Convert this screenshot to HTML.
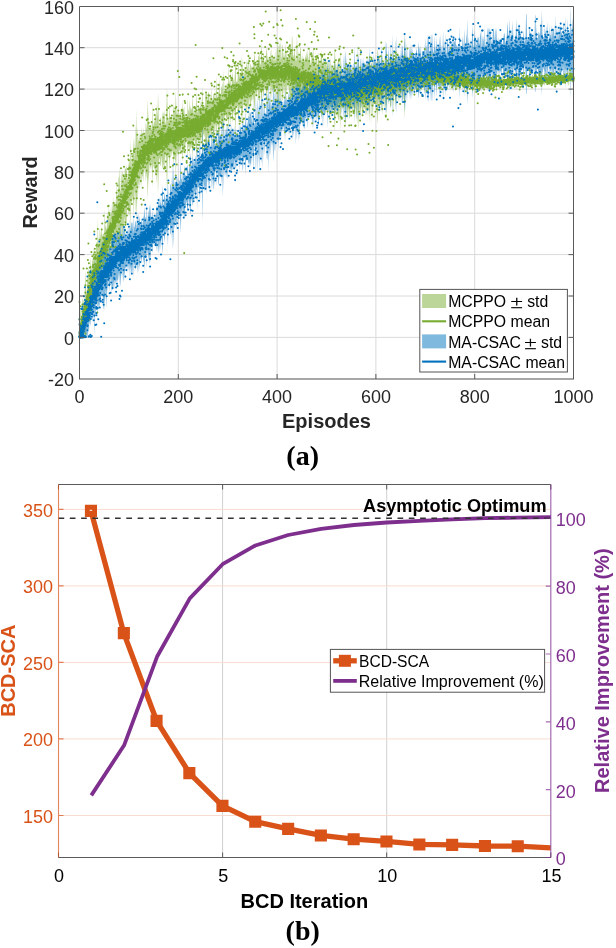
<!DOCTYPE html>
<html lang="en"><head><meta charset="utf-8"><title>Figure</title>
<style>html,body{margin:0;padding:0;background:#fff}body{width:616px;height:948px;overflow:hidden}svg{display:block}</style></head>
<body>
<svg width="616" height="948" viewBox="0 0 616 948" font-family="'Liberation Sans', Arial, Helvetica, sans-serif">
<rect width="616" height="948" fill="#fff"/>
<g id="chart-a">
<path d="M79.5,337.4H573.5M79.5,296H573.5M79.5,254.6H573.5M79.5,213.2H573.5M79.5,171.9H573.5M79.5,130.5H573.5M79.5,89.1H573.5M79.5,47.7H573.5M178.3,6.3V378.8M277.1,6.3V378.8M375.9,6.3V378.8M474.7,6.3V378.8" stroke="#dadada" stroke-width="1" fill="none"/>
<clipPath id="ca"><rect x="79.5" y="6.3" width="494.0" height="372.5"/></clipPath>
<g clip-path="url(#ca)">
<path d="M79.5,329.1 80,320.1 80.5,307.9 81,301 81.5,317.9 82,315.3 82.5,297.9 83,299.1 83.5,303.5 83.9,298.9 84.4,303.4 84.9,284.1 85.4,270.6 85.9,287.5 86.4,293.6 86.9,290.9 87.4,272.9 87.9,277.2 88.4,272 88.9,266.3 89.4,278.1 89.9,270.1 90.4,256.7 90.9,271 91.4,268.5 91.8,267.4 92.3,257.9 92.8,261.3 93.3,261.3 93.8,248.3 94.3,250.7 94.8,256.4 95.3,254.6 95.8,251.1 96.3,243.3 96.8,242 97.3,243.7 97.8,218.4 98.3,247.3 98.8,236.8 99.3,242.1 99.8,227.8 100.2,232 100.7,239.5 101.2,226.3 101.7,232 102.2,237.4 102.7,234.4 103.2,233.5 103.7,233.9 104.2,233.6 104.7,208.9 105.2,228.5 105.7,224 106.2,229.7 106.7,228 107.2,223.1 107.7,211.7 108.2,215.7 108.6,205.2 109.1,220.4 109.6,214.2 110.1,206.4 110.6,219.2 111.1,213.7 111.6,211 112.1,201 112.6,211.6 113.1,196.2 113.6,205.8 114.1,202.6 114.6,204.4 115.1,198.5 115.6,206.5 116.1,201 116.5,180.3 117,203 117.5,188.5 118,201.2 118.5,176.6 119,178.2 119.5,166.9 120,189.2 120.5,192.4 121,168.9 121.5,177.1 122,188.4 122.5,169.2 123,175.3 123.5,178.5 124,179.6 124.5,182.6 124.9,165.4 125.4,168.7 125.9,169.1 126.4,164.2 126.9,174.7 127.4,179.2 127.9,177.4 128.4,167.8 128.9,161.2 129.4,159.5 129.9,165 130.4,137.5 130.9,169.3 131.4,160.1 131.9,155.8 132.4,158.3 132.9,158.9 133.3,136.7 133.8,146.9 134.3,159.5 134.8,137.9 135.3,152.1 135.8,123.9 136.3,137.2 136.8,108 137.3,147.3 137.8,126.7 138.3,139 138.8,142.5 139.3,131.6 139.8,143.3 140.3,130.8 140.8,143.8 141.2,139.9 141.7,126.1 142.2,136.5 142.7,134.6 143.2,127.3 143.7,138.3 144.2,138.6 144.7,134.9 145.2,137.9 145.7,121.6 146.2,130.7 146.7,124.6 147.2,121.2 147.7,99 148.2,114.8 148.7,121 149.2,124.6 149.6,133.5 150.1,126.3 150.6,128.5 151.1,121.8 151.6,130.4 152.1,127.3 152.6,103.2 153.1,129.4 153.6,124.1 154.1,120.7 154.6,123.3 155.1,115.1 155.6,113.2 156.1,124.5 156.6,103.8 157.1,111.4 157.6,117.8 158,91.8 158.5,106.8 159,126.9 159.5,126.1 160,122.1 160.5,117.9 161,117.1 161.5,127 162,120.7 162.5,114.1 163,111.9 163.5,117.6 164,109.4 164.5,113.6 165,122.5 165.5,124.5 165.9,118.9 166.4,86.6 166.9,124.6 167.4,87.4 167.9,122.6 168.4,120.4 168.9,117.6 169.4,103.2 169.9,118 170.4,115.8 170.9,123.4 171.4,118.7 171.9,116 172.4,121.6 172.9,118.5 173.4,101.4 173.9,115.9 174.3,112.1 174.8,108.9 175.3,109.6 175.8,90.6 176.3,106.9 176.8,115.1 177.3,111.2 177.8,114.7 178.3,109.9 178.8,118.1 179.3,115.1 179.8,112.5 180.3,116.4 180.8,108.4 181.3,117.8 181.8,119.5 182.3,99.7 182.7,109.2 183.2,108.3 183.7,110.3 184.2,105.6 184.7,114.7 185.2,114.4 185.7,117.1 186.2,117.2 186.7,117.3 187.2,117.5 187.7,96.6 188.2,112.2 188.7,108.7 189.2,112 189.7,99.6 190.2,111.3 190.7,105.4 191.1,108.3 191.6,109.7 192.1,108 192.6,94.8 193.1,105.9 193.6,111.7 194.1,114.6 194.6,112.5 195.1,106 195.6,108.6 196.1,102.4 196.6,90.7 197.1,113.1 197.6,111.3 198.1,103.7 198.6,110 199,107 199.5,107.7 200,107.5 200.5,105.9 201,98.5 201.5,107 202,109.2 202.5,85 203,108 203.5,109 204,105 204.5,105.3 205,108.5 205.5,91.8 206,95 206.5,91.9 207,93.3 207.4,103.3 207.9,98 208.4,92.1 208.9,92.2 209.4,104.7 209.9,94.4 210.4,95.5 210.9,105 211.4,86.6 211.9,102.3 212.4,101.1 212.9,99.1 213.4,94.7 213.9,93.5 214.4,93.4 214.9,101.9 215.4,100 215.8,93.2 216.3,75 216.8,96.3 217.3,97.7 217.8,93.9 218.3,90.8 218.8,94.7 219.3,76.7 219.8,92.5 220.3,94.2 220.8,97 221.3,86.7 221.8,86.9 222.3,81.7 222.8,89.1 223.3,93.3 223.7,69.1 224.2,84.2 224.7,92.2 225.2,90.2 225.7,91.7 226.2,88.2 226.7,84.5 227.2,82.1 227.7,86.4 228.2,82.1 228.7,63.9 229.2,80.7 229.7,82.5 230.2,86.8 230.7,66.3 231.2,87 231.7,86.9 232.1,77.6 232.6,71.2 233.1,79 233.6,82.3 234.1,75.9 234.6,85 235.1,63 235.6,60.5 236.1,82.5 236.6,81.3 237.1,82.2 237.6,79.2 238.1,66.2 238.6,62.2 239.1,78.1 239.6,74.5 240.1,75.6 240.5,73 241,76.1 241.5,54.3 242,76.3 242.5,57.4 243,71.3 243.5,78 244,70.5 244.5,75.5 245,66.9 245.5,70.5 246,75 246.5,59.4 247,66.3 247.5,69.6 248,58.2 248.4,73.1 248.9,48.6 249.4,73.2 249.9,69.8 250.4,64 250.9,64.2 251.4,68.2 251.9,66.3 252.4,72 252.9,62.9 253.4,68.1 253.9,59.8 254.4,52.7 254.9,57.5 255.4,65.4 255.9,68.8 256.4,65.3 256.8,61 257.3,66.7 257.8,67.5 258.3,56.3 258.8,55.9 259.3,52.2 259.8,59.3 260.3,65.3 260.8,64.2 261.3,41 261.8,54.5 262.3,61.6 262.8,63.6 263.3,54.5 263.8,55.7 264.3,64.6 264.8,60.8 265.2,59.9 265.7,62.9 266.2,51.6 266.7,47.7 267.2,54.4 267.7,60 268.2,58 268.7,60.2 269.2,62.8 269.7,59 270.2,62.2 270.7,51.6 271.2,48.6 271.7,61.6 272.2,54 272.7,56 273.1,61.3 273.6,57.2 274.1,56.3 274.6,62.5 275.1,48.3 275.6,61.6 276.1,59.3 276.6,58 277.1,43.3 277.6,50.6 278.1,41.1 278.6,56.4 279.1,42.8 279.6,45.7 280.1,62 280.6,40.8 281.1,45.4 281.5,59 282,56.4 282.5,43.8 283,46.7 283.5,61.6 284,50.7 284.5,56 285,60.2 285.5,43.6 286,50.1 286.5,54.1 287,60.7 287.5,60.3 288,56.5 288.5,61.5 289,53.2 289.4,55.5 289.9,48.4 290.4,44.3 290.9,47.3 291.4,53.5 291.9,35.9 292.4,37.4 292.9,51.5 293.4,57.5 293.9,55.2 294.4,46 294.9,54.2 295.4,56.2 295.9,61.2 296.4,59.7 296.9,35 297.4,48 297.8,58.8 298.3,49.9 298.8,60.2 299.3,56.2 299.8,57.2 300.3,46.7 300.8,48.2 301.3,59 301.8,61.3 302.3,54.1 302.8,64 303.3,56.4 303.8,59.3 304.3,61.4 304.8,59.6 305.3,54.8 305.8,57.6 306.2,58 306.7,50.8 307.2,58.1 307.7,48.7 308.2,59.2 308.7,60.3 309.2,45.4 309.7,53.4 310.2,66.4 310.7,61.2 311.2,63.7 311.7,53.1 312.2,55.1 312.7,53.3 313.2,46.3 313.7,58.6 314.1,63.2 314.6,57.2 315.1,68.9 315.6,56.9 316.1,60.9 316.6,54.6 317.1,63.9 317.6,65.6 318.1,51.8 318.6,56.6 319.1,61.7 319.6,63.5 320.1,65.4 320.6,61.2 321.1,50.3 321.6,57.2 322.1,59.1 322.5,71.6 323,57.6 323.5,62.8 324,68.4 324.5,59.7 325,63.2 325.5,57.8 326,58.3 326.5,64.2 327,68.2 327.5,66.9 328,61.5 328.5,60.8 329,70.6 329.5,71.1 330,56.6 330.5,62.1 330.9,75.4 331.4,63.3 331.9,73.8 332.4,66.2 332.9,70.8 333.4,64.2 333.9,69.2 334.4,56.3 334.9,46.4 335.4,63.6 335.9,65.3 336.4,71.8 336.9,72.2 337.4,61 337.9,66.2 338.4,58.9 338.9,61.9 339.3,59.2 339.8,76.3 340.3,50.3 340.8,66.7 341.3,73.4 341.8,76.8 342.3,74.3 342.8,72.8 343.3,77.8 343.8,75.6 344.3,77 344.8,77.5 345.3,73.5 345.8,55.7 346.3,78.3 346.8,75.1 347.2,64 347.7,66 348.2,67.1 348.7,77.8 349.2,64.9 349.7,65.8 350.2,66.1 350.7,78.4 351.2,72.6 351.7,76.7 352.2,75.2 352.7,70 353.2,69.3 353.7,78 354.2,73.7 354.7,68.4 355.2,76.3 355.6,74.7 356.1,64.7 356.6,71.3 357.1,60.3 357.6,77.4 358.1,79.1 358.6,53.3 359.1,63.8 359.6,78.6 360.1,63.5 360.6,69.9 361.1,75.1 361.6,79.2 362.1,65.5 362.6,66.4 363.1,69.3 363.5,73.5 364,73.9 364.5,71.4 365,73.4 365.5,66.9 366,64 366.5,66.4 367,70.9 367.5,74 368,59.8 368.5,71.4 369,69.4 369.5,53.8 370,72 370.5,75.9 371,52.9 371.5,66.7 371.9,76.7 372.4,64.4 372.9,56.2 373.4,71.2 373.9,75.9 374.4,74.1 374.9,72.2 375.4,75.1 375.9,61.7 376.4,61.4 376.9,71 377.4,48.5 377.9,52.3 378.4,69.1 378.9,73.8 379.4,55.3 379.9,68.7 380.3,64.7 380.8,70 381.3,73.8 381.8,59 382.3,54.3 382.8,71.3 383.3,66.1 383.8,61.7 384.3,58 384.8,71.5 385.3,64.2 385.8,57.1 386.3,68 386.8,49.4 387.3,66.1 387.8,72 388.2,65.3 388.7,62.1 389.2,63.1 389.7,63 390.2,56.5 390.7,56.2 391.2,55.9 391.7,66.3 392.2,61.2 392.7,61.1 393.2,66.8 393.7,47.1 394.2,68.6 394.7,65.1 395.2,59.1 395.7,53.4 396.2,67 396.6,53.5 397.1,58.7 397.6,62.1 398.1,66.5 398.6,52.7 399.1,68.4 399.6,54.8 400.1,62 400.6,60.8 401.1,66.5 401.6,65.4 402.1,69 402.6,65.7 403.1,53.3 403.6,61 404.1,50.8 404.6,34.9 405,56.9 405.5,69.4 406,55.3 406.5,68.4 407,61 407.5,67.6 408,67.5 408.5,67.1 409,59.3 409.5,63.4 410,64.6 410.5,67.7 411,68.8 411.5,65.6 412,62.7 412.5,60.9 413,64.5 413.4,62.5 413.9,68.2 414.4,58.4 414.9,59.1 415.4,65.8 415.9,62.2 416.4,63.6 416.9,59.7 417.4,64 417.9,59.6 418.4,61 418.9,57.9 419.4,61.7 419.9,68 420.4,65.2 420.9,66.3 421.3,64.1 421.8,58.7 422.3,66 422.8,62.3 423.3,62.4 423.8,62.6 424.3,55.4 424.8,67.6 425.3,63.9 425.8,64.9 426.3,65.4 426.8,64.4 427.3,67.5 427.8,63.3 428.3,61.9 428.8,64.1 429.3,63.6 429.7,67.3 430.2,57 430.7,64.7 431.2,68.2 431.7,68.7 432.2,66 432.7,62.4 433.2,69.8 433.7,66.4 434.2,67.5 434.7,68.2 435.2,68.1 435.7,68.2 436.2,68.4 436.7,66.1 437.2,69.3 437.6,68.4 438.1,69.5 438.6,66.6 439.1,69.2 439.6,70 440.1,70.3 440.6,68 441.1,68.5 441.6,64.8 442.1,70 442.6,71.4 443.1,66.6 443.6,70.5 444.1,71.6 444.6,66.3 445.1,70.5 445.6,72.3 446,73.3 446.5,70.6 447,72 447.5,71.1 448,73.7 448.5,69.9 449,72.5 449.5,73 450,65 450.5,73.2 451,69.6 451.5,72.6 452,72.9 452.5,71.1 453,70.5 453.5,74.3 454,73 454.4,72.4 454.9,72.5 455.4,71.2 455.9,69.9 456.4,70.9 456.9,71.6 457.4,70.1 457.9,74.3 458.4,69.7 458.9,74.6 459.4,73.7 459.9,74.9 460.4,73.9 460.9,74.2 461.4,74.3 461.9,76.2 462.4,76.4 462.8,74.3 463.3,76.6 463.8,75.2 464.3,74.4 464.8,73.5 465.3,76.4 465.8,75 466.3,77 466.8,75 467.3,64.6 467.8,74.3 468.3,76 468.8,77.2 469.3,77.9 469.8,78.5 470.3,76.9 470.7,76.6 471.2,78.7 471.7,73.5 472.2,79.1 472.7,72.5 473.2,76.8 473.7,75.4 474.2,76.7 474.7,77.9 475.2,79.7 475.7,77.6 476.2,77.8 476.7,78.7 477.2,80.1 477.7,74.9 478.2,78.6 478.7,79.1 479.1,78 479.6,79 480.1,75.7 480.6,75.8 481.1,79.6 481.6,77.6 482.1,80.1 482.6,76.2 483.1,79.8 483.6,75.8 484.1,78.5 484.6,77.7 485.1,77.2 485.6,79.1 486.1,78 486.6,79.3 487,76.1 487.5,78.4 488,79.7 488.5,78.1 489,76.3 489.5,75.6 490,77 490.5,75.2 491,76 491.5,75.8 492,79.9 492.5,75.7 493,76.2 493.5,78.5 494,77.7 494.5,76.1 495,78.6 495.4,79.6 495.9,76.4 496.4,75.2 496.9,76.2 497.4,79.2 497.9,79.5 498.4,79.7 498.9,78.9 499.4,74.6 499.9,77.4 500.4,75.6 500.9,75.8 501.4,78.3 501.9,76.7 502.4,75.7 502.9,79.5 503.4,79.5 503.8,75.9 504.3,77.2 504.8,79.1 505.3,79.1 505.8,79.1 506.3,79.1 506.8,79.1 507.3,77.3 507.8,75.6 508.3,76 508.8,76.5 509.3,76.3 509.8,73.8 510.3,78.8 510.8,79.2 511.3,74.8 511.8,75.2 512.2,78.5 512.7,76.6 513.2,77.6 513.7,77.2 514.2,77.2 514.7,74 515.2,78.4 515.7,77.8 516.2,77.2 516.7,76.1 517.2,77.6 517.7,77.7 518.2,77.6 518.7,76.7 519.2,78.6 519.7,76 520.1,78.7 520.6,77.7 521.1,74.8 521.6,75.3 522.1,77.2 522.6,76.3 523.1,74.7 523.6,76.8 524.1,78 524.6,77.3 525.1,78.4 525.6,76.7 526.1,76 526.6,76.7 527.1,76.7 527.6,74.7 528.1,78 528.5,77 529,74.1 529.5,75.4 530,77.3 530.5,76.1 531,76.8 531.5,76.2 532,75.3 532.5,74.4 533,75.3 533.5,77.6 534,75.8 534.5,77.7 535,73.4 535.5,77 536,74.1 536.5,77.8 536.9,76.1 537.4,77.9 537.9,74.8 538.4,77.8 538.9,76.7 539.4,77.4 539.9,76.4 540.4,74.8 540.9,75.6 541.4,77.2 541.9,76.6 542.4,74.4 542.9,76.5 543.4,74.4 543.9,76.8 544.4,75.1 544.8,73.1 545.3,77.2 545.8,75.6 546.3,75.3 546.8,74.7 547.3,76.7 547.8,76.7 548.3,75.5 548.8,74.7 549.3,73.8 549.8,75.4 550.3,76.4 550.8,76.4 551.3,77.3 551.8,77 552.3,74 552.8,74.7 553.2,75.6 553.7,76.7 554.2,77 554.7,75.9 555.2,75.6 555.7,76.9 556.2,76.1 556.7,76.5 557.2,75.4 557.7,76.6 558.2,74.9 558.7,75.7 559.2,72.1 559.7,73.7 560.2,71.1 560.7,75.4 561.1,76.6 561.6,76.4 562.1,74.5 562.6,76.2 563.1,76.4 563.6,75 564.1,75 564.6,74.2 565.1,74.7 565.6,75.1 566.1,75.3 566.6,76.5 567.1,74.7 567.6,76.3 568.1,74.9 568.6,70.6 569.1,71.9 569.5,76.2 570,76 570.5,75.6 571,74.7 571.5,75.1 572,74.5 572.5,74.6 573,74.9 573.5,75.7 573.5,80.6 573,81.4 572.5,81.8 572,81.9 571.5,81.4 571,81.8 570.5,80.9 570,80.7 569.5,80.5 569.1,84.8 568.6,86.2 568.1,81.9 567.6,80.6 567.1,82.3 566.6,80.6 566.1,81.8 565.6,82 565.1,82.5 564.6,83.1 564.1,82.3 563.6,82.3 563.1,81 562.6,81.3 562.1,83 561.6,81.2 561.1,81.1 560.7,82.3 560.2,86.7 559.7,84.2 559.2,85.8 558.7,82.2 558.2,83.1 557.7,81.5 557.2,82.7 556.7,81.6 556.2,82.1 555.7,81.4 555.2,82.8 554.7,82.5 554.2,81.5 553.7,81.9 553.2,82.9 552.8,83.9 552.3,84.7 551.8,81.7 551.3,81.5 550.8,82.5 550.3,82.5 549.8,83.6 549.3,85.3 548.8,84.4 548.3,83.6 547.8,82.5 547.3,82.5 546.8,84.6 546.3,84.1 545.8,83.8 545.3,82.3 544.8,86.4 544.4,84.5 543.9,82.8 543.4,85.3 542.9,83.3 542.4,85.5 541.9,83.3 541.4,82.8 540.9,84.4 540.4,85.3 539.9,83.7 539.4,82.8 538.9,83.6 538.4,82.5 537.9,85.5 537.4,82.5 536.9,84.3 536.5,82.7 536,86.5 535.5,83.7 535,87.3 534.5,83.1 534,85 533.5,83.3 533,85.6 532.5,86.6 532,85.7 531.5,84.9 531,84.4 530.5,85.1 530,84 529.5,85.9 529,87.3 528.5,84.5 528.1,83.5 527.6,86.9 527.1,85 526.6,85 526.1,85.8 525.6,85.1 525.1,83.4 524.6,84.6 524.1,83.9 523.6,85.1 523.1,87.3 522.6,85.8 522.1,84.9 521.6,86.9 521.1,87.5 520.6,84.6 520.1,83.6 519.7,86.4 519.2,83.9 518.7,85.8 518.2,85 517.7,84.9 517.2,85.1 516.7,86.6 516.2,85.5 515.7,85.1 515.2,84.5 514.7,88.9 514.2,85.8 513.7,85.8 513.2,85.5 512.7,86.5 512.2,84.6 511.8,88 511.3,88.5 510.8,84.2 510.3,84.6 509.8,89.7 509.3,87.3 508.8,87 508.3,87.6 507.8,88.1 507.3,86.4 506.8,84.7 506.3,84.7 505.8,84.7 505.3,84.8 504.8,84.8 504.3,86.8 503.8,88.2 503.4,84.6 502.9,84.7 502.4,88.5 501.9,87.5 501.4,86 500.9,88.6 500.4,88.8 499.9,87.1 499.4,89.9 498.9,85.6 498.4,84.9 497.9,85.2 497.4,85.5 496.9,88.6 496.4,89.6 495.9,88.4 495.4,85.3 495,86.4 494.5,88.9 494,87.4 493.5,86.6 493,89 492.5,89.5 492,85.3 491.5,89.5 491,89.3 490.5,90.2 490,88.4 489.5,89.9 489,89.3 488.5,87.5 488,85.9 487.5,87.3 487,89.6 486.6,86.5 486.1,87.9 485.6,86.8 485.1,88.7 484.6,88.2 484.1,87.6 483.6,90.2 483.1,86.4 482.6,90 482.1,86.2 481.6,88.7 481.1,86.7 480.6,90.5 480.1,90.6 479.6,87.4 479.1,88.4 478.7,87.2 478.2,87.6 477.7,91.2 477.2,85.9 476.7,87.2 476.2,88 475.7,88 475.2,85.7 474.7,87.3 474.2,88.4 473.7,89.5 473.2,87.9 472.7,92.1 472.2,85.3 471.7,90.7 471.2,85.3 470.7,87.3 470.3,86.9 469.8,85.1 469.3,85.5 468.8,86.1 468.3,87.1 467.8,88.6 467.3,98.1 466.8,87.6 466.3,85.4 465.8,87.2 465.3,85.7 464.8,88.4 464.3,87.4 463.8,86.4 463.3,84.8 462.8,87 462.4,84.7 461.9,84.7 461.4,86.5 460.9,86.4 460.4,86.6 459.9,85.4 459.4,86.4 458.9,85.3 458.4,90.1 457.9,85.3 457.4,89.4 456.9,87.7 456.4,88.2 455.9,89 455.4,87.6 454.9,86.1 454.4,86 454,85.3 453.5,83.9 453,87.5 452.5,86.7 452,84.7 451.5,84.8 451,87.6 450.5,83.9 450,91.9 449.5,83.7 449,84 448.5,86.4 448,82.4 447.5,84.8 447,83.7 446.5,84.9 446,82.1 445.6,82.9 445.1,84.4 444.6,88.5 444.1,83 443.6,83.9 443.1,87.6 442.6,82.6 442.1,83.8 441.6,88.8 441.1,84.9 440.6,85.2 440.1,82.7 439.6,82.8 439.1,83.4 438.6,85.9 438.1,82.7 437.6,83.7 437.2,82.5 436.7,85.6 436.2,83.1 435.7,83.1 435.2,83 434.7,82.8 434.2,83.2 433.7,84.1 433.2,80.6 432.7,87.8 432.2,84 431.7,81.1 431.2,81.4 430.7,84.8 430.2,92.4 429.7,82.1 429.3,85.8 428.8,85.4 428.3,87.6 427.8,86.3 427.3,82.2 426.8,85.4 426.3,84.5 425.8,85 425.3,86.1 424.8,82.5 424.3,94.8 423.8,87.6 423.3,87.9 422.8,88.1 422.3,84.4 421.8,91.8 421.3,86.5 420.9,84.4 420.4,85.6 419.9,82.9 419.4,89.3 418.9,93.1 418.4,90.2 417.9,91.6 417.4,87.3 416.9,91.8 416.4,88 415.9,89.5 415.4,86.1 414.9,93 414.4,93.8 413.9,84.1 413.4,90.1 413,88.2 412.5,91.9 412,90.3 411.5,87.5 411,84.6 410.5,85.8 410,89 409.5,90.4 409,94.7 408.5,87 408,86.8 407.5,86.9 407,93.6 406.5,86.3 406,99.6 405.5,85.7 405,98.4 404.6,120.5 404.1,104.7 403.6,94.7 403.1,102.6 402.6,90.3 402.1,87.2 401.6,91 401.1,90 400.6,95.8 400.1,94.8 399.6,102.2 399.1,88.8 398.6,104.8 398.1,91.2 397.6,95.8 397.1,99.6 396.6,105.1 396.2,91.9 395.7,105.9 395.2,100.5 394.7,94.9 394.2,91.8 393.7,113.6 393.2,94.3 392.7,100.3 392.2,100.6 391.7,95.9 391.2,106.6 390.7,106.7 390.2,106.8 389.7,100.6 389.2,100.9 388.7,102.2 388.2,99.4 387.8,93.1 387.3,99.3 386.8,116.3 386.3,98.2 385.8,109.4 385.3,102.6 384.8,95.7 384.3,109.6 383.8,106.3 383.3,102.2 382.8,97.4 382.3,114.7 381.8,110.4 381.3,95.9 380.8,100.1 380.3,105.8 379.9,102.1 379.4,115.9 378.9,97.8 378.4,102.8 377.9,119.9 377.4,124.1 376.9,101.9 376.4,111.8 375.9,111.8 375.4,98.7 374.9,101.9 374.4,100.3 373.9,98.8 373.4,103.8 372.9,119.2 372.4,111.2 371.9,99.3 371.5,109.6 371,123.7 370.5,101 370,105.3 369.5,123.7 369,108.5 368.5,106.7 368,118.7 367.5,104.8 367,108.2 366.5,113 366,115.7 365.5,113.1 365,106.9 364.5,109.3 364,107 363.5,107.8 363.1,112.3 362.6,115.5 362.1,116.7 361.6,103.3 361.1,107.7 360.6,113.2 360.1,119.9 359.6,105 359.1,120 358.6,130.6 358.1,105 357.6,106.7 357.1,123.9 356.6,112.8 356.1,119.4 355.6,109.3 355.2,107.6 354.7,115.5 354.2,110.2 353.7,105.8 353.2,114.4 352.7,113.7 352.2,108.4 351.7,106.8 351.2,110.8 350.7,105 350.2,117.3 349.7,117.5 349.2,118.4 348.7,105.4 348.2,116.1 347.7,117.1 347.2,119 346.8,107.8 346.3,104.6 345.8,127.2 345.3,109.2 344.8,105.2 344.3,105.7 343.8,106.9 343.3,104.7 342.8,109.6 342.3,108 341.8,105.4 341.3,108.6 340.8,115.1 340.3,131.3 339.8,105 339.3,121.8 338.9,118.8 338.4,121.5 337.9,113.8 337.4,118.7 336.9,107.1 336.4,107.2 335.9,113.4 335.4,114.7 334.9,131.7 334.4,121.4 333.9,108.2 333.4,112.9 332.9,105.9 332.4,110.2 331.9,102.3 331.4,112.5 330.9,100 330.5,113 330,118.2 329.5,103.4 329,103.6 328.5,113 328,112 327.5,106.3 327,104.5 326.5,108.2 326,113.8 325.5,113.8 325,108.1 324.5,111.1 324,102.1 323.5,107.3 323,112.1 322.5,97.7 322.1,109.8 321.6,111.3 321.1,117.8 320.6,106.5 320.1,101.9 319.6,103.4 319.1,104.8 318.6,109.5 318.1,113.9 317.6,99.8 317.1,101 316.6,109.9 316.1,103.3 315.6,106.8 315.1,94.5 314.6,105.8 314.1,99.4 313.7,103.7 313.2,115.6 312.7,108.2 312.2,106.1 311.7,107.7 311.2,96.7 310.7,98.8 310.2,93.2 309.7,105.8 309.2,113.5 308.7,98.1 308.2,98.9 307.7,109 307.2,99.3 306.7,106.3 306.2,98.7 305.8,98.8 305.3,101.2 304.8,96.2 304.3,94.1 303.8,95.8 303.3,98.5 302.8,90.5 302.3,100.1 301.8,92.6 301.3,94.6 300.8,105.1 300.3,106.3 299.8,95.5 299.3,96.1 298.8,91.8 298.3,101.8 297.8,92.6 297.4,103.1 296.9,115.7 296.4,90.8 295.9,89 295.4,93.7 294.9,95.4 294.4,103.3 293.9,93.8 293.4,91.2 292.9,96.9 292.4,110.7 291.9,111.9 291.4,94.1 290.9,99.9 290.4,102.6 289.9,98.2 289.4,90.8 289,93 288.5,84.5 288,89.3 287.5,85.4 287,84.9 286.5,91.5 286,95.4 285.5,101.9 285,85.4 284.5,89.6 284,95 283.5,84.1 283,98.9 282.5,101.9 282,89.3 281.5,86.7 281.1,100.4 280.6,105 280.1,83.8 279.6,100.1 279.1,103.1 278.6,89.5 278.1,104.8 277.6,95.4 277.1,102.8 276.6,88.1 276.1,87 275.6,84.7 275.1,98.1 274.6,83.9 274.1,90.3 273.6,89.5 273.1,85.4 272.7,90.9 272.2,92.9 271.7,85.4 271.2,98.5 270.7,95.6 270.2,85 269.7,88.4 269.2,84.7 268.7,87.6 268.2,90 267.7,88.3 267.2,94.2 266.7,101.2 266.2,97.8 265.7,86.8 265.2,90.2 264.8,89.7 264.3,86.3 263.8,95.6 263.3,97.3 262.8,88.5 262.3,90.9 261.8,98.5 261.3,112.3 260.8,89.5 260.3,88.9 259.8,95.3 259.3,103 258.8,99.9 258.3,100.1 257.8,89.6 257.3,91.1 256.8,97.6 256.4,94.1 255.9,91.5 255.4,95.7 254.9,104.4 254.4,110.1 253.9,103.8 253.4,96.4 252.9,102.3 252.4,94.1 251.9,100.6 251.4,99.6 250.9,104.5 250.4,105.4 249.9,100.4 249.4,97.8 248.9,123.1 248.4,99.3 248,114.9 247.5,104.2 247,108.2 246.5,115.7 246,100.7 245.5,105.8 245,110.1 244.5,102.1 244,107.7 243.5,100.8 243,108.2 242.5,122.7 242,104.5 241.5,127.1 241,106 240.5,109.6 240.1,107.8 239.6,109.5 239.1,106.5 238.6,123.2 238.1,119.9 237.6,107.6 237.1,105.4 236.6,107 236.1,106.5 235.6,129.2 235.1,127.4 234.6,106.2 234.1,116.1 233.6,110.4 233.1,114.4 232.6,122.9 232.1,117.3 231.7,108.7 231.2,109.4 230.7,130.8 230.2,111.1 229.7,116.2 229.2,118.9 228.7,136.5 228.2,119.3 227.7,115.9 227.2,121.1 226.7,119.7 226.2,116.9 225.7,114.3 225.2,116.8 224.7,115.7 224.2,124.6 223.7,140.7 223.3,117.4 222.8,122.6 222.3,130.9 221.8,126.7 221.3,127.8 220.8,118.4 220.3,122.2 219.8,124.7 219.3,141.4 218.8,124.3 218.3,129.1 217.8,126.8 217.3,123.8 216.8,126.1 216.3,148.2 215.8,130.8 215.4,124.9 214.9,123.8 214.4,133.2 213.9,133.9 213.4,133.5 212.9,129.9 212.4,128.8 211.9,128.4 211.4,144.9 210.9,127.3 210.4,137.6 209.9,139.4 209.4,129.8 208.9,143.1 208.4,143.9 207.9,138.7 207.4,134 207,144.7 206.5,146.7 206,144.3 205.5,148.1 205,132.1 204.5,136 204,136.9 203.5,133.6 203,135.3 202.5,158.9 202,135.4 201.5,138.2 201,147.4 200.5,140.6 200,139.7 199.5,140.1 199,141.3 198.6,138.9 198.1,145.7 197.6,138.7 197.1,137.3 196.6,160.1 196.1,148.9 195.6,143.1 195.1,146.1 194.6,139.9 194.1,138.3 193.6,141.6 193.1,147.7 192.6,159.3 192.1,146.5 191.6,145.3 191.1,147 190.7,150.4 190.2,144.8 189.7,156.9 189.2,144.9 188.7,148.6 188.2,145.6 187.7,161.6 187.2,141 186.7,141.7 186.2,142.2 185.7,142.7 185.2,145.8 184.7,145.9 184.2,155.4 183.7,151.1 183.2,153.5 182.7,153 182.3,162.9 181.8,143.6 181.3,145.6 180.8,155.4 180.3,147.9 179.8,152.2 179.3,150 178.8,147.4 178.3,156.1 177.8,151.7 177.3,155.7 176.8,152.3 176.3,161 175.8,177.7 175.3,159.2 174.8,160.5 174.3,157.8 173.9,154.4 173.4,169.4 172.9,152.8 172.4,150.2 171.9,156.3 171.4,154 170.9,149.8 170.4,158 169.9,156.2 169.4,171.5 168.9,157.6 168.4,155.3 167.9,153.6 167.4,189.2 166.9,152.6 166.4,191.1 165.9,159.3 165.5,154.1 165,156.6 164.5,166 164,170.7 163.5,163 163,169.2 162.5,167.5 162,161.4 161.5,155.6 161,165.9 160.5,165.7 160,161.9 159.5,158.4 159,158.1 158.5,178.7 158,194.3 157.6,168.7 157.1,175.6 156.6,183.7 156.1,163.5 155.6,175.4 155.1,173.9 154.6,166.3 154.1,169.3 153.6,166.5 153.1,161.6 152.6,188.3 152.1,164.7 151.6,162.2 151.1,171.5 150.6,165.5 150.1,168.5 149.6,162.1 149.2,172 148.7,176.5 148.2,183.8 147.7,200.7 147.2,179.6 146.7,177.3 146.2,172.4 145.7,182.6 145.2,167.5 144.7,171.6 144.2,169 143.7,170.5 143.2,182.6 142.7,176.4 142.2,175.6 141.7,187.2 141.2,174.8 140.8,172.5 140.3,187.1 139.8,176.4 139.3,190.1 138.8,181.3 138.3,187.1 137.8,201.9 137.3,183.8 136.8,225.7 136.3,199 135.8,214.9 135.3,189.3 134.8,206.1 134.3,187.2 133.8,202.4 133.3,215.4 132.9,196 132.4,199.3 131.9,204.5 131.4,203.1 130.9,196.6 130.4,231.2 129.9,206.5 129.4,214.7 128.9,215.9 128.4,212 127.9,205.1 127.4,205.8 126.9,212.9 126.4,225.8 125.9,223.3 125.4,226.1 124.9,231.6 124.5,216.6 124,221.7 123.5,225 123,230.4 122.5,238.7 122,221.6 121.5,235.1 121,245.5 120.5,224.1 120,229.5 119.5,254 119,245 118.5,248.8 118,226.4 117.5,241.5 117,229.2 116.5,254.3 116.1,236 115.6,232.8 115.1,243.1 114.6,239.7 114.1,243.8 113.6,242.9 113.1,255 112.6,241.9 112.1,254.9 111.6,247.3 111.1,247 110.6,243.8 110.1,259.1 109.6,253.6 109.1,249.9 108.6,267.5 108.2,259.4 107.7,265.8 107.2,256.9 106.7,254.4 106.2,255.1 105.7,263.2 105.2,261.2 104.7,283.1 104.2,260.9 103.7,263 103.2,265.9 102.7,267.3 102.2,266.8 101.7,274.7 101.2,282.9 100.7,272.3 100.2,282.3 99.8,289.1 99.3,277.3 98.8,285.2 98.3,277.3 97.8,308.9 97.3,286.2 96.8,290.4 96.3,291.7 95.8,286.5 95.3,285.6 94.8,286.6 94.3,295.2 93.8,300.6 93.3,290.7 92.8,294.1 92.3,301.1 91.8,295.3 91.4,298 90.9,299.5 90.4,317.8 89.9,308.5 89.4,304.5 88.9,320.5 88.4,318.9 87.9,318.2 87.4,327.2 86.9,314 86.4,316.1 85.9,327.1 85.4,338.7 84.9,338.7 84.4,325.8 83.9,334.8 83.5,334.9 83,338.7 82.5,338.7 82,336.8 81.5,338.7 81,338.7 80.5,338.7 80,338.7 79.5,338.7Z" fill="#77ac30" fill-opacity="0.5"/>
<path d="M79.5,329.4 80,323.9 80.5,322.5 81,323.2 81.5,318.6 82,313.6 82.5,315.7 83,316.1 83.5,310.5 83.9,310.4 84.4,311.3 84.9,310.2 85.4,304.5 85.9,297.8 86.4,297.7 86.9,295.5 87.4,289.1 87.9,294 88.4,295.6 88.9,286.6 89.4,297.3 89.9,291.4 90.4,287.4 90.9,292.7 91.4,291.6 91.8,291 92.3,287.7 92.8,276.7 93.3,284.7 93.8,276.2 94.3,256.8 94.8,281.8 95.3,275.9 95.8,266.3 96.3,278.8 96.8,275.6 97.3,277.1 97.8,256.3 98.3,269.5 98.8,263.7 99.3,259.8 99.8,264 100.2,266.4 100.7,259.6 101.2,265.5 101.7,265 102.2,258.5 102.7,263.7 103.2,243.3 103.7,243.3 104.2,251.3 104.7,235.8 105.2,256.3 105.7,250 106.2,233.9 106.7,245.3 107.2,254.9 107.7,245.1 108.2,256.1 108.6,252.9 109.1,241.8 109.6,248.1 110.1,248.1 110.6,250.4 111.1,252.3 111.6,235.5 112.1,237.7 112.6,235.8 113.1,236.4 113.6,241.3 114.1,231.6 114.6,239.7 115.1,239.1 115.6,233.2 116.1,238.8 116.5,234.4 117,231.7 117.5,235 118,232.6 118.5,236.2 119,239.6 119.5,234.6 120,223 120.5,226.4 121,233.7 121.5,238 122,229.4 122.5,240.3 123,223.7 123.5,225.9 124,236.6 124.5,223.7 124.9,230.4 125.4,235.5 125.9,234 126.4,238.9 126.9,231.1 127.4,236.8 127.9,226.9 128.4,236.5 128.9,226.5 129.4,234.5 129.9,219 130.4,227.7 130.9,230.6 131.4,222.4 131.9,222.8 132.4,222.2 132.9,228.5 133.3,233.4 133.8,214.9 134.3,227.1 134.8,227.6 135.3,221.9 135.8,220.2 136.3,229.7 136.8,220.3 137.3,225.2 137.8,212.4 138.3,228.3 138.8,213.3 139.3,218 139.8,219.9 140.3,225.2 140.8,224.3 141.2,217.7 141.7,221.8 142.2,222.1 142.7,226.3 143.2,215.2 143.7,219.5 144.2,206.5 144.7,213.3 145.2,218.5 145.7,216.4 146.2,224.9 146.7,204.8 147.2,218 147.7,222.5 148.2,209.1 148.7,217.5 149.2,204.6 149.6,208 150.1,218.7 150.6,203.7 151.1,214.9 151.6,217.5 152.1,218.8 152.6,209.9 153.1,218.7 153.6,217.5 154.1,218.9 154.6,217.3 155.1,218.2 155.6,214.3 156.1,214.2 156.6,208.9 157.1,202.9 157.6,214.7 158,209 158.5,202.5 159,196.3 159.5,209.3 160,196.9 160.5,202.4 161,203.9 161.5,207.6 162,194.1 162.5,184.9 163,202.9 163.5,206.8 164,199.9 164.5,191.7 165,196.7 165.5,199 165.9,200.7 166.4,194.2 166.9,197.2 167.4,194.3 167.9,178.5 168.4,195.6 168.9,200.2 169.4,196.1 169.9,195.9 170.4,185 170.9,183.5 171.4,193.7 171.9,176.9 172.4,187.3 172.9,163.7 173.4,172.6 173.9,186.6 174.3,180.3 174.8,188.9 175.3,185 175.8,183.4 176.3,173.9 176.8,184.5 177.3,189.7 177.8,176.4 178.3,179.8 178.8,187.6 179.3,179.8 179.8,181.5 180.3,172.2 180.8,159.7 181.3,178.5 181.8,179.2 182.3,182.7 182.7,172.9 183.2,171.6 183.7,177.1 184.2,165.4 184.7,169.2 185.2,175.7 185.7,174.3 186.2,178.3 186.7,176.3 187.2,166.4 187.7,164.4 188.2,172.8 188.7,175 189.2,161 189.7,169.4 190.2,152.8 190.7,156.8 191.1,163.7 191.6,167.7 192.1,159.1 192.6,155.5 193.1,165.4 193.6,159.6 194.1,157.9 194.6,164.8 195.1,159.7 195.6,154.9 196.1,162 196.6,159.3 197.1,137.7 197.6,160.1 198.1,158.5 198.6,158.3 199,156 199.5,148.1 200,139.8 200.5,159.4 201,156.8 201.5,158.3 202,151.8 202.5,115.8 203,157.8 203.5,151.4 204,143.8 204.5,145.6 205,148.2 205.5,140.5 206,146 206.5,136 207,149.3 207.4,145.8 207.9,152.5 208.4,136.2 208.9,147.5 209.4,132 209.9,147.8 210.4,144.6 210.9,149.4 211.4,131 211.9,149.5 212.4,142.7 212.9,132.5 213.4,129 213.9,141 214.4,131.6 214.9,145.3 215.4,146.7 215.8,147.1 216.3,146.9 216.8,128.7 217.3,143.6 217.8,140.4 218.3,129.1 218.8,129.6 219.3,136.1 219.8,136.7 220.3,134.6 220.8,135 221.3,126.7 221.8,139.3 222.3,142.6 222.8,112.2 223.3,124.2 223.7,141.6 224.2,129.1 224.7,140.9 225.2,139 225.7,128.5 226.2,132.7 226.7,127.1 227.2,123.8 227.7,132 228.2,140 228.7,133.7 229.2,127.5 229.7,137.5 230.2,128.2 230.7,131.8 231.2,130.4 231.7,125 232.1,137.1 232.6,128.3 233.1,128.8 233.6,133.9 234.1,125.4 234.6,137 235.1,136.6 235.6,128.6 236.1,128.8 236.6,135.4 237.1,136.3 237.6,131.7 238.1,134.2 238.6,135.9 239.1,122.3 239.6,134.5 240.1,127.7 240.5,127.3 241,125.1 241.5,134.5 242,132.4 242.5,119.4 243,117 243.5,130.7 244,128.1 244.5,129.6 245,123.4 245.5,109.1 246,128.3 246.5,126.2 247,120.3 247.5,126.2 248,120.5 248.4,116.6 248.9,116.2 249.4,117.7 249.9,110.9 250.4,112.9 250.9,114 251.4,122.3 251.9,110.6 252.4,120.6 252.9,125.1 253.4,100 253.9,121.6 254.4,125.4 254.9,124.8 255.4,118.7 255.9,97.3 256.4,112.4 256.8,123.7 257.3,120.4 257.8,94.2 258.3,113.8 258.8,110 259.3,95.4 259.8,120.8 260.3,120 260.8,103.9 261.3,99.8 261.8,120.4 262.3,118.5 262.8,91.9 263.3,108.1 263.8,119.2 264.3,113.1 264.8,102.2 265.2,116.5 265.7,113.4 266.2,114.1 266.7,97.3 267.2,94.1 267.7,100.5 268.2,114.5 268.7,78.9 269.2,106.3 269.7,93.4 270.2,112.6 270.7,94.1 271.2,103.7 271.7,107.9 272.2,101.5 272.7,107.9 273.1,84.2 273.6,90.8 274.1,109.7 274.6,94.2 275.1,92 275.6,101.6 276.1,110 276.6,93.1 277.1,107.5 277.6,96 278.1,105 278.6,87 279.1,101.7 279.6,100.5 280.1,97.4 280.6,107.3 281.1,95.5 281.5,106.7 282,102.2 282.5,106.4 283,106.4 283.5,105.8 284,98.4 284.5,102.5 285,89.3 285.5,99.4 286,101.9 286.5,95.2 287,101.9 287.5,100.5 288,103.3 288.5,91.8 289,96.8 289.4,99 289.9,89.3 290.4,100.5 290.9,99.9 291.4,99.7 291.9,94.3 292.4,81.4 292.9,93.3 293.4,90.6 293.9,83 294.4,93.2 294.9,91.7 295.4,90.6 295.9,71.9 296.4,94.8 296.9,76.2 297.4,89.2 297.8,83.6 298.3,93 298.8,73.7 299.3,77.3 299.8,87.3 300.3,91.9 300.8,85.8 301.3,90.3 301.8,90.2 302.3,87.6 302.8,85.3 303.3,80.6 303.8,87.2 304.3,78.6 304.8,79.6 305.3,88.2 305.8,88.7 306.2,86.2 306.7,91.7 307.2,75.8 307.7,85.4 308.2,90.3 308.7,90.2 309.2,85.6 309.7,85.5 310.2,81.8 310.7,88.4 311.2,78.7 311.7,87.2 312.2,79.5 312.7,69.7 313.2,87.3 313.7,69.6 314.1,76.8 314.6,82.7 315.1,84.5 315.6,80.3 316.1,70.4 316.6,83.2 317.1,73.8 317.6,81.8 318.1,68.6 318.6,65.1 319.1,81.1 319.6,81.6 320.1,77.1 320.6,84.4 321.1,80.3 321.6,69.9 322.1,75.5 322.5,73.6 323,59.3 323.5,77.3 324,73.8 324.5,73 325,71.6 325.5,77.7 326,82.3 326.5,82.1 327,74.9 327.5,55.4 328,76.5 328.5,72.1 329,79.7 329.5,58.2 330,75.7 330.5,76.5 330.9,71.2 331.4,74.1 331.9,63.1 332.4,75.2 332.9,68.2 333.4,78.7 333.9,78.9 334.4,57.5 334.9,75.1 335.4,71.1 335.9,70.8 336.4,72.5 336.9,63.1 337.4,72.7 337.9,71.6 338.4,74.3 338.9,76.3 339.3,70.8 339.8,78.1 340.3,74.4 340.8,72.5 341.3,77.5 341.8,60.4 342.3,74.6 342.8,77.2 343.3,73.4 343.8,54.6 344.3,72.5 344.8,56.6 345.3,49.9 345.8,68.3 346.3,71.2 346.8,56 347.2,69.6 347.7,64.7 348.2,67.5 348.7,68.6 349.2,60.4 349.7,74.7 350.2,63.9 350.7,63.9 351.2,72.8 351.7,67.2 352.2,64.9 352.7,74.5 353.2,72.7 353.7,62.6 354.2,64.9 354.7,46.8 355.2,68.1 355.6,68.3 356.1,64.3 356.6,71.7 357.1,45.1 357.6,67.5 358.1,67.1 358.6,51.1 359.1,71.4 359.6,72.4 360.1,70.3 360.6,59.2 361.1,58.6 361.6,70 362.1,62.5 362.6,64.6 363.1,56.9 363.5,65 364,66.2 364.5,61.5 365,71.7 365.5,67.2 366,59.5 366.5,68.5 367,57.7 367.5,61.6 368,70.5 368.5,56.7 369,65.7 369.5,47.9 370,63 370.5,67.4 371,66.7 371.5,62.7 371.9,64.5 372.4,70.1 372.9,67.1 373.4,62.8 373.9,53.7 374.4,60.7 374.9,62.3 375.4,61.8 375.9,63.2 376.4,64.4 376.9,64.7 377.4,63.7 377.9,58.6 378.4,63.1 378.9,51.8 379.4,63.2 379.9,58.1 380.3,67.9 380.8,59 381.3,56.2 381.8,45.8 382.3,62 382.8,63.5 383.3,66.9 383.8,60.4 384.3,64.5 384.8,66.8 385.3,58.1 385.8,41.8 386.3,43.7 386.8,51.9 387.3,60.6 387.8,64.3 388.2,55 388.7,47.8 389.2,62.4 389.7,64.9 390.2,42.5 390.7,60.9 391.2,60.9 391.7,60 392.2,33.9 392.7,62.7 393.2,58.8 393.7,50.6 394.2,60.9 394.7,60.3 395.2,59.1 395.7,43.4 396.2,36.3 396.6,64 397.1,54.2 397.6,61.3 398.1,52.9 398.6,58 399.1,63 399.6,56.2 400.1,54.3 400.6,58.5 401.1,43.4 401.6,58.8 402.1,46.6 402.6,45.2 403.1,55.5 403.6,57.6 404.1,54.4 404.6,41.2 405,34.1 405.5,48.4 406,61.8 406.5,54.3 407,42.1 407.5,59.7 408,58.5 408.5,56.4 409,59.9 409.5,46.2 410,53.8 410.5,50.3 411,43.6 411.5,54.5 412,47.1 412.5,52.5 413,52.1 413.4,60.4 413.9,52.3 414.4,57.6 414.9,56.7 415.4,54 415.9,52.5 416.4,48.3 416.9,51.1 417.4,58.8 417.9,53.3 418.4,41.5 418.9,48.9 419.4,47.1 419.9,53.6 420.4,52.5 420.9,44.7 421.3,59 421.8,56.6 422.3,53.1 422.8,55.6 423.3,52 423.8,56.2 424.3,49.7 424.8,47 425.3,37.7 425.8,56.2 426.3,47.7 426.8,46 427.3,34.4 427.8,52 428.3,34.5 428.8,39.8 429.3,52.7 429.7,55.7 430.2,53.6 430.7,33.9 431.2,51.5 431.7,34.8 432.2,34.6 432.7,49.3 433.2,51.3 433.7,54.3 434.2,35.2 434.7,47 435.2,48.8 435.7,51.4 436.2,36.8 436.7,46.7 437.2,45.6 437.6,54.4 438.1,47.5 438.6,46.1 439.1,46.7 439.6,41 440.1,34.4 440.6,44.3 441.1,52.9 441.6,44.5 442.1,54.7 442.6,47.7 443.1,30.1 443.6,48.2 444.1,40 444.6,48.4 445.1,50 445.6,32.8 446,52.4 446.5,54.2 447,42.1 447.5,39.8 448,47.3 448.5,52.9 449,41.3 449.5,46.5 450,50.1 450.5,48.5 451,43.1 451.5,42.8 452,48.9 452.5,36.8 453,52.7 453.5,35.6 454,43.5 454.4,40.3 454.9,42.1 455.4,36.6 455.9,44.3 456.4,46.8 456.9,44.5 457.4,46.7 457.9,47.4 458.4,46.7 458.9,44.9 459.4,26.8 459.9,49.6 460.4,49.3 460.9,43.1 461.4,50.6 461.9,48.8 462.4,41.4 462.8,35.7 463.3,51.1 463.8,39.4 464.3,28.9 464.8,46 465.3,43.1 465.8,44.5 466.3,37.3 466.8,33.9 467.3,19.3 467.8,47.4 468.3,50.4 468.8,36.9 469.3,43.2 469.8,47.9 470.3,38.5 470.7,49.8 471.2,48.8 471.7,42.3 472.2,33.1 472.7,25.4 473.2,47.5 473.7,45.9 474.2,40.9 474.7,29.7 475.2,50.2 475.7,34.8 476.2,44.5 476.7,45.1 477.2,36.1 477.7,40.6 478.2,36.8 478.7,38.2 479.1,44.8 479.6,42.7 480.1,32.1 480.6,36.8 481.1,28.5 481.6,46.5 482.1,46.8 482.6,35.2 483.1,41.1 483.6,36.1 484.1,46.9 484.6,26.3 485.1,46.4 485.6,44.7 486.1,35.1 486.6,45.5 487,45.7 487.5,27.1 488,31.5 488.5,26.9 489,44.4 489.5,28.1 490,29.3 490.5,33.2 491,46.6 491.5,38.1 492,45.6 492.5,40.1 493,27.7 493.5,30 494,31.2 494.5,38.3 495,44 495.4,32.4 495.9,28.2 496.4,30.6 496.9,40.4 497.4,45.4 497.9,37.7 498.4,45.2 498.9,36.4 499.4,43.3 499.9,38.8 500.4,40.7 500.9,42.4 501.4,37.6 501.9,43 502.4,43.7 502.9,44.6 503.4,33.3 503.8,39.3 504.3,33.3 504.8,33.3 505.3,43.8 505.8,42.4 506.3,39.2 506.8,35 507.3,27.4 507.8,20.9 508.3,40.1 508.8,36.3 509.3,18.6 509.8,32.6 510.3,33.2 510.8,41.3 511.3,41.7 511.8,27.1 512.2,38.8 512.7,20.2 513.2,33.4 513.7,43 514.2,38.6 514.7,40.3 515.2,38.9 515.7,34.7 516.2,18.5 516.7,30.4 517.2,40.3 517.7,38.7 518.2,22.5 518.7,29.8 519.2,29.5 519.7,23.4 520.1,35.3 520.6,33.5 521.1,37.4 521.6,38.3 522.1,41.1 522.6,38.3 523.1,40.8 523.6,30.5 524.1,36.7 524.6,42.5 525.1,41.6 525.6,35 526.1,13.7 526.6,14.5 527.1,37.5 527.6,40.5 528.1,38.6 528.5,36.8 529,38.7 529.5,27 530,31.4 530.5,34.4 531,38.4 531.5,31.9 532,37.2 532.5,41.3 533,31.5 533.5,37.8 534,41.2 534.5,37.5 535,15.2 535.5,15.4 536,40.4 536.5,24.7 536.9,36.6 537.4,40.3 537.9,36.9 538.4,32.7 538.9,31.8 539.4,34.6 539.9,35 540.4,26.9 540.9,23.3 541.4,25.6 541.9,9.9 542.4,34 542.9,35.5 543.4,39.5 543.9,36.5 544.4,35.3 544.8,25.8 545.3,34.9 545.8,30.3 546.3,26.1 546.8,40.2 547.3,34.7 547.8,21 548.3,40.7 548.8,39.4 549.3,39.2 549.8,25.4 550.3,35.3 550.8,34.4 551.3,38.4 551.8,24.1 552.3,37.1 552.8,27.8 553.2,29.8 553.7,28.5 554.2,38.2 554.7,35.2 555.2,15.3 555.7,40.7 556.2,24.5 556.7,38.6 557.2,40.7 557.7,27.1 558.2,39.3 558.7,30.8 559.2,24.1 559.7,36.1 560.2,25.6 560.7,27.5 561.1,33.5 561.6,30.7 562.1,34.4 562.6,34.5 563.1,40.2 563.6,21.8 564.1,27.9 564.6,38.3 565.1,15.5 565.6,34.3 566.1,36.1 566.6,31.3 567.1,33.1 567.6,18.2 568.1,35.1 568.6,37.1 569.1,28.8 569.5,32.6 570,34.8 570.5,4.2 571,39 571.5,25.8 572,30.9 572.5,22.6 573,17.3 573.5,16.9 573.5,86.8 573,86.4 572.5,81.1 572,72.9 571.5,78 571,64.9 570.5,99.7 570,69.1 569.5,71.4 569.1,75.3 568.6,67 568.1,69 567.6,86 567.1,71.1 566.6,73 566.1,68.2 565.6,70 565.1,88.9 564.6,66.1 564.1,76.6 563.6,82.8 563.1,64.4 562.6,70.1 562.1,70.2 561.6,74 561.1,71.2 560.7,77.3 560.2,79.2 559.7,68.8 559.2,80.8 558.7,74.2 558.2,65.7 557.7,78 557.2,64.4 556.7,66.5 556.2,80.7 555.7,64.6 555.2,90 554.7,70.2 554.2,67.1 553.7,76.9 553.2,75.7 552.8,77.7 552.3,68.5 551.8,81.5 551.3,67.2 550.8,71.3 550.3,70.4 549.8,80.3 549.3,66.6 548.8,66.5 548.3,65.2 547.8,84.9 547.3,71.3 546.8,65.9 546.3,80 545.8,75.8 545.3,71.3 544.8,80.4 544.4,71 543.9,69.8 543.4,66.9 542.9,70.9 542.4,72.5 541.9,96.6 541.4,80.9 540.9,83.2 540.4,79.7 539.9,71.7 539.4,72.1 538.9,75 538.4,74.1 537.9,69.9 537.4,66.6 536.9,70.3 536.5,82.2 536,66.6 535.5,91.6 535,91.9 534.5,69.6 534,66 533.5,69.4 533,75.8 532.5,66.1 532,70.2 531.5,75.5 531,69 530.5,73.1 530,76.2 529.5,80.6 529,68.9 528.5,70.9 528.1,69.2 527.6,67.3 527.1,70.4 526.6,93.4 526.1,94.3 525.6,73 525.1,66.6 524.6,65.7 524.1,71.5 523.6,77.9 523.1,67.6 522.6,70.2 522.1,67.4 521.6,70.3 521.1,71.3 520.6,75.3 520.1,73.6 519.7,85.5 519.2,79.5 518.7,79.3 518.2,86.7 517.7,70.5 517.2,69 516.7,79 516.2,90.9 515.7,74.8 515.2,70.7 514.7,69.3 514.2,71.1 513.7,66.8 513.2,76.5 512.7,89.8 512.2,71.3 511.8,83 511.3,68.5 510.8,68.9 510.3,77.1 509.8,77.8 509.3,91.9 508.8,74.3 508.3,70.6 507.8,89.8 507.3,83.5 506.8,76 506.3,72 505.8,68.8 505.3,67.6 504.8,78.2 504.3,78.4 503.8,72.5 503.4,78.7 502.9,67.5 502.4,68.5 501.9,69.4 501.4,74.9 500.9,70.2 500.4,72.1 499.9,74.1 499.4,69.8 498.9,76.8 498.4,68.1 497.9,75.8 497.4,68.2 496.9,73.4 496.4,83.3 495.9,85.9 495.4,81.9 495,70.5 494.5,76.4 494,83.7 493.5,85.2 493,87.7 492.5,75.6 492,70.3 491.5,78 491,69.7 490.5,83.4 490,87.6 489.5,89 489,72.9 488.5,90.7 488,86.3 487.5,91 487,72.5 486.6,73 486.1,83.6 485.6,74.3 485.1,72.8 484.6,93.1 484.1,72.8 483.6,83.8 483.1,79 482.6,85.2 482.1,73.8 481.6,74.4 481.1,92.6 480.6,84.5 480.1,89.4 479.6,79.1 479.1,77.1 478.7,83.9 478.2,85.5 477.7,81.9 477.2,86.5 476.7,77.7 476.2,78.4 475.7,88.2 475.2,72.9 474.7,93.5 474.2,82.4 473.7,77.6 473.2,76.1 472.7,98.3 472.2,90.7 471.7,81.6 471.2,75.2 470.7,74.4 470.3,85.8 469.8,76.5 469.3,81.3 468.8,87.7 468.3,74.4 467.8,77.5 467.3,105.7 466.8,91.2 466.3,87.9 465.8,80.9 465.3,82.4 464.8,79.6 464.3,96.8 463.8,86.4 463.3,74.9 462.8,90.4 462.4,84.7 461.9,77.5 461.4,75.8 460.9,83.5 460.4,77.4 459.9,77.1 459.4,100.1 458.9,82.1 458.4,80.5 457.9,79.9 457.4,80.7 456.9,83 456.4,80.9 455.9,83.5 455.4,91.4 454.9,86 454.4,88 454,85 453.5,93 453,76 452.5,92.1 452,80.1 451.5,86.3 451,86.2 450.5,80.9 450,79.4 449.5,83.2 449,88.6 448.5,77.2 448,82.9 447.5,90.5 447,88.3 446.5,76.4 446,78.4 445.6,98.1 445.1,81 444.6,82.8 444.1,91.3 443.6,83.3 443.1,101.5 442.6,84.1 442.1,77.2 441.6,87.5 441.1,79.4 440.6,88 440.1,98.1 439.6,91.7 439.1,86.1 438.6,86.8 438.1,85.6 437.6,78.9 437.2,87.8 436.7,86.9 436.2,97 435.7,82.5 435.2,85.3 434.7,87.3 434.2,99.3 433.7,80.4 433.2,83.5 432.7,85.7 432.2,100.6 431.7,100.6 431.2,84 430.7,101.8 430.2,82.3 429.7,80.4 429.3,83.6 428.8,96.7 428.3,102.2 427.8,85 427.3,102.7 426.8,91.4 426.3,90 425.8,81.6 425.3,100.4 424.8,91.4 424.3,88.9 423.8,82.6 423.3,87 422.8,83.7 422.3,86.4 421.8,83.1 421.3,80.9 420.9,95.5 420.4,87.9 419.9,87 419.4,93.7 418.9,92.1 418.4,99.8 417.9,88.2 417.4,82.9 416.9,90.8 416.4,93.8 415.9,89.7 415.4,88.5 414.9,86 414.4,85.2 413.9,90.7 413.4,82.9 413,91.4 412.5,91.1 412,96.7 411.5,89.5 411,100.5 410.5,94.1 410,90.8 409.5,98.5 409,85.1 408.5,88.7 408,86.8 407.5,85.8 407,103.6 406.5,91.5 406,84.3 405.5,97.9 405,112.3 404.6,105.5 404.1,92.4 403.6,89.4 403.1,91.7 402.6,102.2 402.1,101 401.6,89 401.1,104.6 400.6,89.7 400.1,94.1 399.6,92.4 399.1,85.8 398.6,90.9 398.1,96.3 397.6,88 397.1,95.4 396.6,85.7 396.2,113.7 395.7,106.8 395.2,91.4 394.7,90.4 394.2,90.1 393.7,100.6 393.2,92.6 392.7,88.9 392.2,118 391.7,92.1 391.2,91.5 390.7,91.6 390.2,110.3 389.7,88.2 389.2,90.9 388.7,105.6 388.2,98.7 387.8,89.7 387.3,93.5 386.8,102.5 386.3,110.9 385.8,113 385.3,97 384.8,88.5 384.3,91.1 383.8,95.4 383.3,89.1 382.8,92.7 382.3,94.5 381.8,110.9 381.3,100.7 380.8,98.2 380.3,89.5 379.9,99.5 379.4,94.7 378.9,106.3 378.4,95.2 377.9,100 377.4,95.1 376.9,94.3 376.4,94.9 375.9,96.3 375.4,98 374.9,97.7 374.4,99.5 373.9,106.9 373.4,98 372.9,93.9 372.4,91.1 371.9,97 371.5,99 371,95.3 370.5,94.8 370,99.4 369.5,114.8 369,97.2 368.5,106.5 368,92.9 367.5,102 367,106.2 366.5,95.6 366,104.8 365.5,97.4 365,93.1 364.5,103.6 364,99.2 363.5,100.6 363.1,108.9 362.6,101.5 362.1,103.8 361.6,96.6 361.1,108.2 360.6,107.8 360.1,97 359.6,95.1 359.1,96.4 358.6,116.9 358.1,101.2 357.6,101 357.1,123.7 356.6,97.4 356.1,105 355.6,101.3 355.2,101.7 354.7,123.4 354.2,105.4 353.7,108 353.2,98.2 352.7,96.6 352.2,106.5 351.7,104.4 351.2,99.2 350.7,108.3 350.2,108.6 349.7,98 349.2,112.6 348.7,104.7 348.2,106.1 347.7,109.1 347.2,104.5 346.8,118.3 346.3,103.3 345.8,106.5 345.3,125.2 344.8,118.7 344.3,103.1 343.8,121.3 343.3,102.8 342.8,99.2 342.3,102 341.8,116.5 341.3,99.7 340.8,104.9 340.3,103.3 339.8,99.8 339.3,107.4 338.9,102.1 338.4,104.4 337.9,107.3 337.4,106.5 336.9,116.3 336.4,107.1 335.9,109.2 335.4,109 334.9,105.3 334.4,123.1 333.9,102 333.4,102.4 332.9,113.2 332.4,106.5 331.9,118.8 331.4,108 330.9,111.2 330.5,106.1 330,107.2 329.5,124.9 329,103.7 328.5,111.5 328,107.3 327.5,128.8 327,109.6 326.5,102.8 326,103 325.5,108 325,114.5 324.5,113.6 324,113.3 323.5,110.2 323,128.7 322.5,114.8 322.1,113.4 321.6,119.4 321.1,109.5 320.6,105.8 320.1,113.6 319.6,109.5 319.1,110.5 318.6,127 318.1,123.9 317.6,111.2 317.1,119.8 316.6,110.9 316.1,124.2 315.6,114.9 315.1,111.1 314.6,113.5 314.1,119.9 313.7,127.7 313.2,110.6 312.7,128.7 312.2,119.5 311.7,112.3 311.2,121.3 310.7,112.3 310.2,119.4 309.7,116.2 309.2,116.6 308.7,112.6 308.2,113 307.7,118.6 307.2,128.7 306.7,113.4 306.2,119.5 305.8,117.6 305.3,118.6 304.8,127.8 304.3,129.3 303.8,121.4 303.3,128.5 302.8,124.4 302.3,122.7 301.8,120.7 301.3,121.2 300.8,126.3 300.3,120.8 299.8,125.9 299.3,136.5 298.8,140.8 298.3,122 297.8,132 297.4,127 296.9,140.6 296.4,122.6 295.9,146 295.4,128 294.9,127.4 294.4,126.6 293.9,137.3 293.4,130.3 292.9,128.2 292.4,140.7 291.9,128.4 291.4,123.6 290.9,123.9 290.4,124 289.9,135.8 289.4,126.6 289,129.4 288.5,135 288,124.1 287.5,127.4 287,126.7 286.5,133.9 286,127.9 285.5,130.9 285,141.6 284.5,129 284,133.7 283.5,126.8 283,126.9 282.5,127.5 282,132.2 281.5,128.3 281.1,140.1 280.6,128.9 280.1,139.4 279.6,136.9 279.1,136.3 278.6,151.6 278.1,134.3 277.6,143.8 277.1,133 276.6,148.1 276.1,131.9 275.6,141 275.1,151.3 274.6,149.8 274.1,135 273.6,154.6 273.1,161.8 272.7,138.8 272.2,146 271.7,140.3 271.2,145.1 270.7,155.4 270.2,137.6 269.7,157.5 269.2,145.3 268.7,173.4 268.2,138.5 267.7,153.2 267.2,160.3 266.7,157.8 266.2,141.6 265.7,143.1 265.2,140.6 264.8,155.6 264.3,145.4 263.8,140 263.3,151.8 262.8,168.7 262.3,142.8 261.8,141.6 261.3,162.9 260.8,159.5 260.3,144.1 259.8,143.9 259.3,170.1 258.8,156.1 258.3,153 257.8,173.3 257.3,147.8 256.8,145.1 256.4,157.1 255.9,172.9 255.4,152.2 254.9,146.8 254.4,146.8 253.9,151.3 253.4,173.6 252.9,149.1 252.4,154.3 251.9,164.9 251.4,153.9 250.9,162.9 250.4,164.7 249.9,167.3 249.4,161.2 248.9,163.4 248.4,163.7 248,160.5 247.5,155.5 247,162.1 246.5,156.8 246,155.5 245.5,175.4 245,161.8 244.5,156.4 244,158.5 243.5,156.6 243,171 242.5,169.3 242,157 241.5,155.7 241,165.7 240.5,164.3 240.1,164.6 239.6,158.5 239.1,171.3 238.6,158.4 238.1,160.7 237.6,163.7 237.1,159.6 236.6,160.9 236.1,167.9 235.6,168.5 235.1,160.7 234.6,160.6 234.1,172.5 233.6,164.2 233.1,169.5 232.6,170.3 232.1,161.7 231.7,174.1 231.2,169 230.7,167.9 230.2,171.9 229.7,163 229.2,173.4 228.7,167.7 228.2,162 227.7,170.5 227.2,179.3 226.7,176.6 226.2,171.6 225.7,176.4 225.2,166.6 224.7,165.2 224.2,177.7 223.7,165.8 223.3,183.8 222.8,196.4 222.3,166.6 221.8,170.6 221.3,183.8 220.8,176 220.3,177 219.8,175.6 219.3,176.8 218.8,183.9 218.3,184.9 217.8,174.2 217.3,171.6 216.8,187 216.3,169.3 215.8,169.7 215.4,170.6 214.9,172.5 214.4,186.8 213.9,177.8 213.4,190.4 212.9,187.4 212.4,177.8 211.9,171.4 211.4,190.5 210.9,172.7 210.4,178.2 209.9,175.8 209.4,192.4 208.9,177.8 208.4,190 207.9,174.6 207.4,182.3 207,179.8 206.5,194.2 206,185.3 205.5,191.8 205,185.1 204.5,188.7 204,191.5 203.5,184.9 203,179.5 202.5,222.3 202,187.3 201.5,181.6 201,183.9 200.5,182.1 200,202.4 199.5,195 199,188 198.6,186.7 198.1,187.6 197.6,187.2 197.1,210.8 196.6,190.5 196.1,189.2 195.6,197.8 195.1,194.4 194.6,190.7 194.1,199.1 193.6,198.8 193.1,194.5 192.6,205.8 192.1,203.6 191.6,196.4 191.1,201.9 190.7,210.2 190.2,215.6 189.7,200.4 189.2,210.3 188.7,197.7 188.2,201.4 187.7,211.2 187.2,210.7 186.7,202.1 186.2,201.5 185.7,206.9 185.2,206.8 184.7,214.6 184.2,219.7 183.7,209.2 183.2,215.9 182.7,215.7 182.3,207.1 181.8,211.8 181.3,213.7 180.8,233.7 180.3,222.3 179.8,214.2 179.3,217.1 178.8,210.5 178.3,219.6 177.8,224.3 177.3,212.3 176.8,218.8 176.3,230.7 175.8,222.5 175.3,222.2 174.8,219.6 174.3,229.4 173.9,224.3 173.4,239.6 172.9,249.6 172.4,227.2 171.9,238.9 171.4,223.2 170.9,234.6 170.4,234.3 169.9,224.6 169.4,225.5 168.9,222.7 168.4,228.4 167.9,246.7 167.4,232.1 166.9,230.4 166.4,234.7 165.9,229.5 165.5,232.5 165,236.2 164.5,242.7 164,236 163.5,230.6 163,236 162.5,255.5 162,247.9 161.5,235.9 161,241.1 160.5,244.1 160,251.1 159.5,240 159,254.4 158.5,249.4 158,244.2 157.6,239.7 157.1,252.6 156.6,247.7 156.1,243.4 155.6,244.3 155.1,241.3 154.6,243 154.1,242.3 153.6,244.6 153.1,244.1 152.6,253.7 152.1,245.6 151.6,247.6 151.1,251 150.6,263 150.1,248.8 149.6,260.3 149.2,264.5 148.7,252.3 148.2,261.4 147.7,248.9 147.2,254.1 146.7,268.1 146.2,248.8 145.7,258.1 145.2,256.8 144.7,262.7 144.2,270.3 143.7,258.2 143.2,263.3 142.7,252.9 142.2,258 141.7,259.1 141.2,264 140.8,258.2 140.3,258.1 139.8,264.1 139.3,266.9 138.8,272.4 138.3,258.1 137.8,274.8 137.3,262.7 136.8,268.4 136.3,259.6 135.8,269.8 135.3,268.8 134.8,263.7 134.3,264.9 133.8,277.7 133.3,259.7 132.9,265.1 132.4,272.1 131.9,272 131.4,273 130.9,265.4 130.4,268.9 129.9,278.2 129.4,263.3 128.9,271.9 128.4,262.5 127.9,272.7 127.4,263.4 126.9,269.7 126.4,262.6 125.9,268.2 125.4,267.3 124.9,273.1 124.5,280.5 124,268.3 123.5,279.6 123,282.6 122.5,266.7 122,278.2 121.5,270.3 121,275.4 120.5,283.3 120,287.5 119.5,276.5 119,272.2 118.5,276.3 118,280.8 117.5,279.3 117,283.4 116.5,281.7 116.1,278.4 115.6,285.1 115.1,280.4 114.6,281 114.1,290.3 113.6,281.8 113.1,288 112.6,289.8 112.1,289.1 111.6,292.5 111.1,276.9 110.6,280.1 110.1,283.6 109.6,284.8 109.1,292.3 108.6,282.5 108.2,280.6 107.7,292.9 107.2,284.5 106.7,295.6 106.2,308.5 105.7,294 105.2,289.3 104.7,311.5 104.2,297.8 103.7,307.5 103.2,309.3 102.7,290.6 102.2,297.5 101.7,292.9 101.2,294.3 100.7,302.1 100.2,297.4 99.8,301.9 99.3,308.3 98.8,306.7 98.3,303.2 97.8,318.9 97.3,300.5 96.8,304.4 96.3,303.6 95.8,318.5 95.3,311.3 94.8,308 94.3,335.4 93.8,318.5 93.3,312.6 92.8,323.1 92.3,314.7 91.8,314 91.4,316 90.9,317.5 90.4,325.4 89.9,324 89.4,320.6 88.9,333.9 88.4,327.5 87.9,331.7 87.4,338.7 86.9,335.5 86.4,335.9 85.9,338.7 85.4,334.9 84.9,332.1 84.4,333.9 83.9,337.8 83.5,338.7 83,338.1 82.5,338.7 82,338.7 81.5,338.7 81,338.7 80.5,338.7 80,338.7 79.5,338.7Z" fill="#0072bd" fill-opacity="0.5"/>
<path d="M79.5,337.4 80,331.3 80.5,329.3 81,329.4 81.5,323.4 82,320.4 82.5,317.9 83,316.2 83.5,325.5 83.9,312.2 84.4,309 84.9,306.5 85.4,311.8 85.9,314.2 86.4,304.6 86.9,299 87.4,303.1 87.9,298.5 88.4,296 88.9,300.7 89.4,297.4 89.9,286 90.4,293.9 90.9,289.1 91.4,280.3 91.8,277.4 92.3,285.2 92.8,272.5 93.3,270.7 93.8,280.2 94.3,269.8 94.8,274.8 95.3,268.6 95.8,268.2 96.3,270 96.8,269.5 97.3,272.2 97.8,256.4 98.3,265.5 98.8,258.9 99.3,260.2 99.8,252.1 100.2,254 100.7,263 101.2,250 101.7,258.8 102.2,253.4 102.7,244.1 103.2,246.9 103.7,242.7 104.2,254.2 104.7,241.5 105.2,249.3 105.7,239.7 106.2,239.1 106.7,235.7 107.2,241.1 107.7,232.2 108.2,233.9 108.6,229.7 109.1,241.4 109.6,226.7 110.1,238.4 110.6,236.5 111.1,230.8 111.6,224.7 112.1,225.9 112.6,231.1 113.1,220.2 113.6,221.7 114.1,227.6 114.6,228.6 115.1,221.7 115.6,223.5 116.1,214.8 116.5,213 117,219 117.5,221.3 118,219.4 118.5,215.7 119,204.5 119.5,216.2 120,210.1 120.5,214.9 121,206.2 121.5,206.5 122,203.2 122.5,206.1 123,201.7 123.5,197.6 124,194.4 124.5,201.8 124.9,202.4 125.4,195.9 125.9,189.7 126.4,199 126.9,193.4 127.4,188.9 127.9,186.4 128.4,188.8 128.9,189.6 129.4,188.6 129.9,186.7 130.4,180.9 130.9,189.2 131.4,183.5 131.9,173.2 132.4,181.2 132.9,183.9 133.3,169.3 133.8,168.7 134.3,180.9 134.8,166.3 135.3,164.1 135.8,172.6 136.3,165.6 136.8,173.3 137.3,167.5 137.8,171.4 138.3,163.6 138.8,160.2 139.3,165.4 139.8,160.5 140.3,151.6 140.8,160.2 141.2,162.9 141.7,163.8 142.2,162.5 142.7,162 143.2,147.3 143.7,161.7 144.2,149.8 144.7,158.2 145.2,146.1 145.7,145.7 146.2,146.9 146.7,154.8 147.2,152 147.7,156 148.2,142 148.7,143.2 149.2,153.5 149.6,140.1 150.1,153 150.6,149.6 151.1,148.7 151.6,138.6 152.1,140.8 152.6,142.5 153.1,149.8 153.6,149.9 154.1,148 154.6,151.2 155.1,145.5 155.6,140 156.1,150.9 156.6,144.5 157.1,144.9 157.6,138 158,146.6 158.5,138 159,143.8 159.5,149.1 160,140.1 160.5,137 161,143.8 161.5,139.6 162,133.4 162.5,144.6 163,138.2 163.5,143.2 164,141.3 164.5,139.9 165,144.4 165.5,137.9 165.9,141.3 166.4,145.2 166.9,135.5 167.4,138.1 167.9,133.3 168.4,134 168.9,130.2 169.4,140.2 169.9,138.7 170.4,129.4 170.9,135.2 171.4,132.6 171.9,133.4 172.4,133.1 172.9,139.7 173.4,143 173.9,137.5 174.3,141.4 174.8,140.4 175.3,130.2 175.8,136.5 176.3,131.9 176.8,128.9 177.3,136.4 177.8,133.9 178.3,140.2 178.8,128 179.3,132.3 179.8,137.1 180.3,135 180.8,127.5 181.3,136.3 181.8,133.3 182.3,131.2 182.7,135.9 183.2,131 183.7,131.7 184.2,135.1 184.7,136.1 185.2,126.1 185.7,123.5 186.2,133.9 186.7,136.5 187.2,129.3 187.7,122.8 188.2,131.3 188.7,135.2 189.2,133.4 189.7,125.3 190.2,134.5 190.7,131.2 191.1,134.3 191.6,119.9 192.1,132.9 192.6,128.8 193.1,130.8 193.6,119.8 194.1,127.4 194.6,131.4 195.1,122.3 195.6,129.7 196.1,119.6 196.6,131.8 197.1,123.3 197.6,118 198.1,122.4 198.6,130.8 199,125.5 199.5,120.9 200,129.8 200.5,117.5 201,121.5 201.5,129.3 202,127.7 202.5,115.2 203,124 203.5,124.7 204,125.2 204.5,122.2 205,124.3 205.5,118.8 206,121.9 206.5,120.4 207,120 207.4,120.7 207.9,125 208.4,111.5 208.9,111.6 209.4,124.5 209.9,113 210.4,121.8 210.9,111.6 211.4,115 211.9,113.9 212.4,112 212.9,108.3 213.4,120.1 213.9,116.7 214.4,120 214.9,119.6 215.4,114.5 215.8,107.4 216.3,106.9 216.8,111.2 217.3,107.6 217.8,116.4 218.3,103.1 218.8,111.6 219.3,107.2 219.8,105.8 220.3,101 220.8,106.4 221.3,111.5 221.8,100.8 222.3,103.8 222.8,104.6 223.3,107.1 223.7,105.2 224.2,109.1 224.7,105.1 225.2,107.5 225.7,107.5 226.2,104.6 226.7,97.4 227.2,105.4 227.7,101.3 228.2,105.5 228.7,98.6 229.2,96.8 229.7,101.7 230.2,103.8 230.7,96.4 231.2,99 231.7,93 232.1,93.3 232.6,104.4 233.1,92.5 233.6,93.5 234.1,101.2 234.6,92.3 235.1,100.2 235.6,91 236.1,100.8 236.6,90.3 237.1,95.3 237.6,95.4 238.1,99.2 238.6,98.4 239.1,89.8 239.6,96.6 240.1,93.7 240.5,86.1 241,97.6 241.5,97.4 242,90.5 242.5,89.2 243,94.7 243.5,85.7 244,82.1 244.5,95.2 245,84.5 245.5,83.1 246,88 246.5,92.2 247,87.3 247.5,82.2 248,82.2 248.4,83.4 248.9,87.7 249.4,89.7 249.9,90.5 250.4,83.1 250.9,81.2 251.4,86 251.9,78.3 252.4,75.8 252.9,82.4 253.4,82.2 253.9,76.6 254.4,79.3 254.9,84.7 255.4,79.3 255.9,74.7 256.4,81.5 256.8,78 257.3,77.5 257.8,77.7 258.3,79 258.8,79.7 259.3,74.7 259.8,72 260.3,69.9 260.8,76.5 261.3,76 261.8,70.2 262.3,79.1 262.8,75.7 263.3,70.5 263.8,71.3 264.3,70.8 264.8,76.3 265.2,74.3 265.7,71.2 266.2,80.1 266.7,77.3 267.2,71.3 267.7,69.9 268.2,75.9 268.7,72.1 269.2,70.8 269.7,68.3 270.2,79.6 270.7,78.5 271.2,67.4 271.7,74.7 272.2,76 272.7,66.8 273.1,75.6 273.6,69.2 274.1,69.5 274.6,67.2 275.1,76.6 275.6,67.6 276.1,77.6 276.6,68.5 277.1,69 277.6,68.1 278.1,66.4 278.6,76.7 279.1,76.6 279.6,75.8 280.1,75.3 280.6,76.9 281.1,66.6 281.5,67.8 282,72.1 282.5,77.9 283,77 283.5,72.4 284,73.3 284.5,79.8 285,75 285.5,78.6 286,75 286.5,77.6 287,67.1 287.5,69.6 288,68.2 288.5,65.8 289,78.9 289.4,66.8 289.9,69.6 290.4,67.9 290.9,72.4 291.4,68 291.9,80.4 292.4,69.1 292.9,80.4 293.4,79.1 293.9,79.4 294.4,71.1 294.9,81 295.4,68.7 295.9,78.1 296.4,73.4 296.9,76.8 297.4,74.6 297.8,69.5 298.3,70.8 298.8,77.5 299.3,79.2 299.8,82.1 300.3,77.4 300.8,81.7 301.3,74.3 301.8,74.4 302.3,80.7 302.8,79 303.3,72.5 303.8,73.6 304.3,80.7 304.8,72 305.3,81.4 305.8,80.6 306.2,83.8 306.7,83 307.2,85.6 307.7,84.6 308.2,80.7 308.7,74.4 309.2,76.9 309.7,73.2 310.2,85.6 310.7,83.1 311.2,74.1 311.7,82.3 312.2,75 312.7,81.7 313.2,81.1 313.7,77.7 314.1,82.7 314.6,78.8 315.1,78.1 315.6,84.9 316.1,77.2 316.6,78.1 317.1,87.6 317.6,75.9 318.1,77.3 318.6,80.3 319.1,79.8 319.6,82.4 320.1,84.7 320.6,88.6 321.1,82.3 321.6,86.8 322.1,82.3 322.5,90 323,83.1 323.5,85.3 324,83.5 324.5,81.5 325,78.8 325.5,91.8 326,85.6 326.5,85.5 327,84.6 327.5,92.1 328,81.3 328.5,88.4 329,93.6 329.5,92.6 330,92.3 330.5,94.3 330.9,90.9 331.4,81.2 331.9,90.9 332.4,94.6 332.9,90.1 333.4,87 333.9,87.4 334.4,84.1 334.9,83.9 335.4,85.3 335.9,87.8 336.4,90.9 336.9,94.2 337.4,93.3 337.9,90 338.4,86.7 338.9,95.7 339.3,96.7 339.8,93.7 340.3,97.4 340.8,96.8 341.3,90.3 341.8,95.9 342.3,96.7 342.8,89.7 343.3,96.1 343.8,85.9 344.3,89.1 344.8,92.4 345.3,86 345.8,88.3 346.3,84.9 346.8,87.3 347.2,85.5 347.7,97.6 348.2,90 348.7,91.9 349.2,96.4 349.7,94.1 350.2,96 350.7,92.7 351.2,87.4 351.7,84.8 352.2,89.9 352.7,94.8 353.2,96.5 353.7,94.6 354.2,87.6 354.7,94.5 355.2,91.9 355.6,92.9 356.1,86.9 356.6,95.3 357.1,86.7 357.6,92.3 358.1,99 358.6,96.6 359.1,89.1 359.6,85.3 360.1,95.2 360.6,86.8 361.1,90.3 361.6,84.7 362.1,96.7 362.6,84.6 363.1,87.3 363.5,88.1 364,86.5 364.5,91.6 365,89.4 365.5,89.7 366,94.2 366.5,85.8 367,93.3 367.5,85.3 368,86.7 368.5,93.3 369,85.1 369.5,82.3 370,87.7 370.5,83.2 371,85 371.5,91 371.9,92.5 372.4,84.1 372.9,84.2 373.4,93.1 373.9,87.8 374.4,82.2 374.9,88.4 375.4,80.6 375.9,82.4 376.4,86.5 376.9,85.3 377.4,86.5 377.9,91.4 378.4,80.3 378.9,86.1 379.4,86.6 379.9,84.8 380.3,79.8 380.8,90.9 381.3,80.1 381.8,85.5 382.3,90.4 382.8,89.5 383.3,81.1 383.8,86.5 384.3,82.6 384.8,79.6 385.3,86.9 385.8,83.3 386.3,80.3 386.8,83.6 387.3,80.4 387.8,81.6 388.2,78.2 388.7,83.1 389.2,84.9 389.7,85.6 390.2,85.5 390.7,84.1 391.2,82.3 391.7,85.1 392.2,85.4 392.7,76.3 393.2,76.7 393.7,79.3 394.2,76.2 394.7,77.6 395.2,84.3 395.7,75.9 396.2,74 396.6,74.9 397.1,83.1 397.6,80.7 398.1,83.2 398.6,79.5 399.1,82.3 399.6,79.3 400.1,80.5 400.6,81.2 401.1,76.2 401.6,76 402.1,75.3 402.6,82.1 403.1,81.2 403.6,75.6 404.1,77.3 404.6,82.6 405,79.3 405.5,79.1 406,72.7 406.5,75.2 407,79 407.5,74.2 408,81.1 408.5,72.3 409,79.4 409.5,78.8 410,79.4 410.5,74 411,79.7 411.5,77.4 412,74.5 412.5,80 413,72.6 413.4,80 413.9,76.8 414.4,77.4 414.9,72.5 415.4,74.5 415.9,74.7 416.4,71.6 416.9,78.9 417.4,78.3 417.9,73.7 418.4,74.9 418.9,75.3 419.4,73.4 419.9,79.5 420.4,75.3 420.9,78.8 421.3,76.8 421.8,77.1 422.3,78.5 422.8,76 423.3,75.8 423.8,75 424.3,75.3 424.8,76.4 425.3,74.8 425.8,78.3 426.3,72.9 426.8,78.2 427.3,72.3 427.8,77 428.3,71.2 428.8,71.5 429.3,74.1 429.7,73.3 430.2,73.5 430.7,74.3 431.2,73.6 431.7,75.3 432.2,77.1 432.7,73.6 433.2,73.3 433.7,75.2 434.2,75 434.7,75.1 435.2,72.5 435.7,74.4 436.2,75.3 436.7,77.6 437.2,79 437.6,75.9 438.1,77.5 438.6,78.6 439.1,75.3 439.6,76.5 440.1,76.7 440.6,74.7 441.1,74.9 441.6,75 442.1,77.6 442.6,75.6 443.1,77.9 443.6,75.1 444.1,77.1 444.6,78.2 445.1,79.9 445.6,77.8 446,76.2 446.5,75.1 447,79.6 447.5,79.5 448,75.5 448.5,79.7 449,80.5 449.5,77.5 450,80 450.5,78.5 451,80.7 451.5,79.6 452,78.8 452.5,78.9 453,77.4 453.5,77.2 454,78.5 454.4,80.5 454.9,79.2 455.4,77.9 455.9,78.4 456.4,80.3 456.9,79.1 457.4,81.1 457.9,78.1 458.4,79.5 458.9,79.1 459.4,79 459.9,78.8 460.4,81.6 460.9,80.3 461.4,80.2 461.9,81.3 462.4,82.6 462.8,82.8 463.3,78.8 463.8,79.9 464.3,81.8 464.8,79.5 465.3,82.6 465.8,81.9 466.3,79.7 466.8,79.4 467.3,83 467.8,79.8 468.3,80.5 468.8,80.4 469.3,83.3 469.8,83.6 470.3,81.3 470.7,81.3 471.2,80.6 471.7,80.4 472.2,82.9 472.7,81.8 473.2,83.3 473.7,82.5 474.2,83.5 474.7,83.8 475.2,81.2 475.7,83.4 476.2,82.5 476.7,82.7 477.2,83.4 477.7,81.8 478.2,83.5 478.7,81.6 479.1,82.8 479.6,83.2 480.1,82.7 480.6,84 481.1,83.5 481.6,83.9 482.1,82.9 482.6,84.5 483.1,81.9 483.6,81.4 484.1,83 484.6,81.5 485.1,84.3 485.6,82.9 486.1,84.2 486.6,81.6 487,83.3 487.5,83 488,84.3 488.5,83.2 489,81.1 489.5,83.8 490,83.5 490.5,83.1 491,81.5 491.5,84 492,82.6 492.5,83.3 493,84.2 493.5,84 494,82.3 494.5,81.8 495,84 495.4,81.5 495.9,82.7 496.4,82.2 496.9,81.2 497.4,83.9 497.9,83.3 498.4,81.6 498.9,83.5 499.4,80.6 499.9,83.4 500.4,80.9 500.9,82.5 501.4,83 501.9,81.9 502.4,82.2 502.9,81.5 503.4,81.2 503.8,83.5 504.3,81.7 504.8,81.3 505.3,80.5 505.8,81.5 506.3,82.6 506.8,80.4 507.3,83.3 507.8,82.1 508.3,80.7 508.8,82.6 509.3,81.2 509.8,82.8 510.3,82.2 510.8,82.3 511.3,81.1 511.8,82.7 512.2,80 512.7,80.3 513.2,80.2 513.7,83.1 514.2,82.3 514.7,81.4 515.2,82.3 515.7,80.4 516.2,81.5 516.7,82.5 517.2,82.9 517.7,81.6 518.2,82.6 518.7,79.8 519.2,81.3 519.7,80 520.1,81.2 520.6,80.3 521.1,82.5 521.6,81.9 522.1,81.5 522.6,80.2 523.1,79.6 523.6,82 524.1,80.4 524.6,81.8 525.1,82.5 525.6,80.9 526.1,81.9 526.6,80.3 527.1,81.7 527.6,80.9 528.1,81.1 528.5,80.4 529,81.3 529.5,79.8 530,80.5 530.5,80 531,79.5 531.5,79.2 532,79.4 532.5,79.6 533,80.8 533.5,80.4 534,80 534.5,81.6 535,80.3 535.5,81.3 536,79.4 536.5,79.1 536.9,80.7 537.4,81.5 537.9,81.3 538.4,80.2 538.9,80 539.4,78.8 539.9,81.4 540.4,80.6 540.9,80.1 541.4,80.7 541.9,79.1 542.4,79.6 542.9,80.3 543.4,78.6 543.9,79.7 544.4,78.6 544.8,79.9 545.3,81.2 545.8,80.1 546.3,78.7 546.8,78.4 547.3,80.5 547.8,80.7 548.3,81 548.8,79.6 549.3,80.2 549.8,78.4 550.3,80.7 550.8,79.8 551.3,80.3 551.8,79.9 552.3,79.7 552.8,78.6 553.2,80.1 553.7,78.6 554.2,78.1 554.7,80.6 555.2,78.1 555.7,80.2 556.2,79.1 556.7,80.3 557.2,77.7 557.7,79.4 558.2,80.4 558.7,79.8 559.2,77.6 559.7,77.7 560.2,80.3 560.7,78.9 561.1,79.7 561.6,79.9 562.1,78.6 562.6,78 563.1,78.6 563.6,79.5 564.1,78.7 564.6,79.7 565.1,78.5 565.6,77.6 566.1,78.6 566.6,79.5 567.1,78.9 567.6,78.1 568.1,78.8 568.6,79.2 569.1,77 569.5,78.8 570,79.5 570.5,79.3 571,78.3 571.5,77.4 572,77.5 572.5,78.8 573,77.3 573.5,78.9" fill="none" stroke="#77ac30" stroke-width="1.9" stroke-linejoin="round"/>
<path d="M79.5,337.4 80,337.4 80.5,331 81,330.6 81.5,336.1 82,324.2 82.5,322.8 83,326.8 83.5,330.3 83.9,327 84.4,327.5 84.9,325.3 85.4,321.6 85.9,322.7 86.4,313.5 86.9,317.1 87.4,308.6 87.9,310.1 88.4,308.3 88.9,304.6 89.4,302.8 89.9,310.1 90.4,304.4 90.9,298.8 91.4,300.7 91.8,297.8 92.3,305.6 92.8,294.3 93.3,292.9 93.8,297.1 94.3,292.8 94.8,299.9 95.3,299.8 95.8,299.6 96.3,294.4 96.8,282.5 97.3,289.4 97.8,293 98.3,279.7 98.8,279.3 99.3,289.2 99.8,281.4 100.2,282.9 100.7,273.9 101.2,278.9 101.7,281.3 102.2,280.9 102.7,271 103.2,283 103.7,271.9 104.2,271.9 104.7,265.9 105.2,276.9 105.7,275.1 106.2,264.9 106.7,263.8 107.2,268.8 107.7,265.6 108.2,276.2 108.6,272 109.1,267.9 109.6,263 110.1,258 110.6,270.4 111.1,260.6 111.6,256.4 112.1,265.5 112.6,258.8 113.1,262.7 113.6,258.5 114.1,258.7 114.6,266.3 115.1,256.2 115.6,261.7 116.1,261.2 116.5,251 117,261.4 117.5,251.1 118,254.7 118.5,257.6 119,254.7 119.5,252.2 120,253.9 120.5,256.5 121,248 121.5,247.9 122,249.9 122.5,254.1 123,246.4 123.5,252.3 124,257.7 124.5,246.6 124.9,249.9 125.4,249.3 125.9,252.3 126.4,255.9 126.9,256.7 127.4,249.7 127.9,247.9 128.4,253.4 128.9,255.2 129.4,242.1 129.9,245.6 130.4,254.3 130.9,243.6 131.4,242.2 131.9,247.4 132.4,252.5 132.9,250.6 133.3,247 133.8,250.4 134.3,241.6 134.8,250.4 135.3,250.5 135.8,241 136.3,246.6 136.8,247 137.3,249.7 137.8,243.2 138.3,247 138.8,246.6 139.3,237.6 139.8,239.2 140.3,243.1 140.8,243.9 141.2,235.1 141.7,240.7 142.2,240.9 142.7,233.5 143.2,237.2 143.7,239.3 144.2,238.3 144.7,232.8 145.2,242.7 145.7,241.1 146.2,238.5 146.7,238.1 147.2,237.9 147.7,230.3 148.2,234.1 148.7,239.3 149.2,233.7 149.6,239.6 150.1,228.9 150.6,229.3 151.1,232.8 151.6,233.1 152.1,235 152.6,233.5 153.1,227 153.6,231.6 154.1,232.7 154.6,229.5 155.1,226.2 155.6,232.6 156.1,223.5 156.6,222.9 157.1,227.9 157.6,231.8 158,229.3 158.5,225.3 159,222.8 159.5,227.9 160,228.6 160.5,219.4 161,222.6 161.5,220.4 162,224.4 162.5,222.6 163,218 163.5,219.4 164,222.5 164.5,221.9 165,216 165.5,219.7 165.9,219.4 166.4,217.3 166.9,208.4 167.4,214.2 167.9,208.5 168.4,206.5 168.9,211.8 169.4,213.4 169.9,210.7 170.4,204.7 170.9,208.1 171.4,208.2 171.9,213 172.4,201.4 172.9,203.1 173.4,209.6 173.9,206.6 174.3,210.2 174.8,200 175.3,207.8 175.8,200 176.3,204 176.8,203.8 177.3,199.1 177.8,200.7 178.3,203.9 178.8,193.2 179.3,200.2 179.8,196 180.3,193.4 180.8,195.7 181.3,200.2 181.8,196 182.3,198.4 182.7,200.2 183.2,194.9 183.7,193.5 184.2,188.3 184.7,195.3 185.2,192.9 185.7,188.9 186.2,191 186.7,194.4 187.2,184.2 187.7,187 188.2,187.4 188.7,185.6 189.2,191.2 189.7,189.3 190.2,189.9 190.7,182 191.1,186.4 191.6,182.9 192.1,184.3 192.6,180.5 193.1,175 193.6,179.1 194.1,176.3 194.6,172.8 195.1,175.7 195.6,178.1 196.1,179.2 196.6,180.3 197.1,174.4 197.6,172.3 198.1,176.8 198.6,176.2 199,170.7 199.5,169.7 200,173.4 200.5,175.3 201,166.2 201.5,168.1 202,167.5 202.5,169.1 203,166.7 203.5,162.6 204,169.4 204.5,162.6 205,165.1 205.5,164.5 206,160 206.5,162.8 207,167.2 207.4,166.6 207.9,163.6 208.4,157.9 208.9,162.8 209.4,166.2 209.9,157.4 210.4,159 210.9,163.1 211.4,157.6 211.9,158.5 212.4,160.2 212.9,160.1 213.4,158.4 213.9,158.7 214.4,161.2 214.9,155.2 215.4,159.5 215.8,160.4 216.3,153.2 216.8,161.2 217.3,162.5 217.8,159.4 218.3,152.8 218.8,161.9 219.3,151.6 219.8,160.1 220.3,158.6 220.8,151.4 221.3,157.4 221.8,151.5 222.3,156.6 222.8,153 223.3,153 223.7,150.5 224.2,152.7 224.7,149.1 225.2,158.2 225.7,156.3 226.2,148.4 226.7,150.6 227.2,147.7 227.7,155.9 228.2,147.6 228.7,155.7 229.2,146.4 229.7,151.7 230.2,154.7 230.7,147.8 231.2,148.6 231.7,149.7 232.1,153.8 232.6,153.2 233.1,146.9 233.6,147.5 234.1,152.8 234.6,152 235.1,150.9 235.6,146.6 236.1,153.6 236.6,145.7 237.1,152 237.6,145.6 238.1,143.3 238.6,144.9 239.1,151.9 239.6,147 240.1,143 240.5,142.8 241,143.5 241.5,146.1 242,146 242.5,146.3 243,145.9 243.5,143.5 244,142 244.5,144.4 245,139.9 245.5,147.5 246,144.9 246.5,141.6 247,141 247.5,143.3 248,138.7 248.4,138.1 248.9,136.4 249.4,139.8 249.9,136.3 250.4,141.7 250.9,137.7 251.4,139.2 251.9,133.9 252.4,137.8 252.9,134.5 253.4,139.3 253.9,137.3 254.4,137.8 254.9,138.9 255.4,138.4 255.9,130.9 256.4,129.7 256.8,131.2 257.3,137.2 257.8,131.5 258.3,132 258.8,138.7 259.3,131.8 259.8,132.8 260.3,130 260.8,130.9 261.3,125.6 261.8,130.6 262.3,127.3 262.8,126.4 263.3,129.5 263.8,133.9 264.3,129.6 264.8,127.8 265.2,128.1 265.7,123.7 266.2,132.1 266.7,124.5 267.2,123.8 267.7,130.2 268.2,132.2 268.7,127.9 269.2,121 269.7,128.2 270.2,120.9 270.7,124.2 271.2,124.7 271.7,125 272.2,118.7 272.7,119.4 273.1,119.6 273.6,125.1 274.1,120.6 274.6,123.8 275.1,123.8 275.6,123.8 276.1,126.2 276.6,121.4 277.1,124.1 277.6,118 278.1,123.5 278.6,120.6 279.1,117.9 279.6,114 280.1,123.4 280.6,122 281.1,112.9 281.5,118.2 282,113.8 282.5,112.6 283,115.7 283.5,121.3 284,113 284.5,110.4 285,110.2 285.5,111.1 286,109.8 286.5,113.5 287,112.7 287.5,117.9 288,108.1 288.5,116.9 289,112.4 289.4,112.8 289.9,112.1 290.4,114.2 290.9,113.6 291.4,116.5 291.9,109.9 292.4,109.5 292.9,108.9 293.4,106.2 293.9,108.1 294.4,107.7 294.9,107.8 295.4,106.6 295.9,114.4 296.4,107.2 296.9,109.3 297.4,113.1 297.8,112.3 298.3,103.7 298.8,102.9 299.3,108.3 299.8,107.6 300.3,104.3 300.8,100.5 301.3,106.9 301.8,110 302.3,110.1 302.8,108.7 303.3,109.3 303.8,109.6 304.3,103.7 304.8,100.5 305.3,108.3 305.8,107.4 306.2,103.2 306.7,102.8 307.2,104.6 307.7,99.6 308.2,106.3 308.7,98.8 309.2,105.3 309.7,101.8 310.2,103.7 310.7,104.6 311.2,104.3 311.7,102.8 312.2,103.6 312.7,99.4 313.2,93.6 313.7,103.4 314.1,93.2 314.6,92.4 315.1,102.5 315.6,98.5 316.1,93.9 316.6,93 317.1,101.7 317.6,91.9 318.1,94.7 318.6,94.6 319.1,94 319.6,90.6 320.1,91.3 320.6,94.7 321.1,94.6 321.6,89.2 322.1,98.1 322.5,89.6 323,97.1 323.5,96.3 324,98.1 324.5,90.4 325,98.8 325.5,92.2 326,94.2 326.5,92.1 327,89.8 327.5,90.6 328,87 328.5,96.7 329,86.2 329.5,89.2 330,96.5 330.5,90.5 330.9,96 331.4,93.9 331.9,89.5 332.4,93.5 332.9,93.1 333.4,93.2 333.9,90.2 334.4,85.9 334.9,90.4 335.4,91.1 335.9,90.5 336.4,88.3 336.9,88.5 337.4,90.5 337.9,89.6 338.4,87.5 338.9,94.3 339.3,86.9 339.8,94.8 340.3,87.3 340.8,89.2 341.3,89.7 341.8,91.6 342.3,90.3 342.8,93.8 343.3,90.7 343.8,84.8 344.3,87 344.8,87.9 345.3,92.2 345.8,88.3 346.3,90.1 346.8,92.9 347.2,83.4 347.7,87.4 348.2,92.7 348.7,85.9 349.2,88.3 349.7,86 350.2,88.8 350.7,90.2 351.2,89.8 351.7,85.2 352.2,82.9 352.7,79.6 353.2,90.6 353.7,85.7 354.2,86.7 354.7,82.7 355.2,87.3 355.6,82.2 356.1,86.5 356.6,84 357.1,81.9 357.6,83.8 358.1,82.5 358.6,85.2 359.1,79.2 359.6,81.3 360.1,79.4 360.6,86.2 361.1,79.5 361.6,80.8 362.1,84 362.6,81.4 363.1,83.2 363.5,77.5 364,82.6 364.5,81.8 365,83.6 365.5,86.1 366,85.7 366.5,83 367,87.4 367.5,85.6 368,76.6 368.5,87.1 369,74.8 369.5,74.8 370,80.7 370.5,77.2 371,86.1 371.5,80.4 371.9,85.1 372.4,85.8 372.9,86.1 373.4,82 373.9,73.9 374.4,74.7 374.9,85.8 375.4,83.9 375.9,73 376.4,77.3 376.9,76.7 377.4,75.7 377.9,76.6 378.4,83.9 378.9,85.1 379.4,85.5 379.9,72.2 380.3,73.8 380.8,79.8 381.3,76 381.8,75.5 382.3,78.7 382.8,71.8 383.3,76.2 383.8,72.5 384.3,80.6 384.8,74.7 385.3,79.4 385.8,80.5 386.3,70.8 386.8,83 387.3,76.7 387.8,73.9 388.2,71.5 388.7,79.6 389.2,71.3 389.7,81.3 390.2,75.5 390.7,73.6 391.2,78.1 391.7,82.6 392.2,75.1 392.7,69.4 393.2,71 393.7,74.6 394.2,76.5 394.7,70 395.2,72.9 395.7,78.2 396.2,74 396.6,71.8 397.1,74.4 397.6,80.5 398.1,70.1 398.6,79.2 399.1,78.4 399.6,73.1 400.1,71.4 400.6,75.3 401.1,72.9 401.6,75.4 402.1,68.2 402.6,74.6 403.1,78.8 403.6,67.6 404.1,80 404.6,69.2 405,68.8 405.5,66.8 406,67.2 406.5,73.7 407,67 407.5,71.9 408,69.9 408.5,68.4 409,70.8 409.5,75 410,73.3 410.5,74.9 411,69.2 411.5,76.5 412,65.5 412.5,65 413,69.8 413.4,71.6 413.9,71.1 414.4,69.1 414.9,73.7 415.4,74.6 415.9,78.1 416.4,76.8 416.9,67.5 417.4,66.5 417.9,69 418.4,69 418.9,67.3 419.4,63.7 419.9,75.1 420.4,67.8 420.9,71.7 421.3,66.5 421.8,64.2 422.3,63.1 422.8,73.7 423.3,68.4 423.8,67.7 424.3,65.7 424.8,67.7 425.3,69.3 425.8,71.2 426.3,70 426.8,70.2 427.3,66.5 427.8,75.2 428.3,65 428.8,70.3 429.3,63.5 429.7,61.7 430.2,63 430.7,64.6 431.2,67.8 431.7,73.3 432.2,69.7 432.7,67.1 433.2,67.7 433.7,67.6 434.2,71.5 434.7,70.9 435.2,60.6 435.7,70.2 436.2,69 436.7,61.4 437.2,61.9 437.6,68.8 438.1,66.1 438.6,67.6 439.1,72.2 439.6,71.3 440.1,65.5 440.6,70.1 441.1,62.4 441.6,68.8 442.1,71.9 442.6,63.5 443.1,71.3 443.6,61.3 444.1,70.9 444.6,63.1 445.1,66.4 445.6,60.9 446,58.5 446.5,58.4 447,58.8 447.5,60.3 448,63.8 448.5,65.8 449,71.9 449.5,71.3 450,66.6 450.5,61.5 451,63.5 451.5,64.9 452,68.2 452.5,59.2 453,68.3 453.5,60.6 454,65 454.4,62.9 454.9,60 455.4,70.3 455.9,57.3 456.4,70.3 456.9,60.5 457.4,65 457.9,56.7 458.4,60.9 458.9,70 459.4,60.6 459.9,65.1 460.4,63.5 460.9,60 461.4,58.2 461.9,59.3 462.4,60.9 462.8,59.6 463.3,58.7 463.8,68.4 464.3,59.9 464.8,56 465.3,56.5 465.8,63 466.3,58.2 466.8,62 467.3,57.4 467.8,69.1 468.3,58.6 468.8,60.1 469.3,63.4 469.8,55.8 470.3,67.4 470.7,62.7 471.2,68.7 471.7,60.5 472.2,64.7 472.7,66.1 473.2,61.6 473.7,66.5 474.2,65.9 474.7,57.9 475.2,57.7 475.7,64.4 476.2,58.9 476.7,65.9 477.2,66.4 477.7,55.6 478.2,66.5 478.7,62.7 479.1,67.1 479.6,59.3 480.1,56.1 480.6,54.1 481.1,65.1 481.6,61.4 482.1,61.3 482.6,62.5 483.1,55.7 483.6,60.4 484.1,60.8 484.6,54.1 485.1,59.2 485.6,59.2 486.1,54.5 486.6,52.9 487,58 487.5,65.8 488,61.1 488.5,57.4 489,60 489.5,63.4 490,54.8 490.5,54.1 491,65.2 491.5,60.1 492,57.8 492.5,55.8 493,53.5 493.5,54.9 494,52.5 494.5,61.8 495,59.6 495.4,63.2 495.9,54 496.4,62.5 496.9,56 497.4,62.7 497.9,55.1 498.4,62.3 498.9,56.6 499.4,53 499.9,61.3 500.4,63.6 500.9,63.1 501.4,62 501.9,59.3 502.4,61.7 502.9,58.4 503.4,60.2 503.8,51.9 504.3,59.5 504.8,61.8 505.3,54.1 505.8,54.6 506.3,55 506.8,48.5 507.3,49.1 507.8,51.6 508.3,60.2 508.8,50 509.3,55 509.8,54.4 510.3,50.4 510.8,62 511.3,61.6 511.8,54.9 512.2,58.8 512.7,58.7 513.2,49.8 513.7,54.3 514.2,58.3 514.7,60.1 515.2,51.8 515.7,57 516.2,55.3 516.7,62 517.2,50.1 517.7,48.7 518.2,57.7 518.7,52.2 519.2,48.2 519.7,51.2 520.1,59.4 520.6,49.7 521.1,57 521.6,60.7 522.1,55.6 522.6,57.8 523.1,56 523.6,60.2 524.1,49.2 524.6,58.9 525.1,50.1 525.6,53.8 526.1,47.1 526.6,54.5 527.1,54.9 527.6,51.8 528.1,59.4 528.5,50.5 529,57.8 529.5,52.5 530,50.9 530.5,59 531,51.5 531.5,54.9 532,54.5 532.5,59.2 533,47.1 533.5,54.4 534,53.9 534.5,47.4 535,48.7 535.5,55.4 536,53.4 536.5,60.2 536.9,59.1 537.4,50 537.9,50.4 538.4,59.9 538.9,56.4 539.4,55.5 539.9,57.6 540.4,52.8 540.9,56.7 541.4,47 541.9,46.3 542.4,58.7 542.9,55.4 543.4,53 543.9,56.9 544.4,55.6 544.8,58.9 545.3,54.8 545.8,51.2 546.3,52 546.8,60.2 547.3,55.7 547.8,45.9 548.3,57.7 548.8,57.8 549.3,55.5 549.8,52.3 550.3,46.1 550.8,48 551.3,60 551.8,46.7 552.3,60.2 552.8,54.6 553.2,46.1 553.7,59 554.2,50.7 554.7,58.3 555.2,50.5 555.7,55.7 556.2,54.8 556.7,58 557.2,50.4 557.7,54.9 558.2,50.3 558.7,47 559.2,54 559.7,45.7 560.2,56.5 560.7,49.2 561.1,53.4 561.6,53.8 562.1,53.7 562.6,46.1 563.1,46.7 563.6,46.5 564.1,53.3 564.6,53.9 565.1,47.4 565.6,57.7 566.1,55 566.6,49.5 567.1,45.2 567.6,55 568.1,49.1 568.6,59.4 569.1,47.9 569.5,58.3 570,45.9 570.5,53.5 571,51.8 571.5,48.5 572,54.3 572.5,51.9 573,45.3 573.5,48.4" fill="none" stroke="#0072bd" stroke-width="1.9" stroke-linejoin="round"/>
</g>
<path d="M79.5,336.1h0M80,337.2h0M80.5,335.8h0M81,324.4h0M81.5,335.4h0M82,316.8h0M82.5,326h0M83,314h0M83.5,316.4h0M83.9,312.7h0M84.4,314.3h0M84.9,311h0M85.4,337h0M85.9,307.9h0M86.4,300.2h0M86.9,297.7h0M87.4,300.8h0M87.9,272.6h0M88.4,286h0M88.9,263.2h0M89.4,283.1h0M89.9,278.6h0M90.4,266.9h0M90.9,279.6h0M91.4,252.1h0M91.8,276.9h0M92.3,256.3h0M92.8,302.1h0M93.3,286.4h0M93.8,283.5h0M94.3,270.3h0M94.8,275.7h0M95.3,257.1h0M95.8,265.9h0M96.3,245.6h0M96.8,244.8h0M97.3,312.5h0M97.8,273.4h0M98.3,268.5h0M98.8,258.7h0M99.3,259.2h0M99.8,287.4h0M100.2,255.8h0M100.7,253.5h0M101.2,254.4h0M101.7,256.7h0M102.2,223.5h0M102.7,252.4h0M103.2,257.2h0M103.7,247.7h0M104.2,250.4h0M104.7,238.3h0M105.2,248.2h0M105.7,252.6h0M106.2,243.6h0M106.7,232.8h0M107.2,259.7h0M107.7,247.6h0M108.2,206.2h0M108.6,231.6h0M109.1,231.5h0M109.6,231.6h0M110.1,230.1h0M110.6,247.1h0M111.1,235.2h0M111.6,225.5h0M112.1,226.9h0M112.6,228.8h0M113.1,219.2h0M113.6,236h0M114.1,224h0M114.6,205.2h0M115.1,211.4h0M115.6,212.8h0M116.1,213.7h0M116.5,192.7h0M117,215.1h0M117.5,207.8h0M118,218.9h0M118.5,205.2h0M119,229.1h0M119.5,205h0M120,203.3h0M120.5,207h0M121,218.1h0M121.5,237.6h0M122,200.6h0M122.5,212.6h0M123,210.9h0M123.5,200.3h0M124,166.7h0M124.5,192h0M124.9,202.7h0M125.4,197.7h0M125.9,193.9h0M126.4,245h0M126.9,203.7h0M127.4,187.3h0M127.9,197h0M128.4,204.4h0M128.9,169.1h0M129.4,187.2h0M129.9,185.7h0M130.4,180.4h0M130.9,187.6h0M131.4,179.2h0M131.9,203.9h0M132.4,187.6h0M132.9,180.4h0M133.3,125.6h0M133.8,179.1h0M134.3,149.3h0M134.8,174.3h0M135.3,175.5h0M135.8,183.1h0M136.3,174h0M136.8,170.9h0M137.3,175.4h0M137.8,177.1h0M138.3,162.2h0M138.8,156.6h0M139.3,177.4h0M139.8,158.3h0M140.3,155.7h0M140.8,152.8h0M141.2,135.5h0M141.7,147h0M142.2,147.3h0M142.7,187.7h0M143.2,155.3h0M143.7,148.6h0M144.2,162.4h0M144.7,153h0M145.2,154.7h0M145.7,147.2h0M146.2,151h0M146.7,163.7h0M147.2,154h0M147.7,148.6h0M148.2,146.3h0M148.7,155.7h0M149.2,141.8h0M149.6,142.9h0M150.1,138.6h0M150.6,142.9h0M151.1,138.9h0M151.6,122.1h0M152.1,144.7h0M152.6,150.2h0M153.1,131.8h0M153.6,109.7h0M154.1,145.9h0M154.6,146.6h0M155.1,163.1h0M155.6,167.3h0M156.1,145.5h0M156.6,143.3h0M157.1,148.3h0M157.6,139h0M158,139.3h0M158.5,145.5h0M159,163h0M159.5,149.4h0M160,134.3h0M160.5,135.6h0M161,132.3h0M161.5,154.9h0M162,141.2h0M162.5,142.4h0M163,148.1h0M163.5,126.1h0M164,139.7h0M164.5,128.6h0M165,142.3h0M165.5,137.7h0M165.9,161.6h0M166.4,115.1h0M166.9,109.9h0M167.4,118.7h0M167.9,149.1h0M168.4,183h0M168.9,127.5h0M169.4,124.3h0M169.9,106.4h0M170.4,128.4h0M170.9,121.4h0M171.4,133.9h0M171.9,105.6h0M172.4,137.9h0M172.9,130.8h0M173.4,143.3h0M173.9,134.1h0M174.3,146.4h0M174.8,124.6h0M175.3,132.7h0M175.8,147.9h0M176.3,107.1h0M176.8,115.7h0M177.3,137.6h0M177.8,124.6h0M178.3,134.9h0M178.8,153h0M179.3,76.9h0M179.8,144.2h0M180.3,129.2h0M180.8,122.6h0M181.3,128.6h0M181.8,130.3h0M182.3,141.9h0M182.7,148.3h0M183.2,126.7h0M183.7,131.7h0M184.2,130.5h0M184.7,101.1h0M185.2,150h0M185.7,128.9h0M186.2,129.4h0M186.7,121.9h0M187.2,129.4h0M187.7,136.9h0M188.2,126.5h0M188.7,150h0M189.2,136.4h0M189.7,121.4h0M190.2,128.8h0M190.7,136.4h0M191.1,125h0M191.6,123.2h0M192.1,131h0M192.6,147.1h0M193.1,120h0M193.6,119.3h0M194.1,133.3h0M194.6,134.5h0M195.1,119.9h0M195.6,136.3h0M196.1,126.6h0M196.6,131.3h0M197.1,124h0M197.6,138.6h0M198.1,126.2h0M198.6,127.7h0M199,132.2h0M199.5,120.8h0M200,127.4h0M200.5,122.3h0M201,113.2h0M201.5,123h0M202,148.1h0M202.5,94.2h0M203,116.7h0M203.5,123.5h0M204,117.7h0M204.5,115h0M205,119.4h0M205.5,118.2h0M206,116.3h0M206.5,97.7h0M207,118.1h0M207.4,106.4h0M207.9,117.1h0M208.4,124.7h0M208.9,115.7h0M209.4,124.2h0M209.9,164.9h0M210.4,117.9h0M210.9,110.9h0M211.4,99.1h0M211.9,113.9h0M212.4,127.1h0M212.9,127.3h0M213.4,108.7h0M213.9,115.3h0M214.4,122.4h0M214.9,81.8h0M215.4,110.8h0M215.8,117.3h0M216.3,115.6h0M216.8,121.8h0M217.3,102.7h0M217.8,146.2h0M218.3,109.6h0M218.8,128.4h0M219.3,118.2h0M219.8,99.4h0M220.3,108.8h0M220.8,76.7h0M221.3,111h0M221.8,106.1h0M222.3,48.1h0M222.8,126.8h0M223.3,108.6h0M223.7,107.2h0M224.2,105.1h0M224.7,100.4h0M225.2,105.1h0M225.7,100.9h0M226.2,119.9h0M226.7,98.9h0M227.2,104h0M227.7,100.5h0M228.2,118.3h0M228.7,142.3h0M229.2,108.3h0M229.7,91.8h0M230.2,94.8h0M230.7,102h0M231.2,52h0M231.7,92.4h0M232.1,94.4h0M232.6,93.9h0M233.1,61.5h0M233.6,100.5h0M234.1,88.2h0M234.6,65.5h0M235.1,62.7h0M235.6,62h0M236.1,86.4h0M236.6,84.6h0M237.1,65.5h0M237.6,99.7h0M238.1,94.4h0M238.6,85.9h0M239.1,97.5h0M239.6,88.9h0M240.1,121.1h0M240.5,80h0M241,92.6h0M241.5,79.7h0M242,89.2h0M242.5,122h0M243,91.6h0M243.5,69.9h0M244,118.4h0M244.5,84.2h0M245,96.8h0M245.5,84h0M246,105h0M246.5,72.7h0M247,88.9h0M247.5,88.5h0M248,86.3h0M248.4,83.6h0M248.9,90.5h0M249.4,87.4h0M249.9,74.6h0M250.4,104.7h0M250.9,84.4h0M251.4,87h0M251.9,75.9h0M252.4,76.7h0M252.9,109.3h0M253.4,86.5h0M253.9,63.6h0M254.4,85.1h0M254.9,88.4h0M255.4,87.8h0M255.9,84.9h0M256.4,76h0M256.8,85h0M257.3,81.7h0M257.8,76.9h0M258.3,66.6h0M258.8,72.1h0M259.3,76.7h0M259.8,85.6h0M260.3,68.8h0M260.8,70.2h0M261.3,58.2h0M261.8,71.3h0M262.3,73.1h0M262.8,61.4h0M263.3,86h0M263.8,67.4h0M264.3,104h0M264.8,75.7h0M265.2,63.5h0M265.7,74.5h0M266.2,66.2h0M266.7,89.4h0M267.2,102.7h0M267.7,67.8h0M268.2,78.1h0M268.7,49h0M269.2,83h0M269.7,77h0M270.2,59.9h0M270.7,62.8h0M271.2,72.1h0M271.7,81.6h0M272.2,74.2h0M272.7,73.6h0M273.1,72.3h0M273.6,82.5h0M274.1,68h0M274.6,91h0M275.1,73.5h0M275.6,108.1h0M276.1,42.8h0M276.6,77.5h0M277.1,73.9h0M277.6,100.4h0M278.1,71.2h0M278.6,71.3h0M279.1,76.5h0M279.6,67.2h0M280.1,63.1h0M280.6,67.1h0M281.1,39.5h0M281.5,76.7h0M282,78.1h0M282.5,71.5h0M283,76.2h0M283.5,65.4h0M284,74.7h0M284.5,66.1h0M285,70.9h0M285.5,73.1h0M286,71.6h0M286.5,72.3h0M287,74h0M287.5,51.5h0M288,83.9h0M288.5,54.9h0M289,81.4h0M289.4,66.1h0M289.9,77.6h0M290.4,71.2h0M290.9,83.5h0M291.4,79.4h0M291.9,73.8h0M292.4,79.8h0M292.9,71.6h0M293.4,74.2h0M293.9,72.7h0M294.4,71.1h0M294.9,74.4h0M295.4,67h0M295.9,72.6h0M296.4,109.6h0M296.9,74.1h0M297.4,77.1h0M297.8,82.9h0M298.3,71h0M298.8,73.7h0M299.3,130.5h0M299.8,61.6h0M300.3,85.4h0M300.8,118.3h0M301.3,113.1h0M301.8,75.1h0M302.3,93.8h0M302.8,68.4h0M303.3,60.1h0M303.8,71.4h0M304.3,74.4h0M304.8,80.7h0M305.3,79.1h0M305.8,82.2h0M306.2,60.4h0M306.7,87.9h0M307.2,77.6h0M307.7,81.4h0M308.2,74.1h0M308.7,48.7h0M309.2,61.1h0M309.7,85h0M310.2,29h0M310.7,72.6h0M311.2,87.2h0M311.7,85.2h0M312.2,111.6h0M312.7,76.5h0M313.2,71.2h0M313.7,115.7h0M314.1,65.1h0M314.6,80.1h0M315.1,63.5h0M315.6,86.2h0M316.1,76.3h0M316.6,81.6h0M317.1,56h0M317.6,79.7h0M318.1,40.3h0M318.6,88.7h0M319.1,85.7h0M319.6,71.6h0M320.1,96.8h0M320.6,94.9h0M321.1,72.4h0M321.6,84h0M322.1,73.2h0M322.5,66.9h0M323,64.2h0M323.5,89.7h0M324,80.8h0M324.5,77.4h0M325,86.6h0M325.5,108.6h0M326,96.6h0M326.5,83.5h0M327,92.4h0M327.5,83.4h0M328,57.9h0M328.5,94.6h0M329,92.7h0M329.5,84.6h0M330,52.5h0M330.5,84.6h0M330.9,91.2h0M331.4,54.8h0M331.9,73.4h0M332.4,66.6h0M332.9,86.9h0M333.4,89.9h0M333.9,85.9h0M334.4,83.8h0M334.9,89.1h0M335.4,93.5h0M335.9,84.7h0M336.4,94.3h0M336.9,86h0M337.4,82.6h0M337.9,79.6h0M338.4,138.6h0M338.9,86.7h0M339.3,86.6h0M339.8,90.3h0M340.3,83.4h0M340.8,98.1h0M341.3,72.2h0M341.8,105h0M342.3,71.2h0M342.8,84.2h0M343.3,88h0M343.8,47.7h0M344.3,83.1h0M344.8,68.3h0M345.3,76.4h0M345.8,93h0M346.3,64.1h0M346.8,85.5h0M347.2,93.2h0M347.7,65.7h0M348.2,103h0M348.7,102.2h0M349.2,103.3h0M349.7,107.8h0M350.2,59.5h0M350.7,92.5h0M351.2,111.7h0M351.7,86h0M352.2,52.2h0M352.7,93.9h0M353.2,68.4h0M353.7,93.6h0M354.2,74.8h0M354.7,86h0M355.2,88.8h0M355.6,84.3h0M356.1,81.2h0M356.6,76.2h0M357.1,102.2h0M357.6,95.6h0M358.1,94.8h0M358.6,48.3h0M359.1,96.1h0M359.6,89.6h0M360.1,97.8h0M360.6,97.3h0M361.1,86.9h0M361.6,89.4h0M362.1,89.1h0M362.6,115.3h0M363.1,92.8h0M363.5,93.7h0M364,87.9h0M364.5,95.3h0M365,89.4h0M365.5,97.6h0M366,82.3h0M366.5,85.3h0M367,90.6h0M367.5,108.4h0M368,104.1h0M368.5,80.8h0M369,89.2h0M369.5,89.5h0M370,85.3h0M370.5,83.5h0M371,77h0M371.5,88.8h0M371.9,114.7h0M372.4,79.4h0M372.9,89.3h0M373.4,89.2h0M373.9,101.8h0M374.4,66.3h0M374.9,83.9h0M375.4,90.2h0M375.9,84.6h0M376.4,76.2h0M376.9,94.3h0M377.4,92.7h0M377.9,80h0M378.4,109.8h0M378.9,85h0M379.4,98.3h0M379.9,80.3h0M380.3,87.7h0M380.8,80.7h0M381.3,94.1h0M381.8,68.8h0M382.3,88.7h0M382.8,87.4h0M383.3,90.6h0M383.8,82.8h0M384.3,85.8h0M384.8,86.4h0M385.3,87.2h0M385.8,83.9h0M386.3,78.6h0M386.8,55.3h0M387.3,83.6h0M387.8,83.4h0M388.2,82.5h0M388.7,82.6h0M389.2,86.1h0M389.7,73.1h0M390.2,59.4h0M390.7,82.9h0M391.2,55h0M391.7,76.7h0M392.2,83.7h0M392.7,82h0M393.2,99.6h0M393.7,69.1h0M394.2,56h0M394.7,77.5h0M395.2,52.6h0M395.7,82.6h0M396.2,82.3h0M396.6,78.6h0M397.1,54.4h0M397.6,82.5h0M398.1,71.6h0M398.6,73.1h0M399.1,94.7h0M399.6,82h0M400.1,103.9h0M400.6,77.6h0M401.1,74h0M401.6,41.6h0M402.1,83.3h0M402.6,61.3h0M403.1,79.3h0M403.6,89.4h0M404.1,81h0M404.6,57.1h0M405,101.3h0M405.5,68.9h0M406,73.8h0M406.5,86.3h0M407,62.8h0M407.5,90.4h0M408,71h0M408.5,69.9h0M409,68.4h0M409.5,88.2h0M410,76.1h0M410.5,67h0M411,75.9h0M411.5,78.8h0M412,80.9h0M412.5,81.7h0M413,53.9h0M413.4,68.9h0M413.9,73.9h0M414.4,77h0M414.9,75.6h0M415.4,72.6h0M415.9,75.6h0M416.4,78.4h0M416.9,77.4h0M417.4,76.3h0M417.9,75.5h0M418.4,76.6h0M418.9,66.3h0M419.4,67.3h0M419.9,79.8h0M420.4,75.2h0M420.9,88h0M421.3,63.2h0M421.8,77h0M422.3,74.5h0M422.8,82.3h0M423.3,70.4h0M423.8,73.7h0M424.3,76.5h0M424.8,73.9h0M425.3,78.8h0M425.8,79.1h0M426.3,74.2h0M426.8,73.2h0M427.3,77.4h0M427.8,84.3h0M428.3,76.9h0M428.8,73h0M429.3,66.3h0M429.7,67.7h0M430.2,79.6h0M430.7,64.8h0M431.2,75h0M431.7,75h0M432.2,79.2h0M432.7,74.5h0M433.2,82.3h0M433.7,75.1h0M434.2,73.2h0M434.7,70h0M435.2,76.3h0M435.7,77.3h0M436.2,74h0M436.7,73.6h0M437.2,75.7h0M437.6,58.2h0M438.1,66.2h0M438.6,75.6h0M439.1,77h0M439.6,77h0M440.1,73.6h0M440.6,77.5h0M441.1,76.2h0M441.6,78.3h0M442.1,75.3h0M442.6,79.7h0M443.1,80.1h0M443.6,80.9h0M444.1,73.9h0M444.6,77.2h0M445.1,84.6h0M445.6,77h0M446,79.3h0M446.5,76.5h0M447,68.6h0M447.5,76h0M448,75.8h0M448.5,79.9h0M449,78h0M449.5,78.1h0M450,80.1h0M450.5,74.9h0M451,81.3h0M451.5,72.8h0M452,53.5h0M452.5,72.3h0M453,80h0M453.5,79.4h0M454,77.5h0M454.4,77.7h0M454.9,81.6h0M455.4,76.9h0M455.9,89.1h0M456.4,80.3h0M456.9,81.1h0M457.4,72.6h0M457.9,82h0M458.4,86h0M458.9,67.9h0M459.4,81.1h0M459.9,81.2h0M460.4,80.1h0M460.9,78.7h0M461.4,78.5h0M461.9,81.9h0M462.4,80.6h0M462.8,76.1h0M463.3,86.1h0M463.8,72.4h0M464.3,87.3h0M464.8,84h0M465.3,81.5h0M465.8,81.8h0M466.3,74.2h0M466.8,80.4h0M467.3,79.1h0M467.8,86.7h0M468.3,80.6h0M468.8,76.2h0M469.3,81h0M469.8,82.1h0M470.3,81.8h0M470.7,79.4h0M471.2,82.1h0M471.7,79.8h0M472.2,83.3h0M472.7,81.6h0M473.2,80.5h0M473.7,84.2h0M474.2,82.7h0M474.7,85.8h0M475.2,81.6h0M475.7,89.4h0M476.2,83h0M476.7,86.7h0M477.2,82.1h0M477.7,84.8h0M478.2,94h0M478.7,84.2h0M479.1,82h0M479.6,84h0M480.1,84.2h0M480.6,82.3h0M481.1,83.2h0M481.6,83.6h0M482.1,80.6h0M482.6,85.2h0M483.1,87.2h0M483.6,84h0M484.1,83.2h0M484.6,81.4h0M485.1,85.6h0M485.6,80.7h0M486.1,83.8h0M486.6,81.9h0M487,87.2h0M487.5,83.3h0M488,83.6h0M488.5,83.6h0M489,77.3h0M489.5,87.4h0M490,89.1h0M490.5,84.4h0M491,82.5h0M491.5,83.2h0M492,83.4h0M492.5,83.9h0M493,76.6h0M493.5,80.7h0M494,83h0M494.5,85.3h0M495,77.9h0M495.4,82.1h0M495.9,84.4h0M496.4,82.7h0M496.9,83.6h0M497.4,85.1h0M497.9,82h0M498.4,85.7h0M498.9,80.1h0M499.4,82h0M499.9,80.8h0M500.4,80.8h0M500.9,84.3h0M501.4,83.4h0M501.9,82.9h0M502.4,84h0M502.9,81.6h0M503.4,81.2h0M503.8,83.2h0M504.3,83.6h0M504.8,81.2h0M505.3,80.1h0M505.8,81.7h0M506.3,82.5h0M506.8,82.1h0M507.3,83.7h0M507.8,80.5h0M508.3,82.3h0M508.8,71.3h0M509.3,82.9h0M509.8,82.1h0M510.3,83.3h0M510.8,82.8h0M511.3,79.8h0M511.8,78.8h0M512.2,79.9h0M512.7,80.7h0M513.2,80.4h0M513.7,83.1h0M514.2,80.7h0M514.7,81.4h0M515.2,79.5h0M515.7,80.2h0M516.2,83.1h0M516.7,80h0M517.2,80.9h0M517.7,82.4h0M518.2,82.3h0M518.7,80.1h0M519.2,80.2h0M519.7,84h0M520.1,80.3h0M520.6,81.5h0M521.1,84h0M521.6,80h0M522.1,80.9h0M522.6,79.2h0M523.1,81.1h0M523.6,78.2h0M524.1,73.1h0M524.6,79.6h0M525.1,79.9h0M525.6,81.6h0M526.1,80.9h0M526.6,83.3h0M527.1,80.7h0M527.6,81.3h0M528.1,80.7h0M528.5,80.9h0M529,86.3h0M529.5,79.9h0M530,82.1h0M530.5,81.5h0M531,79.8h0M531.5,80.4h0M532,79.2h0M532.5,78.2h0M533,80.9h0M533.5,80.7h0M534,78.5h0M534.5,76.7h0M535,79.4h0M535.5,75.4h0M536,79h0M536.5,78h0M536.9,79.8h0M537.4,81.1h0M537.9,80h0M538.4,78.3h0M538.9,78.5h0M539.4,74.9h0M539.9,80h0M540.4,83.8h0M540.9,79.8h0M541.4,77.5h0M541.9,79.6h0M542.4,81.1h0M542.9,81.1h0M543.4,80.9h0M543.9,79.1h0M544.4,78.8h0M544.8,78.6h0M545.3,78.5h0M545.8,79h0M546.3,78.8h0M546.8,78.5h0M547.3,80.3h0M547.8,75.3h0M548.3,79.5h0M548.8,83.4h0M549.3,81.1h0M549.8,80.7h0M550.3,78.3h0M550.8,73h0M551.3,79h0M551.8,79.4h0M552.3,79.1h0M552.8,74.1h0M553.2,82.1h0M553.7,78.1h0M554.2,81.9h0M554.7,81.2h0M555.2,78.6h0M555.7,77.7h0M556.2,80.7h0M556.7,77.2h0M557.2,78.3h0M557.7,78.4h0M558.2,76.8h0M558.7,78h0M559.2,79h0M559.7,77.8h0M560.2,79.5h0M560.7,77.6h0M561.1,78.8h0M561.6,80.4h0M562.1,78.7h0M562.6,78.3h0M563.1,78.6h0M563.6,78.4h0M564.1,78.2h0M564.6,78.5h0M565.1,79.8h0M565.6,79.6h0M566.1,78.1h0M566.6,77.6h0M567.1,79.6h0M567.6,81.2h0M568.1,78.5h0M568.6,77.2h0M569.1,77.4h0M569.5,75.6h0M570,78.3h0M570.5,78.9h0M571,78.4h0M571.5,77.8h0M572,77.8h0M572.5,78.5h0M573,77.2h0M573.5,79h0" fill="none" stroke="#77ac30" stroke-width="2.05" stroke-linecap="round"/>
<path d="M79.5,302.1h0M80,336.5h0M80.5,333.5h0M81,331.6h0M81.5,330.3h0M82,319.6h0M82.5,331.1h0M83,304.6h0M83.5,315h0M83.9,311.3h0M84.4,313.3h0M84.9,336.3h0M85.4,333.4h0M85.9,309.6h0M86.4,301.3h0M86.9,301.1h0M87.4,299.9h0M87.9,294.1h0M88.4,286.3h0M88.9,293.3h0M89.4,275.4h0M89.9,267.7h0M90.4,285.8h0M90.9,308.7h0M91.4,285.6h0M91.8,284.5h0M92.3,278.6h0M92.8,276.5h0M93.3,276.7h0M93.8,254.6h0M94.3,274.5h0M94.8,277.5h0M95.3,263.9h0M95.8,274.6h0M96.3,267.6h0M96.8,269.7h0M97.3,266h0M97.8,264.4h0M98.3,281.4h0M98.8,259.6h0M99.3,283.6h0M99.8,239.7h0M100.2,261.2h0M100.7,257.1h0M101.2,261.9h0M101.7,251.6h0M102.2,252.3h0M102.7,248.3h0M103.2,237.5h0M103.7,249h0M104.2,248.1h0M104.7,246h0M105.2,233.5h0M105.7,250.5h0M106.2,265.1h0M106.7,249.5h0M107.2,231.3h0M107.7,241.4h0M108.2,232.8h0M108.6,239.4h0M109.1,229.7h0M109.6,240.5h0M110.1,225.5h0M110.6,228.6h0M111.1,231.3h0M111.6,225h0M112.1,226.7h0M112.6,236h0M113.1,231h0M113.6,218.7h0M114.1,222.9h0M114.6,225.3h0M115.1,219.9h0M115.6,225.8h0M116.1,216.5h0M116.5,218.8h0M117,231.4h0M117.5,211.1h0M118,232.7h0M118.5,209.3h0M119,208.8h0M119.5,203.5h0M120,209.5h0M120.5,208.1h0M121,201.1h0M121.5,235.2h0M122,203.6h0M122.5,196.5h0M123,198.3h0M123.5,208.6h0M124,156.3h0M124.5,197.9h0M124.9,206.7h0M125.4,222.3h0M125.9,195.8h0M126.4,184.7h0M126.9,187.1h0M127.4,202.8h0M127.9,204.3h0M128.4,155.5h0M128.9,208.7h0M129.4,188.8h0M129.9,193.5h0M130.4,181.9h0M130.9,180.3h0M131.4,172.2h0M131.9,153.8h0M132.4,170.2h0M132.9,171.7h0M133.3,179.2h0M133.8,150.7h0M134.3,163.9h0M134.8,180.1h0M135.3,167.1h0M135.8,161.4h0M136.3,162.4h0M136.8,161.8h0M137.3,176.6h0M137.8,153.1h0M138.3,162.3h0M138.8,157.7h0M139.3,166.3h0M139.8,163.1h0M140.3,168.6h0M140.8,181h0M141.2,154.9h0M141.7,172.9h0M142.2,117.4h0M142.7,165.6h0M143.2,164.9h0M143.7,146.1h0M144.2,148.2h0M144.7,145.6h0M145.2,153.4h0M145.7,150.2h0M146.2,151.8h0M146.7,151.4h0M147.2,152.5h0M147.7,162.5h0M148.2,158.3h0M148.7,141.5h0M149.2,156.8h0M149.6,136.5h0M150.1,149.6h0M150.6,146.5h0M151.1,153.9h0M151.6,151h0M152.1,146.8h0M152.6,133.2h0M153.1,144.4h0M153.6,127.3h0M154.1,157.4h0M154.6,151.5h0M155.1,119.3h0M155.6,151.1h0M156.1,143.7h0M156.6,171.1h0M157.1,143.1h0M157.6,143.6h0M158,138.6h0M158.5,147.3h0M159,147.4h0M159.5,147.9h0M160,124.3h0M160.5,133.8h0M161,138.3h0M161.5,135.7h0M162,129.1h0M162.5,136.9h0M163,149.9h0M163.5,140.9h0M164,145h0M164.5,141.2h0M165,168.2h0M165.5,136.4h0M165.9,144.6h0M166.4,133.8h0M166.9,154.5h0M167.4,95.6h0M167.9,141h0M168.4,144.2h0M168.9,142.8h0M169.4,156.4h0M169.9,140.3h0M170.4,142h0M170.9,150.3h0M171.4,135.9h0M171.9,136.3h0M172.4,135.8h0M172.9,133.9h0M173.4,140.9h0M173.9,133.7h0M174.3,143.9h0M174.8,179.1h0M175.3,123.1h0M175.8,125.7h0M176.3,122.2h0M176.8,125.3h0M177.3,136.2h0M177.8,129.3h0M178.3,145.2h0M178.8,135.3h0M179.3,132.2h0M179.8,94.9h0M180.3,135.2h0M180.8,138.5h0M181.3,137.5h0M181.8,110.8h0M182.3,119.5h0M182.7,129.5h0M183.2,140.8h0M183.7,126h0M184.2,131.1h0M184.7,132h0M185.2,102.9h0M185.7,135.3h0M186.2,121.4h0M186.7,161.1h0M187.2,133.8h0M187.7,117.5h0M188.2,94.3h0M188.7,135.1h0M189.2,135.5h0M189.7,165.3h0M190.2,158.7h0M190.7,130.2h0M191.1,130.6h0M191.6,83h0M192.1,123.5h0M192.6,122.2h0M193.1,128h0M193.6,133.9h0M194.1,107.5h0M194.6,145.1h0M195.1,133.2h0M195.6,118.6h0M196.1,89.2h0M196.6,110.3h0M197.1,150.8h0M197.6,132.4h0M198.1,148.4h0M198.6,131h0M199,145h0M199.5,121.7h0M200,122.1h0M200.5,111.9h0M201,93.2h0M201.5,173.3h0M202,126.8h0M202.5,126.6h0M203,114.6h0M203.5,119.9h0M204,148.8h0M204.5,140.6h0M205,80h0M205.5,126.5h0M206,123.2h0M206.5,117.1h0M207,119.4h0M207.4,126.1h0M207.9,121.3h0M208.4,119.4h0M208.9,152.4h0M209.4,102.6h0M209.9,114.2h0M210.4,118.8h0M210.9,120.1h0M211.4,109.5h0M211.9,129.6h0M212.4,108.1h0M212.9,114.6h0M213.4,140h0M213.9,111.6h0M214.4,133.9h0M214.9,106h0M215.4,155.9h0M215.8,99.8h0M216.3,111.4h0M216.8,117.3h0M217.3,108.9h0M217.8,133.5h0M218.3,84.7h0M218.8,104.8h0M219.3,106.6h0M219.8,94.8h0M220.3,159.5h0M220.8,108h0M221.3,109.3h0M221.8,114.4h0M222.3,120h0M222.8,101.5h0M223.3,77.8h0M223.7,102.9h0M224.2,79.4h0M224.7,109.6h0M225.2,91.9h0M225.7,76.8h0M226.2,94.8h0M226.7,102.9h0M227.2,107.1h0M227.7,100.9h0M228.2,104.4h0M228.7,92.8h0M229.2,95.2h0M229.7,66.4h0M230.2,98.6h0M230.7,70.5h0M231.2,108.3h0M231.7,80.2h0M232.1,78.6h0M232.6,110.2h0M233.1,100.2h0M233.6,55.4h0M234.1,91h0M234.6,108.7h0M235.1,96.1h0M235.6,100.6h0M236.1,106.9h0M236.6,93.7h0M237.1,113.1h0M237.6,94.4h0M238.1,63.4h0M238.6,85h0M239.1,103.6h0M239.6,94.9h0M240.1,64.3h0M240.5,70h0M241,94.4h0M241.5,75.1h0M242,89.4h0M242.5,90.6h0M243,93.1h0M243.5,79.7h0M244,95h0M244.5,87.1h0M245,89.1h0M245.5,71.4h0M246,81.9h0M246.5,129h0M247,83.3h0M247.5,88.4h0M248,94.8h0M248.4,94.4h0M248.9,81.4h0M249.4,81.6h0M249.9,81.5h0M250.4,80.9h0M250.9,88.4h0M251.4,81.8h0M251.9,83.9h0M252.4,78.6h0M252.9,89.6h0M253.4,91.5h0M253.9,71.4h0M254.4,34.3h0M254.9,70h0M255.4,62.7h0M255.9,89.4h0M256.4,85.9h0M256.8,85.1h0M257.3,61.2h0M257.8,83.5h0M258.3,71.9h0M258.8,79.4h0M259.3,75.4h0M259.8,76.3h0M260.3,24.1h0M260.8,89.7h0M261.3,74.2h0M261.8,84.7h0M262.3,74.8h0M262.8,54.3h0M263.3,58.9h0M263.8,72h0M264.3,77.4h0M264.8,72.8h0M265.2,81.3h0M265.7,74.1h0M266.2,71.3h0M266.7,73.1h0M267.2,84.2h0M267.7,64.9h0M268.2,66.6h0M268.7,99.5h0M269.2,21.7h0M269.7,73.3h0M270.2,75.4h0M270.7,45.3h0M271.2,46.4h0M271.7,100.8h0M272.2,64.4h0M272.7,71.7h0M273.1,71.3h0M273.6,71.7h0M274.1,57.8h0M274.6,35.4h0M275.1,78.7h0M275.6,82h0M276.1,67.9h0M276.6,70.1h0M277.1,66.5h0M277.6,78.9h0M278.1,68h0M278.6,77.3h0M279.1,77.3h0M279.6,51h0M280.1,38.5h0M280.6,73.7h0M281.1,74.3h0M281.5,76.4h0M282,74.8h0M282.5,95.8h0M283,50h0M283.5,71.6h0M284,58.6h0M284.5,97.6h0M285,68.6h0M285.5,66.8h0M286,65.6h0M286.5,67.2h0M287,68.8h0M287.5,79.5h0M288,75.3h0M288.5,63.4h0M289,65.9h0M289.4,98.2h0M289.9,76.1h0M290.4,68h0M290.9,67.1h0M291.4,74.1h0M291.9,58.3h0M292.4,71.6h0M292.9,77.1h0M293.4,76.4h0M293.9,80.3h0M294.4,69.6h0M294.9,70.5h0M295.4,76.6h0M295.9,67.9h0M296.4,80.9h0M296.9,74.7h0M297.4,76.2h0M297.8,75.7h0M298.3,74.3h0M298.8,77.8h0M299.3,45.4h0M299.8,43.9h0M300.3,96h0M300.8,76.1h0M301.3,95.5h0M301.8,75.1h0M302.3,76.4h0M302.8,77.2h0M303.3,102.6h0M303.8,84h0M304.3,76.1h0M304.8,44.4h0M305.3,85.7h0M305.8,73.6h0M306.2,89.2h0M306.7,22.1h0M307.2,76.3h0M307.7,72.4h0M308.2,72.4h0M308.7,81h0M309.2,110.8h0M309.7,79.6h0M310.2,83.8h0M310.7,78.8h0M311.2,53.3h0M311.7,42.1h0M312.2,78.4h0M312.7,79.4h0M313.2,88.1h0M313.7,85.3h0M314.1,48.9h0M314.6,79h0M315.1,82.4h0M315.6,76.8h0M316.1,59.2h0M316.6,49h0M317.1,97h0M317.6,109.1h0M318.1,57.9h0M318.6,79.2h0M319.1,94.9h0M319.6,76.1h0M320.1,101.8h0M320.6,98.3h0M321.1,83.3h0M321.6,54.9h0M322.1,84.7h0M322.5,137.3h0M323,88.7h0M323.5,105.8h0M324.5,62.9h0M325,91.1h0M325.5,86h0M326,85.2h0M326.5,84.1h0M327,74.4h0M327.5,94.1h0M328,94.4h0M328.5,94h0M329,94.4h0M329.5,86.4h0M330,72.5h0M330.5,84.3h0M330.9,91.5h0M331.4,77.9h0M331.9,89.6h0M332.4,88.6h0M332.9,90.3h0M333.4,112.3h0M333.9,93h0M334.4,62.3h0M334.9,94.6h0M335.4,89.4h0M335.9,92.9h0M336.4,87.4h0M336.9,121.9h0M337.4,92.4h0M337.9,88.7h0M338.4,82.6h0M338.9,80.2h0M339.3,49h0M339.8,86h0M340.3,67.1h0M340.8,98.4h0M341.3,91h0M341.8,97h0M342.3,92.6h0M342.8,95h0M343.3,90.9h0M343.8,93.6h0M344.3,131.5h0M344.8,83.9h0M345.3,103h0M345.8,91.5h0M346.3,97.4h0M346.8,69.1h0M347.2,95.1h0M347.7,101.2h0M348.2,96.4h0M348.7,96.1h0M349.2,97.9h0M349.7,91.6h0M350.2,88h0M350.7,86.1h0M351.2,115.5h0M351.7,92.2h0M352.2,50.2h0M352.7,85.3h0M353.2,99.8h0M353.7,111.2h0M354.2,87.4h0M354.7,88.6h0M355.2,125.9h0M355.6,96h0M356.1,86.1h0M356.6,77.4h0M357.1,154.4h0M357.6,95.3h0M358.1,93.4h0M358.6,96.9h0M359.1,91.8h0M359.6,94.8h0M360.1,120.6h0M360.6,50.5h0M361.1,93.6h0M361.6,82h0M362.1,92.9h0M362.6,86.8h0M363.1,103.3h0M363.5,78.6h0M364,91.2h0M364.5,79.6h0M365,99.8h0M365.5,93.7h0M366,75.5h0M366.5,87.6h0M367,57.6h0M367.5,83.3h0M368,80.8h0M368.5,74.3h0M369,71.5h0M369.5,86.9h0M370,81.4h0M370.5,81.7h0M371,92.8h0M371.5,87.6h0M371.9,90h0M372.4,130.7h0M372.9,93.8h0M373.4,86.9h0M373.9,116.5h0M374.4,66.6h0M374.9,103h0M375.4,83.2h0M375.9,86.4h0M376.4,131h0M376.9,77.3h0M377.4,89.8h0M377.9,88h0M378.4,57.8h0M378.9,105.1h0M379.4,56.8h0M379.9,71.1h0M380.3,93.6h0M380.8,91.3h0M381.3,86.8h0M381.8,85.9h0M382.3,108.9h0M382.8,61.2h0M383.3,79.8h0M383.8,83.3h0M384.3,87.3h0M384.8,83.2h0M385.3,63.9h0M385.8,86.7h0M386.3,89.3h0M386.8,83.7h0M387.3,98.3h0M387.8,87.2h0M388.2,84.5h0M388.7,83.7h0M389.2,87.8h0M389.7,79.9h0M390.2,72.5h0M390.7,75.4h0M391.2,89.1h0M391.7,86h0M392.2,81.2h0M392.7,72.6h0M393.2,87.8h0M393.7,71.2h0M394.2,93.2h0M394.7,73.1h0M395.2,79.7h0M395.7,73.7h0M396.2,76.1h0M396.6,76.9h0M397.1,80.2h0M397.6,76.4h0M398.1,84.3h0M398.6,83.1h0M399.1,81.1h0M399.6,88.9h0M400.1,80.4h0M400.6,91.5h0M401.1,79.7h0M401.6,82.8h0M402.1,78.9h0M402.6,84.8h0M403.1,82.5h0M403.6,76.2h0M404.1,70.2h0M404.6,80.1h0M405,58.9h0M405.5,76h0M406,75.6h0M406.5,59.7h0M407,73.4h0M407.5,48.6h0M408,75.1h0M408.5,67.6h0M409,72.5h0M409.5,80h0M410,67.4h0M410.5,82.2h0M411,78.2h0M411.5,80.6h0M412,79.7h0M412.5,77.1h0M413,75.9h0M413.4,76.4h0M413.9,76.9h0M414.4,75.4h0M414.9,79.3h0M415.4,76.9h0M415.9,76.1h0M416.4,72.7h0M416.9,78.7h0M417.4,73.9h0M417.9,75.5h0M418.4,77.2h0M418.9,80.5h0M419.4,81.1h0M419.9,72.4h0M420.4,70.1h0M420.9,77.4h0M421.3,74.1h0M421.8,68.8h0M422.3,70h0M422.8,82.3h0M423.3,58h0M423.8,86h0M424.3,71h0M424.8,70.1h0M425.3,73.5h0M425.8,63.8h0M426.3,81.2h0M426.8,75.4h0M427.3,78.3h0M427.8,71.2h0M428.3,76.4h0M428.8,74.9h0M429.3,72.4h0M429.7,72.1h0M430.2,66.6h0M430.7,77.3h0M431.2,74.5h0M431.7,75.1h0M432.2,73.1h0M432.7,79.8h0M433.2,76.4h0M433.7,54.5h0M434.2,73.7h0M434.7,78.9h0M435.2,71.2h0M435.7,74.9h0M436.2,76.2h0M436.7,72.3h0M437.2,73.1h0M437.6,81.8h0M438.1,77.2h0M438.6,77.9h0M439.1,77.5h0M439.6,80.7h0M440.1,77.9h0M440.6,71.5h0M441.1,78.6h0M441.6,81.7h0M442.1,77.9h0M442.6,77.8h0M443.1,83.3h0M443.6,77.7h0M444.1,79.9h0M444.6,73.3h0M445.1,78.8h0M445.6,77.7h0M446,80.2h0M446.5,80.1h0M447,71.2h0M447.5,77.2h0M448,84.1h0M448.5,77.4h0M449,79.3h0M449.5,78.8h0M450,79.1h0M450.5,79.1h0M451,48.1h0M451.5,78.5h0M452,76.5h0M452.5,80.7h0M453,77.5h0M453.5,77.9h0M454,83.9h0M454.4,81.3h0M454.9,80.6h0M455.4,76.9h0M455.9,79h0M456.4,77.4h0M456.9,78.7h0M457.4,80.8h0M457.9,78.9h0M458.4,85.9h0M458.9,85.5h0M459.4,85.4h0M459.9,87.4h0M460.4,78.9h0M460.9,80.3h0M461.4,76h0M461.9,79.1h0M462.4,81.8h0M462.8,80.8h0M463.3,85h0M463.8,80.8h0M464.3,76.8h0M464.8,76.5h0M465.3,81.4h0M465.8,79.4h0M466.3,78.9h0M466.8,81.5h0M467.3,77.3h0M467.8,82.8h0M468.3,78h0M468.8,82h0M469.3,83.3h0M469.8,82.4h0M470.3,83.5h0M470.7,82.8h0M471.2,80.4h0M471.7,83.2h0M472.2,79.3h0M472.7,83.9h0M473.2,83.5h0M473.7,82.7h0M474.2,81.2h0M474.7,82.8h0M475.2,81.8h0M475.7,85.2h0M476.2,92h0M476.7,85.9h0M477.2,79.3h0M477.7,83h0M478.2,78.8h0M478.7,84.2h0M479.1,85.4h0M479.6,88.4h0M480.1,81.5h0M480.6,86.8h0M481.1,83.1h0M481.6,82.5h0M482.1,79.4h0M482.6,87.7h0M483.1,83h0M483.6,76.7h0M484.1,81.1h0M484.6,85.1h0M485.1,78.8h0M485.6,80.1h0M486.1,82h0M486.6,83h0M487,84.3h0M487.5,82.8h0M488,83.7h0M488.5,78.7h0M489,82.5h0M489.5,84.3h0M490,82.4h0M490.5,84.7h0M491,81.9h0M491.5,88.2h0M492,81h0M492.5,84.1h0M493,83h0M493.5,83.4h0M494,87.2h0M494.5,84.4h0M495,77.5h0M495.4,83.5h0M495.9,82.6h0M496.4,75.7h0M496.9,81.2h0M497.4,81.2h0M497.9,83.2h0M498.4,83.1h0M498.9,79.2h0M499.4,81.5h0M499.9,81.8h0M500.4,80.4h0M500.9,81.4h0M501.4,82.3h0M501.9,80.9h0M502.4,85.2h0M502.9,87.6h0M503.4,87.7h0M503.8,83.2h0M504.3,80.8h0M504.8,82.6h0M505.3,82.6h0M505.8,81.3h0M506.3,80.2h0M506.8,84.8h0M507.3,81.7h0M507.8,84.3h0M508.3,80.6h0M508.8,80.3h0M509.3,82.2h0M509.8,84.4h0M510.3,85.5h0M510.8,83.2h0M511.3,81.4h0M511.8,79.4h0M512.2,76.8h0M512.7,75.9h0M513.2,84.3h0M513.7,82.2h0M514.2,81.6h0M514.7,79.9h0M515.2,82.9h0M515.7,85.5h0M516.2,81.7h0M516.7,79.3h0M517.2,81.7h0M517.7,78.1h0M518.2,81h0M518.7,82.4h0M519.2,81.9h0M519.7,81.3h0M520.1,87h0M520.6,81.2h0M521.1,79.4h0M521.6,80h0M522.1,80.5h0M522.6,79h0M523.1,81.6h0M523.6,79.4h0M524.1,81.8h0M524.6,80.6h0M525.1,81.8h0M525.6,81.4h0M526.1,78.7h0M526.6,84.3h0M527.1,75.9h0M527.6,82.1h0M528.1,80.9h0M528.5,80.6h0M529,82.4h0M529.5,70.3h0M530,79.1h0M530.5,85h0M531,86.3h0M531.5,79h0M532,78.1h0M532.5,79.1h0M533,77.9h0M533.5,78.4h0M534,78.7h0M534.5,83.6h0M535,78.8h0M535.5,81.5h0M536,79.4h0M536.5,80.3h0M536.9,81.9h0M537.4,83.2h0M537.9,82.9h0M538.4,80.1h0M538.9,78.7h0M539.4,73.8h0M539.9,80.3h0M540.4,77.6h0M540.9,80.8h0M541.4,79.2h0M541.9,79.6h0M542.4,81h0M542.9,81.2h0M543.4,80h0M543.9,79.4h0M544.4,81.4h0M544.8,80.6h0M545.3,78.1h0M545.8,79.7h0M546.3,81.1h0M546.8,81.6h0M547.3,79.6h0M547.8,79.6h0M548.3,81.3h0M548.8,76.3h0M549.3,78.1h0M549.8,80.2h0M550.3,80.2h0M550.8,80.9h0M551.3,78.9h0M551.8,78.6h0M552.3,81.7h0M552.8,78h0M553.2,76.5h0M553.7,78.7h0M554.2,79.6h0M554.7,77.5h0M555.2,86.5h0M555.7,79.4h0M556.2,77.7h0M556.7,78.7h0M557.2,77.4h0M557.7,79.1h0M558.2,72.9h0M558.7,78.8h0M559.2,79.2h0M559.7,78.7h0M560.2,76.7h0M560.7,80h0M561.1,79.1h0M561.6,80.4h0M562.1,76.9h0M562.6,78.2h0M563.1,81.7h0M563.6,78.8h0M564.1,79.3h0M564.6,78.3h0M565.1,80.3h0M565.6,78.5h0M566.1,79.5h0M566.6,76.2h0M567.1,80.7h0M567.6,79.7h0M568.1,79.1h0M568.6,78.1h0M569.1,76.4h0M569.5,78h0M570,78h0M570.5,79.3h0M571,79.5h0M571.5,79.1h0M572,77h0M572.5,77.8h0M573,77.5h0M573.5,77h0" fill="none" stroke="#77ac30" stroke-width="2.05" stroke-linecap="round"/>
<path d="M79.5,319h0M80,333.6h0M80.5,334.8h0M81,326.7h0M81.5,329.1h0M82,323.5h0M82.5,311.4h0M83,331.5h0M83.5,320.4h0M83.9,315h0M84.4,319.4h0M84.9,320.4h0M85.4,292.6h0M85.9,316.8h0M86.4,308.2h0M86.9,280.8h0M87.4,307.7h0M87.9,291.1h0M88.4,299.2h0M88.9,297.2h0M89.4,319.7h0M89.9,293.8h0M90.4,288.2h0M90.9,281.7h0M91.4,284.5h0M91.8,304.1h0M92.3,291h0M92.8,274h0M93.3,276.4h0M93.8,258.7h0M94.3,278h0M94.8,248.7h0M95.3,269.9h0M95.8,259h0M96.3,274.3h0M96.8,267.5h0M97.3,266.7h0M97.8,267.2h0M98.3,260.4h0M98.8,269.5h0M99.3,257.2h0M99.8,260.3h0M100.2,277.7h0M100.7,260.5h0M101.2,265.1h0M101.7,266.6h0M102.2,256.5h0M102.7,255.8h0M103.2,281.4h0M103.7,252.7h0M104.2,184.3h0M104.7,244.3h0M105.2,242.2h0M105.7,254.6h0M106.2,247.3h0M106.7,238.6h0M107.2,255.9h0M107.7,217.1h0M108.2,229.2h0M108.6,231.9h0M109.1,239.1h0M109.6,231.5h0M110.1,240h0M110.6,230.9h0M111.1,230.9h0M111.6,229.7h0M112.1,246.5h0M112.6,235.4h0M113.1,211.8h0M113.6,219.7h0M114.1,247.2h0M114.6,220.5h0M115.1,221.9h0M115.6,222.7h0M116.1,220.8h0M116.5,217.1h0M117,215.8h0M117.5,185.5h0M118,211.5h0M118.5,199.7h0M119,232.6h0M119.5,211.2h0M120,199.7h0M120.5,215.7h0M121,224.5h0M121.5,197h0M122,201h0M122.5,189.3h0M123,131.8h0M123.5,189.5h0M124,176.4h0M124.5,198.9h0M124.9,206.5h0M125.4,201.4h0M125.9,201.9h0M126.4,176.3h0M126.9,203.2h0M127.4,196.4h0M127.9,208.6h0M128.4,192.9h0M128.9,178.1h0M129.4,167.6h0M129.9,185h0M130.4,174.9h0M130.9,184.7h0M131.4,183.7h0M131.9,176.5h0M132.4,160.1h0M132.9,160h0M133.3,169.1h0M133.8,173.7h0M134.3,151.9h0M134.8,167.7h0M135.3,148.7h0M135.8,173.9h0M136.3,165.5h0M136.8,176.2h0M137.3,134.8h0M137.8,170.4h0M138.3,169.5h0M138.8,164.1h0M139.3,155.4h0M139.8,166.3h0M140.3,159.9h0M140.8,138.7h0M141.2,150.7h0M141.7,155.9h0M142.2,141.1h0M142.7,150.4h0M143.2,157h0M143.7,199.9h0M144.2,154.3h0M144.7,160.8h0M145.2,138.1h0M145.7,151.6h0M146.2,154.3h0M146.7,154.7h0M147.2,144.7h0M147.7,119.1h0M148.2,143.2h0M148.7,149.4h0M149.2,148.2h0M149.6,150.5h0M150.1,126.3h0M150.6,150.8h0M151.1,103.5h0M151.6,144h0M152.1,147.2h0M152.6,143.8h0M153.1,171.2h0M153.6,150.2h0M154.1,145.4h0M154.6,152.2h0M155.1,143.7h0M155.6,145.1h0M156.1,109.1h0M156.6,139.7h0M157.1,139h0M157.6,155.1h0M158,142.9h0M158.5,131.7h0M159,144h0M159.5,153.6h0M160,130.5h0M160.5,145.3h0M161,152.1h0M161.5,143.5h0M162,145.3h0M162.5,145.8h0M163,140.7h0M163.5,140.6h0M164,136.4h0M164.5,137.2h0M165,167.1h0M165.5,136h0M165.9,143.9h0M166.4,137.7h0M166.9,143.3h0M167.4,131.8h0M167.9,142.6h0M168.4,140.4h0M168.9,139.6h0M169.4,149.5h0M169.9,150.4h0M170.4,118.2h0M170.9,136.3h0M171.4,131h0M171.9,140h0M172.4,141.7h0M172.9,128h0M173.4,131.8h0M173.9,125.2h0M174.3,122.8h0M174.8,139.7h0M175.3,137.1h0M175.8,141.8h0M176.3,139h0M176.8,133.6h0M177.3,136.7h0M177.8,140.1h0M178.3,123h0M178.8,131h0M179.3,139.2h0M179.8,133.8h0M180.3,145.6h0M180.8,130h0M181.3,142.8h0M181.8,109.7h0M182.3,113.6h0M182.7,117.2h0M183.2,129h0M183.7,134.1h0M184.2,120.9h0M184.7,146.4h0M185.2,136.4h0M185.7,120.2h0M186.2,122.9h0M186.7,117.7h0M187.2,118.7h0M187.7,126.2h0M188.2,130.9h0M188.7,158.1h0M189.2,133.5h0M189.7,118.7h0M190.2,143.1h0M190.7,127.4h0M191.1,120.9h0M191.6,128.1h0M192.1,114.2h0M192.6,126.8h0M193.1,135.5h0M193.6,135.4h0M194.1,148.3h0M194.6,107h0M195.1,129.3h0M195.6,130.5h0M196.1,127.6h0M196.6,76.8h0M197.1,131.9h0M197.6,125.2h0M198.1,124.1h0M198.6,95.1h0M199,139.3h0M199.5,130.7h0M200,134.2h0M200.5,129.3h0M201,126.5h0M201.5,122.5h0M202,128.3h0M202.5,126.3h0M203,109.6h0M203.5,109.8h0M204,123.5h0M204.5,120.3h0M205,140.5h0M205.5,123.6h0M206,110.6h0M206.5,123.8h0M207,147.3h0M207.4,111.5h0M207.9,126h0M208.4,141.1h0M208.9,111.3h0M209.4,110.3h0M209.9,121.4h0M210.4,117.5h0M210.9,115.8h0M211.4,83.5h0M211.9,112.7h0M212.4,102.7h0M212.9,110.8h0M213.4,109h0M213.9,116.6h0M214.4,86.5h0M214.9,110.9h0M215.4,137h0M215.8,105.7h0M216.3,110.8h0M216.8,115.7h0M217.3,112.9h0M217.8,131.2h0M218.3,108.9h0M218.8,85.1h0M219.3,103.4h0M219.8,111.3h0M220.3,110.9h0M220.8,106.1h0M221.3,100.6h0M221.8,108.4h0M222.3,109.1h0M222.8,109.2h0M223.3,124.5h0M223.7,152.2h0M224.2,113.9h0M224.7,111.5h0M225.2,95.5h0M225.7,89.8h0M226.2,103.3h0M226.7,100.6h0M227.2,124.9h0M227.7,107.9h0M228.2,103.8h0M228.7,84.7h0M229.2,113h0M229.7,135.6h0M230.2,100.6h0M230.7,71.2h0M231.2,97h0M231.7,90.3h0M232.1,95.9h0M232.6,117.6h0M233.1,95.3h0M233.6,104.1h0M234.1,85.2h0M234.6,98.2h0M235.1,99.1h0M235.6,91h0M236.1,85.3h0M236.6,68.7h0M237.1,96.4h0M237.6,73.2h0M238.1,90.2h0M238.6,86.8h0M239.1,92.8h0M239.6,43.4h0M240.1,118.6h0M240.5,87h0M241,89.8h0M241.5,107.2h0M242,91.9h0M242.5,91.9h0M243,91.9h0M243.5,90.6h0M244,90h0M244.5,104h0M245,78.3h0M245.5,135.7h0M246,92.6h0M246.5,90.8h0M247,89h0M247.5,86.1h0M248,73h0M248.4,85.7h0M248.9,74.1h0M249.4,61.1h0M249.9,92.6h0M250.4,78.8h0M250.9,88.4h0M251.4,88.3h0M251.9,82.8h0M252.4,82.2h0M252.9,68.5h0M253.4,68.4h0M253.9,76.4h0M254.4,110.1h0M254.9,52.8h0M255.4,64.7h0M255.9,81h0M256.4,83.9h0M256.8,76.9h0M257.3,83.9h0M257.8,88.8h0M258.3,61.4h0M258.8,77.1h0M259.3,72.4h0M259.8,76.3h0M260.3,67.9h0M260.8,53.1h0M261.3,91.6h0M261.8,25.6h0M262.3,86.7h0M262.8,89.4h0M263.3,77.8h0M263.8,76.7h0M264.3,80.5h0M264.8,80.5h0M265.2,46.9h0M265.7,74.4h0M266.2,76.8h0M266.7,88.5h0M267.2,66.2h0M267.7,70.7h0M268.2,70h0M268.7,69.4h0M269.2,84.8h0M269.7,74.1h0M270.2,92.8h0M270.7,75.4h0M271.2,68.9h0M271.7,67.1h0M272.2,74.2h0M272.7,76.6h0M273.1,78h0M273.6,27.2h0M274.1,130h0M274.6,69.6h0M275.1,111.3h0M275.6,70.7h0M276.1,72.3h0M276.6,70.9h0M277.1,72.7h0M277.6,43.3h0M278.1,81.5h0M278.6,56.3h0M279.1,90.2h0M279.6,68h0M280.1,71.3h0M280.6,76.5h0M281.1,80.9h0M281.5,74.4h0M282,71.8h0M282.5,25.6h0M283,66.1h0M283.5,68.9h0M284,81.5h0M284.5,68.9h0M285,63.8h0M285.5,71.1h0M286,72.7h0M286.5,73.6h0M287,92.9h0M287.5,58.2h0M288,71.5h0M288.5,75h0M289,48.9h0M289.4,56.4h0M289.9,72.9h0M290.4,53.5h0M290.9,70.8h0M291.4,64.3h0M291.9,94.5h0M292.4,73.5h0M292.9,74.9h0M293.4,87.1h0M293.9,59.9h0M294.4,78h0M294.9,72.5h0M295.4,70.6h0M295.9,69.3h0M296.4,47.3h0M296.9,56.9h0M297.4,73.6h0M297.8,99.2h0M298.3,79.6h0M298.8,35.5h0M299.3,89.4h0M299.8,76.6h0M300.3,84.2h0M300.8,118.9h0M301.3,121.2h0M301.8,77.5h0M302.3,82.7h0M302.8,72.4h0M303.3,74.1h0M303.8,74.4h0M304.3,78.2h0M304.8,74.8h0M305.3,75.3h0M305.8,85.6h0M306.2,82.2h0M306.7,75.8h0M307.2,75.8h0M307.7,89.1h0M308.2,82.1h0M308.7,76h0M309.2,91.6h0M309.7,79.9h0M310.2,76.1h0M310.7,82.6h0M311.2,81h0M311.7,56.2h0M312.2,77.1h0M312.7,87.5h0M313.2,71.5h0M313.7,74.9h0M314.1,34.7h0M314.6,82.9h0M315.1,81.8h0M315.6,111.3h0M316.1,79h0M316.6,86.6h0M317.1,89.3h0M317.6,95.5h0M318.1,83.6h0M318.6,111.3h0M319.1,80.1h0M319.6,81.6h0M320.1,83.2h0M320.6,54.2h0M321.1,111.2h0M321.6,81.6h0M322.1,86.1h0M322.5,80.9h0M323,113.8h0M323.5,83.4h0M324,59.4h0M324.5,84.2h0M325,95h0M325.5,86.6h0M326,80.2h0M326.5,80.5h0M327,84.6h0M327.5,101.7h0M328,72.2h0M328.5,88.9h0M329,37.4h0M329.5,103.2h0M330,90.8h0M330.5,121.8h0M330.9,72h0M331.4,97.1h0M331.9,81.9h0M332.4,85.2h0M332.9,84.4h0M333.4,125.9h0M333.9,91.9h0M334.4,90.9h0M334.9,117.5h0M335.4,93.5h0M335.9,84.1h0M336.4,83.6h0M336.9,76.4h0M337.4,83.3h0M337.9,86.5h0M338.4,93.6h0M338.9,94.4h0M339.3,59.2h0M339.8,46.6h0M340.3,94.9h0M340.8,54.2h0M341.3,97.3h0M341.8,118.8h0M342.3,85.1h0M342.8,94.3h0M343.3,88.2h0M343.8,92h0M344.3,92.3h0M344.8,121.1h0M345.3,98.7h0M345.8,93.3h0M346.3,90.3h0M346.8,99.4h0M347.2,86.8h0M347.7,91.8h0M348.2,95.7h0M348.7,93.6h0M349.2,93.2h0M349.7,53.9h0M350.2,104.5h0M350.7,106.9h0M351.2,97.2h0M351.7,91.6h0M352.2,87.1h0M352.7,93h0M353.2,99.8h0M353.7,111.1h0M354.2,96.3h0M354.7,96.8h0M355.2,95.9h0M355.6,125.4h0M356.1,76.7h0M356.6,90.5h0M357.1,86.3h0M357.6,100.3h0M358.1,94.6h0M358.6,90.1h0M359.1,90.9h0M359.6,91.4h0M360.1,67.4h0M360.6,98.2h0M361.1,95.1h0M361.6,80.4h0M362.1,99.7h0M362.6,89.3h0M363.1,77.5h0M363.5,88.7h0M364,94h0M364.5,106.3h0M365,65.5h0M365.5,101.5h0M366,89.1h0M366.5,99.7h0M367,88.9h0M367.5,93.7h0M368,96h0M368.5,143.9h0M369,63.7h0M369.5,85.6h0M370,93.4h0M370.5,85.8h0M371,89.3h0M371.5,58h0M371.9,89.8h0M372.4,84.2h0M372.9,96.7h0M373.4,88.9h0M373.9,88.7h0M374.4,79.5h0M374.9,84.7h0M375.4,86.7h0M375.9,81.8h0M376.4,93.8h0M376.9,83.6h0M377.4,80.9h0M377.9,78.6h0M378.4,89.3h0M378.9,86.2h0M379.4,87.2h0M379.9,86.4h0M380.3,81.3h0M380.8,103.7h0M381.3,83.4h0M381.8,87.3h0M382.3,74.2h0M382.8,76.7h0M383.3,83.7h0M383.8,66.7h0M384.3,83.1h0M384.8,85.6h0M385.3,83.6h0M385.8,87.1h0M386.3,86.2h0M386.8,66h0M387.3,87.7h0M387.8,80.8h0M388.2,82.2h0M388.7,74.5h0M389.2,65.2h0M389.7,65.1h0M390.2,79.3h0M390.7,88.1h0M391.2,90h0M391.7,74.7h0M392.2,61.7h0M392.7,76.6h0M393.2,77.9h0M393.7,77.3h0M394.2,82.7h0M394.7,81h0M395.2,65.9h0M395.7,80.3h0M396.2,75h0M396.6,85.4h0M397.1,86.6h0M397.6,81.5h0M398.1,79.5h0M398.6,81.7h0M399.1,88.5h0M399.6,44.6h0M400.1,77.8h0M400.6,79.3h0M401.1,71.4h0M401.6,89h0M402.1,73.9h0M402.6,78.1h0M403.1,69.7h0M403.6,83.9h0M404.1,79.8h0M404.6,79.6h0M405,88.6h0M405.5,77.9h0M406,79.7h0M406.5,76.2h0M407,83.2h0M407.5,79.8h0M408,70.8h0M408.5,80h0M409,73.5h0M409.5,74.1h0M410,74h0M410.5,81.1h0M411,71.5h0M411.5,86.1h0M412,83.3h0M412.5,79.9h0M413,78.2h0M413.4,72.2h0M413.9,77.8h0M414.4,94.6h0M414.9,71.7h0M415.4,82h0M415.9,77.7h0M416.4,75.4h0M416.9,72.4h0M417.4,89.3h0M417.9,76.5h0M418.4,76.5h0M418.9,79.7h0M419.4,75.9h0M419.9,78h0M420.4,80h0M420.9,70.5h0M421.3,80.5h0M421.8,75.8h0M422.3,77.8h0M422.8,75.5h0M423.3,74.5h0M423.8,77.1h0M424.3,74.7h0M424.8,83.4h0M425.3,77.1h0M425.8,84.7h0M426.3,66.7h0M426.8,69.2h0M427.3,83.1h0M427.8,79.7h0M428.3,55.1h0M428.8,88.6h0M429.3,75h0M429.7,77.1h0M430.2,76.6h0M430.7,75.8h0M431.2,81.3h0M431.7,77.5h0M432.2,84.2h0M432.7,76.7h0M433.2,82.5h0M433.7,71.5h0M434.2,74.8h0M434.7,81.9h0M435.2,71.1h0M435.7,69h0M436.2,58.3h0M436.7,73.7h0M437.2,65.8h0M437.6,79.5h0M438.1,80.1h0M438.6,75h0M439.1,76.8h0M439.6,87.8h0M440.1,75h0M440.6,64.2h0M441.1,71.9h0M441.6,73.8h0M442.1,89.3h0M442.6,73.8h0M443.1,78.1h0M443.6,76.5h0M444.1,79.6h0M444.6,73.9h0M445.1,71.9h0M445.6,82.3h0M446,62.7h0M446.5,79.6h0M447,76.6h0M447.5,78.9h0M448,77.1h0M448.5,81.7h0M449,69.8h0M449.5,73.9h0M450,80.2h0M450.5,78.4h0M451,82.4h0M451.5,77.8h0M452,79.9h0M452.5,71.3h0M453,80.5h0M453.5,72.4h0M454,71.4h0M454.4,84h0M454.9,76.5h0M455.4,65.6h0M455.9,76.9h0M456.4,79.5h0M456.9,78.5h0M457.4,77.4h0M457.9,81.1h0M458.4,78.7h0M458.9,77h0M459.4,70.7h0M459.9,77.6h0M460.4,79.1h0M460.9,80.2h0M461.4,82h0M461.9,83.9h0M462.4,79.1h0M462.8,78.1h0M463.3,79.8h0M463.8,79.3h0M464.3,85.4h0M464.8,85.4h0M465.3,81.3h0M465.8,79.7h0M466.3,77h0M466.8,73.1h0M467.3,82h0M467.8,81.4h0M468.3,79.5h0M468.8,81.5h0M469.3,80.5h0M469.8,88.9h0M470.3,85.9h0M470.7,80.7h0M471.2,80.3h0M471.7,81.8h0M472.2,72.5h0M472.7,89.4h0M473.2,88.2h0M473.7,82.8h0M474.2,83.9h0M474.7,83.6h0M475.2,81.4h0M475.7,85.9h0M476.2,83.7h0M476.7,83.5h0M477.2,80.7h0M477.7,78.9h0M478.2,81.9h0M478.7,89.2h0M479.1,79.6h0M479.6,83.1h0M480.1,83.9h0M480.6,80.8h0M481.1,78.3h0M481.6,81.3h0M482.1,83.5h0M482.6,81.1h0M483.1,84.8h0M483.6,84.8h0M484.1,84.7h0M484.6,82.7h0M485.1,83.5h0M485.6,75h0M486.1,83.3h0M486.6,83.7h0M487,82.9h0M487.5,81.6h0M488,78.8h0M488.5,83.9h0M489,82.7h0M489.5,87h0M490,83.9h0M490.5,82.7h0M491,81.9h0M491.5,84.4h0M492,84.8h0M492.5,80h0M493,80.8h0M493.5,83.1h0M494,83h0M494.5,82.7h0M495,84.6h0M495.4,78.6h0M495.9,83.8h0M496.4,89.5h0M496.9,82.3h0M497.4,82h0M497.9,83.8h0M498.4,81h0M498.9,75.4h0M499.4,82.8h0M499.9,78.1h0M500.4,82.7h0M500.9,80.4h0M501.4,82.4h0M501.9,91.9h0M502.4,84.9h0M502.9,82.3h0M503.4,82.9h0M503.8,82.5h0M504.3,80.6h0M504.8,83.8h0M505.3,81h0M505.8,75.5h0M506.3,82.2h0M506.8,80.6h0M507.3,79.3h0M507.8,81.6h0M508.3,81.8h0M508.8,80.8h0M509.3,82.7h0M509.8,84.9h0M510.3,82.4h0M510.8,81.9h0M511.3,80.4h0M511.8,82h0M512.2,82.3h0M512.7,81.5h0M513.2,81.9h0M513.7,80.4h0M514.2,74.3h0M514.7,78.1h0M515.2,82h0M515.7,80.5h0M516.2,82.2h0M516.7,78.1h0M517.2,81.1h0M517.7,81.6h0M518.2,85.9h0M518.7,81.5h0M519.2,81.3h0M519.7,82.4h0M520.1,83h0M520.6,81.6h0M521.1,73.8h0M521.6,83.7h0M522.1,80.8h0M522.6,81.7h0M523.1,79.8h0M523.6,75.5h0M524.1,81h0M524.6,80.7h0M525.1,79.4h0M525.6,84.4h0M526.1,79.3h0M526.6,81.4h0M527.1,77.9h0M527.6,80.2h0M528.1,81.7h0M528.5,80.3h0M529,80.6h0M529.5,81.8h0M530,77.3h0M530.5,80.7h0M531,81.5h0M531.5,83h0M532,87.4h0M532.5,82.2h0M533,81.2h0M533.5,81.2h0M534,80.7h0M534.5,81.3h0M535,79.6h0M535.5,80.1h0M536,80.8h0M536.5,79.6h0M536.9,78.7h0M537.4,81h0M537.9,79.4h0M538.4,79.2h0M538.9,80.8h0M539.4,80.5h0M539.9,79.7h0M540.4,80.7h0M540.9,79.5h0M541.4,85.8h0M541.9,76h0M542.4,79.1h0M542.9,78.3h0M543.4,78.3h0M543.9,80h0M544.4,79.3h0M544.8,79.4h0M545.3,80.9h0M545.8,79.5h0M546.3,78h0M546.8,79.6h0M547.3,78.9h0M547.8,82.5h0M548.3,78.7h0M548.8,82.7h0M549.3,81.8h0M549.8,79.4h0M550.3,80h0M550.8,78.9h0M551.3,78.4h0M551.8,82.6h0M552.3,79.8h0M552.8,80h0M553.2,77.4h0M553.7,79.8h0M554.2,78.2h0M554.7,86.2h0M555.2,79.8h0M555.7,81.5h0M556.2,78.4h0M556.7,80h0M557.2,77.5h0M557.7,81.6h0M558.2,79.4h0M558.7,78.3h0M559.2,78.6h0M559.7,77.4h0M560.2,77.3h0M560.7,75.1h0M561.1,80.1h0M561.6,78.8h0M562.1,78.2h0M562.6,78.6h0M563.1,79.7h0M563.6,81.2h0M564.1,78.5h0M564.6,79.7h0M565.1,82.7h0M565.6,78.8h0M566.1,78.3h0M566.6,78h0M567.1,79.2h0M567.6,80h0M568.1,78.5h0M568.6,76.9h0M569.1,79.5h0M569.5,78h0M570,73.6h0M570.5,76.1h0M571,79.3h0M571.5,79.3h0M572,76.8h0M572.5,80.5h0M573,77h0M573.5,78.4h0" fill="none" stroke="#77ac30" stroke-width="2.05" stroke-linecap="round"/>
<path d="M79.5,336.6h0M80,336.9h0M80.5,306.2h0M81,331.7h0M81.5,330.1h0M82,317.1h0M82.5,323.3h0M83,316.2h0M83.5,323h0M83.9,317h0M84.4,320h0M84.9,310.9h0M85.4,305.2h0M85.9,315.4h0M86.4,304.9h0M86.9,268.4h0M87.4,298.3h0M87.9,295.6h0M88.4,294.7h0M88.9,290.9h0M89.4,288h0M89.9,275.8h0M90.4,309.7h0M90.9,277.4h0M91.4,294.8h0M91.8,286.2h0M92.3,288.5h0M92.8,270.9h0M93.3,275.5h0M93.8,280.8h0M94.3,257.5h0M94.8,252.3h0M95.3,278.8h0M95.8,257.9h0M96.3,278h0M96.8,269.3h0M97.3,264.6h0M97.8,266.5h0M98.3,260.1h0M98.8,256.9h0M99.3,268.4h0M99.8,256.7h0M100.2,259.7h0M100.7,252.5h0M101.2,254.9h0M101.7,267h0M102.2,248.7h0M102.7,248.5h0M103.2,244.3h0M103.7,215.7h0M104.2,251h0M104.7,240.9h0M105.2,250.5h0M105.7,222.5h0M106.2,243.4h0M106.7,191h0M107.2,256h0M107.7,235.5h0M108.2,246.6h0M108.6,237.4h0M109.1,213.1h0M109.6,229.9h0M110.1,239.2h0M110.6,223.3h0M111.1,224.2h0M111.6,254.3h0M112.1,238.9h0M112.6,218.6h0M113.1,221.4h0M113.6,202.9h0M114.1,219.9h0M114.6,219.7h0M115.1,214.7h0M115.6,241h0M116.1,221.5h0M116.5,219.9h0M117,210.6h0M117.5,213.5h0M118,218.6h0M118.5,196.2h0M119,190.2h0M119.5,210.3h0M120,211.4h0M120.5,196.4h0M121,203.5h0M121.5,213.1h0M122,210.8h0M122.5,208.1h0M123,206h0M123.5,210h0M124,196.6h0M124.5,185.6h0M124.9,178.7h0M125.4,192.5h0M125.9,186.4h0M126.4,190.2h0M126.9,215.5h0M127.4,187.8h0M127.9,193.2h0M128.4,183h0M128.9,186.4h0M129.4,210h0M129.9,180.8h0M130.4,188.8h0M130.9,151.1h0M131.4,184.1h0M131.9,179.4h0M132.4,156.3h0M132.9,180.7h0M133.3,178.7h0M133.8,167.8h0M134.3,173.7h0M134.8,167.6h0M135.3,161h0M135.8,172h0M136.3,162.7h0M136.8,169.9h0M137.3,164h0M137.8,151.5h0M138.3,161.6h0M138.8,167.7h0M139.3,155.7h0M139.8,155.2h0M140.3,162.5h0M140.8,159.8h0M141.2,150.7h0M141.7,204.6h0M142.2,151.8h0M142.7,148.1h0M143.2,153.6h0M143.7,150.3h0M144.2,144.8h0M144.7,157.1h0M145.2,153.2h0M145.7,158h0M146.2,149.8h0M146.7,170.4h0M147.2,151.9h0M147.7,153.1h0M148.2,158.1h0M148.7,144.5h0M149.2,160.5h0M149.6,146.2h0M150.1,147.6h0M150.6,138.9h0M151.1,152.4h0M151.6,138.5h0M152.1,136.1h0M152.6,149.1h0M153.1,150.4h0M153.6,140.6h0M154.1,139.9h0M154.6,115.1h0M155.1,147h0M155.6,136.7h0M156.1,148.8h0M156.6,154.1h0M157.1,140.4h0M157.6,147.7h0M158,132.5h0M158.5,146.3h0M159,144.7h0M159.5,148.3h0M160,147.7h0M160.5,146.5h0M161,142.7h0M161.5,139.7h0M162,147.3h0M162.5,136.8h0M163,140.6h0M163.5,132.7h0M164,134.8h0M164.5,135.7h0M165,153.2h0M165.5,146.2h0M165.9,138.2h0M166.4,136h0M166.9,136.8h0M167.4,135.7h0M167.9,153.7h0M168.4,135h0M168.9,132.9h0M169.4,138.8h0M169.9,136.9h0M170.4,141.7h0M170.9,129.3h0M171.4,118.1h0M171.9,115.4h0M172.4,143.1h0M172.9,165.6h0M173.4,157.9h0M173.9,111.6h0M174.3,144.8h0M174.8,153.7h0M175.3,146.4h0M175.8,136.8h0M176.3,127.3h0M176.8,139.9h0M177.3,143.6h0M177.8,129.6h0M178.3,140.9h0M178.8,136h0M179.3,134.3h0M179.8,127.7h0M180.3,129.9h0M180.8,139.4h0M181.3,137.2h0M181.8,130.3h0M182.3,135.3h0M182.7,157.5h0M183.2,137.1h0M183.7,148.3h0M184.2,126.1h0M184.7,136.3h0M185.2,169.5h0M185.7,125.5h0M186.2,125.3h0M186.7,131.2h0M187.2,121.3h0M187.7,129.7h0M188.2,143.2h0M188.7,122.9h0M189.2,142.1h0M189.7,126.9h0M190.2,123.7h0M190.7,122.8h0M191.1,127.1h0M191.6,124.2h0M192.1,142h0M192.6,132.7h0M193.1,96.6h0M193.6,119.1h0M194.1,132.2h0M194.6,88.5h0M195.1,95h0M195.6,127.2h0M196.1,129.2h0M196.6,122.3h0M197.1,121.8h0M197.6,144.8h0M198.1,119.3h0M198.6,116.4h0M199,123.4h0M199.5,129.1h0M200,98.2h0M200.5,128.3h0M201,109.1h0M201.5,142.3h0M202,129.2h0M202.5,127.8h0M203,105.8h0M203.5,117.5h0M204,116.7h0M204.5,120.6h0M205,124.6h0M205.5,110.1h0M206,112.5h0M206.5,108.8h0M207,114.2h0M207.4,111.5h0M207.9,120.3h0M208.4,120.2h0M208.9,119.8h0M209.4,95.4h0M209.9,118.4h0M210.4,120.3h0M210.9,112.4h0M211.4,118.3h0M211.9,85.6h0M212.4,109.4h0M212.9,120.8h0M213.4,101h0M213.9,136.7h0M214.4,117.5h0M214.9,115.7h0M215.4,121.3h0M215.8,140.3h0M216.3,110.2h0M216.8,151.9h0M217.3,112.4h0M217.8,122.7h0M218.3,123.3h0M218.8,111.7h0M219.3,97.7h0M219.8,121.8h0M220.3,110.3h0M220.8,100.8h0M221.3,145.6h0M221.8,102.4h0M222.3,79.6h0M222.8,110.7h0M223.3,110.4h0M223.7,102.3h0M224.2,100.7h0M224.7,57.3h0M225.2,95.2h0M225.7,107.7h0M226.2,113.4h0M226.7,106.4h0M227.2,98.4h0M227.7,105.2h0M228.2,65.3h0M228.7,95.6h0M229.2,86.8h0M229.7,94.2h0M230.2,114.2h0M230.7,113.7h0M231.2,77.8h0M231.7,70.2h0M232.1,110.6h0M232.6,85.2h0M233.1,59.9h0M233.6,95.9h0M234.1,119.2h0M234.6,97.6h0M235.1,96.5h0M235.6,91.2h0M236.1,101.7h0M236.6,96.1h0M237.1,134.5h0M237.6,88.8h0M238.1,89.6h0M238.6,110.5h0M239.1,94.9h0M239.6,123.7h0M240.1,88.6h0M240.5,96.8h0M241,102.7h0M241.5,93.7h0M242,98.2h0M242.5,96.9h0M243,93.4h0M243.5,119.3h0M244,85.7h0M244.5,62.7h0M245,82.4h0M245.5,68.1h0M246,111.3h0M246.5,84.3h0M247,97.2h0M247.5,88.3h0M248,92.8h0M248.4,63.2h0M248.9,91.8h0M249.4,88.4h0M249.9,105.5h0M250.4,88.8h0M250.9,86h0M251.4,80.4h0M251.9,82.4h0M252.4,81.7h0M252.9,61.1h0M253.4,86.4h0M253.9,27.1h0M254.4,86.7h0M254.9,71.4h0M255.4,83.9h0M255.9,88.5h0M256.4,74.7h0M256.8,79.9h0M257.3,79.7h0M257.8,80.5h0M258.3,64.3h0M258.8,69.8h0M259.3,75.4h0M259.8,74.5h0M260.3,74.7h0M260.8,73.3h0M261.3,51.7h0M261.8,40.9h0M262.3,89.5h0M262.8,82.6h0M263.3,76.2h0M263.8,80.4h0M264.3,70.3h0M264.8,80.8h0M265.2,72.8h0M265.7,63.2h0M266.2,98.6h0M266.7,74.5h0M267.2,87.1h0M267.7,61h0M268.2,34.7h0M268.7,74.1h0M269.2,73.3h0M269.7,44.6h0M270.2,62.5h0M270.7,72.8h0M271.2,70.2h0M271.7,81.8h0M272.2,76.1h0M272.7,108.9h0M273.1,76.1h0M273.6,74.7h0M274.1,87.7h0M274.6,86.2h0M275.1,77.2h0M275.6,63.9h0M276.1,101.1h0M276.6,80.7h0M277.1,23.9h0M277.6,63.5h0M278.1,70.3h0M278.6,66h0M279.1,79.9h0M279.6,63.9h0M280.1,72.7h0M280.6,76.9h0M281.1,20.1h0M281.5,77.1h0M282,65.9h0M282.5,106.5h0M283,66h0M283.5,69.7h0M284,64.1h0M284.5,73.8h0M285,69.3h0M285.5,73h0M286,75.5h0M286.5,70.6h0M287,73.1h0M287.5,60.3h0M288,64.7h0M288.5,105.4h0M289,73.2h0M289.4,77.2h0M289.9,66.7h0M290.4,71.9h0M290.9,51.2h0M291.4,80.3h0M291.9,82h0M292.4,78.7h0M292.9,68.6h0M293.4,67.3h0M293.9,82.5h0M294.4,49.9h0M294.9,73.5h0M295.4,74.8h0M295.9,19h0M296.4,77.9h0M296.9,46.4h0M297.4,77.4h0M297.8,84.4h0M298.3,85.4h0M298.8,73.3h0M299.3,36.7h0M299.8,69.6h0M300.3,74.2h0M300.8,106.7h0M301.3,94.4h0M301.8,74.7h0M302.3,78.7h0M302.8,62.9h0M303.3,65.1h0M303.8,50.3h0M304.3,96.7h0M304.8,82h0M305.3,83.3h0M305.8,70.5h0M306.2,73.5h0M306.7,110h0M307.2,81h0M307.7,77h0M308.2,81.2h0M308.7,101.7h0M309.2,79.7h0M309.7,79.5h0M310.2,66.1h0M310.7,54.4h0M311.2,81.6h0M311.7,74.1h0M312.2,84h0M312.7,82.5h0M313.2,59.4h0M313.7,79.9h0M314.1,80h0M314.6,86.5h0M315.1,84.9h0M315.6,74.4h0M316.1,84.4h0M316.6,78.8h0M317.1,57.1h0M317.6,87.9h0M318.1,65.6h0M318.6,90.9h0M319.1,71.2h0M319.6,87.8h0M320.1,77.6h0M320.6,61.7h0M321.1,84.3h0M321.6,91.6h0M322.1,87.1h0M322.5,55h0M323,94.5h0M323.5,82.2h0M324,88.2h0M324.5,88.2h0M325,70.4h0M325.5,72.4h0M326,94.2h0M326.5,87h0M327,90.6h0M327.5,77.7h0M328,84.8h0M328.5,146.1h0M329,83.8h0M329.5,99.1h0M330,118.6h0M330.5,90h0M330.9,132.7h0M331.4,85h0M331.9,90.4h0M332.4,84.5h0M332.9,96h0M333.4,90.3h0M333.9,81.8h0M334.4,99.4h0M334.9,76.8h0M335.4,87.2h0M335.9,84.8h0M336.4,88.5h0M336.9,113.6h0M337.4,92.4h0M337.9,90.3h0M338.4,106.1h0M338.9,86.3h0M339.3,88.7h0M339.8,92.7h0M340.3,103.8h0M340.8,116.8h0M341.3,87.7h0M341.8,117.8h0M342.3,98h0M342.8,82.7h0M343.3,86.3h0M343.8,86.8h0M344.3,78h0M344.8,125.7h0M345.3,95.1h0M345.8,93.6h0M346.3,82.9h0M346.8,89.2h0M347.2,90.3h0M347.7,80.2h0M348.2,81.9h0M348.7,92.2h0M349.2,125.5h0M349.7,88.1h0M350.2,89.9h0M350.7,70.8h0M351.2,79.2h0M351.7,90.5h0M352.2,95.1h0M352.7,76.6h0M353.2,89.4h0M353.7,87.9h0M354.2,94.7h0M354.7,88.8h0M355.2,63.3h0M355.6,80.8h0M356.1,77.2h0M356.6,89.8h0M357.1,55.6h0M357.6,95.5h0M358.1,88.6h0M358.6,75.2h0M359.1,72.9h0M359.6,88.4h0M360.1,90.7h0M360.6,69.6h0M361.1,91.7h0M361.6,95.6h0M362.1,87.6h0M362.6,90.9h0M363.1,88.6h0M363.5,97.3h0M364,89.5h0M364.5,87.4h0M365,88.1h0M365.5,103.7h0M366,86.3h0M366.5,77.2h0M367,93.2h0M367.5,86.8h0M368,86.8h0M368.5,88.1h0M369,82.9h0M369.5,152.7h0M370,79.3h0M370.5,86h0M371,92.5h0M371.5,81h0M371.9,77.1h0M372.4,105.4h0M372.9,87.9h0M373.4,90.2h0M373.9,91.4h0M374.4,96.5h0M374.9,90.1h0M375.4,111.8h0M375.9,74.8h0M376.4,83.3h0M376.9,109.3h0M377.4,75.5h0M377.9,90.5h0M378.4,86.2h0M378.9,84.1h0M379.4,91.6h0M379.9,75h0M380.3,83.5h0M380.8,56.3h0M381.3,82.1h0M381.8,77.7h0M382.3,93.5h0M382.8,89.4h0M383.3,49.1h0M383.8,84.3h0M384.3,47.7h0M384.8,87.4h0M385.3,68.2h0M385.8,115.5h0M386.3,94h0M386.8,85.3h0M387.3,60.8h0M387.8,119.5h0M388.2,81.5h0M388.7,74.8h0M389.2,84.9h0M389.7,80.9h0M390.2,82.2h0M390.7,84.9h0M391.2,85.2h0M391.7,81.1h0M392.2,89h0M392.7,74.4h0M393.2,110.6h0M393.7,88.6h0M394.2,73.8h0M394.7,81.1h0M395.2,68.4h0M395.7,52.5h0M396.2,76.3h0M396.6,81.4h0M397.1,72h0M397.6,78.9h0M398.1,73.9h0M398.6,68.5h0M399.1,79.8h0M399.6,81.6h0M400.1,89.6h0M400.6,86.3h0M401.1,78.9h0M401.6,74.4h0M402.1,64.1h0M402.6,76.5h0M403.1,87.1h0M403.6,74.7h0M404.1,78.7h0M404.6,73.4h0M405,65.8h0M405.5,76.4h0M406,76.9h0M406.5,83h0M407,76.1h0M407.5,84.6h0M408,75.5h0M408.5,63.7h0M409,83.1h0M409.5,72.5h0M410,79.7h0M410.5,73.7h0M411,57h0M411.5,78.8h0M412,74.5h0M412.5,69.2h0M413,80.4h0M413.4,77.2h0M413.9,70.1h0M414.4,73.6h0M414.9,76.3h0M415.4,73.3h0M415.9,75h0M416.4,67.8h0M416.9,73.9h0M417.4,71.6h0M417.9,75.7h0M418.4,77.4h0M418.9,75.7h0M419.4,79.3h0M419.9,78.6h0M420.4,74.8h0M420.9,76.3h0M421.3,74.6h0M421.8,85.5h0M422.3,70.5h0M422.8,81h0M423.3,71.2h0M423.8,72.9h0M424.3,75.2h0M424.8,72.4h0M425.3,66.3h0M425.8,77.2h0M426.3,72.8h0M426.8,90.9h0M427.3,74.5h0M427.8,72.4h0M428.3,73.4h0M428.8,77.1h0M429.3,72.8h0M429.7,73.6h0M430.2,74.7h0M430.7,74.3h0M431.2,74.9h0M431.7,68.3h0M432.2,78.4h0M432.7,77.2h0M433.2,72.1h0M433.7,75.3h0M434.2,84.7h0M434.7,78.1h0M435.2,75.7h0M435.7,73.4h0M436.2,63.7h0M436.7,76.5h0M437.2,75.5h0M437.6,76h0M438.1,77.8h0M438.6,79.5h0M439.1,75.1h0M439.6,73.6h0M440.1,71.5h0M440.6,87.5h0M441.1,76.7h0M441.6,79.2h0M442.1,74.5h0M442.6,76h0M443.1,80.6h0M443.6,71.2h0M444.1,77.7h0M444.6,78.1h0M445.1,74.4h0M445.6,76.1h0M446,76.6h0M446.5,79.5h0M447,79.7h0M447.5,79.2h0M448,77.6h0M448.5,76.6h0M449,73.7h0M449.5,78.2h0M450,72.5h0M450.5,79.4h0M451,70.7h0M451.5,82.1h0M452,87.5h0M452.5,77.5h0M453,83.5h0M453.5,75.6h0M454,72.6h0M454.4,82.8h0M454.9,79.1h0M455.4,78.7h0M455.9,80.6h0M456.4,83.5h0M456.9,77.6h0M457.4,81.4h0M457.9,78.9h0M458.4,79.3h0M458.9,84.5h0M459.4,83.1h0M459.9,81.7h0M460.4,80h0M460.9,81.5h0M461.4,81.6h0M461.9,81.9h0M462.4,71.7h0M462.8,82.1h0M463.3,79.1h0M463.8,74.3h0M464.3,82.9h0M464.8,78.7h0M465.3,84.9h0M465.8,85.8h0M466.3,80.7h0M466.8,87.5h0M467.3,80.7h0M467.8,81.5h0M468.3,79.3h0M468.8,76.3h0M469.3,75.4h0M469.8,81.9h0M470.3,82.9h0M470.7,83h0M471.2,78.5h0M471.7,84.3h0M472.2,81.3h0M472.7,83h0M473.2,84.2h0M473.7,81.4h0M474.2,82.4h0M474.7,74.6h0M475.2,81.3h0M475.7,82.4h0M476.2,81.9h0M476.7,80.9h0M477.2,85.6h0M477.7,103.3h0M478.2,75.9h0M478.7,85.1h0M479.1,81.7h0M479.6,82.9h0M480.1,84.2h0M480.6,81.2h0M481.1,85.1h0M481.6,82.4h0M482.1,85h0M482.6,83.5h0M483.1,93.1h0M483.6,78.6h0M484.1,81.4h0M484.6,84.3h0M485.1,80.7h0M485.6,86.7h0M486.1,84.1h0M486.6,77.4h0M487,84.1h0M487.5,84.1h0M488,84.8h0M488.5,79.8h0M489,83.4h0M489.5,88.4h0M490,84.1h0M490.5,84.1h0M491,86.5h0M491.5,82.9h0M492,82.9h0M492.5,88.6h0M493,88.4h0M493.5,81h0M494,89.6h0M494.5,86.3h0M495,82.2h0M495.4,77.6h0M495.9,81.9h0M496.4,86.1h0M496.9,82.3h0M497.4,82.7h0M497.9,81.7h0M498.4,80.6h0M498.9,85.1h0M499.4,80.6h0M499.9,82.3h0M500.4,83.4h0M500.9,84.1h0M501.4,82.9h0M501.9,83h0M502.4,82.1h0M502.9,83.1h0M503.4,89.1h0M503.8,77.1h0M504.3,82.4h0M504.8,83.4h0M505.3,83.5h0M505.8,80.7h0M506.3,83.5h0M506.8,88.5h0M507.3,81.5h0M507.8,87.3h0M508.3,80.7h0M508.8,83.6h0M509.3,78.6h0M509.8,81.4h0M510.3,80.3h0M510.8,83.7h0M511.3,82.9h0M511.8,79.1h0M512.2,80.8h0M512.7,80.2h0M513.2,81.5h0M513.7,83.5h0M514.2,82.9h0M514.7,86.7h0M515.2,81.4h0M515.7,81h0M516.2,80.2h0M516.7,78.8h0M517.2,81.1h0M517.7,83.2h0M518.2,80.1h0M518.7,80.6h0M519.2,82.3h0M519.7,89.4h0M520.1,82.5h0M520.6,83h0M521.1,79.7h0M521.6,78.3h0M522.1,78.8h0M522.6,80.6h0M523.1,86.7h0M523.6,80.6h0M524.1,82h0M524.6,80.1h0M525.1,78.5h0M525.6,79.1h0M526.1,81.7h0M526.6,78.9h0M527.1,81.8h0M527.6,80.5h0M528.1,80.5h0M528.5,78.9h0M529,79.8h0M529.5,81.2h0M530,78.1h0M530.5,81.1h0M531,72.5h0M531.5,79.4h0M532,82.7h0M532.5,82.2h0M533,79.1h0M533.5,81.5h0M534,79.9h0M534.5,83.5h0M535,74.9h0M535.5,83h0M536,83.3h0M536.5,82.4h0M536.9,80.3h0M537.4,79.5h0M537.9,79.2h0M538.4,80.7h0M538.9,83.4h0M539.4,81.1h0M539.9,79h0M540.4,72.3h0M540.9,79.6h0M541.4,78.3h0M541.9,81.9h0M542.4,80.5h0M542.9,78.7h0M543.4,80.6h0M543.9,79.2h0M544.4,75.8h0M544.8,79.1h0M545.3,79.3h0M545.8,81.9h0M546.3,74.6h0M546.8,78.6h0M547.3,83.9h0M547.8,78.9h0M548.3,80.2h0M548.8,81.3h0M549.3,77.6h0M549.8,83.3h0M550.3,78.2h0M550.8,75.8h0M551.3,78.9h0M551.8,84.9h0M552.3,79.9h0M552.8,78.7h0M553.2,80.5h0M553.7,81h0M554.2,79h0M554.7,81h0M555.2,84.1h0M555.7,80.4h0M556.2,78.5h0M556.7,83.8h0M557.2,78.6h0M557.7,79.9h0M558.2,75.5h0M558.7,77.9h0M559.2,74.4h0M559.7,78.4h0M560.2,79.4h0M560.7,78.1h0M561.1,80.3h0M561.6,78.6h0M562.1,82.3h0M562.6,79.2h0M563.1,82.4h0M563.6,79.6h0M564.1,81.1h0M564.6,74.6h0M565.1,79.2h0M565.6,78.2h0M566.1,77.8h0M566.6,81.3h0M567.1,78.7h0M567.6,79.7h0M568.1,79.3h0M568.6,79.8h0M569.1,78h0M569.5,78.5h0M570,70.3h0M570.5,75.2h0M571,74.4h0M571.5,77.2h0M572,78.9h0M572.5,79h0M573,77.3h0M573.5,79h0" fill="none" stroke="#77ac30" stroke-width="2.05" stroke-linecap="round"/>
<path d="M79.5,333.9h0M80,333.6h0M80.5,328.3h0M81,325.2h0M81.5,327.4h0M82,323.2h0M82.5,304.4h0M83,312.9h0M83.5,310h0M83.9,337.2h0M84.4,313.2h0M84.9,306.1h0M85.4,311.6h0M85.9,315.7h0M86.4,310.2h0M86.9,296.8h0M87.4,303.6h0M87.9,286.9h0M88.4,296.5h0M88.9,300.8h0M89.4,307.8h0M89.9,272.4h0M90.4,289h0M90.9,287.2h0M91.4,297.5h0M91.8,283.5h0M92.3,274.7h0M92.8,267.1h0M93.3,264.9h0M93.8,271h0M94.3,276.6h0M94.8,274h0M95.3,264.1h0M95.8,287.6h0M96.3,272.7h0M96.8,266.9h0M97.3,266.5h0M97.8,253.1h0M98.3,264.5h0M98.8,264.8h0M99.3,245h0M99.8,260.2h0M100.2,261.8h0M100.7,265.4h0M101.2,249.8h0M101.7,257.1h0M102.2,247.5h0M102.7,249.8h0M103.2,248.9h0M103.7,238.8h0M104.2,246.5h0M104.7,247.6h0M105.2,252.4h0M105.7,261.2h0M106.2,245.2h0M106.7,237.7h0M107.2,245.9h0M107.7,250.2h0M108.2,245.2h0M108.6,205.7h0M109.1,234.9h0M109.6,214.9h0M110.1,229.9h0M110.6,239.3h0M111.1,227.2h0M111.6,230.2h0M112.1,235.4h0M112.6,217.2h0M113.1,232.1h0M113.6,216.7h0M114.1,221.5h0M114.6,214h0M115.1,217.7h0M115.6,246.8h0M116.1,213.7h0M116.5,183.4h0M117,206.5h0M117.5,214.8h0M118,215.6h0M118.5,190.6h0M119,221.8h0M119.5,216.9h0M120,206.3h0M120.5,204.8h0M121,194.4h0M121.5,251.4h0M122,207.9h0M122.5,203.6h0M123,206h0M123.5,195.2h0M124,201.2h0M124.5,213.5h0M124.9,230.6h0M125.4,224.6h0M125.9,195.2h0M126.4,194.8h0M126.9,202.3h0M127.4,197.5h0M127.9,169h0M128.4,159.5h0M128.9,160.2h0M129.4,175.1h0M129.9,171.8h0M130.4,186.7h0M130.9,193.3h0M131.4,176.3h0M131.9,178h0M132.4,188.6h0M132.9,165h0M133.3,171h0M133.8,198.5h0M134.3,185.3h0M134.8,168.2h0M135.3,176.8h0M135.8,164.7h0M136.3,169.8h0M136.8,169.9h0M137.3,163h0M137.8,155.6h0M138.3,163h0M138.8,166.3h0M139.3,159.2h0M139.8,158.4h0M140.3,161.9h0M140.8,198.7h0M141.2,167.9h0M141.7,159.8h0M142.2,154.9h0M142.7,170.8h0M143.2,156.4h0M143.7,158.2h0M144.2,133.8h0M144.7,159.8h0M145.2,167.3h0M145.7,149.1h0M146.2,151.8h0M146.7,120.1h0M147.2,159.4h0M147.7,147.6h0M148.2,150.8h0M148.7,145.4h0M149.2,145.2h0M149.6,128.8h0M150.1,159h0M150.6,164.3h0M151.1,153.7h0M151.6,153.9h0M152.1,138.9h0M152.6,147.8h0M153.1,141.4h0M153.6,139h0M154.1,152.8h0M154.6,152.6h0M155.1,138.8h0M155.6,127.6h0M156.1,174.2h0M156.6,139.3h0M157.1,149.6h0M157.6,127h0M158,148.4h0M158.5,138h0M159,149h0M159.5,131.1h0M160,137.1h0M160.5,147.5h0M161,143.5h0M161.5,140.2h0M162,131.4h0M162.5,148.9h0M163,122.8h0M163.5,141.8h0M164,143.3h0M164.5,149.2h0M165,126.1h0M165.5,134h0M165.9,134.5h0M166.4,147.3h0M166.9,135.7h0M167.4,139.1h0M167.9,129.2h0M168.4,130.2h0M168.9,139h0M169.4,138h0M169.9,133h0M170.4,167h0M170.9,137.8h0M171.4,134.2h0M171.9,135.4h0M172.4,132.5h0M172.9,185.3h0M173.4,93.8h0M173.9,118.8h0M174.3,131.7h0M174.8,142.4h0M175.3,108.2h0M175.8,131.7h0M176.3,119.9h0M176.8,122.8h0M177.3,134.3h0M177.8,71.1h0M178.3,116h0M178.8,136.6h0M179.3,128.9h0M179.8,129.8h0M180.3,116h0M180.8,141.2h0M181.3,173h0M181.8,151.3h0M182.3,144.6h0M182.7,94.6h0M183.2,115.2h0M183.7,130.5h0M184.2,253.1h0M184.7,151.9h0M185.2,123.9h0M185.7,125.8h0M186.2,129.7h0M186.7,120.1h0M187.2,135.8h0M187.7,129h0M188.2,129.1h0M188.7,131.3h0M189.2,120.7h0M189.7,131h0M190.2,130.6h0M190.7,134.6h0M191.1,129.6h0M191.6,125.9h0M192.1,123.2h0M192.6,134.8h0M193.1,142.9h0M193.6,144.4h0M194.1,148.4h0M194.6,148.1h0M195.1,108.3h0M195.6,44.9h0M196.1,128h0M196.6,122.4h0M197.1,116.8h0M197.6,131.1h0M198.1,106.5h0M198.6,127.4h0M199,142.3h0M199.5,128.6h0M200,118.9h0M200.5,136.3h0M201,131.5h0M201.5,118.4h0M202,105.5h0M202.5,126.9h0M203,126.1h0M203.5,144.2h0M204,115h0M204.5,122.3h0M205,128.8h0M205.5,113.7h0M206,92.5h0M206.5,121h0M207,115h0M207.4,129.4h0M207.9,102.9h0M208.4,95.2h0M208.9,111.6h0M209.4,117.8h0M209.9,110h0M210.4,124h0M210.9,118.1h0M211.4,129.3h0M211.9,114.2h0M212.4,103.1h0M212.9,135.5h0M213.4,58.2h0M213.9,107.3h0M214.4,104.9h0M214.9,94.2h0M215.4,119.4h0M215.8,109.5h0M216.3,109.6h0M216.8,113.5h0M217.3,93h0M217.8,99.3h0M218.3,112.8h0M218.8,118.5h0M219.3,117.1h0M219.8,100.9h0M220.3,143.2h0M220.8,151.6h0M221.3,107.5h0M221.8,107.8h0M222.3,141.6h0M222.8,95.7h0M223.3,105.6h0M223.7,109h0M224.2,105.2h0M224.7,165.5h0M225.2,96.2h0M225.7,96.3h0M226.2,92h0M226.7,101.2h0M227.2,78h0M227.7,88h0M228.2,104.2h0M228.7,97.2h0M229.2,65.7h0M229.7,96.7h0M230.2,99.2h0M230.7,99.7h0M231.2,117.6h0M231.7,101.6h0M232.1,94.6h0M232.6,93.2h0M233.1,105.2h0M233.6,103.2h0M234.1,92.6h0M234.6,91.2h0M235.1,133h0M235.6,113.9h0M236.1,98.2h0M236.6,97.1h0M237.1,90.5h0M237.6,85.2h0M238.1,88.9h0M238.6,85.6h0M239.1,92.2h0M239.6,92.5h0M240.1,61.6h0M240.5,73.8h0M241,92.2h0M241.5,65.7h0M242,83.7h0M242.5,111.7h0M243,80.7h0M243.5,88.9h0M244,93.8h0M244.5,91.7h0M245,100.7h0M245.5,89.7h0M246,87.5h0M246.5,81.3h0M247,51h0M247.5,94.6h0M248,89.6h0M248.4,85.7h0M248.9,82.8h0M249.4,71.8h0M249.9,58.3h0M250.4,88.2h0M250.9,75.2h0M251.4,86h0M251.9,76.6h0M252.4,87.1h0M252.9,74.9h0M253.4,87.4h0M253.9,92.2h0M254.4,77.2h0M254.9,83.2h0M255.4,84h0M255.9,74.5h0M256.4,95.2h0M256.8,68.3h0M257.3,77.8h0M257.8,83.4h0M258.3,85.2h0M258.8,113h0M259.3,96.9h0M259.8,82.6h0M260.3,85h0M260.8,77.6h0M261.3,71.9h0M261.8,57.7h0M262.3,71.9h0M262.8,74.3h0M263.3,23.4h0M263.8,79.3h0M264.3,70.9h0M264.8,78.2h0M265.2,71.2h0M265.7,87.2h0M266.2,76.1h0M266.7,67.3h0M267.2,67.5h0M267.7,67.2h0M268.2,74.3h0M268.7,74.6h0M269.2,70.6h0M269.7,74.4h0M270.2,78h0M270.7,66.7h0M271.2,72.7h0M271.7,71.8h0M272.2,76h0M272.7,76.9h0M273.1,78.1h0M273.6,81.8h0M274.1,70.2h0M274.6,64.3h0M275.1,74.5h0M275.6,70.8h0M276.1,74h0M276.6,87.2h0M277.1,92.9h0M277.6,25h0M278.1,75.9h0M278.6,74h0M279.1,103.5h0M279.6,73.9h0M280.1,75.2h0M280.6,10.2h0M281.1,84.8h0M281.5,78.5h0M282,66.5h0M282.5,77.4h0M283,77h0M283.5,74.8h0M284,72h0M284.5,76.9h0M285,132.2h0M285.5,74.9h0M286,64.2h0M286.5,66.3h0M287,42.6h0M287.5,69.1h0M288,69.4h0M288.5,71.7h0M289,60.8h0M289.4,46.5h0M289.9,45.3h0M290.4,70.5h0M290.9,49.9h0M291.4,73.6h0M291.9,80.3h0M292.4,59.4h0M292.9,71.9h0M293.4,74.8h0M293.9,83.6h0M294.4,83.5h0M294.9,80.6h0M295.4,76.1h0M295.9,72.3h0M296.4,82.4h0M296.9,68.1h0M297.4,85.6h0M297.8,109h0M298.3,77.7h0M298.8,70.8h0M299.3,75.2h0M299.8,91.5h0M300.3,115.4h0M300.8,76.8h0M301.3,72.2h0M301.8,74.1h0M302.3,81.1h0M302.8,78h0M303.3,76.6h0M303.8,87.4h0M304.3,75.6h0M304.8,76.3h0M305.3,78.6h0M305.8,81.2h0M306.2,77.4h0M306.7,76.5h0M307.2,88.7h0M307.7,74.1h0M308.2,84.6h0M308.7,69.2h0M309.2,83.1h0M309.7,78.1h0M310.2,85.2h0M310.7,80h0M311.2,75.2h0M311.7,76.7h0M312.2,89.2h0M312.7,77.4h0M313.2,82h0M313.7,82.8h0M314.1,91.7h0M314.6,31.7h0M315.1,22h0M315.6,69.3h0M316.1,85h0M316.6,77.7h0M317.1,36.4h0M317.6,79.2h0M318.1,83.9h0M318.6,76.3h0M319.1,83.9h0M319.6,80.7h0M320.1,86.4h0M320.6,82.4h0M321.1,72.2h0M321.6,83.1h0M322.1,112.5h0M322.5,82.5h0M323,84.7h0M323.5,98.4h0M324,83.2h0M324.5,82.4h0M325,74.2h0M325.5,89.1h0M326,63.3h0M326.5,90.9h0M327.5,88.6h0M328,90.2h0M328.5,54.3h0M329,80.7h0M329.5,84.5h0M330,79.9h0M330.5,112.9h0M330.9,89.5h0M331.4,83h0M331.9,72.8h0M332.4,112.3h0M332.9,92.3h0M333.4,77.6h0M333.9,86.3h0M334.4,85.1h0M334.9,80.9h0M335.4,84h0M335.9,75.7h0M336.4,83.1h0M336.9,145.3h0M337.4,112.9h0M337.9,91.5h0M338.4,96.1h0M338.9,79h0M339.3,89.8h0M339.8,84h0M340.3,90h0M340.8,90.8h0M341.3,90.6h0M341.8,91.3h0M342.3,97.8h0M342.8,91h0M343.3,87.3h0M343.8,82h0M344.3,87.4h0M344.8,91.4h0M345.3,94.5h0M345.8,89.6h0M346.3,104.7h0M346.8,94.1h0M347.2,149.2h0M347.7,91.5h0M348.2,87.8h0M348.7,92.9h0M349.2,106.7h0M349.7,63.1h0M350.2,92.8h0M350.7,89h0M351.2,125.2h0M351.7,90.3h0M352.2,89.4h0M352.7,74.3h0M353.2,97.5h0M353.7,113h0M354.2,95.3h0M354.7,82.5h0M355.2,69h0M355.6,149.4h0M356.1,63h0M356.6,88.4h0M357.1,96.9h0M357.6,84h0M358.1,95.8h0M358.6,83.7h0M359.1,111.8h0M359.6,89.4h0M360.1,84.9h0M360.6,92.6h0M361.1,94.3h0M361.6,94.3h0M362.1,101.9h0M362.6,96.2h0M363.1,94.2h0M363.5,86.2h0M364,91.6h0M364.5,78.3h0M365,85.6h0M365.5,86h0M366,92.5h0M366.5,89.7h0M367,73.2h0M367.5,102.2h0M368,89.1h0M368.5,93.6h0M369,76.3h0M369.5,100.2h0M370,57.3h0M370.5,66.5h0M371,83.5h0M371.5,81.1h0M371.9,83.6h0M372.4,89.5h0M372.9,84.9h0M373.4,91h0M373.9,147.8h0M374.4,86.4h0M374.9,77.1h0M375.4,92.2h0M375.9,88.6h0M376.4,91.8h0M376.9,77.4h0M377.4,86h0M377.9,83.4h0M378.4,94.8h0M378.9,87.2h0M379.4,93.7h0M379.9,83.1h0M380.3,90.1h0M380.8,91.7h0M381.3,85.1h0M381.8,79.1h0M382.3,79.4h0M382.8,89.2h0M383.3,84h0M383.8,70.4h0M384.3,80.5h0M384.8,82.9h0M385.3,65.2h0M385.8,58.8h0M386.3,84.1h0M386.8,79.5h0M387.3,83.5h0M387.8,81.9h0M388.2,144.9h0M388.7,84.4h0M389.2,90.9h0M389.7,80.1h0M390.2,86.1h0M390.7,85.9h0M391.2,75.3h0M391.7,94.9h0M392.2,71.2h0M392.7,82.8h0M393.2,79.2h0M393.7,61.4h0M394.2,77.8h0M394.7,80.4h0M395.2,81.9h0M395.7,73.1h0M396.2,79h0M396.6,90.6h0M397.1,68.8h0M397.6,83.5h0M398.1,77.2h0M398.6,83.2h0M399.1,73.5h0M399.6,80h0M400.1,77.4h0M400.6,96.4h0M401.1,79.2h0M401.6,84.3h0M402.1,77.3h0M402.6,84.8h0M403.1,75.2h0M403.6,81.5h0M404.1,72.2h0M404.6,57.4h0M405,72.5h0M405.5,79.8h0M406,85.8h0M406.5,70.2h0M407,84.9h0M407.5,80.2h0M408,83.2h0M408.5,82.1h0M409,78.2h0M409.5,76.4h0M410,71.7h0M410.5,69.3h0M411,75.7h0M411.5,90.3h0M412,82.2h0M412.5,73.7h0M413,66.1h0M413.4,75h0M413.9,75.4h0M414.4,82.1h0M414.9,72.8h0M415.4,79.7h0M415.9,67.6h0M416.4,79h0M416.9,72.5h0M417.4,83.8h0M417.9,76.3h0M418.4,61.1h0M418.9,75.4h0M419.4,76.4h0M419.9,64.9h0M420.4,72.9h0M420.9,69h0M421.3,74.3h0M421.8,72.9h0M422.3,65.1h0M422.8,66.5h0M423.3,75.5h0M423.8,67.4h0M424.3,73.5h0M424.8,77.3h0M425.3,67.5h0M425.8,57h0M426.3,78.5h0M426.8,72.2h0M427.3,77.1h0M427.8,74.1h0M428.3,80.1h0M428.8,82.9h0M429.3,75.8h0M429.7,79.6h0M430.2,73h0M430.7,63.9h0M431.2,68.2h0M431.7,76.3h0M432.2,78.4h0M432.7,75.2h0M433.2,75.7h0M433.7,66.4h0M434.2,65.8h0M434.7,78.3h0M435.2,76.4h0M435.7,83.2h0M436.2,76.4h0M436.7,76.9h0M437.2,76.4h0M437.6,79.8h0M438.1,78.3h0M438.6,80.9h0M439.1,68.4h0M439.6,75.4h0M440.1,74.8h0M440.6,79.7h0M441.1,81.6h0M441.6,79h0M442.1,79.3h0M442.6,79.8h0M443.1,84.9h0M443.6,83.5h0M444.1,76.6h0M444.6,77.1h0M445.1,78.6h0M445.6,76.8h0M446,81.8h0M446.5,80.2h0M447,74.8h0M447.5,77.6h0M448,77.1h0M448.5,79.2h0M449,77h0M449.5,74.2h0M450,83.6h0M450.5,80.4h0M451,83.4h0M451.5,83.9h0M452,79.2h0M452.5,86.1h0M453,77h0M453.5,80h0M454,73.6h0M454.4,80.1h0M454.9,81.6h0M455.4,80.1h0M455.9,79.8h0M456.4,76.7h0M456.9,85.4h0M457.4,82.1h0M457.9,76h0M458.4,82.5h0M458.9,82.9h0M459.4,79.8h0M459.9,80.8h0M460.4,77.5h0M460.9,75.6h0M461.4,83.4h0M461.9,80.6h0M462.4,84.4h0M462.8,82.7h0M463.3,76.6h0M463.8,79.8h0M464.3,76.1h0M464.8,80.9h0M465.3,81.7h0M465.8,91.2h0M466.3,83.7h0M466.8,64.5h0M467.3,84.2h0M467.8,81.2h0M468.3,86.3h0M468.8,82.1h0M469.3,82.9h0M469.8,81.9h0M470.3,84.1h0M470.7,87.4h0M471.2,81.9h0M471.7,79.8h0M472.2,82.6h0M472.7,76.6h0M473.2,78.4h0M473.7,80.6h0M474.2,82.3h0M474.7,82.7h0M475.2,81.7h0M475.7,82.7h0M476.2,83.3h0M476.7,83.1h0M477.2,88h0M477.7,83.1h0M478.2,82.7h0M478.7,83.6h0M479.1,90h0M479.6,85.1h0M480.1,82.2h0M480.6,78.4h0M481.1,86h0M481.6,83.1h0M482.1,80.9h0M482.6,84.9h0M483.1,83.6h0M483.6,78.1h0M484.1,82.7h0M484.6,82.2h0M485.1,84.1h0M485.6,83.5h0M486.1,85.9h0M486.6,83.1h0M487,82.3h0M487.5,81.1h0M488,81.7h0M488.5,84h0M489,82.1h0M489.5,82h0M490,84.2h0M490.5,84h0M491,88.7h0M491.5,78h0M492,84.2h0M492.5,83.5h0M493,90.8h0M493.5,76.5h0M494,79.6h0M494.5,83.7h0M495,82.6h0M495.4,81.2h0M495.9,80.5h0M496.4,81.2h0M496.9,81.7h0M497.4,82.5h0M497.9,83.8h0M498.4,82.2h0M498.9,76.8h0M499.4,80.8h0M499.9,81.4h0M500.4,87.3h0M500.9,81h0M501.4,81.3h0M501.9,82.8h0M502.4,81.6h0M502.9,82.8h0M503.4,81.3h0M503.8,87.1h0M504.3,84.7h0M504.8,81.8h0M505.3,82.3h0M505.8,73.4h0M506.3,80.1h0M506.8,80.7h0M507.3,81.7h0M507.8,81.3h0M508.3,82.6h0M508.8,84.8h0M509.3,81.3h0M509.8,83.3h0M510.3,80.7h0M510.8,83.3h0M511.3,82.9h0M511.8,83.6h0M512.2,82.1h0M512.7,80.6h0M513.2,85.4h0M513.7,81.1h0M514.2,81.7h0M514.7,80.3h0M515.2,80.3h0M515.7,79.6h0M516.2,82.5h0M516.7,80.8h0M517.2,79.2h0M517.7,82.3h0M518.2,77.7h0M518.7,79h0M519.2,81.3h0M519.7,80.1h0M520.1,80.8h0M520.6,81.2h0M521.1,78.6h0M521.6,79.9h0M522.1,86.6h0M522.6,79.1h0M523.1,81.3h0M523.6,81h0M524.1,78.7h0M524.6,82.4h0M525.1,79.4h0M525.6,77.7h0M526.1,82.3h0M526.6,82h0M527.1,81.5h0M527.6,76.1h0M528.1,85.6h0M528.5,78.2h0M529,78.6h0M529.5,80.7h0M530,82.4h0M530.5,81.7h0M531,80.8h0M531.5,82.2h0M532,79h0M532.5,82.3h0M533,80.6h0M533.5,80h0M534,81.1h0M534.5,79.2h0M535,80h0M535.5,75.3h0M536,86.3h0M536.5,83.3h0M536.9,76.9h0M537.4,79.2h0M537.9,79.7h0M538.4,79.2h0M538.9,79.7h0M539.4,79.1h0M539.9,80.3h0M540.4,81.1h0M540.9,77.8h0M541.4,83.4h0M541.9,80.5h0M542.4,82h0M542.9,78.2h0M543.4,78.9h0M543.9,80h0M544.4,78.4h0M544.8,75.9h0M545.3,80h0M545.8,79.1h0M546.3,79.8h0M546.8,79h0M547.3,79.2h0M547.8,78.9h0M548.3,80.2h0M548.8,80.2h0M549.3,80h0M549.8,82.8h0M550.3,77.5h0M550.8,74.6h0M551.3,80.1h0M551.8,73.3h0M552.3,77.8h0M552.8,78.7h0M553.2,77.5h0M553.7,78.4h0M554.2,74.8h0M554.7,73.4h0M555.2,77.5h0M555.7,76h0M556.2,81.3h0M556.7,79h0M557.2,81h0M557.7,78h0M558.2,77.4h0M558.7,78.5h0M559.2,78.3h0M559.7,80h0M560.2,79.8h0M560.7,78.9h0M561.1,78.5h0M561.6,82.3h0M562.1,79.4h0M562.6,79.6h0M563.1,81.2h0M563.6,78.6h0M564.1,79.6h0M564.6,78.5h0M565.1,79.1h0M565.6,78.1h0M566.1,77.4h0M566.6,78.4h0M567.1,73.8h0M567.6,78.8h0M568.1,78.8h0M568.6,77.7h0M569.1,76.8h0M569.5,78h0M570,80.1h0M570.5,79.1h0M571,74.1h0M571.5,77.4h0M572,76.3h0M572.5,77h0M573,77.6h0M573.5,77.7h0" fill="none" stroke="#77ac30" stroke-width="2.05" stroke-linecap="round"/>
<path d="M79.5,331.8h0M80,332.9h0M80.5,324.1h0M81,327.4h0M81.5,327.4h0M82,323.1h0M82.5,326.8h0M83,323.8h0M83.5,268.4h0M83.9,312.8h0M84.4,316.9h0M84.9,309h0M85.4,285.2h0M85.9,305.2h0M86.4,302.4h0M86.9,314.6h0M87.4,295.4h0M87.9,260h0M88.4,243.5h0M88.9,289.8h0M89.4,275.4h0M89.9,286.7h0M90.4,292.4h0M90.9,285.6h0M91.4,281.5h0M91.8,272.6h0M92.3,280.8h0M92.8,276.6h0M93.3,265.2h0M93.8,267.4h0M94.3,231.4h0M94.8,271.8h0M95.3,269.2h0M95.8,255h0M96.3,238.8h0M96.8,272.5h0M97.3,265.7h0M97.8,228.9h0M98.3,246.3h0M98.8,287.6h0M99.3,259.5h0M99.8,266h0M100.2,256.7h0M100.7,261.4h0M101.2,259.5h0M101.7,229.5h0M102.2,254.5h0M102.7,243.3h0M103.2,263.3h0M103.7,265.4h0M104.2,248.8h0M104.7,238.3h0M105.2,245h0M105.7,245.7h0M106.2,247.1h0M106.7,241.3h0M107.2,236.8h0M107.7,243h0M108.2,235.3h0M108.6,239h0M109.1,233.7h0M109.6,243h0M110.1,227.2h0M110.6,229.7h0M111.1,234.4h0M111.6,237.2h0M112.1,236h0M112.6,245.1h0M113.1,227.3h0M113.6,223.7h0M114.1,225.1h0M114.6,217h0M115.1,220.6h0M115.6,212.2h0M116.1,204.9h0M116.5,218.3h0M117,197.6h0M117.5,216.2h0M118,222.1h0M118.5,237.9h0M119,222.4h0M119.5,209.6h0M120,221h0M120.5,209.9h0M121,168.3h0M121.5,207h0M122,186.1h0M122.5,181.6h0M123,224.8h0M123.5,175.2h0M124,194.5h0M124.5,202.7h0M124.9,197.2h0M125.4,198.2h0M125.9,206.5h0M126.4,174.8h0M126.9,205h0M127.4,189.9h0M127.9,208.7h0M128.4,190.7h0M128.9,186.3h0M129.4,195h0M129.9,181.7h0M130.4,168.2h0M130.9,199.9h0M131.4,189.1h0M131.9,176.9h0M132.4,187.7h0M132.9,173.5h0M133.3,173h0M133.8,174.1h0M134.3,170.6h0M134.8,167.2h0M135.3,162.4h0M135.8,184.6h0M136.3,191.6h0M136.8,198.3h0M137.3,187.3h0M137.8,148.4h0M138.3,164.2h0M138.8,166.9h0M139.3,161h0M139.8,142.3h0M140.3,150.4h0M140.8,160.2h0M141.2,159.5h0M141.7,159.1h0M142.2,146.8h0M142.7,134.5h0M143.2,167h0M143.7,160.4h0M144.2,163.3h0M144.7,136.5h0M145.2,162.6h0M145.7,142.4h0M146.2,145.8h0M146.7,147.6h0M147.2,145.9h0M147.7,142.7h0M148.2,159.8h0M148.7,122.8h0M149.2,144.4h0M149.6,140.9h0M150.1,144.2h0M150.6,138.5h0M151.1,146.4h0M151.6,147.5h0M152.1,181.6h0M152.6,148.6h0M153.1,151.6h0M153.6,129.2h0M154.1,134.9h0M154.6,144.8h0M155.1,136.9h0M155.6,148.3h0M156.1,152.5h0M156.6,165.9h0M157.1,150.1h0M157.6,146h0M158,137.9h0M158.5,149.5h0M159,109.1h0M159.5,133.9h0M160,120.4h0M160.5,142.3h0M161,148.6h0M161.5,136.6h0M162,142.8h0M162.5,151.6h0M163,128.6h0M163.5,117.5h0M164,168.5h0M164.5,147.5h0M165,140.6h0M165.5,126.3h0M165.9,171.1h0M166.4,133.5h0M166.9,133.6h0M167.4,146.3h0M167.9,137.1h0M168.4,107.9h0M168.9,142.3h0M169.4,139.6h0M169.9,139.3h0M170.4,134.8h0M170.9,141.1h0M171.4,132.8h0M171.9,133.4h0M172.4,135.4h0M172.9,142.5h0M173.4,137.3h0M173.9,152.9h0M174.3,139.7h0M174.8,135.1h0M175.3,136h0M175.8,175.4h0M176.3,144.2h0M176.8,164.4h0M177.3,129.8h0M177.8,127.3h0M178.3,110.6h0M178.8,135.3h0M179.3,122.1h0M179.8,124.1h0M180.3,118.7h0M180.8,152.6h0M181.3,128.1h0M181.8,132.5h0M182.3,125.5h0M182.7,122.6h0M183.2,128.3h0M183.7,119h0M184.2,122.5h0M184.7,118.2h0M185.2,139h0M185.7,140.8h0M186.2,115.1h0M186.7,162.8h0M187.2,125.1h0M187.7,131h0M188.2,126.2h0M188.7,142.5h0M189.2,121.5h0M189.7,126.9h0M190.2,126.5h0M190.7,142.5h0M191.1,114.7h0M191.6,114.2h0M192.1,128.4h0M192.6,135.8h0M193.1,143.7h0M193.6,139.4h0M194.1,127.9h0M194.6,115.4h0M195.1,111.4h0M195.6,121.7h0M196.1,180.6h0M196.6,116.1h0M197.1,116.8h0M197.6,126.8h0M198.1,128.4h0M198.6,102h0M199,109.6h0M199.5,98.8h0M200,123.3h0M200.5,109.9h0M201,116.2h0M201.5,119.5h0M202,127.4h0M202.5,103h0M203,117.7h0M203.5,107.8h0M204,121.8h0M204.5,124.1h0M205,125.4h0M205.5,123.8h0M206,112h0M206.5,144.4h0M207,119.2h0M207.4,113.1h0M207.9,101.3h0M208.4,132.2h0M208.9,124.6h0M209.4,114.2h0M209.9,153.7h0M210.4,102.4h0M210.9,115.6h0M211.4,152.6h0M211.9,120.7h0M212.4,132.8h0M212.9,121h0M213.4,102.6h0M213.9,118.1h0M214.4,140.8h0M214.9,98.9h0M215.4,140.9h0M215.8,154.7h0M216.3,144.3h0M216.8,107.5h0M217.3,99.6h0M217.8,113.9h0M218.3,88.7h0M218.8,74.5h0M219.3,112.3h0M219.8,101.6h0M220.3,95.6h0M220.8,103.3h0M221.3,123.1h0M221.8,135.2h0M222.3,104.2h0M222.8,110.7h0M223.3,109.3h0M223.7,102.7h0M224.2,95.1h0M224.7,119.1h0M225.2,106h0M225.7,86.4h0M226.2,165.2h0M226.7,107.6h0M227.2,58.3h0M227.7,102h0M228.2,92.5h0M228.7,101.2h0M229.2,85.4h0M229.7,91.6h0M230.2,76.1h0M230.7,107.2h0M231.2,86.4h0M231.7,87.6h0M232.1,66.7h0M232.6,96.9h0M233.1,98.5h0M233.6,85.9h0M234.1,101.5h0M234.6,63.2h0M235.1,88.3h0M235.6,94h0M236.1,92.6h0M236.6,89.4h0M237.1,101.2h0M237.6,95.9h0M238.1,72.8h0M238.6,87.9h0M239.1,92.7h0M239.6,87.8h0M240.1,87.1h0M240.5,79.3h0M241,91.9h0M241.5,114.3h0M242,87.3h0M242.5,73.7h0M243,85.4h0M243.5,87.1h0M244,89.4h0M244.5,78.8h0M245,91h0M245.5,88.1h0M246,86.6h0M246.5,85.8h0M247,94.1h0M247.5,83.9h0M248,76.3h0M248.4,56.1h0M248.9,86.6h0M249.4,96.2h0M249.9,88.3h0M250.4,79h0M250.9,95.4h0M251.4,90.9h0M251.9,79.3h0M252.4,93.6h0M252.9,61.4h0M253.4,88.6h0M253.9,82.6h0M254.4,38.3h0M254.9,71.4h0M255.4,88.5h0M255.9,75.9h0M256.4,74.1h0M256.8,80.7h0M257.3,64.6h0M257.8,69.7h0M258.3,53.2h0M258.8,88.1h0M259.3,71.3h0M259.8,46.2h0M260.3,72.7h0M260.8,75.4h0M261.3,86.5h0M261.8,71h0M262.3,70.5h0M262.8,75.7h0M263.3,70.9h0M263.8,76h0M264.3,75.6h0M264.8,107.2h0M265.2,56.8h0M265.7,11.4h0M266.2,68.4h0M266.7,79.4h0M267.2,78.6h0M267.7,68h0M268.2,69h0M268.7,81.2h0M269.2,71.9h0M269.7,57.7h0M270.2,70.8h0M270.7,68.2h0M271.2,69.6h0M271.7,78.7h0M272.2,56.4h0M272.7,64.3h0M273.1,65h0M273.6,85.7h0M274.1,69.2h0M274.6,76.3h0M275.1,90.1h0M275.6,99.7h0M276.1,38.3h0M276.6,73.7h0M277.1,73.5h0M277.6,78.7h0M278.1,59.7h0M278.6,78.7h0M279.1,84.5h0M279.6,74.8h0M280.1,71.7h0M280.6,75.3h0M281.1,71.5h0M281.5,89.9h0M282,69.3h0M282.5,79.7h0M283,74.8h0M283.5,72.9h0M284,80.6h0M284.5,81.4h0M285,71.2h0M285.5,79h0M286,51.9h0M286.5,66.9h0M287,62.5h0M287.5,72.4h0M288,47.8h0M288.5,71.1h0M289,74.5h0M289.4,70.5h0M289.9,67.8h0M290.4,84.9h0M290.9,67.8h0M291.4,74h0M291.9,50.2h0M292.4,95.9h0M292.9,83.9h0M293.4,69.1h0M293.9,87.5h0M294.4,118h0M294.9,101.6h0M295.4,71.7h0M295.9,74.4h0M296.4,75.6h0M296.9,79.3h0M297.4,73.8h0M297.8,28.5h0M298.3,70.8h0M298.8,80.1h0M299.3,54.8h0M299.8,86.2h0M300.3,105.8h0M300.8,78h0M301.3,81.2h0M301.8,79.7h0M302.3,66.8h0M302.8,81h0M303.3,72.4h0M303.8,75.9h0M304.3,78.1h0M304.8,74.7h0M305.3,78.1h0M305.8,73.2h0M306.2,77.9h0M306.7,83h0M307.2,92.5h0M307.7,79.4h0M308.2,119.1h0M308.7,92.6h0M309.2,68.3h0M309.7,93.5h0M310.2,84.9h0M310.7,82.6h0M311.2,86.8h0M311.7,91.5h0M312.2,123.3h0M312.7,78.1h0M313.2,62.5h0M313.7,76.8h0M314.1,98.1h0M314.6,90.7h0M315.1,72.6h0M315.6,56.7h0M316.1,78.3h0M316.6,86.3h0M317.1,81.9h0M317.6,76.3h0M318.1,87.4h0M318.6,80.3h0M319.1,116.5h0M319.6,61.7h0M320.1,69.9h0M320.6,70.2h0M321.1,84.4h0M321.6,84.7h0M322.1,56.7h0M322.5,82.2h0M323,96.4h0M323.5,76.4h0M324,87.8h0M324.5,54.3h0M325,88.4h0M325.5,94.5h0M326,89.6h0M326.5,91.3h0M327,85.3h0M327.5,111.5h0M328,70.5h0M328.5,89.8h0M329,86h0M329.5,90.2h0M330,95.4h0M330.5,112.7h0M330.9,95.3h0M331.4,87.1h0M331.9,81.8h0M332.4,77.8h0M332.9,77.7h0M333.4,91.7h0M333.9,68.7h0M334.4,89.9h0M334.9,97.2h0M335.4,50.6h0M335.9,60.2h0M336.4,91h0M336.9,92.2h0M337.4,88h0M337.9,76.7h0M338.4,94.3h0M338.9,60.7h0M339.3,81.9h0M339.8,87.8h0M340.3,96.8h0M340.8,101.6h0M341.3,88.8h0M341.8,86.4h0M342.3,93h0M342.8,91.2h0M343.3,106.5h0M343.8,89.7h0M344.3,97h0M344.8,86.8h0M345.3,116h0M345.8,93.3h0M346.3,89.1h0M346.8,95.4h0M347.2,93.7h0M347.7,91.3h0M348.2,93.2h0M348.7,102.4h0M349.2,90.9h0M349.7,77.9h0M350.2,95.3h0M350.7,101.3h0M351.2,93h0M351.7,91h0M352.2,94.4h0M352.7,76.1h0M353.2,35.4h0M353.7,89h0M354.2,94.8h0M354.7,91.9h0M355.2,92.5h0M355.6,92.7h0M356.1,89.1h0M356.6,90.5h0M357.1,96.6h0M357.6,77.4h0M358.1,93h0M358.6,89.4h0M359.1,93.7h0M359.6,100.6h0M360.1,91.5h0M360.6,54.3h0M361.1,86.7h0M361.6,90.4h0M362.1,97h0M362.6,85.8h0M363.1,110.8h0M363.5,88.2h0M364,70.7h0M364.5,86.7h0M365,95.5h0M365.5,90h0M366,82h0M366.5,92.7h0M367,90.5h0M367.5,90.8h0M368,99h0M368.5,92.9h0M369,96.7h0M369.5,89.3h0M370,97.6h0M370.5,89.8h0M371,90.4h0M371.5,59.8h0M371.9,76.4h0M372.4,71.5h0M372.9,87.6h0M373.4,86.8h0M373.9,88.9h0M374.4,78.5h0M374.9,101.7h0M375.4,91.4h0M375.9,88.3h0M376.4,84.2h0M376.9,87.3h0M377.4,79.9h0M377.9,94.6h0M378.4,89.5h0M378.9,81.9h0M379.4,88.6h0M379.9,83.3h0M380.3,89.3h0M380.8,77.7h0M381.3,42.6h0M381.8,80.3h0M382.3,79.2h0M382.8,84.2h0M383.3,84h0M383.8,85.8h0M384.3,83.5h0M384.8,75.2h0M385.3,88.3h0M385.8,116.6h0M386.3,88.9h0M386.8,78.3h0M387.3,90.2h0M387.8,80h0M388.2,82.3h0M388.7,82.8h0M389.2,87.8h0M389.7,81h0M390.2,91h0M390.7,77.9h0M391.2,72.5h0M391.7,69.9h0M392.2,83.2h0M392.7,81h0M393.2,74.9h0M393.7,92.6h0M394.2,58.9h0M394.7,78.9h0M395.2,87.2h0M395.7,73.8h0M396.2,57.4h0M396.6,87.2h0M397.1,72.8h0M397.6,54.9h0M398.1,72.7h0M398.6,80.3h0M399.1,79.2h0M399.6,84.1h0M400.1,71.7h0M400.6,71.8h0M401.1,78.8h0M401.6,77.5h0M402.1,82.4h0M402.6,73.1h0M403.1,74.6h0M403.6,78.6h0M404.1,80.9h0M404.6,67.6h0M405,77.7h0M405.5,69.9h0M406,68.9h0M406.5,80.4h0M407,84.3h0M407.5,58.3h0M408,81.7h0M408.5,72.1h0M409,58.9h0M409.5,76.9h0M410,76.6h0M410.5,83h0M411,73.3h0M411.5,80.9h0M412,54.1h0M412.5,89.9h0M413,79.2h0M413.4,75.5h0M413.9,75.8h0M414.4,71.9h0M414.9,78h0M415.4,84.9h0M415.9,76.6h0M416.4,72.8h0M416.9,80.8h0M417.4,76.1h0M417.9,74.3h0M418.4,73.9h0M418.9,73h0M419.4,74.3h0M419.9,77.5h0M420.4,61.1h0M420.9,76.5h0M421.3,67.2h0M421.8,74.1h0M422.3,96h0M422.8,77.5h0M423.3,75h0M423.8,75.9h0M424.3,75.7h0M424.8,49.1h0M425.3,74.5h0M425.8,72.8h0M426.3,77.7h0M426.8,62.8h0M427.3,71.8h0M427.8,75.2h0M428.3,75.6h0M428.8,78.7h0M429.3,71.9h0M429.7,64.2h0M430.2,72.1h0M430.7,55.4h0M431.2,60.9h0M431.7,73.4h0M432.2,73.7h0M432.7,69.7h0M433.2,68.1h0M433.7,78.6h0M434.2,76.7h0M434.7,74h0M435.2,77.1h0M435.7,64.5h0M436.2,77.8h0M436.7,66.8h0M437.2,78.1h0M437.6,74.1h0M438.1,64.5h0M438.6,82.1h0M439.1,87.9h0M439.6,77.3h0M440.1,76.7h0M440.6,75.1h0M441.1,75.7h0M441.6,81.8h0M442.1,73.8h0M442.6,74.9h0M443.1,80.7h0M443.6,74.8h0M444.1,78.6h0M444.6,81h0M445.1,67.3h0M445.6,77.2h0M446,81h0M446.5,88h0M447,80.4h0M447.5,75.8h0M448,80.7h0M448.5,70.1h0M449,81.6h0M449.5,76.1h0M450,77.5h0M450.5,80.2h0M451,78.9h0M451.5,76.8h0M452,80.2h0M452.5,79.1h0M453,84.7h0M453.5,74.5h0M454,78.5h0M454.4,79.3h0M454.9,79.8h0M455.4,78.8h0M455.9,82.2h0M456.4,77.9h0M456.9,72.3h0M457.4,79.5h0M457.9,73.8h0M458.4,80.5h0M458.9,80.1h0M459.4,80.7h0M459.9,79.3h0M460.4,80.2h0M460.9,78.3h0M461.4,73.8h0M461.9,80.6h0M462.4,80.5h0M462.8,79.1h0M463.3,85.4h0M463.8,80.4h0M464.3,82.9h0M464.8,82.5h0M465.3,82.2h0M465.8,80.1h0M466.3,81.1h0M466.8,81.8h0M467.3,88.3h0M467.8,77.4h0M468.3,74.4h0M468.8,80.9h0M469.3,81.6h0M469.8,79.8h0M470.3,80.4h0M470.7,84.4h0M471.2,84.4h0M471.7,82.4h0M472.2,83.1h0M472.7,81.1h0M473.2,82.2h0M473.7,83.6h0M474.2,81.7h0M474.7,82.8h0M475.2,83.4h0M475.7,83.3h0M476.2,82.8h0M476.7,80.8h0M477.2,82.5h0M477.7,83.4h0M478.2,83.5h0M478.7,83.6h0M479.1,82.7h0M479.6,84.1h0M480.1,83.8h0M480.6,83.5h0M481.1,84.7h0M481.6,84.2h0M482.1,83.2h0M482.6,83.5h0M483.1,81.9h0M483.6,82h0M484.1,89.4h0M484.6,79.4h0M485.1,82.3h0M485.6,85.8h0M486.1,83.1h0M486.6,83.3h0M487,82.7h0M487.5,85.9h0M488,83.6h0M488.5,84.9h0M489,81.4h0M489.5,81.8h0M490,84.4h0M490.5,83.8h0M491,82h0M491.5,78h0M492,79.3h0M492.5,83.3h0M493,82h0M493.5,81.8h0M494,86.6h0M494.5,83.3h0M495,83.6h0M495.4,97.5h0M495.9,79h0M496.4,83.7h0M496.9,80.4h0M497.4,80.8h0M497.9,76.2h0M498.4,85.6h0M498.9,82.1h0M499.4,81.7h0M499.9,80.2h0M500.4,85.1h0M500.9,81.9h0M501.4,80.3h0M501.9,81.6h0M502.4,83.8h0M502.9,89.2h0M503.4,83h0M503.8,80h0M504.3,82.4h0M504.8,81.1h0M505.3,80.7h0M505.8,83.4h0M506.3,81.9h0M506.8,81.2h0M507.3,84h0M507.8,72.8h0M508.3,78.6h0M508.8,79.9h0M509.3,80.7h0M509.8,83.3h0M510.3,77.7h0M510.8,81.1h0M511.3,81.8h0M511.8,82.8h0M512.2,80h0M512.7,82.6h0M513.2,79.9h0M513.7,80.8h0M514.2,79.6h0M514.7,80.1h0M515.2,82.5h0M515.7,78.3h0M516.2,82.4h0M516.7,76h0M517.2,80.4h0M517.7,81.2h0M518.2,81.6h0M518.7,82.2h0M519.2,82.6h0M519.7,80.6h0M520.1,82.5h0M520.6,82.7h0M521.1,80.3h0M521.6,82.6h0M522.1,81.1h0M522.6,84.1h0M523.1,75.9h0M523.6,82.7h0M524.1,80.7h0M524.6,83.1h0M525.1,82.5h0M525.6,80.9h0M526.1,81.9h0M526.6,76.5h0M527.1,81.7h0M527.6,80.7h0M528.1,81.9h0M528.5,81h0M529,80.8h0M529.5,79.8h0M530,80.3h0M530.5,80.9h0M531,80.2h0M531.5,79.2h0M532,82.6h0M532.5,81.9h0M533,82.3h0M533.5,79.6h0M534,82h0M534.5,81h0M535,81.2h0M535.5,86.2h0M536,80.3h0M536.5,76.9h0M536.9,82.7h0M537.4,79.7h0M537.9,78.1h0M538.4,80.5h0M538.9,81.2h0M539.4,75.9h0M539.9,82.1h0M540.4,81.5h0M540.9,78.4h0M541.4,77.9h0M541.9,79.8h0M542.4,83.5h0M542.9,80.5h0M543.4,77.9h0M543.9,81.1h0M544.4,79.7h0M544.8,80h0M545.3,78.7h0M545.8,78.9h0M546.3,78.2h0M546.8,81.4h0M547.3,79.6h0M547.8,79.2h0M548.3,80.7h0M548.8,78.5h0M549.3,80.7h0M549.8,80.9h0M550.3,74h0M550.8,79.1h0M551.3,82.3h0M551.8,77.3h0M552.3,84.3h0M552.8,78.6h0M553.2,78.1h0M553.7,74.5h0M554.2,78.9h0M554.7,80.1h0M555.2,81.4h0M555.7,78.7h0M556.2,77h0M556.7,80.2h0M557.2,78h0M557.7,82.1h0M558.2,78.4h0M558.7,77.2h0M559.2,82.4h0M559.7,75.7h0M560.2,78.4h0M560.7,79.1h0M561.1,83.8h0M561.6,76.2h0M562.1,79.5h0M562.6,76.1h0M563.1,79.7h0M563.6,78.2h0M564.1,76.6h0M564.6,77.2h0M565.1,76.6h0M565.6,77.5h0M566.1,77.3h0M566.6,78.2h0M567.1,78.3h0M567.6,77.2h0M568.1,78.3h0M568.6,76.8h0M569.1,78.9h0M569.5,78h0M570,78.1h0M570.5,79.1h0M571,78.2h0M571.5,78.1h0M572,73.9h0M572.5,76.9h0M573,77.5h0M573.5,80.7h0" fill="none" stroke="#77ac30" stroke-width="2.05" stroke-linecap="round"/>
<path d="M79.5,319.6h0M80,328.4h0M80.5,336.4h0M81,332.2h0M81.5,333.6h0M82,336.3h0M82.5,332.1h0M83,319.2h0M83.5,314h0M83.9,328.4h0M84.4,314.9h0M84.9,287.3h0M85.4,336.7h0M85.9,321.9h0M86.4,320.6h0M86.9,301.3h0M87.4,276.4h0M87.9,312.6h0M88.4,314.7h0M88.9,314.9h0M89.4,307.5h0M89.9,297.7h0M90.4,306.2h0M90.9,300.3h0M91.4,300.6h0M91.8,316.7h0M92.3,306.3h0M92.8,311.7h0M93.3,297.4h0M93.8,302.3h0M94.3,293.5h0M94.8,288h0M95.3,289.8h0M95.8,292.6h0M96.3,307.9h0M96.8,294.9h0M97.3,295.7h0M97.8,292h0M98.3,289.2h0M98.8,276.3h0M99.3,256.1h0M99.8,287.7h0M100.2,274.4h0M100.7,286.9h0M101.2,285.7h0M101.7,248.8h0M102.2,281.1h0M102.7,273.1h0M103.2,282.6h0M103.7,252.8h0M104.2,276.7h0M104.7,274.8h0M105.2,272.6h0M105.7,284.1h0M106.2,268.1h0M106.7,296.3h0M107.2,259.5h0M107.7,264.3h0M108.2,272.9h0M108.6,270.5h0M109.1,265.7h0M109.6,264.5h0M110.1,262.9h0M110.6,249.2h0M111.1,275.8h0M111.6,272.8h0M112.1,261.8h0M112.6,242.2h0M113.1,260.7h0M113.6,235.7h0M114.1,257h0M114.6,264.8h0M115.1,251.8h0M115.6,238.5h0M116.1,291.7h0M116.5,251.5h0M117,247.8h0M117.5,253h0M118,268h0M118.5,255.1h0M119,258.7h0M119.5,298.9h0M120,244.3h0M120.5,257.5h0M121,260.8h0M121.5,237.5h0M122,254.9h0M122.5,260.8h0M123,260.9h0M123.5,243.7h0M124,226.9h0M124.5,249.8h0M124.9,253.7h0M125.4,249.7h0M125.9,254.1h0M126.4,265.5h0M126.9,246.5h0M127.4,254.6h0M127.9,224.2h0M128.4,246.4h0M128.9,257.2h0M129.4,248.7h0M129.9,244.1h0M130.4,254.7h0M130.9,251.9h0M131.4,243.1h0M131.9,242.9h0M132.4,251h0M132.9,248.8h0M133.3,244h0M133.8,247h0M134.3,240.9h0M134.8,234.3h0M135.3,267h0M135.8,252.9h0M136.3,244.2h0M136.8,263.9h0M137.3,260.3h0M137.8,252.7h0M138.3,241.2h0M138.8,242.4h0M139.3,242.9h0M139.8,244.5h0M140.3,240.1h0M140.8,239.1h0M141.2,236.4h0M141.7,232.4h0M142.2,244.8h0M142.7,239.4h0M143.2,237.7h0M143.7,235.8h0M144.2,238.7h0M144.7,240.1h0M145.2,232.8h0M145.7,256.6h0M146.2,234.9h0M146.7,225.5h0M147.2,240.3h0M147.7,240.5h0M148.2,231.9h0M148.7,237.5h0M149.2,217.4h0M149.6,225.2h0M150.1,245.3h0M150.6,223.8h0M151.1,244.8h0M151.6,228.6h0M152.1,228.5h0M152.6,232.9h0M153.1,224.1h0M153.6,229.1h0M154.1,235.7h0M154.6,231.8h0M155.1,232.9h0M155.6,235.4h0M156.1,227.5h0M156.6,229.3h0M157.1,245h0M157.6,231.1h0M158,230.9h0M158.5,225h0M159,224h0M159.5,223.6h0M160,212.4h0M160.5,206.4h0M161,215.9h0M161.5,223.1h0M162,226.5h0M162.5,212.6h0M163,193.3h0M163.5,228.9h0M164,217.4h0M164.5,215.1h0M165,233.3h0M165.5,223.3h0M165.9,210.4h0M166.4,224.9h0M166.9,213.5h0M167.4,221.7h0M167.9,234.4h0M168.4,203.9h0M168.9,214.5h0M169.4,214.9h0M169.9,220.9h0M170.4,206.8h0M170.9,205.4h0M171.4,209.3h0M171.9,208.8h0M172.4,202.5h0M172.9,231.6h0M173.4,187.9h0M173.9,204h0M174.3,209.9h0M174.8,204.4h0M175.3,201.3h0M175.8,213.1h0M176.3,207.7h0M176.8,185.5h0M177.3,217h0M177.8,227.9h0M178.3,195.8h0M178.8,198.3h0M179.3,205.7h0M179.8,199.6h0M180.3,198.4h0M180.8,193.6h0M181.3,197.4h0M181.8,193.1h0M182.3,205.2h0M182.7,185.2h0M183.2,185.6h0M183.7,217.6h0M184.2,195.3h0M184.7,194.7h0M185.2,193.7h0M185.7,215.2h0M186.2,186.1h0M186.7,177.3h0M187.2,186.5h0M187.7,184.2h0M188.2,209.6h0M188.7,181.9h0M189.2,187.2h0M189.7,185.5h0M190.2,158.7h0M190.7,174.5h0M191.1,183h0M191.6,174.3h0M192.1,181.1h0M192.6,184.2h0M193.1,178.6h0M193.6,176.8h0M194.1,149.5h0M194.6,170h0M195.1,180.3h0M195.6,176.1h0M196.1,172.7h0M196.6,173.2h0M197.1,170.7h0M197.6,159.9h0M198.1,181.1h0M198.6,172.3h0M199,165.8h0M199.5,167.8h0M200,179.4h0M200.5,175.9h0M201,160.5h0M201.5,170.4h0M202,160.6h0M202.5,178.4h0M203,168.6h0M203.5,164.4h0M204,162.4h0M204.5,150.1h0M205,152.7h0M205.5,160.3h0M206,163.5h0M206.5,164.4h0M207,165.6h0M207.4,166.8h0M207.9,164.5h0M208.4,157.5h0M208.9,179.1h0M209.4,162.7h0M209.9,162.4h0M210.4,161.5h0M210.9,152h0M211.4,159.1h0M211.9,157.6h0M212.4,155.1h0M212.9,163.7h0M213.4,159.6h0M213.9,165.7h0M214.4,165.5h0M214.9,161.1h0M215.4,160.4h0M215.8,155h0M216.3,164.6h0M216.8,156.9h0M217.3,155.9h0M217.8,159.9h0M218.3,165.7h0M218.8,151.2h0M219.3,148h0M219.8,150.1h0M220.3,184.7h0M220.8,137.8h0M221.3,155.6h0M221.8,158.3h0M222.3,151.5h0M222.8,152.2h0M223.3,154.4h0M223.7,149.3h0M224.2,153.3h0M224.7,151.3h0M225.2,148.3h0M225.7,151.7h0M226.2,148.4h0M226.7,151.2h0M227.2,147.5h0M227.7,157.9h0M228.2,166.9h0M228.7,148.7h0M229.2,152.7h0M229.7,155.1h0M230.2,154.9h0M230.7,147.1h0M231.2,171.7h0M231.7,147.1h0M232.1,164.2h0M232.6,142h0M233.1,134.7h0M233.6,151.5h0M234.1,149.4h0M234.6,149.4h0M235.1,136h0M235.6,143.3h0M236.1,140.7h0M236.6,173.1h0M237.1,170.5h0M237.6,148.3h0M238.1,144.5h0M238.6,148.7h0M239.1,111.7h0M239.6,118.2h0M240.1,144.9h0M240.5,133.2h0M241,142.7h0M241.5,145h0M242,142.3h0M242.5,160.3h0M243,142.1h0M243.5,145.5h0M244,143.9h0M244.5,138.4h0M245,132.2h0M245.5,140.6h0M246,136.5h0M246.5,141.4h0M247,145.9h0M247.5,143.9h0M248,151.2h0M248.4,142.5h0M248.9,107.8h0M249.4,144.9h0M249.9,125h0M250.4,139.3h0M250.9,149.3h0M251.4,132.9h0M251.9,132.7h0M252.4,140.6h0M252.9,135.8h0M253.4,153.8h0M253.9,133.8h0M254.4,134.6h0M254.9,140.6h0M255.4,141.7h0M255.9,141.2h0M256.4,137h0M256.8,131.1h0M257.3,120.1h0M257.8,133.1h0M258.3,123.6h0M258.8,128.6h0M259.3,128h0M259.8,138.6h0M260.3,137.2h0M260.8,143.5h0M261.3,120.2h0M261.8,133.7h0M262.3,135.1h0M262.8,139h0M263.3,137.4h0M263.8,121.4h0M264.3,140.1h0M264.8,132.1h0M265.2,119.1h0M265.7,128.2h0M266.2,121.3h0M266.7,124.9h0M267.2,152.1h0M267.7,123.4h0M268.2,115.4h0M268.7,126.4h0M269.2,128.1h0M269.7,132.1h0M270.2,124.1h0M270.7,128.2h0M271.2,122.1h0M271.7,124h0M272.2,131.4h0M272.7,107.2h0M273.1,133.4h0M273.6,117.3h0M274.1,126.8h0M274.6,116.9h0M275.1,130.9h0M275.6,143.1h0M276.1,125.6h0M276.6,120.7h0M277.1,123.8h0M277.6,105.5h0M278.1,118.4h0M278.6,118.5h0M279.1,116.6h0M279.6,114.7h0M280.1,102.3h0M280.6,114.8h0M281.1,115.5h0M281.5,119h0M282,119.1h0M282.5,119.5h0M283,123.8h0M283.5,115.3h0M284,114.1h0M284.5,118.7h0M285,113.8h0M285.5,110.7h0M286,112.9h0M286.5,119.1h0M287,130.5h0M287.5,111.2h0M288,114.1h0M288.5,113.4h0M289,104.7h0M289.4,128.9h0M289.9,103.4h0M290.4,113.3h0M290.9,122.3h0M291.4,136.6h0M291.9,102h0M292.4,109.6h0M292.9,112h0M293.4,127.5h0M293.9,121.6h0M294.4,127.2h0M294.9,101.6h0M295.4,101.9h0M295.9,101.2h0M296.4,97.5h0M296.9,113.2h0M297.4,100.7h0M297.8,103.7h0M298.3,130.9h0M298.8,110.6h0M299.3,110.1h0M299.8,106.5h0M300.3,104.1h0M300.8,110.3h0M301.3,100.2h0M301.8,115h0M302.3,103.7h0M302.8,99.2h0M303.3,101.9h0M303.8,111.2h0M304.3,101.3h0M304.8,107.4h0M305.3,92.4h0M305.8,104.5h0M306.2,101.2h0M306.7,107.9h0M307.2,111.5h0M307.7,101.1h0M308.2,97.4h0M308.7,103h0M309.2,95.2h0M309.7,103.8h0M310.2,97.6h0M310.7,104.4h0M311.2,98.9h0M311.7,100.2h0M312.2,100.8h0M312.7,102.2h0M313.2,86h0M313.7,93.2h0M314.1,104h0M314.6,132.5h0M315.1,104.9h0M315.6,115.1h0M316.1,105.1h0M316.6,98h0M317.1,100.9h0M317.6,96.2h0M318.1,110.9h0M318.6,101.8h0M319.1,89.6h0M319.6,101.7h0M320.1,95h0M320.6,97.1h0M321.1,86.4h0M321.6,90.9h0M322.1,84.6h0M322.5,98.1h0M323,93.3h0M323.5,88.9h0M324,97.9h0M324.5,90.7h0M325,99.8h0M325.5,86.6h0M326,93.6h0M326.5,86.8h0M327,93.7h0M327.5,82.3h0M328,104.2h0M328.5,100.2h0M329,116.6h0M329.5,90h0M330,92h0M330.5,91.2h0M330.9,81.2h0M331.4,93.1h0M331.9,88.6h0M332.4,87.8h0M332.9,87.3h0M333.4,87.4h0M333.9,74.2h0M334.4,92.1h0M334.9,92.1h0M335.4,93h0M335.9,91.6h0M336.4,95.9h0M336.9,89.9h0M337.4,96.2h0M337.9,84.2h0M338.4,78.8h0M338.9,79.9h0M339.3,92.8h0M339.8,90.3h0M340.3,83.9h0M340.8,96.1h0M341.3,82.4h0M341.8,94.7h0M342.3,81.5h0M342.8,86h0M343.3,91.3h0M343.8,97.6h0M344.3,87.7h0M344.8,97.7h0M345.3,84.3h0M345.8,92.6h0M346.3,95.5h0M346.8,75.4h0M347.2,96.5h0M347.7,66.2h0M348.2,92.2h0M348.7,93.1h0M349.2,74.3h0M349.7,86.7h0M350.2,82.7h0M350.7,87h0M351.2,85.8h0M351.7,74.8h0M352.2,79.6h0M352.7,84.1h0M353.2,87.1h0M353.7,96.4h0M354.2,87.7h0M354.7,84.1h0M355.2,87h0M355.6,88.5h0M356.1,77.7h0M356.6,77.3h0M357.1,95.4h0M357.6,77h0M358.1,86.5h0M358.6,81.8h0M359.1,98.2h0M359.6,84.1h0M360.1,100.8h0M360.6,80.8h0M361.1,52.3h0M361.6,84.9h0M362.1,94.6h0M362.6,73.6h0M363.1,70.2h0M363.5,83.5h0M364,85.4h0M364.5,79.5h0M365,78.9h0M365.5,76.5h0M366,93.4h0M366.5,98.1h0M367,77.9h0M367.5,77.3h0M368,68.4h0M368.5,77.1h0M369,91h0M369.5,76.8h0M370,82h0M370.5,74.9h0M371,100.3h0M371.5,83.6h0M371.9,80.9h0M372.4,52.8h0M372.9,99.2h0M373.4,83.6h0M373.9,79.7h0M374.4,76.7h0M374.9,84h0M375.4,84.4h0M375.9,72.9h0M376.4,73.7h0M376.9,91.6h0M377.4,71.3h0M377.9,84.7h0M378.4,78.6h0M378.9,69.3h0M379.4,75.5h0M379.9,79h0M380.3,78.6h0M380.8,64h0M381.3,85.4h0M381.8,52.3h0M382.3,74.5h0M382.8,79.1h0M383.3,83h0M383.8,77.8h0M384.3,96.3h0M384.8,79.1h0M385.3,72.3h0M385.8,69.3h0M386.3,85.8h0M386.8,68.5h0M387.3,75.7h0M387.8,89.7h0M388.2,88.7h0M388.7,75.8h0M389.2,94.8h0M389.7,88.1h0M390.2,77.8h0M390.7,71.1h0M391.2,87.1h0M391.7,72.8h0M392.2,78.4h0M392.7,72.1h0M393.2,59.4h0M393.7,80.8h0M394.2,75.1h0M394.7,69.9h0M395.2,77.6h0M395.7,79.1h0M396.2,84.6h0M396.6,72.2h0M397.1,78.3h0M397.6,81.5h0M398.1,65.5h0M398.6,71.2h0M399.1,84.6h0M399.6,75.5h0M400.1,65.4h0M400.6,72.7h0M401.1,78.9h0M401.6,69.4h0M402.1,71.3h0M402.6,61.2h0M403.1,80h0M403.6,65.1h0M404.1,75.4h0M404.6,101.7h0M405,79h0M405.5,80.3h0M406,81.3h0M406.5,70.5h0M407,80h0M407.5,91.6h0M408,70.3h0M408.5,78.3h0M409,71.3h0M409.5,78.4h0M410,70.6h0M410.5,74.8h0M411,81.4h0M411.5,64h0M412,65.7h0M412.5,72.2h0M413,88h0M413.4,72.4h0M413.9,68.3h0M414.4,91.8h0M414.9,71.3h0M415.4,79.4h0M415.9,59.1h0M416.4,69.6h0M416.9,76.9h0M417.4,59.9h0M417.9,79.2h0M418.4,60.4h0M418.9,86.3h0M419.4,72.1h0M419.9,70.8h0M420.4,87.2h0M420.9,82.9h0M421.3,63.5h0M421.8,66.6h0M422.3,69.3h0M422.8,95.9h0M423.3,54.1h0M423.8,72.4h0M424.3,66.5h0M424.8,67.5h0M425.3,63.7h0M425.8,65.5h0M426.3,63.7h0M426.8,75.8h0M427.3,67.9h0M427.8,66.6h0M428.3,92.6h0M428.8,63.6h0M429.3,69.9h0M429.7,85.5h0M430.2,88.2h0M430.7,46.3h0M431.2,73.7h0M431.7,62.6h0M432.2,70h0M432.7,65.3h0M433.2,66.2h0M433.7,73.2h0M434.2,65.6h0M434.7,54.9h0M435.2,68.2h0M435.7,83.5h0M436.2,63.7h0M436.7,70.7h0M437.2,81.4h0M437.6,59.4h0M438.1,50.5h0M438.6,71.4h0M439.1,71.8h0M439.6,64h0M440.1,61.6h0M440.6,67.6h0M441.1,65h0M441.6,64h0M442.1,56.9h0M442.6,71.6h0M443.1,67.3h0M443.6,66.9h0M444.1,69.7h0M444.6,73.8h0M445.1,79.1h0M445.6,63.9h0M446,69.2h0M446.5,63.5h0M447,60.5h0M447.5,73.3h0M448,68.3h0M448.5,31.1h0M449,65.9h0M449.5,39.5h0M450,97.7h0M450.5,65h0M451,52.1h0M451.5,60.4h0M452,55.3h0M452.5,70.8h0M453,61.3h0M453.5,55.2h0M454,83.8h0M454.4,62.3h0M454.9,71.4h0M455.4,71.7h0M455.9,63.3h0M456.4,67.3h0M456.9,68.3h0M457.4,64.7h0M457.9,63.1h0M458.4,65h0M458.9,64.5h0M459.4,57.2h0M459.9,69.2h0M460.4,63.6h0M460.9,58.1h0M461.4,80h0M461.9,65.4h0M462.4,50.3h0M462.8,48.3h0M463.3,91.2h0M463.8,63h0M464.3,60.9h0M464.8,57.6h0M465.3,62.6h0M465.8,62.6h0M466.3,52.5h0M466.8,65.4h0M467.3,55.4h0M467.8,47.3h0M468.3,61.6h0M468.8,67.7h0M469.3,65h0M469.8,56.4h0M470.3,64.6h0M470.7,55.9h0M471.2,82.7h0M471.7,66.9h0M472.2,64.5h0M472.7,77.7h0M473.2,60.9h0M473.7,73.6h0M474.2,58.4h0M474.7,48.3h0M475.2,58.1h0M475.7,63h0M476.2,67.2h0M476.7,41.3h0M477.2,71.5h0M477.7,69.3h0M478.2,63h0M478.7,57.8h0M479.1,69.5h0M479.6,57.7h0M480.1,68.4h0M480.6,61.7h0M481.1,54.7h0M481.6,56.7h0M482.1,54.1h0M482.6,58.6h0M483.1,54.9h0M483.6,67.5h0M484.1,53h0M484.6,67.8h0M485.1,50.7h0M485.6,56.7h0M486.1,57.9h0M486.6,54.7h0M487,58h0M487.5,55.1h0M488,60.7h0M488.5,63h0M489,61.8h0M489.5,49.2h0M490,54.8h0M490.5,50.1h0M491,55.1h0M491.5,63.4h0M492,44.7h0M492.5,57.2h0M493,62.4h0M493.5,59.2h0M494,41.1h0M494.5,62.8h0M495,52.3h0M495.4,66.2h0M495.9,53.6h0M496.4,54.1h0M496.9,67.7h0M497.4,61.1h0M497.9,69h0M498.4,69.4h0M498.9,49.8h0M499.4,58.8h0M499.9,60.1h0M500.4,61h0M500.9,53.4h0M501.4,46.8h0M501.9,74.1h0M502.4,52.6h0M502.9,57.2h0M503.4,39.3h0M503.8,56.5h0M504.3,73.5h0M504.8,63.8h0M505.3,50.4h0M505.8,48.3h0M506.3,47.4h0M506.8,41.9h0M507.3,57.3h0M507.8,54h0M508.3,56.3h0M508.8,59.7h0M509.3,59.5h0M509.8,58.1h0M510.3,77.3h0M510.8,60.5h0M511.3,50.9h0M511.8,51.7h0M512.2,71.2h0M512.7,51.7h0M513.2,52.8h0M513.7,61.4h0M514.2,57.2h0M514.7,60.5h0M515.2,69.2h0M515.7,75.3h0M516.2,75h0M516.7,48.6h0M517.2,53.3h0M517.7,63.1h0M518.2,47.6h0M518.7,50.1h0M519.2,32.3h0M519.7,53.8h0M520.1,68.6h0M520.6,51.8h0M521.1,62h0M521.6,78.2h0M522.1,53.9h0M522.6,38.5h0M523.1,41.9h0M523.6,57.3h0M524.1,53.2h0M524.6,56.2h0M525.1,53.8h0M525.6,52.2h0M526.1,51.4h0M526.6,51.5h0M527.1,58.1h0M527.6,48.8h0M528.1,58.7h0M528.5,63h0M529,51.2h0M529.5,49.4h0M530,74.4h0M530.5,59.7h0M531,37.2h0M531.5,50.5h0M532,72.6h0M532.5,60.1h0M533,54h0M533.5,56.7h0M534,53.6h0M534.5,52.5h0M535,46.4h0M535.5,53.8h0M536,54.5h0M536.5,34.5h0M536.9,50.4h0M537.4,61.1h0M537.9,109.6h0M538.4,59.1h0M538.9,52.2h0M539.4,50.8h0M539.9,42.9h0M540.4,41.3h0M540.9,57.6h0M541.4,56.9h0M541.9,59.2h0M542.4,37.7h0M542.9,65h0M543.4,58.2h0M543.9,55.4h0M544.4,50.6h0M544.8,43.6h0M545.3,40.1h0M545.8,36.8h0M546.3,63.3h0M546.8,37.6h0M547.3,60.2h0M547.8,53.8h0M548.3,49.1h0M548.8,45h0M549.3,49.3h0M549.8,52.1h0M550.3,40.4h0M550.8,51.1h0M551.3,55.6h0M551.8,57.4h0M552.3,51.9h0M552.8,48.7h0M553.2,56.9h0M553.7,55.9h0M554.2,57h0M554.7,58.1h0M555.2,67.4h0M555.7,47.7h0M556.2,49.9h0M556.7,50h0M557.2,45.9h0M557.7,33.5h0M558.2,73.4h0M558.7,40.6h0M559.2,61.3h0M559.7,62.2h0M560.2,59.6h0M560.7,23.6h0M561.1,45.8h0M561.6,53.5h0M562.1,44.8h0M562.6,48.5h0M563.1,50.4h0M563.6,45.5h0M564.1,52h0M564.6,35.5h0M565.1,50.6h0M565.6,76.8h0M566.1,49.9h0M566.6,56.3h0M567.1,46.9h0M567.6,45.5h0M568.1,50.8h0M568.6,56.9h0M569.1,55.6h0M569.5,50.8h0M570,44.9h0M570.5,58.2h0M571,59h0M571.5,58.3h0M572,49.6h0M572.5,45.8h0M573,46.1h0M573.5,41.3h0" fill="none" stroke="#0072bd" stroke-width="2.05" stroke-linecap="round"/>
<path d="M79.5,336.3h0M80,334.8h0M80.5,336.8h0M81,331.6h0M81.5,336.4h0M82,330.8h0M82.5,306.7h0M83,322.2h0M83.5,336.3h0M83.9,296.3h0M84.4,322.7h0M84.9,303.9h0M85.4,320.4h0M85.9,317.4h0M86.4,321.4h0M86.9,304.3h0M87.4,325.5h0M87.9,317.2h0M88.4,314.6h0M88.9,336.8h0M89.4,307.8h0M89.9,309.3h0M90.4,271.2h0M90.9,318.9h0M91.4,298.4h0M91.8,313.9h0M92.3,299.5h0M92.8,277.3h0M93.3,305.1h0M93.8,289.7h0M94.3,273.2h0M94.8,286.9h0M95.3,290.4h0M95.8,302.4h0M96.3,307h0M96.8,271.2h0M97.3,291.5h0M97.8,287.9h0M98.3,291h0M98.8,280.4h0M99.3,279.6h0M99.8,288.5h0M100.2,280.3h0M100.7,278h0M101.2,271.3h0M101.7,286.5h0M102.2,283.8h0M102.7,279.7h0M103.2,275.4h0M103.7,268.6h0M104.2,272.9h0M104.7,271.9h0M105.2,294.4h0M105.7,280.1h0M106.2,287.4h0M106.7,259.9h0M107.2,221.3h0M107.7,276.3h0M108.2,279.8h0M108.6,275.6h0M109.1,266h0M109.6,271.8h0M110.1,268.7h0M110.6,267.5h0M111.1,300.5h0M111.6,256.7h0M112.1,264.7h0M112.6,254h0M113.1,251.9h0M113.6,256.8h0M114.1,241.9h0M114.6,274.1h0M115.1,262.3h0M115.6,262.6h0M116.1,259.3h0M116.5,253.7h0M117,249.3h0M117.5,247.4h0M118,253.5h0M118.5,260.8h0M119,259.4h0M119.5,252.3h0M120,257.8h0M120.5,255.8h0M121,246.7h0M121.5,259.9h0M122,290.8h0M122.5,244.8h0M123,253.6h0M123.5,243h0M124,258h0M124.5,254.3h0M124.9,255.2h0M125.4,248.1h0M125.9,251.2h0M126.4,240.8h0M126.9,260.3h0M127.4,252.1h0M127.9,237.2h0M128.4,249.9h0M128.9,242.3h0M129.4,252.1h0M129.9,249.2h0M130.4,246.7h0M130.9,231.9h0M131.4,242.2h0M131.9,244.1h0M132.4,249.3h0M132.9,248.9h0M133.3,258.4h0M133.8,241.5h0M134.3,242.2h0M134.8,257.8h0M135.3,252.5h0M135.8,213.3h0M136.3,239.5h0M136.8,242.7h0M137.3,249.8h0M137.8,240.1h0M138.3,245.9h0M138.8,243.9h0M139.3,243.3h0M139.8,244.8h0M140.3,223.1h0M140.8,242.9h0M141.2,249h0M141.7,225.9h0M142.2,243.2h0M142.7,241.8h0M143.2,229h0M143.7,234.3h0M144.2,241.9h0M144.7,235.1h0M145.2,204.7h0M145.7,235.7h0M146.2,230.3h0M146.7,239.8h0M147.2,230.1h0M147.7,240.5h0M148.2,232.1h0M148.7,229.4h0M149.2,220h0M149.6,253.8h0M150.1,236h0M150.6,236.9h0M151.1,232.4h0M151.6,237.5h0M152.1,227.9h0M152.6,241.1h0M153.1,223.6h0M153.6,232h0M154.1,236.5h0M154.6,232.8h0M155.1,223.7h0M155.6,245.2h0M156.1,228h0M156.6,223.8h0M157.1,209.5h0M157.6,232.5h0M158,230.4h0M158.5,222.3h0M159,206.5h0M159.5,232.2h0M160,214.2h0M160.5,220.3h0M161,207.6h0M161.5,194.6h0M162,217.2h0M162.5,224.8h0M163,223.2h0M163.5,218.5h0M164,213.1h0M164.5,224.6h0M165,210.4h0M165.5,216.6h0M165.9,221.2h0M166.4,214.5h0M166.9,224.1h0M167.4,217.1h0M167.9,203.8h0M168.4,180.5h0M168.9,218.4h0M169.4,214.7h0M169.9,213.6h0M170.4,200.5h0M170.9,206.2h0M171.4,227.1h0M171.9,212.1h0M172.4,205.1h0M172.9,196.6h0M173.4,206.8h0M173.9,201.7h0M174.3,201.2h0M174.8,202.8h0M175.3,202.4h0M175.8,197.1h0M176.3,199.5h0M176.8,196.4h0M177.3,200.7h0M177.8,203.8h0M178.3,198.1h0M178.8,218h0M179.3,198h0M179.8,192.3h0M180.3,203h0M180.8,206.1h0M181.3,199.5h0M181.8,198.2h0M182.3,195.1h0M182.7,194.9h0M183.2,204.6h0M183.7,193.6h0M184.2,186.3h0M184.7,190.9h0M185.2,190.3h0M185.7,183.6h0M186.2,193.9h0M186.7,177.2h0M187.2,192.8h0M187.7,185.6h0M188.2,190.4h0M188.7,181.4h0M189.2,174.6h0M189.7,185.1h0M190.2,184.1h0M190.7,162.5h0M191.1,161.8h0M191.6,187.3h0M192.1,174.2h0M192.6,183h0M193.1,178.4h0M193.6,174.7h0M194.1,172h0M194.6,176.5h0M195.1,181.9h0M195.6,193.6h0M196.1,186.4h0M196.6,177.8h0M197.1,176.9h0M197.6,174.2h0M198.1,163h0M198.6,173.5h0M199,158.6h0M199.5,168.7h0M200,173.4h0M200.5,159.9h0M201,157.3h0M201.5,175.8h0M202,155.2h0M202.5,170.9h0M203,156h0M203.5,188.1h0M204,164.2h0M204.5,168h0M205,171h0M205.5,169.2h0M206,159.4h0M206.5,155.2h0M207,151.5h0M207.4,162.9h0M207.9,160.8h0M208.4,168.1h0M208.9,163.2h0M209.4,170.2h0M209.9,179.8h0M210.4,135.7h0M210.9,160.9h0M211.4,171.9h0M211.9,153.2h0M212.4,161.7h0M212.9,163.5h0M213.4,178.5h0M213.9,142h0M214.4,170.2h0M214.9,157.6h0M215.4,154h0M215.8,146.6h0M216.3,156.9h0M216.8,154.8h0M217.3,176.1h0M217.8,159.4h0M218.3,155.2h0M218.8,151.1h0M219.3,158.7h0M219.8,151h0M220.3,147.4h0M220.8,150.8h0M221.3,169.3h0M221.8,153.3h0M222.3,158.8h0M222.8,151h0M223.3,155.1h0M223.7,124.5h0M224.2,137h0M224.7,153.6h0M225.2,153.5h0M225.7,149h0M226.2,139.6h0M226.7,148.8h0M227.2,167.3h0M227.7,160.8h0M228.2,145.4h0M228.7,152.5h0M229.2,154.2h0M229.7,171.1h0M230.2,132.4h0M230.7,153.6h0M231.2,151.7h0M231.7,157.1h0M232.1,164.7h0M232.6,139.1h0M233.1,143.1h0M233.6,147.8h0M234.1,153.2h0M234.6,149h0M235.1,180.1h0M235.6,140.3h0M236.1,149.5h0M236.6,151h0M237.1,153.4h0M237.6,150.7h0M238.1,149.2h0M238.6,144.1h0M239.1,151.4h0M239.6,154.1h0M240.1,150h0M240.5,151.3h0M241,143h0M241.5,142.5h0M242,141.8h0M242.5,144.9h0M243,148.4h0M243.5,146.9h0M244,147.8h0M244.5,140.2h0M245,109.4h0M245.5,144.1h0M246,134.1h0M246.5,143.9h0M247,139.9h0M247.5,143.7h0M248,145.8h0M248.4,138.9h0M248.9,131.5h0M249.4,137.2h0M249.9,147.7h0M250.4,138.4h0M250.9,157.2h0M251.4,134.4h0M251.9,144.8h0M252.4,134.1h0M252.9,138.6h0M253.4,131.8h0M253.9,134.8h0M254.4,110.5h0M254.9,136.9h0M255.4,128.5h0M255.9,153.8h0M256.4,132.5h0M256.8,137.2h0M257.3,136.2h0M257.8,132.3h0M258.3,124.5h0M258.8,134.6h0M259.3,132.4h0M259.8,129.2h0M260.3,131.4h0M260.8,136.9h0M261.3,129.6h0M261.8,127.2h0M262.3,119.8h0M262.8,131.3h0M263.3,121.3h0M263.8,139.8h0M264.3,120.1h0M264.8,114.4h0M265.2,133.2h0M265.7,125.9h0M266.2,125.9h0M266.7,133.1h0M267.2,128.4h0M267.7,130.3h0M268.2,137h0M268.7,124.5h0M269.2,128.2h0M269.7,122.2h0M270.2,121.9h0M270.7,133.9h0M271.2,127.6h0M271.7,127h0M272.2,124.8h0M272.7,137.9h0M273.1,122.9h0M273.6,122.5h0M274.1,118.9h0M274.6,115.8h0M275.1,122.6h0M275.6,120h0M276.1,118.6h0M276.6,121.9h0M277.1,116.7h0M277.6,138.6h0M278.1,122.2h0M278.6,121.3h0M279.1,119.1h0M279.6,118.8h0M280.1,118.8h0M280.6,113.6h0M281.1,115.6h0M281.5,102.6h0M282,116.8h0M282.5,115.2h0M283,116.4h0M283.5,111h0M284,116.1h0M284.5,115.9h0M285,114.1h0M285.5,113.9h0M286,113.2h0M286.5,122.7h0M287,119.8h0M287.5,116.2h0M288,100.8h0M288.5,119.3h0M289,109.9h0M289.4,118h0M289.9,111.2h0M290.4,110.8h0M290.9,121.8h0M291.4,116.8h0M291.9,113.8h0M292.4,111.6h0M292.9,110.4h0M293.4,110h0M293.9,112.7h0M294.4,110.7h0M294.9,109.8h0M295.4,109.1h0M295.9,112.9h0M296.4,118.7h0M296.9,89.9h0M297.4,110.3h0M297.8,109.6h0M298.3,108.8h0M298.8,107h0M299.3,102.9h0M299.8,118.5h0M300.3,114.2h0M300.8,103.1h0M301.3,100.6h0M301.8,104.2h0M302.3,104.2h0M302.8,103.1h0M303.3,121.7h0M303.8,125.3h0M304.3,114h0M304.8,102.7h0M305.3,103.8h0M305.8,101.2h0M306.2,98.9h0M306.7,98.9h0M307.2,100.6h0M307.7,93.3h0M308.2,114.3h0M308.7,101.5h0M309.2,99.1h0M309.7,100.5h0M310.2,94.6h0M310.7,96.6h0M311.2,98.5h0M311.7,94.7h0M312.2,98.1h0M312.7,102.9h0M313.2,82.2h0M313.7,99.1h0M314.1,99.9h0M314.6,92.8h0M315.1,111.6h0M315.6,101h0M316.1,95.1h0M316.6,87.1h0M317.1,106.7h0M317.6,105.4h0M318.1,109.8h0M318.6,92.2h0M319.1,100.6h0M319.6,109.2h0M320.1,96.9h0M320.6,94.3h0M321.1,91.5h0M321.6,104.3h0M322.1,93.4h0M322.5,86.6h0M323,79.6h0M323.5,92.4h0M324,95.4h0M324.5,94.8h0M325,60.2h0M325.5,89.6h0M326,89.1h0M326.5,100.6h0M327,90.8h0M327.5,93.7h0M328,94.5h0M328.5,92.1h0M329,80.4h0M329.5,88.9h0M330,97.5h0M330.5,111.4h0M330.9,87.9h0M331.4,97.4h0M331.9,86.2h0M332.4,97.4h0M332.9,85.8h0M333.4,108.9h0M333.9,89.2h0M334.4,79.5h0M334.9,104.6h0M335.4,82.6h0M335.9,90.6h0M336.4,92.7h0M336.9,88h0M337.4,75.2h0M337.9,92.3h0M338.4,90.4h0M338.9,95.7h0M339.3,90.1h0M339.8,87.9h0M340.3,92h0M340.8,93.9h0M341.3,84.1h0M341.8,91.4h0M342.3,95.9h0M342.8,95.8h0M343.3,87.4h0M343.8,91.2h0M344.3,99.6h0M344.8,91.9h0M345.3,111.7h0M345.8,90.2h0M346.3,94.3h0M346.8,88.1h0M347.2,78.9h0M347.7,84.7h0M348.2,105.6h0M348.7,83h0M349.2,86.9h0M349.7,94.2h0M350.2,79.9h0M350.7,84.2h0M351.2,107.7h0M351.7,85.6h0M352.2,85h0M352.7,82.1h0M353.2,86.6h0M353.7,86h0M354.2,74.1h0M354.7,76h0M355.2,88.7h0M355.6,81.3h0M356.1,68.6h0M356.6,84.4h0M357.1,76.3h0M357.6,91.5h0M358.1,99h0M358.6,71.2h0M359.1,86h0M359.6,91h0M360.1,72.7h0M360.6,86.4h0M361.1,76.9h0M361.6,78.8h0M362.1,76.3h0M362.6,69.8h0M363.1,79.2h0M363.5,91.1h0M364,111.9h0M364.5,85.5h0M365,83.6h0M365.5,86.1h0M366,81.6h0M366.5,78.6h0M367,92.8h0M367.5,86.5h0M368,88.5h0M368.5,77.6h0M369,95.7h0M369.5,70.3h0M370,86.5h0M370.5,77.8h0M371,74.2h0M371.5,85.2h0M371.9,89.9h0M372.4,82.6h0M372.9,86.1h0M373.4,82.1h0M373.9,74.8h0M374.4,82.2h0M374.9,76.5h0M375.4,82.8h0M375.9,70.8h0M376.4,82.9h0M376.9,74.8h0M377.4,74.9h0M377.9,59.7h0M378.4,74.8h0M378.9,79.6h0M379.4,107.2h0M379.9,87.5h0M380.3,81.1h0M380.8,85.1h0M381.3,83.6h0M381.8,81h0M382.3,81h0M382.8,68.7h0M383.3,102.9h0M383.8,81.5h0M384.3,82.1h0M384.8,79h0M385.3,81.8h0M385.8,68.1h0M386.3,77.6h0M386.8,73.1h0M387.3,73.1h0M387.8,76h0M388.2,91h0M388.7,80.4h0M389.2,71.5h0M389.7,72.8h0M390.2,77.8h0M390.7,78.6h0M391.2,58.5h0M391.7,77.2h0M392.2,98.9h0M392.7,76.6h0M393.2,92.1h0M393.7,66.6h0M394.2,81.3h0M394.7,93.6h0M395.2,77.9h0M395.7,72.7h0M396.2,66h0M396.6,95.3h0M397.1,73.6h0M397.6,77.1h0M398.1,79.7h0M398.6,46.7h0M399.1,78.3h0M399.6,75.2h0M400.1,96.5h0M400.6,68.4h0M401.1,79.7h0M401.6,75.3h0M402.1,75h0M402.6,63.4h0M403.1,68.9h0M403.6,75.9h0M404.1,82.1h0M404.6,34.1h0M405,81.5h0M405.5,76.3h0M406,60.5h0M406.5,86.6h0M407,74.2h0M407.5,62.1h0M408,71.3h0M408.5,67.7h0M409,77.3h0M409.5,71.8h0M410,66.7h0M410.5,78.7h0M411,60.7h0M411.5,73.2h0M412,61.4h0M412.5,72h0M413,74.5h0M413.4,74.3h0M413.9,54.5h0M414.4,81.4h0M414.9,67.9h0M415.4,62.4h0M415.9,60.1h0M416.4,69.2h0M416.9,74.1h0M417.4,80.8h0M417.9,72.3h0M418.4,73.8h0M418.9,68.1h0M419.4,54.7h0M419.9,68.9h0M420.4,69.4h0M420.9,69.5h0M421.3,74.9h0M421.8,71.3h0M422.3,72.2h0M422.8,57.4h0M423.3,70.1h0M423.8,64.3h0M424.3,73.9h0M424.8,79.6h0M425.3,76.7h0M425.8,77.6h0M426.3,68.8h0M426.8,64.1h0M427.3,76.5h0M427.8,72.8h0M428.3,67.1h0M428.8,74.5h0M429.3,37.6h0M429.7,72.3h0M430.2,57.8h0M430.7,67.7h0M431.2,65.9h0M431.7,74.3h0M432.2,72.6h0M432.7,59.3h0M433.2,73.4h0M433.7,71.9h0M434.2,70.5h0M434.7,67.8h0M435.2,77.7h0M435.7,63.4h0M436.2,63.8h0M436.7,66.1h0M437.2,59.1h0M437.6,71.9h0M438.1,69h0M438.6,63.1h0M439.1,64.4h0M439.6,73.8h0M440.1,66.2h0M440.6,60.4h0M441.1,58.5h0M441.6,76h0M442.1,56.9h0M442.6,66.3h0M443.1,55.8h0M443.6,58.3h0M444.1,49h0M444.6,69.9h0M445.1,55.4h0M445.6,61.1h0M446,69.3h0M446.5,66.9h0M447,64h0M447.5,61.5h0M448,83.6h0M448.5,74.7h0M449,65.4h0M449.5,54.6h0M450,39.2h0M450.5,64.9h0M451,74.6h0M451.5,74.7h0M452,73.6h0M452.5,45.2h0M453,40.3h0M453.5,65.8h0M454,71.2h0M454.4,76.6h0M454.9,73.3h0M455.4,61.5h0M455.9,67.9h0M456.4,65.3h0M456.9,67.8h0M457.4,59.5h0M457.9,56.1h0M458.4,73h0M458.9,49.5h0M459.4,70.4h0M459.9,59.8h0M460.4,59h0M460.9,67.1h0M461.4,47h0M461.9,68.9h0M462.4,59.5h0M462.8,67.4h0M463.3,70.7h0M463.8,73.7h0M464.3,59.2h0M464.8,60.9h0M465.3,65.2h0M465.8,87.1h0M466.3,62.1h0M466.8,56.2h0M467.3,72.7h0M467.8,66.6h0M468.3,44.2h0M468.8,68.7h0M469.3,68.8h0M469.8,64.7h0M470.3,67.1h0M470.7,64.8h0M471.2,62.9h0M471.7,87.9h0M472.2,62.1h0M472.7,34.9h0M473.2,24h0M473.7,60.6h0M474.2,63.4h0M474.7,55.1h0M475.2,53.1h0M475.7,61.1h0M476.2,61.3h0M476.7,57.9h0M477.2,89.7h0M477.7,53.8h0M478.2,65.2h0M478.7,60.3h0M479.1,59.1h0M479.6,59.3h0M480.1,59.3h0M480.6,68.5h0M481.1,60.8h0M481.6,63h0M482.1,30.5h0M482.6,59.2h0M483.1,48.9h0M483.6,54.6h0M484.1,68h0M484.6,53h0M485.1,73.9h0M485.6,55.5h0M486.1,47.6h0M486.6,53.5h0M487,72.8h0M487.5,54.3h0M488,60.2h0M488.5,46.2h0M489,69.5h0M489.5,54.8h0M490,32.9h0M490.5,59.6h0M491,56.8h0M491.5,70.9h0M492,53.2h0M492.5,59.6h0M493,59.6h0M493.5,45.4h0M494,42.8h0M494.5,77.3h0M495,74.8h0M495.4,59.6h0M495.9,68.1h0M496.4,56.1h0M496.9,50.1h0M497.4,54.9h0M497.9,82.8h0M498.4,48.4h0M498.9,98.5h0M499.4,55.7h0M499.9,49.6h0M500.4,78.1h0M500.9,58.7h0M501.4,49.1h0M501.9,67.2h0M502.4,54.2h0M502.9,63h0M503.4,54.3h0M503.8,45.9h0M504.3,55.8h0M504.8,62.9h0M505.3,62.2h0M505.8,56.7h0M506.3,54.1h0M506.8,50.4h0M507.3,76.1h0M507.8,59h0M508.3,36.6h0M508.8,63.5h0M509.3,67.8h0M509.8,52.1h0M510.3,56h0M510.8,51.8h0M511.3,43.7h0M511.8,65.4h0M512.2,56h0M512.7,50.2h0M513.2,52.6h0M513.7,51.1h0M514.2,56.1h0M514.7,60.2h0M515.2,45h0M515.7,53.7h0M516.2,58.6h0M516.7,63h0M517.2,65.4h0M517.7,58.4h0M518.2,51.5h0M518.7,96.9h0M519.2,61.2h0M519.7,69.6h0M520.1,62.3h0M520.6,44.7h0M521.1,56.8h0M521.6,63.1h0M522.1,52.5h0M522.6,49.6h0M523.1,66.3h0M523.6,58.4h0M524.1,60h0M524.6,54.3h0M525.1,45.7h0M525.6,55h0M526.1,52.7h0M526.6,49.7h0M527.1,45.7h0M527.6,53.2h0M528.1,68.5h0M528.5,60h0M529,56h0M529.5,51.2h0M530,53.5h0M530.5,54.7h0M531,56.6h0M531.5,49.7h0M532,30.2h0M532.5,43.5h0M533,46.2h0M533.5,55h0M534,54.3h0M534.5,55.8h0M535,42.9h0M535.5,58.9h0M536,48.4h0M536.5,56h0M536.9,19h0M537.4,48.3h0M537.9,67.8h0M538.4,63.7h0M538.9,52.5h0M539.4,62.9h0M539.9,59.8h0M540.4,55.5h0M540.9,54.9h0M541.4,54.3h0M541.9,53.1h0M542.4,55.5h0M542.9,59.5h0M543.4,60.5h0M543.9,46.9h0M544.4,80.3h0M544.8,56.4h0M545.3,54.4h0M545.8,65.4h0M546.3,49.9h0M546.8,57.2h0M547.3,53h0M547.8,63.8h0M548.3,56.1h0M548.8,72.7h0M549.3,58.6h0M549.8,60.3h0M550.3,50.9h0M550.8,52.7h0M551.3,53.8h0M551.8,62.9h0M552.3,49.6h0M552.8,55.4h0M553.2,51.6h0M553.7,54.6h0M554.2,49.1h0M554.7,45h0M555.2,60.3h0M555.7,26.9h0M556.2,53.9h0M556.7,33.4h0M557.2,53.5h0M557.7,58.8h0M558.2,47.1h0M558.7,45.6h0M559.2,50.9h0M559.7,56.3h0M560.2,49.2h0M560.7,62.6h0M561.1,83.9h0M561.6,28.6h0M562.1,49.5h0M562.6,54.5h0M563.1,53.4h0M563.6,44.5h0M564.1,43.8h0M564.6,50.8h0M565.1,56.6h0M565.6,51.9h0M566.1,48.7h0M566.6,43.4h0M567.1,51h0M567.6,51.4h0M568.1,64.6h0M568.6,50.8h0M569.1,48.7h0M569.5,58.9h0M570,63.4h0M570.5,52.8h0M571,51h0M571.5,56.9h0M572,51.4h0M572.5,30.5h0M573,51h0M573.5,51.8h0" fill="none" stroke="#0072bd" stroke-width="2.05" stroke-linecap="round"/>
<path d="M79.5,337h0M80,336.9h0M80.5,332.2h0M81,331.2h0M81.5,328.8h0M82,326.1h0M82.5,331.1h0M83,333.8h0M83.5,324h0M83.9,329.4h0M84.4,304.1h0M84.9,335.9h0M85.4,324.6h0M85.9,322.9h0M86.4,314.1h0M86.9,318.1h0M87.4,326h0M87.9,291.9h0M88.4,319.3h0M88.9,312.8h0M89.4,303h0M89.9,301.3h0M90.4,304.8h0M90.9,308h0M91.4,309.6h0M91.8,335.9h0M92.3,302.6h0M92.8,286.2h0M93.3,290.2h0M93.8,295.6h0M94.3,275.6h0M94.8,302.4h0M95.3,324.9h0M95.8,286.9h0M96.3,300.4h0M96.8,300.6h0M97.3,293.2h0M97.8,308.1h0M98.3,295.5h0M98.8,286.7h0M99.3,279.3h0M99.8,307.5h0M100.2,298.6h0M100.7,301.5h0M101.2,277.5h0M101.7,289.1h0M102.2,294.7h0M102.7,287.7h0M103.2,272h0M103.7,275.8h0M104.2,268.2h0M104.7,280.2h0M105.2,280.5h0M105.7,281.7h0M106.2,272.3h0M106.7,268.2h0M107.2,259.2h0M107.7,258.5h0M108.2,268.1h0M108.6,269.4h0M109.1,271.3h0M109.6,284.6h0M110.1,261.2h0M110.6,292.8h0M111.1,282.5h0M111.6,269.3h0M112.1,268.3h0M112.6,242.6h0M113.1,266.8h0M113.6,270.5h0M114.1,250.3h0M114.6,279h0M115.1,237.2h0M115.6,254.2h0M116.1,262.5h0M116.5,263.5h0M117,255.8h0M117.5,259.1h0M118,253.6h0M118.5,255.5h0M119,265h0M119.5,252.6h0M120,265.9h0M120.5,255.4h0M121,272.5h0M121.5,258.7h0M122,239.5h0M122.5,252.3h0M123,251.7h0M123.5,237.3h0M124,243.3h0M124.5,257.1h0M124.9,257.3h0M125.4,255.2h0M125.9,254.3h0M126.4,242.7h0M126.9,254.6h0M127.4,257.1h0M127.9,252.4h0M128.4,247.6h0M128.9,238.2h0M129.4,259.8h0M129.9,247.9h0M130.4,236.5h0M130.9,248.9h0M131.4,249.5h0M131.9,238.8h0M132.4,241.6h0M132.9,248.3h0M133.3,255.1h0M133.8,252.6h0M134.3,241.3h0M134.8,248.7h0M135.3,252.1h0M135.8,238.2h0M136.3,244.8h0M136.8,240.1h0M137.3,239.7h0M137.8,252.3h0M138.3,247.3h0M138.8,236.2h0M139.3,248.6h0M139.8,247.5h0M140.3,262.1h0M140.8,245.5h0M141.2,229h0M141.7,235.7h0M142.2,248h0M142.7,239.6h0M143.2,271.9h0M143.7,225.9h0M144.2,242.8h0M144.7,239.9h0M145.2,220.2h0M145.7,229.7h0M146.2,249.3h0M146.7,260.3h0M147.2,235.7h0M147.7,243.1h0M148.2,226h0M148.7,238.2h0M149.2,230.9h0M149.6,238.5h0M150.1,266.6h0M150.6,223.9h0M151.1,235.6h0M151.6,250h0M152.1,222.1h0M152.6,228.4h0M153.1,209.2h0M153.6,231.9h0M154.1,239.6h0M154.6,242.1h0M155.1,234.6h0M155.6,230.4h0M156.1,228.5h0M156.6,226.5h0M157.1,208.6h0M157.6,230h0M158,223.7h0M158.5,235h0M159,233.2h0M159.5,226h0M160,231.2h0M160.5,222.5h0M161,254.5h0M161.5,225.2h0M162,226.2h0M162.5,230.5h0M163,218h0M163.5,219.7h0M164,227.2h0M164.5,214.3h0M165,211.9h0M165.5,210.5h0M165.9,222.8h0M166.4,220.3h0M166.9,208h0M167.4,204.4h0M167.9,206.1h0M168.4,224.3h0M168.9,203.7h0M169.4,214.5h0M169.9,197.8h0M170.4,213.5h0M170.9,207h0M171.4,206.5h0M171.9,202.6h0M172.4,203.5h0M172.9,208.3h0M173.4,212.6h0M173.9,198.2h0M174.3,204.9h0M174.8,199.7h0M175.3,202.2h0M175.8,202.4h0M176.3,205.2h0M176.8,202.5h0M177.3,204.5h0M177.8,184.6h0M178.3,201.5h0M178.8,201.7h0M179.3,188.1h0M179.8,191.9h0M180.3,203.5h0M180.8,198h0M181.3,186.1h0M181.8,202.7h0M182.3,187.8h0M182.7,204.2h0M183.2,193.6h0M183.7,194.5h0M184.2,183.8h0M184.7,197.4h0M185.2,187.8h0M185.7,212.4h0M186.2,187.5h0M186.7,198.7h0M187.2,192.9h0M187.7,190.4h0M188.2,177h0M188.7,186.8h0M189.2,184h0M189.7,178.7h0M190.2,205h0M190.7,178.4h0M191.1,176.4h0M191.6,184.4h0M192.1,195.6h0M192.6,210.8h0M193.1,185.5h0M193.6,174.8h0M194.1,183h0M194.6,178.2h0M195.1,175.2h0M195.6,174.8h0M196.1,167.4h0M196.6,178.2h0M197.1,175.5h0M197.6,177.4h0M198.1,179.6h0M198.6,168.7h0M199,200.8h0M199.5,173.6h0M200,178.7h0M200.5,172h0M201,170h0M201.5,188.2h0M202,175.3h0M202.5,158.6h0M203,174.1h0M203.5,177.9h0M204,165.6h0M204.5,169.1h0M205,166.8h0M205.5,165.5h0M206,149.1h0M206.5,162.7h0M207,161.3h0M207.4,171.7h0M207.9,157.9h0M208.4,165.6h0M208.9,166.2h0M209.4,159.3h0M209.9,162.3h0M210.4,164.6h0M210.9,161.2h0M211.4,158.3h0M211.9,164.1h0M212.4,166h0M212.9,156.2h0M213.4,168.1h0M213.9,155.1h0M214.4,160.2h0M214.9,158.7h0M215.4,147.8h0M215.8,178.4h0M216.3,157.9h0M216.8,158.1h0M217.3,167.9h0M217.8,155.3h0M218.3,157.9h0M218.8,161.5h0M219.3,155.6h0M219.8,152.9h0M220.3,152.4h0M220.8,175.5h0M221.3,158.4h0M221.8,165.6h0M222.3,150.8h0M222.8,151.7h0M223.3,152.6h0M223.7,155h0M224.2,168.2h0M224.7,154h0M225.2,151.2h0M225.7,149.8h0M226.2,152.6h0M226.7,144.4h0M227.2,156h0M227.7,151.5h0M228.2,163.8h0M228.7,148.5h0M229.2,147.2h0M229.7,153.2h0M230.2,147.5h0M230.7,157.5h0M231.2,150.4h0M231.7,139.4h0M232.1,149.6h0M232.6,147.9h0M233.1,146.9h0M233.6,147.4h0M234.1,168.2h0M234.6,144.4h0M235.1,149.5h0M235.6,150h0M236.1,161.2h0M236.6,146.8h0M237.1,140.2h0M237.6,152.9h0M238.1,131h0M238.6,142.7h0M239.1,146.5h0M239.6,136h0M240.1,132.7h0M240.5,150.8h0M241,145.1h0M241.5,163.4h0M242,159.3h0M242.5,140.7h0M243,141.4h0M243.5,141.6h0M244,141.5h0M244.5,137.7h0M245,126.6h0M245.5,143.6h0M246,150h0M246.5,155.9h0M247,159.1h0M247.5,145.6h0M248,148.2h0M248.4,145.9h0M248.9,132.8h0M249.4,144h0M249.9,170.9h0M250.4,139.6h0M250.9,141.3h0M251.4,134.1h0M251.9,139.8h0M252.4,112.9h0M252.9,142.2h0M253.4,132.6h0M253.9,134.9h0M254.4,119.1h0M254.9,131.6h0M255.4,150h0M255.9,144.2h0M256.4,133.2h0M256.8,136.4h0M257.3,137.9h0M257.8,133h0M258.3,141h0M258.8,138.2h0M259.3,127.7h0M259.8,137.6h0M260.3,135.6h0M260.8,158.6h0M261.3,142.9h0M261.8,127.6h0M262.3,148.6h0M262.8,132h0M263.3,133.9h0M263.8,136.6h0M264.3,130.9h0M264.8,130.6h0M265.2,135.6h0M265.7,128.2h0M266.2,115.6h0M266.7,130.9h0M267.2,126.7h0M267.7,129.1h0M268.2,133.8h0M268.7,110.2h0M269.2,128.8h0M269.7,124.4h0M270.2,124.7h0M270.7,129h0M271.2,128h0M271.7,118.3h0M272.2,135.2h0M272.7,131.4h0M273.1,112.6h0M273.6,111.2h0M274.1,118.3h0M274.6,122h0M275.1,118.5h0M275.6,101.7h0M276.1,117.8h0M276.6,116.5h0M277.1,110.6h0M277.6,123.9h0M278.1,114.5h0M278.6,118.7h0M279.1,116.4h0M279.6,121.2h0M280.1,122.9h0M280.6,119h0M281.1,119.9h0M281.5,104.2h0M282,108.9h0M282.5,122.6h0M283,149.1h0M283.5,112.9h0M284,119.2h0M284.5,121.7h0M285,109.9h0M285.5,122.3h0M286,131.3h0M286.5,115.7h0M287,109.2h0M287.5,114.2h0M288,129h0M288.5,108.9h0M289,111.8h0M289.4,138.8h0M289.9,107.9h0M290.4,124.7h0M290.9,106.5h0M291.4,111.9h0M291.9,104.9h0M292.4,115.6h0M292.9,130h0M293.4,103.9h0M293.9,109.9h0M294.4,108h0M294.9,113.2h0M295.4,113.4h0M295.9,109.8h0M296.4,118.1h0M296.9,112.5h0M297.4,111.4h0M297.8,105.2h0M298.3,78.5h0M298.8,93.5h0M299.3,105.8h0M299.8,103.6h0M300.3,109.2h0M300.8,111.6h0M301.3,113.2h0M301.8,100.3h0M302.3,105.7h0M302.8,104.2h0M303.3,106.3h0M303.8,94.2h0M304.3,108.9h0M304.8,87.6h0M305.3,107.3h0M305.8,110.1h0M306.2,99.8h0M306.7,120.1h0M307.2,107.5h0M307.7,102.2h0M308.2,98.6h0M308.7,94.4h0M309.2,104.2h0M309.7,102.1h0M310.2,113.3h0M310.7,97.2h0M311.2,95.4h0M311.7,105.9h0M312.2,87.6h0M312.7,92.9h0M313.2,106.4h0M313.7,110.4h0M314.1,97.5h0M314.6,107.7h0M315.1,102.8h0M315.6,121.5h0M316.1,95.2h0M316.6,108.8h0M317.1,103.9h0M317.6,97.1h0M318.1,122.7h0M318.6,92.4h0M319.1,118.5h0M319.6,112.2h0M320.1,99.8h0M320.6,97.9h0M321.1,93.9h0M321.6,87.9h0M322.1,93h0M322.5,90.6h0M323,82.3h0M323.5,75.8h0M324,89.1h0M324.5,97.4h0M325,93.8h0M325.5,98.7h0M326,93.3h0M326.5,87.7h0M327,92.8h0M327.5,92h0M328,86.3h0M328.5,85h0M329,88.9h0M329.5,89h0M330,95.1h0M330.5,98.4h0M330.9,85.9h0M331.4,97.1h0M331.9,91.6h0M332.4,92h0M332.9,94h0M333.4,99h0M333.9,89.9h0M334.4,101.7h0M334.9,89.5h0M335.4,86h0M335.9,97.9h0M336.4,90.5h0M336.9,88.8h0M337.4,93.7h0M337.9,94.1h0M338.4,88.8h0M338.9,65.2h0M339.3,106.5h0M339.8,88.1h0M340.3,81.2h0M340.8,91.1h0M341.3,96.6h0M341.8,85.2h0M342.3,69.9h0M342.8,71.6h0M343.3,85.3h0M343.8,84.5h0M344.3,77.5h0M344.8,72.2h0M345.3,91.7h0M345.8,87.6h0M346.3,93.2h0M346.8,91.1h0M347.2,84.6h0M347.7,85.7h0M348.2,65.2h0M348.7,87.5h0M349.2,81.6h0M349.7,88.7h0M350.2,99.3h0M350.7,87.4h0M351.2,94.6h0M351.7,96.7h0M352.2,85.7h0M352.7,91.1h0M353.2,81.1h0M353.7,91.3h0M354.2,93.4h0M354.7,92.6h0M355.2,70.5h0M355.6,77.8h0M356.1,83.9h0M356.6,97.8h0M357.1,94.7h0M357.6,74.1h0M358.1,75.5h0M358.6,83.7h0M359.1,81.7h0M359.6,114h0M360.1,84.4h0M360.6,78.2h0M361.1,87.6h0M361.6,82.5h0M362.1,95.1h0M362.6,84h0M363.1,130.9h0M363.5,64.2h0M364,88.4h0M364.5,82.1h0M365,84.5h0M365.5,91h0M366,83.4h0M366.5,82.4h0M367,87h0M367.5,109.4h0M368,90.8h0M368.5,62.7h0M369,72.5h0M369.5,75.5h0M370,77.4h0M370.5,77.1h0M371,94h0M371.5,89.5h0M371.9,84.3h0M372.4,78.7h0M372.9,73.7h0M373.4,84.3h0M373.9,77.8h0M374.4,81.7h0M374.9,91.9h0M375.4,89.8h0M375.9,78.6h0M376.4,82.7h0M376.9,76.6h0M377.4,78.8h0M377.9,83.8h0M378.4,84.3h0M378.9,75.7h0M379.4,79.8h0M379.9,81.7h0M380.3,74.7h0M380.8,85.6h0M381.3,81.5h0M381.8,68.2h0M382.3,82.6h0M382.8,75.5h0M383.3,71.8h0M383.8,89.8h0M384.3,73.7h0M384.8,72.1h0M385.3,76.2h0M385.8,72.7h0M386.3,84.2h0M386.8,79.6h0M387.3,81.9h0M387.8,82.3h0M388.2,71.5h0M388.7,76.3h0M389.2,73.8h0M389.7,87.3h0M390.2,69.5h0M390.7,73.8h0M391.2,80.4h0M391.7,68.4h0M392.2,71.2h0M392.7,80.7h0M393.2,75.6h0M393.7,75.9h0M394.2,51.5h0M394.7,92.9h0M395.2,80.9h0M395.7,78.9h0M396.2,83.2h0M396.6,64.9h0M397.1,73h0M397.6,80.8h0M398.1,72.1h0M398.6,79.9h0M399.1,59.4h0M399.6,76.9h0M400.1,71.5h0M400.6,80h0M401.1,67.8h0M401.6,68.4h0M402.1,82.3h0M402.6,71.5h0M403.1,72.7h0M403.6,85.2h0M404.1,80.1h0M404.6,59.6h0M405,69.2h0M405.5,94.2h0M406,73h0M406.5,74.3h0M407,60.5h0M407.5,71.6h0M408,60.3h0M408.5,79.4h0M409,76.5h0M409.5,75.9h0M410,61.2h0M410.5,71.3h0M411,63h0M411.5,75.7h0M412,67.3h0M412.5,72.1h0M413,78.5h0M413.4,74.4h0M413.9,68.9h0M414.4,45.6h0M414.9,61.6h0M415.4,64h0M415.9,76.2h0M416.4,63.4h0M416.9,91.1h0M417.4,73.9h0M417.9,85.3h0M418.4,73.5h0M418.9,72.3h0M419.4,73.8h0M419.9,70.1h0M420.4,59.1h0M420.9,68.3h0M421.3,76h0M421.8,73.6h0M422.3,67.7h0M422.8,67.4h0M423.3,71.9h0M423.8,70.7h0M424.3,68.8h0M424.8,70.3h0M425.3,55.9h0M425.8,72.3h0M426.3,68.9h0M426.8,68.4h0M427.3,79.6h0M427.8,73.2h0M428.3,57.4h0M428.8,67.2h0M429.3,66.4h0M429.7,69.4h0M430.2,69.1h0M430.7,60.3h0M431.2,44.3h0M431.7,61.4h0M432.2,79.1h0M432.7,65h0M433.2,69.5h0M433.7,69.4h0M434.2,71.3h0M434.7,58.9h0M435.2,58.6h0M435.7,66.2h0M436.2,60.4h0M436.7,63.2h0M437.2,58.2h0M437.6,70.7h0M438.1,45.6h0M438.6,67.2h0M439.1,63.4h0M439.6,71.6h0M440.1,75.6h0M440.6,63.9h0M441.1,62.9h0M441.6,58.6h0M442.1,68.4h0M442.6,73.1h0M443.1,67h0M443.6,58.7h0M444.1,70.9h0M444.6,61.2h0M445.1,67.2h0M445.6,59.9h0M446,89.5h0M446.5,61.5h0M447,67.3h0M447.5,62.2h0M448,45.3h0M448.5,75.5h0M449,75.1h0M449.5,75.3h0M450,63.9h0M450.5,78.7h0M451,58.9h0M451.5,36.6h0M452,73.2h0M452.5,68.8h0M453,126.4h0M453.5,71.1h0M454,64.6h0M454.4,50.1h0M454.9,60.8h0M455.4,66.6h0M455.9,62.8h0M456.4,61.7h0M456.9,59.1h0M457.4,53.4h0M457.9,76.2h0M458.4,66.1h0M458.9,63.4h0M459.4,66.9h0M459.9,65.2h0M460.4,104.3h0M460.9,63.3h0M461.4,68h0M461.9,70.3h0M462.4,62h0M462.8,63.3h0M463.3,75.7h0M463.8,59.3h0M464.3,59.6h0M464.8,63.5h0M465.3,62.8h0M465.8,77.1h0M466.3,58.1h0M466.8,62.8h0M467.3,72.8h0M467.8,50.2h0M468.3,61.7h0M468.8,69.2h0M469.3,61.6h0M469.8,64.7h0M470.3,69.1h0M470.7,55.8h0M471.2,42.4h0M471.7,53.1h0M472.2,59.7h0M472.7,67.2h0M473.2,75.4h0M473.7,64.4h0M474.2,68.1h0M474.7,40.2h0M475.2,58.8h0M475.7,60.8h0M476.2,60.8h0M476.7,59.5h0M477.2,63.1h0M477.7,91.2h0M478.2,63h0M478.7,63.3h0M479.1,77.9h0M479.6,65.5h0M480.1,58.4h0M480.6,68.8h0M481.1,64.9h0M481.6,59h0M482.1,69h0M482.6,58.5h0M483.1,58.9h0M483.6,61.5h0M484.1,70.6h0M484.6,73.2h0M485.1,53.4h0M485.6,57.3h0M486.1,47.9h0M486.6,62.4h0M487,61.9h0M487.5,61.3h0M488,54h0M488.5,55.3h0M489,44.6h0M489.5,58.5h0M490,74.9h0M490.5,32.7h0M491,38.3h0M491.5,67.6h0M492,58.2h0M492.5,57.7h0M493,52.1h0M493.5,52.7h0M494,56.7h0M494.5,58.1h0M495,46.1h0M495.4,45.9h0M495.9,60.1h0M496.4,68.3h0M496.9,53.2h0M497.4,61.8h0M497.9,48.1h0M498.4,57.5h0M498.9,54.8h0M499.4,56.2h0M499.9,61.1h0M500.4,59.9h0M500.9,41.1h0M501.4,54.8h0M501.9,55.4h0M502.4,63.6h0M502.9,53.8h0M503.4,55.9h0M503.8,74h0M504.3,52.8h0M504.8,52.4h0M505.3,48h0M505.8,68.9h0M506.3,51.8h0M506.8,51.2h0M507.3,58.1h0M507.8,75.7h0M508.3,59.9h0M508.8,52.7h0M509.3,63.1h0M509.8,72.3h0M510.3,31.9h0M510.8,52.1h0M511.3,45.8h0M511.8,53.5h0M512.2,59.7h0M512.7,47.8h0M513.2,61.5h0M513.7,56.9h0M514.2,64.6h0M514.7,74.9h0M515.2,58.8h0M515.7,52.2h0M516.2,41.9h0M516.7,51.7h0M517.2,54.6h0M517.7,64.2h0M518.2,62.4h0M518.7,54.7h0M519.2,48.5h0M519.7,52.8h0M520.1,58.7h0M520.6,44.8h0M521.1,66.3h0M522.1,51.9h0M522.6,60.4h0M523.1,52.7h0M523.6,54.3h0M524.1,46.7h0M524.6,53.6h0M525.1,51.5h0M525.6,59.6h0M526.1,67.6h0M526.6,50.9h0M527.1,52.3h0M527.6,55.2h0M528.1,49.1h0M528.5,53.1h0M529,47h0M529.5,46h0M530,49.8h0M530.5,60.2h0M531,50.4h0M531.5,40.1h0M532,70.4h0M532.5,35.7h0M533,49.3h0M533.5,58.4h0M534,54.8h0M534.5,54.7h0M535,73h0M535.5,50.1h0M536,58.9h0M536.5,61.4h0M536.9,49.8h0M537.4,63.9h0M537.9,64h0M538.4,55.8h0M538.9,57.4h0M539.4,49.5h0M539.9,71.7h0M540.4,48.6h0M540.9,49.6h0M541.4,43.8h0M541.9,58h0M542.4,57.1h0M542.9,78.6h0M543.4,51.7h0M543.9,25.9h0M544.4,55h0M544.8,50.5h0M545.3,51.7h0M545.8,50.9h0M546.3,48.6h0M546.8,48h0M547.3,59h0M547.8,54.2h0M548.3,52h0M548.8,53.8h0M549.3,55.6h0M549.8,48.4h0M550.3,58.1h0M550.8,57.8h0M551.3,50h0M551.8,50h0M552.3,44.9h0M552.8,42.6h0M553.2,52.2h0M553.7,46.4h0M554.2,54.2h0M554.7,51.3h0M555.2,68.1h0M555.7,44.3h0M556.2,50.7h0M556.7,91.6h0M557.2,40.6h0M557.7,51h0M558.2,65.4h0M558.7,48.8h0M559.2,50.9h0M559.7,45.4h0M560.2,51.9h0M560.7,49.8h0M561.1,52h0M561.6,46.4h0M562.1,44.7h0M562.6,62.7h0M563.1,49.4h0M563.6,54h0M564.1,24.6h0M564.6,51.8h0M565.1,60.2h0M565.6,30.5h0M566.1,37.7h0M566.6,58.3h0M567.1,58.1h0M567.6,48.8h0M568.1,41.4h0M568.6,42.2h0M569.1,54h0M569.5,53.2h0M570,46.5h0M570.5,47.2h0M571,58.7h0M571.5,49.7h0M572,53.5h0M572.5,53.6h0M573,53.2h0M573.5,45.8h0" fill="none" stroke="#0072bd" stroke-width="2.05" stroke-linecap="round"/>
<path d="M79.5,337.3h0M80,332h0M80.5,337.2h0M81,337.2h0M81.5,308.8h0M82,335.1h0M82.5,337h0M83,326.3h0M83.5,327.6h0M83.9,331.8h0M84.4,320.2h0M84.9,322.6h0M85.4,318.7h0M85.9,319.5h0M86.4,318.3h0M86.9,304.7h0M87.4,315.1h0M87.9,313.8h0M88.4,315h0M88.9,336.2h0M89.4,317.8h0M89.9,315.7h0M90.4,302h0M90.9,296.2h0M91.4,285.2h0M91.8,309.8h0M92.3,314.3h0M92.8,283.2h0M93.3,291.1h0M93.8,307.4h0M94.3,291.8h0M94.8,281.5h0M95.3,293.7h0M95.8,288.8h0M96.3,313.1h0M96.8,291h0M97.3,202.2h0M97.8,285h0M98.3,272.2h0M98.8,281h0M99.3,299.8h0M99.8,281.2h0M100.2,293.1h0M100.7,271.9h0M101.2,336.8h0M101.7,276.2h0M102.2,284.5h0M102.7,299.7h0M103.2,276.1h0M103.7,295.5h0M104.2,281.8h0M104.7,273.3h0M105.2,257.8h0M105.7,263.4h0M106.2,273.8h0M106.7,268.7h0M107.2,273.1h0M107.7,254.5h0M108.2,272.4h0M108.6,272.6h0M109.1,269.7h0M109.6,293.2h0M110.1,265.8h0M110.6,260.8h0M111.1,256.2h0M111.6,259.8h0M112.1,268.2h0M112.6,245.1h0M113.1,246.2h0M113.6,263.6h0M114.1,257.4h0M114.6,259.3h0M115.1,264.4h0M115.6,261.4h0M116.1,267.3h0M116.5,261.2h0M117,283.7h0M117.5,260.6h0M118,259.8h0M118.5,259.6h0M119,259.6h0M119.5,246.7h0M120,264.5h0M120.5,296.4h0M121,268.7h0M121.5,260.9h0M122,260h0M122.5,263h0M123,251h0M123.5,253.7h0M124,254.8h0M124.5,248.9h0M124.9,247h0M125.4,252.2h0M125.9,255.2h0M126.4,270.1h0M126.9,246.3h0M127.4,241.5h0M127.9,247.3h0M128.4,250.6h0M128.9,260.7h0M129.4,257.6h0M129.9,252.5h0M130.4,243.3h0M130.9,249.4h0M131.4,252.6h0M131.9,246.8h0M132.4,257.6h0M132.9,248.2h0M133.3,245.7h0M133.8,247.4h0M134.3,261.4h0M134.8,244.9h0M135.3,245.6h0M135.8,244.2h0M136.3,256.8h0M136.8,243.2h0M137.3,217.8h0M137.8,236.2h0M138.3,240.5h0M138.8,241.4h0M139.3,240.2h0M139.8,254h0M140.3,234.6h0M140.8,238.6h0M141.2,238.3h0M141.7,244h0M142.2,233.9h0M142.7,239.9h0M143.2,232.2h0M143.7,237.7h0M144.2,232h0M144.7,234.2h0M145.2,231.2h0M145.7,233.7h0M146.2,237.3h0M146.7,208.6h0M147.2,231.3h0M147.7,236.9h0M148.2,248.9h0M148.7,227.8h0M149.2,237.6h0M149.6,228.4h0M150.1,232.6h0M150.6,242.2h0M151.1,239.5h0M151.6,228.8h0M152.1,237.2h0M152.6,239.5h0M153.1,227.8h0M153.6,231.3h0M154.1,229.6h0M154.6,228.9h0M155.1,227.5h0M155.6,232.8h0M156.1,240.1h0M156.6,221.9h0M157.1,230h0M157.6,226.4h0M158,240.1h0M158.5,227.1h0M159,223.6h0M159.5,221.2h0M160,212.8h0M160.5,221.6h0M161,213.1h0M161.5,223.8h0M162,221.3h0M162.5,227.9h0M163,216.9h0M163.5,215h0M164,224.6h0M164.5,216.5h0M165,227.9h0M165.5,222.3h0M165.9,218.4h0M166.4,223.1h0M166.9,195.8h0M167.4,210.9h0M167.9,205.5h0M168.4,201.8h0M168.9,211.4h0M169.4,206h0M169.9,222.3h0M170.4,194.3h0M170.9,205.7h0M171.4,193h0M171.9,210.1h0M172.4,206.5h0M172.9,218.6h0M173.4,204h0M173.9,205.1h0M174.3,200.8h0M174.8,203.3h0M175.3,189.6h0M175.8,199.3h0M176.3,190.5h0M176.8,200.1h0M177.3,213.9h0M177.8,192.1h0M178.3,198.4h0M178.8,212.6h0M179.3,200.3h0M179.8,199.7h0M180.3,195h0M180.8,187.2h0M181.3,188.3h0M181.8,194.3h0M182.3,196.2h0M182.7,202h0M183.2,195.6h0M183.7,192.6h0M184.2,194h0M184.7,192.7h0M185.2,178.7h0M185.7,184.1h0M186.2,168.6h0M186.7,178h0M187.2,185.4h0M187.7,197.7h0M188.2,192.4h0M188.7,185.1h0M189.2,181.9h0M189.7,183.6h0M190.2,181.2h0M190.7,188.3h0M191.1,176.8h0M191.6,179.9h0M192.1,167.3h0M192.6,181.3h0M193.1,175.8h0M193.6,198.4h0M194.1,176.8h0M194.6,179.6h0M195.1,166.7h0M195.6,197.2h0M196.1,185h0M196.6,172.9h0M197.1,180h0M197.6,175.2h0M198.1,181.3h0M198.6,178.9h0M199,174.1h0M199.5,170.1h0M200,184.3h0M200.5,172h0M201,165.4h0M201.5,185.3h0M202,180.6h0M202.5,176.8h0M203,145.6h0M203.5,160.2h0M204,170h0M204.5,146.1h0M205,166.4h0M205.5,188.8h0M206,145.1h0M206.5,168.8h0M207,149.3h0M207.4,158.6h0M207.9,146.4h0M208.4,143.1h0M208.9,144.4h0M209.4,160.2h0M209.9,163.8h0M210.4,157.5h0M210.9,159.2h0M211.4,136.6h0M211.9,162.2h0M212.4,161.1h0M212.9,160h0M213.4,161.6h0M213.9,168.4h0M214.4,158.9h0M214.9,159.2h0M215.4,180.4h0M215.8,137.8h0M216.3,158.4h0M216.8,171.8h0M217.3,147h0M217.8,152.6h0M218.3,161h0M218.8,156.8h0M219.3,168.4h0M219.8,156.1h0M220.3,149.1h0M220.8,151.6h0M221.3,150.1h0M221.8,175.9h0M222.3,150.9h0M222.8,156.6h0M223.3,151.6h0M223.7,155.3h0M224.2,168h0M224.7,160.3h0M225.2,154.7h0M225.7,148.9h0M226.2,165h0M226.7,152.5h0M227.2,152.5h0M227.7,156.7h0M228.2,146.3h0M228.7,146.6h0M229.2,155.3h0M229.7,151.4h0M230.2,158.5h0M230.7,145.6h0M231.2,153.2h0M231.7,156.1h0M232.1,150.9h0M232.6,149.3h0M233.1,143.9h0M233.6,153.7h0M234.1,155h0M234.6,150.3h0M235.1,151.6h0M235.6,156.2h0M236.1,144.2h0M236.6,142.8h0M237.1,164.8h0M237.6,150h0M238.1,149h0M238.6,149.5h0M239.1,150.4h0M239.6,159.3h0M240.1,145.4h0M240.5,144.8h0M241,151.2h0M241.5,149.9h0M242,142.4h0M242.5,159.1h0M243,143.7h0M243.5,143.1h0M244,140.4h0M244.5,147.8h0M245,144.2h0M245.5,142.8h0M246,155.8h0M246.5,143.8h0M247,149.2h0M247.5,145.8h0M248,128.9h0M248.4,139.4h0M248.9,133.9h0M249.4,130.8h0M249.9,137.6h0M250.4,143.3h0M250.9,141h0M251.4,136.6h0M251.9,132.8h0M252.4,134h0M252.9,133.5h0M253.4,143.6h0M253.9,138.1h0M254.4,138.5h0M254.9,134.9h0M255.4,120.9h0M255.9,135.6h0M256.4,128.2h0M256.8,131.4h0M257.3,138.4h0M257.8,135.5h0M258.3,131.1h0M258.8,129.5h0M259.3,130.7h0M259.8,135.1h0M260.3,127.9h0M260.8,125.2h0M261.3,131.1h0M261.8,130.2h0M262.3,133.1h0M262.8,132.3h0M263.3,127.9h0M263.8,130.7h0M264.3,143.3h0M264.8,99.2h0M265.2,131.6h0M265.7,132.6h0M266.2,132h0M266.7,135.3h0M267.2,130h0M267.7,143.4h0M268.2,124.4h0M268.7,129.3h0M269.2,122.2h0M269.7,119h0M270.2,136.6h0M270.7,120.9h0M271.2,134.1h0M271.7,126.2h0M272.2,127.6h0M272.7,118.3h0M273.1,126.5h0M273.6,128.5h0M274.1,119h0M274.6,122.3h0M275.1,129.1h0M275.6,124.1h0M276.1,124.6h0M276.6,119.5h0M277.1,117.8h0M277.6,112.5h0M278.1,116.8h0M278.6,116h0M279.1,113.1h0M279.6,112.3h0M280.1,135h0M280.6,118.5h0M281.1,116.7h0M281.5,128.2h0M282,114h0M282.5,113.2h0M283,112.6h0M283.5,116.6h0M284,106h0M284.5,113.8h0M285,115.4h0M285.5,106.3h0M286,113h0M286.5,127.7h0M287,114.2h0M287.5,111.8h0M288,124.2h0M288.5,122.9h0M289,106.9h0M289.4,120.3h0M289.9,106.3h0M290.4,131.8h0M290.9,109h0M291.4,123.1h0M291.9,107.8h0M292.4,98.6h0M292.9,116h0M293.4,115.9h0M293.9,103.6h0M294.4,109.3h0M294.9,118.1h0M295.4,103h0M295.9,94.1h0M296.4,108.9h0M296.9,110.7h0M297.4,114.1h0M297.8,114.5h0M298.3,107.3h0M298.8,97.5h0M299.3,108h0M299.8,122.8h0M300.3,109h0M300.8,106.9h0M301.3,95.9h0M301.8,98.1h0M302.3,107h0M302.8,100.8h0M303.3,101.6h0M303.8,94.5h0M304.3,112.6h0M304.8,97.8h0M305.3,109.3h0M305.8,103.2h0M306.2,102h0M306.7,101.7h0M307.2,84.3h0M307.7,103h0M308.2,104.3h0M308.7,94.9h0M309.2,102.1h0M309.7,97.5h0M310.2,93.5h0M310.7,101.6h0M311.2,95.4h0M311.7,115.5h0M312.2,107.6h0M312.7,108.9h0M313.2,94.5h0M313.7,92.6h0M314.1,74.5h0M314.6,115.9h0M315.1,96.1h0M315.6,113h0M316.1,97.3h0M316.6,94.3h0M317.1,125.4h0M317.6,107.1h0M318.1,97.4h0M318.6,101.1h0M319.1,93.4h0M319.6,96.5h0M320.1,94.4h0M320.6,91.1h0M321.1,96.3h0M321.6,124.3h0M322.1,104.2h0M322.5,92.4h0M323,89.4h0M323.5,85.8h0M324,88h0M324.5,81.6h0M325,107.9h0M325.5,108h0M326,106.3h0M326.5,99.4h0M327,101.7h0M327.5,94.3h0M328,80.4h0M328.5,97.1h0M329,91.3h0M329.5,101.2h0M330,86.5h0M330.5,91.2h0M330.9,101.2h0M331.4,94h0M331.9,97.5h0M332.4,91.2h0M332.9,89.4h0M333.4,96.6h0M333.9,89h0M334.4,80h0M334.9,91.7h0M335.4,84.9h0M335.9,99.1h0M336.4,85h0M336.9,92.7h0M337.4,83.8h0M337.9,91.4h0M338.4,92.6h0M338.9,96.3h0M339.3,83.3h0M339.8,95.7h0M340.3,86.8h0M340.8,78h0M341.3,92.5h0M341.8,83.2h0M342.3,85.7h0M342.8,77.7h0M343.3,77.2h0M343.8,77.3h0M344.3,90.2h0M344.8,93.1h0M345.3,104.5h0M345.8,87.4h0M346.3,79.6h0M346.8,116h0M347.2,83.7h0M347.7,80.4h0M348.2,86.5h0M348.7,80.6h0M349.2,80.1h0M349.7,85.8h0M350.2,92h0M350.7,77h0M351.2,94.4h0M351.7,90.8h0M352.2,89.8h0M352.7,90.6h0M353.2,86.1h0M353.7,82.1h0M354.2,93.4h0M354.7,93.1h0M355.2,70.3h0M355.6,89.3h0M356.1,98.1h0M356.6,80h0M357.1,90h0M357.6,90.3h0M358.1,95.1h0M358.6,87h0M359.1,77.3h0M359.6,80.6h0M360.1,100.8h0M360.6,87.3h0M361.1,75h0M361.6,84.9h0M362.1,88.4h0M362.6,74.8h0M363.1,81.3h0M363.5,82.5h0M364,66.1h0M364.5,84.7h0M365,84.2h0M365.5,89.1h0M366,79.3h0M366.5,68.3h0M367,83.4h0M367.5,75.5h0M368,84.3h0M368.5,83.9h0M369,71h0M369.5,88.4h0M370,83.6h0M370.5,93.3h0M371,72.3h0M371.5,91.6h0M371.9,78.5h0M372.4,78.4h0M372.9,84.1h0M373.4,76.8h0M373.9,101.3h0M374.4,68.4h0M374.9,74.5h0M375.4,85.9h0M375.9,82h0M376.4,73.2h0M376.9,75.6h0M377.4,78h0M377.9,70.9h0M378.4,78.7h0M378.9,82.1h0M379.4,78.1h0M379.9,86.9h0M380.3,87.3h0M380.8,85.3h0M381.3,76h0M381.8,73.6h0M382.3,83.9h0M382.8,96.5h0M383.3,73.9h0M383.8,72.8h0M384.3,68.8h0M384.8,75.5h0M385.3,82.9h0M385.8,83.1h0M386.3,79h0M386.8,71.5h0M387.3,72.1h0M387.8,94.7h0M388.2,83.7h0M388.7,73.6h0M389.2,80.7h0M389.7,80.9h0M390.2,87.9h0M390.7,76.3h0M391.2,75.8h0M391.7,72.6h0M392.2,83.2h0M392.7,75.9h0M393.2,75.4h0M393.7,84.3h0M394.2,81.6h0M394.7,75.3h0M395.2,70.5h0M395.7,76h0M396.2,85.2h0M396.6,80.5h0M397.1,102.3h0M397.6,75.2h0M398.1,74.9h0M398.6,85.2h0M399.1,79.3h0M399.6,86.7h0M400.1,89.7h0M400.6,70.8h0M401.1,68.5h0M401.6,76h0M402.1,71.1h0M402.6,69.8h0M403.1,101.9h0M403.6,90.2h0M404.1,70.1h0M404.6,68.4h0M405,67.6h0M405.5,74.6h0M406,78.5h0M406.5,63.8h0M407,65.6h0M407.5,62.3h0M408,72h0M408.5,69.9h0M409,77h0M409.5,64.3h0M410,37.3h0M410.5,68.8h0M411,62.1h0M411.5,68.2h0M412,72.3h0M412.5,71.4h0M413,76h0M413.4,76.1h0M413.9,69.2h0M414.4,68.1h0M414.9,73.4h0M415.4,75.1h0M415.9,73.4h0M416.4,62h0M416.9,72.6h0M417.4,66.8h0M417.9,65.2h0M418.4,62.9h0M418.9,68.7h0M419.4,76.8h0M419.9,70h0M420.4,70.7h0M420.9,63.8h0M421.3,71.3h0M421.8,73.4h0M422.3,69.5h0M422.8,81.2h0M423.3,76.9h0M423.8,71.3h0M424.3,59.3h0M424.8,72.6h0M425.3,69.6h0M425.8,86.2h0M426.3,75.3h0M426.8,65.2h0M427.3,60.9h0M427.8,63h0M428.3,71.3h0M428.8,68h0M429.3,83.3h0M429.7,65h0M430.2,52.2h0M430.7,67.1h0M431.2,75.6h0M431.7,62.8h0M432.2,60.7h0M432.7,63.1h0M433.2,68.1h0M433.7,68.7h0M434.2,66.5h0M434.7,76.3h0M435.2,62.4h0M435.7,70.7h0M436.2,61.4h0M436.7,66.3h0M437.2,68h0M437.6,74.6h0M438.1,70.3h0M438.6,53.2h0M439.1,66.7h0M439.6,71.6h0M440.1,56h0M440.6,58.9h0M441.1,65.2h0M441.6,72.2h0M442.1,73.5h0M442.6,67.2h0M443.1,77h0M443.6,98.1h0M444.1,80.9h0M444.6,61.7h0M445.1,84.4h0M445.6,63.1h0M446,66.3h0M446.5,64.3h0M447,40.3h0M447.5,66.8h0M448,64.9h0M448.5,53.4h0M449,70.9h0M449.5,61.5h0M450,72.1h0M450.5,42.2h0M451,63.1h0M451.5,67h0M452,80.2h0M452.5,55.2h0M453,62.9h0M453.5,70.6h0M454,64.6h0M454.4,66.9h0M454.9,68.7h0M455.4,59.6h0M455.9,56.8h0M456.4,57.4h0M456.9,62.1h0M457.4,59.5h0M457.9,76.3h0M458.4,108.1h0M458.9,70.8h0M459.4,69.2h0M459.9,62.1h0M460.4,56.8h0M460.9,62.6h0M461.4,57.9h0M461.9,68.9h0M462.4,65.6h0M462.8,67.3h0M463.3,62.1h0M463.8,59.9h0M464.3,61.5h0M464.8,63.1h0M465.3,60.6h0M465.8,70.9h0M466.3,64.5h0M466.8,56.6h0M467.3,70h0M467.8,66.5h0M468.3,55.4h0M468.8,65.4h0M469.3,74.5h0M469.8,68.5h0M470.3,79.9h0M470.7,51.7h0M471.2,64.3h0M471.7,53.9h0M472.2,65.3h0M472.7,57h0M473.2,67.2h0M473.7,66.3h0M474.2,73.5h0M474.7,64.3h0M475.2,65.1h0M475.7,50.4h0M476.2,57.9h0M476.7,53.2h0M477.2,62.6h0M477.7,57.2h0M478.2,23.1h0M478.7,75.4h0M479.1,61.7h0M479.6,59.9h0M480.1,62.3h0M480.6,65.6h0M481.1,54.4h0M481.6,65.7h0M482.1,56.4h0M482.6,30.4h0M483.1,60.2h0M483.6,48.5h0M484.1,60.5h0M484.6,56h0M485.1,67.2h0M485.6,66.1h0M486.1,48.8h0M486.6,53.3h0M487,43.1h0M487.5,63.6h0M488,55.5h0M488.5,66.5h0M489,58.9h0M489.5,56.5h0M490,71.8h0M490.5,60.3h0M491,59.3h0M491.5,94.3h0M492,52.7h0M492.5,56.5h0M493,47.9h0M493.5,53.6h0M494,56.9h0M494.5,81.9h0M495,58.8h0M495.4,64.5h0M495.9,68.7h0M496.4,41.3h0M496.9,44h0M497.4,42.1h0M497.9,50.2h0M498.4,63.7h0M498.9,42.9h0M499.4,54.8h0M499.9,43.2h0M500.4,57.1h0M500.9,50.3h0M501.4,81.6h0M501.9,48.2h0M502.4,74.5h0M502.9,55.7h0M503.4,66.3h0M503.8,64.9h0M504.3,54.3h0M504.8,46h0M505.3,53.2h0M505.8,84.3h0M506.3,64.3h0M506.8,58.6h0M507.3,55.7h0M507.8,60.7h0M508.3,50.5h0M508.8,55h0M509.3,49.2h0M509.8,48.2h0M510.3,31.4h0M510.8,62h0M511.3,39.9h0M511.8,37.9h0M512.2,63.9h0M512.7,59.1h0M513.2,54.9h0M513.7,50.5h0M514.2,52.7h0M514.7,62.5h0M515.2,58.7h0M515.7,45.4h0M516.2,37.6h0M516.7,74h0M517.2,58.3h0M517.7,46.9h0M518.2,50.9h0M518.7,38.4h0M519.2,38.5h0M519.7,47.2h0M520.1,66.3h0M520.6,60.1h0M521.1,68.9h0M521.6,54.9h0M522.1,53.4h0M522.6,64.7h0M523.1,86.4h0M523.6,51.9h0M524.1,52.3h0M524.6,45.7h0M525.1,83.2h0M525.6,53.9h0M526.1,38.2h0M526.6,53.8h0M527.1,46.9h0M527.6,48.8h0M528.1,53.5h0M528.5,42.6h0M529,44.7h0M529.5,48.9h0M530,52.9h0M530.5,34.5h0M531,46.1h0M531.5,56.6h0M532,30.3h0M532.5,53.3h0M533,51.1h0M533.5,66h0M534,50.3h0M534.5,52.1h0M535,51.7h0M535.5,56h0M536,60.5h0M536.5,53.8h0M536.9,56.2h0M537.4,72.7h0M537.9,56.2h0M538.4,57.2h0M538.9,44.3h0M539.4,51.5h0M539.9,56.7h0M540.4,48.8h0M540.9,58h0M541.4,52.7h0M541.9,49.1h0M542.4,47.1h0M542.9,55.4h0M543.4,53.3h0M543.9,50.2h0M544.4,40.6h0M544.8,48.2h0M545.3,43.6h0M545.8,45.5h0M546.3,54.3h0M546.8,54.2h0M547.3,52.8h0M547.8,53.7h0M548.3,34.7h0M548.8,60.4h0M549.3,64.6h0M549.8,39.5h0M550.3,67.7h0M550.8,44.7h0M551.3,57.2h0M551.8,61h0M552.3,54.3h0M552.8,52.8h0M553.2,64.4h0M553.7,51.1h0M554.2,54.9h0M554.7,45.4h0M555.2,59.3h0M555.7,58.2h0M556.2,44.5h0M556.7,40.5h0M557.2,50.4h0M557.7,56.6h0M558.2,46.7h0M558.7,69.1h0M559.2,54.2h0M559.7,53.1h0M560.2,65.5h0M560.7,57.5h0M561.1,55.6h0M561.6,69.4h0M562.1,36.2h0M562.6,46.7h0M563.1,55.7h0M563.6,46.5h0M564.1,59.6h0M564.6,49.5h0M565.1,47.1h0M565.6,57.9h0M566.1,34.5h0M566.6,64.6h0M567.1,54.2h0M567.6,38.4h0M568.1,61h0M568.6,50.6h0M569.1,41.5h0M569.5,60.7h0M570,54.6h0M570.5,25.1h0M571,58.3h0M571.5,46.5h0M572,44.7h0M572.5,79.3h0M573,51.4h0M573.5,68.8h0" fill="none" stroke="#0072bd" stroke-width="2.05" stroke-linecap="round"/>
<path d="M79.5,324.6h0M80,337.1h0M80.5,333.9h0M81,329.6h0M81.5,326.8h0M82,331.9h0M82.5,327.4h0M83,324.4h0M83.5,336.7h0M83.9,336.3h0M84.4,323h0M84.9,300h0M85.4,319.3h0M85.9,336.9h0M86.4,314.5h0M86.9,321.5h0M87.4,319h0M87.9,308.7h0M88.4,320.8h0M88.9,310.5h0M89.4,318h0M89.9,305.2h0M90.4,302.6h0M90.9,312.6h0M91.4,306.7h0M91.8,295.9h0M92.3,296.9h0M92.8,296.1h0M93.3,311.8h0M93.8,320.3h0M94.3,234.5h0M94.8,290.7h0M95.3,295.4h0M95.8,297.7h0M96.3,315.2h0M96.8,285.6h0M97.3,277.9h0M97.8,295.1h0M98.3,319.3h0M98.8,273.3h0M99.3,241.4h0M99.8,267.6h0M100.2,286.4h0M100.7,273h0M101.2,277.5h0M101.7,265.9h0M102.2,271h0M102.7,272.7h0M103.2,252.9h0M103.7,272.7h0M104.2,266h0M104.7,253.8h0M105.2,284.5h0M105.7,271.2h0M106.2,267.1h0M106.7,264.8h0M107.2,275.5h0M107.7,274.7h0M108.2,263h0M108.6,269.8h0M109.1,285.1h0M109.6,265.7h0M110.1,259h0M110.6,272.8h0M111.1,274.6h0M111.6,265.1h0M112.1,259.8h0M112.6,238.9h0M113.1,261.2h0M113.6,268.1h0M114.1,265.5h0M114.6,262.4h0M115.1,234.6h0M115.6,260.1h0M116.1,256.9h0M116.5,260.5h0M117,250.5h0M117.5,256.9h0M118,257h0M118.5,254h0M119,256h0M119.5,252.3h0M120,260.1h0M120.5,253.6h0M121,236.8h0M121.5,238.5h0M122,255.5h0M122.5,257.3h0M123,259.2h0M123.5,270h0M124,260h0M124.5,255.5h0M124.9,230.1h0M125.4,276.6h0M125.9,235.4h0M126.4,244.6h0M126.9,232.2h0M127.4,254.8h0M127.9,246.2h0M128.4,250.5h0M128.9,226.8h0M129.4,243.3h0M129.9,279.3h0M130.4,259.2h0M130.9,250.5h0M131.4,246.2h0M131.9,240.5h0M132.4,244.4h0M132.9,245.4h0M133.3,246.9h0M133.8,216.8h0M134.3,242.1h0M134.8,251.3h0M135.3,236.6h0M135.8,234.1h0M136.3,254.2h0M136.8,230.5h0M137.3,243.2h0M137.8,228.9h0M138.3,236.4h0M138.8,224.1h0M139.3,240.4h0M139.8,248.5h0M140.3,238.3h0M140.8,238.4h0M141.2,228.6h0M141.7,256.3h0M142.2,240.8h0M142.7,219.5h0M143.2,265.8h0M143.7,245h0M144.2,240.1h0M144.7,227.6h0M145.2,233.5h0M145.7,248.3h0M146.2,244.8h0M146.7,239.6h0M147.2,242.9h0M147.7,234.8h0M148.2,229.3h0M148.7,244.2h0M149.2,234.7h0M149.6,242h0M150.1,238h0M150.6,234h0M151.1,239.7h0M151.6,218h0M152.1,225.4h0M152.6,228.7h0M153.1,230.3h0M153.6,220.4h0M154.1,230.6h0M154.6,215.8h0M155.1,226.9h0M155.6,226.7h0M156.1,224.4h0M156.6,258.7h0M157.1,225.4h0M157.6,224h0M158,230.4h0M158.5,225.1h0M159,228.1h0M159.5,235.3h0M160,234.5h0M160.5,237.8h0M161,216.2h0M161.5,227.4h0M162,231.4h0M162.5,220.4h0M163,226.1h0M163.5,234.8h0M164,221.9h0M164.5,218h0M165,214.6h0M165.5,217.7h0M165.9,217.2h0M166.4,227h0M166.9,220.3h0M167.4,214h0M167.9,212.6h0M168.4,228.9h0M168.9,203.3h0M169.4,207.5h0M169.9,207.3h0M170.4,219.5h0M170.9,212.6h0M171.4,202.4h0M171.9,206.1h0M172.4,215.9h0M172.9,199.9h0M173.4,209.7h0M173.9,205.7h0M174.3,164.2h0M174.8,214.3h0M175.3,201.6h0M175.8,204.5h0M176.3,203.9h0M176.8,207h0M177.3,208.2h0M177.8,211.2h0M178.3,212.8h0M178.8,204.1h0M179.3,195.8h0M179.8,206.6h0M180.3,196.9h0M180.8,199.6h0M181.3,194.3h0M181.8,199.6h0M182.3,194.5h0M182.7,188.5h0M183.2,182.9h0M183.7,204.5h0M184.2,189.9h0M184.7,207.1h0M185.2,196.8h0M185.7,191.7h0M186.2,169.5h0M186.7,180.3h0M187.2,187.1h0M187.7,204.6h0M188.2,187.5h0M188.7,185.4h0M189.2,180.8h0M189.7,192.4h0M190.2,198.1h0M190.7,197.8h0M191.1,210.3h0M191.6,187.7h0M192.1,182.6h0M192.6,182.7h0M193.1,186.8h0M193.6,201.3h0M194.1,176h0M194.6,159.9h0M195.1,176.4h0M195.6,176.4h0M196.1,178h0M196.6,169.1h0M197.1,179.9h0M197.6,175.2h0M198.1,151.8h0M198.6,169.9h0M199,169.2h0M199.5,162.2h0M200,171.9h0M200.5,169.6h0M201,174.6h0M201.5,191.4h0M202,173.6h0M202.5,166.8h0M203,174.7h0M203.5,167.6h0M204,165.6h0M204.5,161.4h0M205,172.7h0M205.5,162h0M206,170.4h0M206.5,175.4h0M207,162.8h0M207.4,163h0M207.9,158.5h0M208.4,158.7h0M208.9,164.8h0M209.4,187.1h0M209.9,165.1h0M210.4,164.5h0M210.9,154.5h0M211.4,160.2h0M211.9,164h0M212.4,166.1h0M212.9,153.7h0M213.4,154.8h0M213.9,169h0M214.4,140.6h0M214.9,148.4h0M215.4,158.1h0M215.8,162.7h0M216.3,160.8h0M216.8,152.7h0M217.3,155h0M217.8,167.9h0M218.3,153.9h0M218.8,163.7h0M219.3,163.6h0M219.8,147.4h0M220.3,149.4h0M220.8,148.2h0M221.3,127.7h0M221.8,143.3h0M222.3,153.6h0M222.8,158.4h0M223.3,153.1h0M223.7,140.5h0M224.2,154.9h0M224.7,148.5h0M225.2,147.7h0M225.7,166.9h0M226.2,171.4h0M226.7,145.8h0M227.2,150.9h0M227.7,153.8h0M228.2,156.8h0M228.7,129.9h0M229.2,148.3h0M229.7,153.7h0M230.2,148.1h0M230.7,158h0M231.2,155.6h0M231.7,143.7h0M232.1,138.3h0M232.6,140.9h0M233.1,148.6h0M233.6,148.3h0M234.1,157.6h0M234.6,142.7h0M235.1,148.5h0M235.6,150h0M236.1,149.4h0M236.6,154.4h0M237.1,146.8h0M237.6,151.5h0M238.1,151.3h0M238.6,143.5h0M239.1,117.1h0M239.6,147.6h0M240.1,140.5h0M240.5,144.2h0M241,152.6h0M241.5,141.3h0M242,140.4h0M242.5,144.6h0M243,144.2h0M243.5,139.6h0M244,156.4h0M244.5,131.7h0M245,145.3h0M245.5,135h0M246,144.9h0M246.5,141.2h0M247,119.2h0M247.5,144.7h0M248,111.9h0M248.4,166.2h0M248.9,136.9h0M249.4,133.8h0M249.9,152.9h0M250.4,138.6h0M250.9,138.3h0M251.4,138h0M251.9,133.4h0M252.4,136.2h0M252.9,142h0M253.4,155.1h0M253.9,168.1h0M254.4,135.7h0M254.9,135.6h0M255.4,133.8h0M255.9,128.9h0M256.4,141.3h0M256.8,130.9h0M257.3,151.5h0M257.8,128.5h0M258.3,128.4h0M258.8,135.2h0M259.3,139.9h0M259.8,138.1h0M260.3,169.1h0M260.8,106.8h0M261.3,127.5h0M261.8,132.5h0M262.3,137.2h0M262.8,129.1h0M263.3,117.4h0M263.8,130.1h0M264.3,128.1h0M264.8,105.2h0M265.2,126.9h0M265.7,121.4h0M266.2,145.6h0M266.7,129.1h0M267.2,127.2h0M267.7,131.2h0M268.2,135.5h0M268.7,124.4h0M269.2,126.2h0M269.7,124.2h0M270.2,130.7h0M270.7,124.6h0M271.2,113.7h0M271.7,130.3h0M272.2,122h0M272.7,123.4h0M273.1,104.1h0M273.6,120.9h0M274.1,123.6h0M274.6,114.3h0M275.1,104.2h0M275.6,122.1h0M276.1,126.3h0M276.6,129.7h0M277.1,121.9h0M277.6,117.2h0M278.1,110h0M278.6,119.3h0M279.1,122.1h0M279.6,124.6h0M280.1,138.7h0M280.6,120.1h0M281.1,122h0M281.5,114.9h0M282,118.8h0M282.5,115.6h0M283,120.6h0M283.5,120.2h0M284,117.6h0M284.5,109.7h0M285,113.8h0M285.5,111.2h0M286,120h0M286.5,118.9h0M287,119.5h0M287.5,114h0M288,119.2h0M288.5,109.7h0M289,123.5h0M289.4,113.5h0M289.9,110.5h0M290.4,124h0M290.9,109.5h0M291.4,116.1h0M291.9,128.1h0M292.4,113.3h0M292.9,105.9h0M293.4,108.2h0M293.9,114.4h0M294.4,122h0M294.9,110h0M295.4,122.1h0M295.9,103.7h0M296.4,88.8h0M296.9,111.5h0M297.4,110.4h0M297.8,114.4h0M298.3,89.1h0M298.8,104.1h0M299.3,133.2h0M299.8,106.6h0M300.3,110.8h0M300.8,120.6h0M301.3,110.7h0M301.8,91.2h0M302.3,100.9h0M302.8,104.1h0M303.3,116.3h0M303.8,99.4h0M304.3,103.6h0M304.8,115.3h0M305.3,109h0M305.8,105.7h0M306.2,104.7h0M306.7,102h0M307.2,105h0M307.7,97.1h0M308.2,102.9h0M308.7,116.5h0M309.2,103.8h0M309.7,94.8h0M310.2,95.8h0M310.7,97.2h0M311.2,97h0M311.7,95.5h0M312.2,101.2h0M312.7,104h0M313.2,110.3h0M313.7,89.5h0M314.1,95.7h0M314.6,78.2h0M315.1,88.3h0M315.6,103.9h0M316.1,101.7h0M316.6,99.9h0M317.1,97.3h0M317.6,92.3h0M318.1,102.2h0M318.6,104.8h0M319.1,93.9h0M319.6,90.5h0M320.1,90.5h0M320.6,92.2h0M321.1,98.6h0M321.6,94.1h0M322.1,86.2h0M322.5,107.3h0M323,87h0M323.5,94h0M324,96.8h0M324.5,89.3h0M325,85.1h0M325.5,108.7h0M326,70.8h0M326.5,97.3h0M327,84.4h0M327.5,92.5h0M328,93.5h0M328.5,103.2h0M329,98h0M329.5,88.7h0M330,96.4h0M330.5,81.8h0M330.9,91.9h0M331.4,80.8h0M331.9,86.7h0M332.4,106.3h0M332.9,90.1h0M333.4,119h0M333.9,90.4h0M334.4,103.1h0M334.9,86.5h0M335.4,97h0M335.9,80.5h0M336.4,71.1h0M336.9,71h0M337.4,93.6h0M337.9,93.6h0M338.4,88.2h0M338.9,85.1h0M339.3,106.2h0M339.8,92h0M340.3,84.8h0M340.8,88.4h0M341.3,87.7h0M341.8,86.1h0M342.3,86.7h0M342.8,85.5h0M343.3,103.7h0M343.8,83.4h0M344.3,88.4h0M344.8,86.1h0M345.3,89.8h0M345.8,88.6h0M346.3,86.1h0M346.8,83.7h0M347.2,89.5h0M347.7,88.8h0M348.2,84.1h0M348.7,82.7h0M349.2,83.3h0M349.7,79h0M350.2,85.9h0M350.7,65.9h0M351.2,83.4h0M351.7,83.6h0M352.2,78.6h0M352.7,88.8h0M353.2,78.8h0M353.7,87.9h0M354.2,88.1h0M354.7,95.7h0M355.2,85.9h0M355.6,85.4h0M356.1,93.5h0M356.6,89.1h0M357.1,90.2h0M357.6,88.2h0M358.1,85.8h0M358.6,87h0M359.1,91.7h0M359.6,83.1h0M360.1,88.9h0M360.6,76.9h0M361.1,87h0M361.6,79.6h0M362.1,80.1h0M362.6,79.4h0M363.1,79.9h0M363.5,80.4h0M364,91.4h0M364.5,78h0M365,69.8h0M365.5,83.2h0M366,78.1h0M366.5,84.3h0M367,62.3h0M367.5,73.3h0M368,81.9h0M368.5,67.3h0M369,76.6h0M369.5,94.5h0M370,73h0M370.5,83.2h0M371,81.8h0M371.5,77.2h0M371.9,87.2h0M372.4,79.3h0M372.9,67.2h0M373.4,76h0M373.9,77.6h0M374.4,84.9h0M374.9,60.5h0M375.4,80.1h0M375.9,83.6h0M376.4,85.7h0M376.9,73.3h0M377.4,87h0M377.9,79h0M378.4,76.1h0M378.9,74.3h0M379.4,65.1h0M379.9,78.7h0M380.3,76.5h0M380.8,101.6h0M381.3,77.9h0M381.8,82.4h0M382.3,73.9h0M382.8,75.6h0M383.3,63.8h0M383.8,82.8h0M384.3,87.1h0M384.8,108.9h0M385.3,80.1h0M385.8,78.7h0M386.3,81.5h0M386.8,74.6h0M387.3,84h0M387.8,71.3h0M388.2,75h0M388.7,63.6h0M389.2,74.7h0M389.7,99.3h0M390.2,78.4h0M390.7,57.8h0M391.2,67.7h0M391.7,75.7h0M392.2,63.8h0M392.7,78.1h0M393.2,90.5h0M393.7,68.9h0M394.2,70.6h0M394.7,79.9h0M395.2,86.5h0M395.7,66.3h0M396.2,73.9h0M396.6,81.6h0M397.1,73.5h0M397.6,75.2h0M398.1,72.4h0M398.6,57.6h0M399.1,69.4h0M399.6,77h0M400.1,85.6h0M400.6,71h0M401.1,70.2h0M401.6,82.5h0M402.1,79.3h0M402.6,80.3h0M403.1,71.2h0M403.6,74.6h0M404.1,70.1h0M404.6,73.7h0M405,58.6h0M405.5,72.3h0M406,72.6h0M406.5,72.7h0M407,83.7h0M407.5,72h0M408,79h0M408.5,75.4h0M409,65.6h0M409.5,70.7h0M410,65.6h0M410.5,83.8h0M411,64.3h0M411.5,63.3h0M412,75.2h0M412.5,68.9h0M413,64.1h0M413.4,57.3h0M413.9,84.5h0M414.4,77.8h0M414.9,75.2h0M415.4,64.9h0M415.9,64.3h0M416.4,73.7h0M416.9,70h0M417.4,68.9h0M417.9,58.1h0M418.4,65.1h0M418.9,70.7h0M419.4,76.9h0M419.9,67.3h0M420.4,70.2h0M420.9,67.5h0M421.3,86.2h0M421.8,76.4h0M422.3,86.6h0M422.8,67.7h0M423.3,52.2h0M423.8,66.1h0M424.3,80.3h0M424.8,72.1h0M425.3,76h0M425.8,75.5h0M426.3,75h0M426.8,76.3h0M427.3,73.7h0M427.8,96.5h0M428.3,73.7h0M428.8,63.4h0M429.3,43.1h0M429.7,87.3h0M430.2,64h0M430.7,67.9h0M431.2,64.7h0M431.7,58.5h0M432.2,66.5h0M432.7,62.9h0M433.2,79h0M433.7,63.3h0M434.2,64.2h0M434.7,68.9h0M435.2,73.8h0M435.7,66.6h0M436.2,70.1h0M436.7,68.6h0M437.2,61.4h0M437.6,57.3h0M438.1,69.9h0M438.6,76.4h0M439.1,68.5h0M439.6,49.4h0M440.1,67.7h0M440.6,92h0M441.1,66.9h0M441.6,70.9h0M442.1,70.7h0M442.6,60.1h0M443.1,67.5h0M443.6,66.8h0M444.1,53h0M444.6,73.8h0M445.1,66.7h0M445.6,56.6h0M446,63.7h0M446.5,60h0M447,67.8h0M447.5,71.5h0M448,66.8h0M448.5,66.6h0M449,75.5h0M449.5,69.9h0M450,58.1h0M450.5,42.6h0M451,67.8h0M451.5,71.8h0M452,49.6h0M452.5,62.1h0M453,68h0M453.5,37.6h0M454,83h0M454.4,79.2h0M454.9,74h0M455.4,82h0M455.9,58.9h0M456.4,58h0M456.9,79.7h0M457.4,60.7h0M457.9,69.8h0M458.4,58.6h0M458.9,67.8h0M459.4,59.9h0M459.9,65.2h0M460.4,40.8h0M460.9,71.8h0M461.4,57.5h0M461.9,61.4h0M462.4,75.1h0M462.8,58.3h0M463.3,70.4h0M463.8,55.7h0M464.3,60.4h0M464.8,50.2h0M465.3,48.1h0M465.8,65.2h0M466.3,66.2h0M466.8,56h0M467.3,68.6h0M467.8,61.1h0M468.3,69.3h0M468.8,56.4h0M469.3,55.4h0M469.8,59.8h0M470.3,66h0M470.7,64h0M471.2,75.9h0M471.7,55.9h0M472.2,64.3h0M472.7,60.5h0M473.2,65.4h0M473.7,55.1h0M474.2,78.5h0M474.7,56.9h0M475.2,57.4h0M475.7,54.8h0M476.2,61.1h0M476.7,57.5h0M477.2,61.5h0M477.7,68.4h0M478.2,60.8h0M478.7,61.4h0M479.1,64.3h0M479.6,56.9h0M480.1,56.9h0M480.6,57.8h0M481.1,51.3h0M481.6,60.2h0M482.1,61.3h0M482.6,47.7h0M483.1,61.3h0M483.6,53.5h0M484.1,56.4h0M484.6,58h0M485.1,51.9h0M485.6,53.8h0M486.1,58.1h0M486.6,61.2h0M487,60.1h0M487.5,35.8h0M488,61.5h0M488.5,58.7h0M489,56h0M489.5,50.7h0M490,70.7h0M490.5,51.9h0M491,58.8h0M491.5,56.5h0M492,60.2h0M492.5,29.9h0M493,58.3h0M493.5,47.1h0M494,54.7h0M494.5,58h0M495,54.9h0M495.4,56.2h0M495.9,62.3h0M496.4,64.1h0M496.9,52.1h0M497.4,46.5h0M497.9,56.3h0M498.4,63.3h0M498.9,57.6h0M499.4,55.5h0M499.9,59.6h0M500.4,29.9h0M500.9,52.8h0M501.4,45.7h0M501.9,63.3h0M502.4,38.9h0M502.9,48.5h0M503.4,57.7h0M503.8,63.5h0M504.3,57.4h0M504.8,58.2h0M505.3,70.3h0M505.8,64.2h0M506.3,55.7h0M506.8,43.8h0M507.3,62.5h0M507.8,60.2h0M508.3,46.8h0M508.8,55.4h0M509.3,61.9h0M509.8,61.4h0M510.3,70.8h0M510.8,59.5h0M511.3,53.2h0M511.8,38h0M512.2,49.6h0M512.7,77h0M513.2,82.1h0M513.7,63.5h0M514.2,59.3h0M514.7,49.4h0M515.2,48.9h0M515.7,61.9h0M516.2,56.6h0M516.7,30.3h0M517.2,80.8h0M517.7,64.1h0M518.2,53.3h0M518.7,58.4h0M519.2,26.2h0M519.7,34.3h0M520.1,52.4h0M520.6,37.6h0M521.1,65.2h0M521.6,56h0M522.1,52.7h0M522.6,47.4h0M523.1,66.9h0M523.6,46.6h0M524.1,54.5h0M524.6,52.5h0M525.1,54.4h0M525.6,49.8h0M526.1,51.4h0M526.6,51.4h0M527.1,61.3h0M527.6,43.4h0M528.1,55.6h0M528.5,38.1h0M529,57.3h0M529.5,28.1h0M530,54.7h0M530.5,56.8h0M531,54.5h0M531.5,70.3h0M532,42.9h0M532.5,56.9h0M533,66.9h0M533.5,53.7h0M534,51.2h0M534.5,50h0M535,55.8h0M535.5,21.5h0M536,72h0M536.5,38.8h0M536.9,59.6h0M537.4,48.7h0M537.9,51.4h0M538.4,58h0M538.9,55.7h0M539.4,67h0M539.9,54.2h0M540.4,61.8h0M540.9,48.3h0M541.4,49.4h0M541.9,54.8h0M542.4,52.5h0M542.9,66h0M543.4,54.3h0M543.9,50.4h0M544.4,49.5h0M544.8,52.9h0M545.3,40.3h0M545.8,53.7h0M546.3,53.8h0M546.8,50.3h0M547.3,54.4h0M547.8,42.9h0M548.3,56.1h0M548.8,61.7h0M549.3,42.2h0M549.8,45.6h0M550.3,55h0M550.8,61.8h0M551.3,55.7h0M551.8,55h0M552.3,58.8h0M552.8,54.5h0M553.2,52.5h0M553.7,47.9h0M554.2,54.3h0M554.7,40.9h0M555.2,51h0M555.7,50h0M556.2,46.9h0M556.7,56.9h0M557.2,45.4h0M557.7,50h0M558.2,59.5h0M558.7,64.6h0M559.2,53.7h0M559.7,47.1h0M560.2,48.2h0M560.7,28.5h0M561.1,58.3h0M561.6,44.2h0M562.1,50.8h0M562.6,56.3h0M563.1,49.5h0M563.6,47.6h0M564.1,51.7h0M564.6,57.5h0M565.1,44.6h0M565.6,59.7h0M566.1,45.7h0M566.6,75.3h0M567.1,56.4h0M567.6,28.2h0M568.1,31h0M568.6,33.7h0M569.1,65.5h0M569.5,53.8h0M570,47h0M570.5,50h0M571,48.8h0M571.5,59.1h0M572,48.8h0M572.5,57.1h0M573,54.5h0M573.5,57.4h0" fill="none" stroke="#0072bd" stroke-width="2.05" stroke-linecap="round"/>
<path d="M79.5,333h0M80,337.2h0M80.5,336.4h0M81,325.9h0M81.5,328.3h0M82,328.1h0M82.5,309.1h0M83,326.6h0M83.5,317.1h0M83.9,318.1h0M84.4,329.1h0M84.9,302.9h0M85.4,324.2h0M85.9,301.7h0M86.4,311.7h0M86.9,309.9h0M87.4,330.3h0M87.9,312.5h0M88.4,287.5h0M88.9,307.3h0M89.4,305.1h0M89.9,312.8h0M90.4,334.8h0M90.9,306.5h0M91.4,297.6h0M91.8,297.8h0M92.3,302.8h0M92.8,296.6h0M93.3,302h0M93.8,299.2h0M94.3,294.5h0M94.8,294.2h0M95.3,302.9h0M95.8,303.1h0M96.3,290.3h0M96.8,290.9h0M97.3,276.2h0M97.8,289.7h0M98.3,288.1h0M98.8,276.7h0M99.3,286.8h0M99.8,285.3h0M100.2,284.3h0M100.7,251.5h0M101.2,281.5h0M101.7,260.4h0M102.2,281.5h0M102.7,302.3h0M103.2,277.5h0M103.7,304.7h0M104.2,267.4h0M104.7,273.1h0M105.2,285.5h0M105.7,264.6h0M106.2,277h0M106.7,277.2h0M107.2,277.1h0M107.7,266.7h0M108.2,254.7h0M108.6,259.7h0M109.1,278.2h0M109.6,267.8h0M110.1,262.3h0M110.6,268.6h0M111.1,267.8h0M111.6,267.1h0M112.1,252.5h0M112.6,257.9h0M113.1,261.5h0M113.6,261.2h0M114.1,278h0M114.6,265.3h0M115.1,257.2h0M115.6,265.5h0M116.1,287.5h0M116.5,257.2h0M117,258.7h0M117.5,286.1h0M118,241.1h0M118.5,245.9h0M119,249.2h0M119.5,258.7h0M120,260.1h0M120.5,246.2h0M121,263.1h0M121.5,250.6h0M122,255.1h0M122.5,251.3h0M123,263h0M123.5,248.1h0M124,254.8h0M124.5,248.2h0M124.9,251h0M125.4,255h0M125.9,246.4h0M126.4,258.6h0M126.9,253.6h0M127.4,244.5h0M127.9,245.7h0M128.4,250.4h0M128.9,252.9h0M129.4,242.5h0M129.9,252.3h0M130.4,248.2h0M130.9,249.3h0M131.4,248.3h0M131.9,260.9h0M132.4,250.4h0M132.9,241.8h0M133.3,251.2h0M133.8,252h0M134.3,260.5h0M134.8,239.9h0M135.3,243.7h0M135.8,237.6h0M136.3,236.9h0M136.8,242.8h0M137.3,250.3h0M137.8,221.8h0M138.3,241.5h0M138.8,236.9h0M139.3,241.7h0M139.8,241h0M140.3,250.4h0M140.8,243.4h0M141.2,232.4h0M141.7,245.3h0M142.2,239.7h0M142.7,249.2h0M143.2,233.7h0M143.7,244.5h0M144.2,241.4h0M144.7,227.6h0M145.2,252h0M145.7,235.8h0M146.2,239.3h0M146.7,240.7h0M147.2,228.2h0M147.7,230.2h0M148.2,236h0M148.7,249h0M149.2,240.1h0M149.6,236.3h0M150.1,238.6h0M150.6,232.9h0M151.1,235.5h0M151.6,240.4h0M152.1,226.6h0M152.6,218.1h0M153.1,233.5h0M153.6,230.6h0M154.1,235.6h0M154.6,230.6h0M155.1,231.1h0M155.6,257.9h0M156.1,219.4h0M156.6,234.3h0M157.1,229.8h0M157.6,221.4h0M158,232.4h0M158.5,218.1h0M159,224.8h0M159.5,225.1h0M160,214.3h0M160.5,226.2h0M161,236.8h0M161.5,219.3h0M162,213.8h0M162.5,243.7h0M163,219.6h0M163.5,206.4h0M164,223.8h0M164.5,213.3h0M165,208.6h0M165.5,222.9h0M165.9,221.3h0M166.4,218.4h0M166.9,206.5h0M167.4,212h0M167.9,220.9h0M168.4,215.9h0M168.9,211.9h0M169.4,215.6h0M169.9,208.5h0M170.4,259.2h0M170.9,204.4h0M171.4,214.8h0M171.9,215.5h0M172.4,211.7h0M172.9,198.1h0M173.4,208h0M173.9,210.7h0M174.3,223.6h0M174.8,195.6h0M175.3,223.9h0M175.8,177.4h0M176.3,185.1h0M176.8,203.4h0M177.3,205.3h0M177.8,189.2h0M178.3,196.6h0M178.8,215.3h0M179.3,192.7h0M179.8,197.7h0M180.3,193.2h0M180.8,215h0M181.3,193.3h0M181.8,164h0M182.3,190.8h0M182.7,185.7h0M183.2,199.5h0M183.7,173.9h0M184.2,194.2h0M184.7,192.6h0M185.2,190.2h0M185.7,182.5h0M186.2,188.7h0M186.7,184.7h0M187.2,189.3h0M187.7,188.4h0M188.2,183.9h0M188.7,187.2h0M189.2,192h0M189.7,179.8h0M190.2,183.3h0M190.7,172.9h0M191.1,176.2h0M191.6,190.5h0M192.1,191.5h0M192.6,181.7h0M193.1,186.2h0M193.6,181.2h0M194.1,175.4h0M194.6,174.9h0M195.1,174.9h0M195.6,180.1h0M196.1,174.2h0M196.6,174.5h0M197.1,173.2h0M197.6,172.2h0M198.1,167.8h0M198.6,168.5h0M199,169.2h0M199.5,192.5h0M200,171.2h0M200.5,174.1h0M201,148.2h0M201.5,183.3h0M202,180h0M202.5,154.3h0M203,164h0M203.5,172.5h0M204,176.3h0M204.5,168.5h0M205,177.7h0M205.5,164.7h0M206,154.6h0M206.5,169.4h0M207,161.2h0M207.4,164.2h0M207.9,164.8h0M208.4,169.7h0M208.9,163.6h0M209.4,137h0M209.9,155h0M210.4,190.8h0M210.9,165.4h0M211.4,163.2h0M211.9,161.4h0M212.4,174.6h0M212.9,158h0M213.4,156.9h0M213.9,156.9h0M214.4,155.9h0M214.9,168.2h0M215.4,152.2h0M215.8,159.4h0M216.3,152.7h0M216.8,153.3h0M217.3,160.2h0M217.8,158.4h0M218.3,160.7h0M218.8,153.8h0M219.3,152.8h0M219.8,141.7h0M220.3,150.9h0M220.8,145.8h0M221.3,156.8h0M221.8,160.5h0M222.3,163.9h0M222.8,155.4h0M223.3,156.5h0M223.7,148.8h0M224.2,169h0M224.7,157.2h0M225.2,147.7h0M225.7,153.3h0M226.2,135.6h0M226.7,156.4h0M227.2,151.9h0M227.7,135.4h0M228.2,152.4h0M228.7,175.7h0M229.2,153.4h0M229.7,155.5h0M230.2,158.1h0M230.7,154.8h0M231.2,151.3h0M231.7,153.2h0M232.1,165.7h0M232.6,130.2h0M233.1,144.3h0M233.6,157.2h0M234.1,148.9h0M234.6,146.7h0M235.1,151.6h0M235.6,143.7h0M236.1,144.8h0M236.6,145.9h0M237.1,147.1h0M237.6,154.6h0M238.1,150.9h0M238.6,146.4h0M239.1,141.3h0M239.6,163h0M240.1,138.5h0M240.5,137.6h0M241,132.8h0M241.5,138.5h0M242,128.3h0M242.5,146.4h0M243,149h0M243.5,137.2h0M244,150.5h0M244.5,163.6h0M245,138.4h0M245.5,139.3h0M246,134.9h0M246.5,139.6h0M247,158.1h0M247.5,142.2h0M248,140h0M248.4,143h0M248.9,137.1h0M249.4,142.9h0M249.9,138.4h0M250.4,126h0M250.9,140.4h0M251.4,143.4h0M251.9,139.7h0M252.4,135.2h0M252.9,137.4h0M253.4,124.1h0M253.9,133.7h0M254.4,138.6h0M254.9,134.8h0M255.4,134.4h0M255.9,154h0M256.4,153.3h0M256.8,120h0M257.3,135.1h0M257.8,123.5h0M258.3,134.9h0M258.8,125.4h0M259.3,129.8h0M259.8,108.5h0M260.3,132.3h0M260.8,139.9h0M261.3,132.1h0M261.8,124.1h0M262.3,127.4h0M262.8,121.5h0M263.3,125.1h0M263.8,124.4h0M264.3,133.6h0M264.8,126.5h0M265.2,129.1h0M265.7,131.3h0M266.2,139.7h0M266.7,125.4h0M267.2,122.6h0M267.7,127h0M268.2,147.5h0M268.7,142.1h0M269.2,113.8h0M269.7,126.3h0M270.2,127.2h0M270.7,112.5h0M271.2,139.8h0M271.7,123.5h0M272.2,117.4h0M272.7,124.2h0M273.1,135h0M273.6,130.4h0M274.1,128.6h0M274.6,124.4h0M275.1,119.5h0M275.6,114h0M276.1,119h0M276.6,123.7h0M277.1,124.6h0M277.6,116.8h0M278.1,126.3h0M278.6,138.6h0M279.1,116.1h0M279.6,125h0M280.1,118h0M280.6,147.1h0M281.1,120.8h0M281.5,143.3h0M282,117.3h0M282.5,118.5h0M283,114.4h0M283.5,113.5h0M284,109.2h0M284.5,114h0M285,120.3h0M285.5,116.2h0M286,112.7h0M286.5,118.3h0M287,117.1h0M287.5,109h0M288,108.7h0M288.5,111.5h0M289,101h0M289.4,115.5h0M289.9,112.5h0M290.4,110.5h0M290.9,100.5h0M291.4,115.3h0M291.9,112.1h0M292.4,89.6h0M292.9,109.8h0M293.4,128.1h0M293.9,113.4h0M294.4,91.4h0M294.9,115.5h0M295.4,109.4h0M295.9,100h0M296.4,98.2h0M296.9,112h0M297.4,129.7h0M297.8,125.6h0M298.3,93.6h0M298.8,108.7h0M299.3,107.3h0M299.8,104.3h0M300.3,107.8h0M300.8,105h0M301.3,103.5h0M301.8,103.1h0M302.3,105.5h0M302.8,104.3h0M303.3,107.3h0M303.8,99.4h0M304.3,113.8h0M304.8,105.8h0M305.3,95.6h0M305.8,109.7h0M306.2,110.3h0M306.7,105.5h0M307.2,91.3h0M307.7,103.7h0M308.2,98.9h0M308.7,98.5h0M309.2,98h0M309.7,94.3h0M310.2,98h0M310.7,82.1h0M311.2,102h0M311.7,101.4h0M312.2,98.8h0M312.7,100.6h0M313.2,97.2h0M313.7,96.1h0M314.1,90.9h0M314.6,88.8h0M315.1,97.2h0M315.6,105.8h0M316.1,109.6h0M316.6,99.4h0M317.1,100.1h0M317.6,88.9h0M318.1,109.4h0M318.6,85.6h0M319.1,67.9h0M319.6,91.6h0M320.1,91.4h0M320.6,108h0M321.1,91.6h0M321.6,88.2h0M322.1,100.7h0M322.5,91.5h0M323,92.1h0M323.5,93.8h0M324,114.3h0M324.5,100.5h0M325,86.5h0M325.5,83.8h0M326,84.5h0M326.5,84.7h0M327,103.5h0M327.5,93.1h0M328,89.2h0M328.5,92.5h0M329,60.9h0M329.5,100.7h0M330,86.1h0M330.5,92.4h0M330.9,89h0M331.4,86h0M331.9,80h0M332.4,114.9h0M332.9,74.5h0M333.4,82.3h0M333.9,96.6h0M334.4,83.5h0M334.9,93.1h0M335.4,97.4h0M335.9,92.6h0M336.4,86.7h0M336.9,89h0M337.4,109.6h0M337.9,84.3h0M338.4,91.2h0M338.9,92.1h0M339.3,84.2h0M339.8,93.8h0M340.3,91.1h0M340.8,87.5h0M341.3,100.6h0M341.8,85.1h0M342.3,98.4h0M342.8,94.6h0M343.3,95h0M343.8,86.9h0M344.3,99.3h0M344.8,90.9h0M345.3,86.1h0M345.8,84.7h0M346.3,78h0M346.8,90.4h0M347.2,74.9h0M347.7,83.7h0M348.2,80.1h0M348.7,90.1h0M349.2,94.6h0M349.7,82h0M350.2,81.2h0M350.7,89.8h0M351.2,93h0M351.7,97.3h0M352.2,83h0M352.7,84.3h0M353.2,89.1h0M353.7,82h0M354.2,89.8h0M354.7,89.5h0M355.2,88.1h0M355.6,70.1h0M356.1,77.4h0M356.6,87.1h0M357.1,85.4h0M357.6,100.1h0M358.1,60.5h0M358.6,82.5h0M359.1,80.8h0M359.6,72.8h0M360.1,83.3h0M360.6,93.3h0M361.1,96.3h0M361.6,84.6h0M362.1,85.9h0M362.6,79.2h0M363.1,78.6h0M363.5,81.3h0M364,124.2h0M364.5,82.3h0M365,76.1h0M365.5,76.6h0M366,80.8h0M366.5,90.4h0M367,87.2h0M367.5,104.2h0M368,103.6h0M368.5,78.7h0M369,97.2h0M369.5,79.7h0M370,80.8h0M370.5,70.2h0M371,84.5h0M371.5,76.2h0M371.9,78.8h0M372.4,61h0M372.9,71.4h0M373.4,73h0M373.9,79.9h0M374.4,84.8h0M374.9,84.1h0M375.4,81.1h0M375.9,69.3h0M376.4,106h0M376.9,64.2h0M377.4,80.4h0M377.9,79.1h0M378.4,95.6h0M378.9,48.4h0M379.4,109.8h0M379.9,73.6h0M380.3,72.2h0M380.8,85.9h0M381.3,83.2h0M381.8,78.8h0M382.3,78.1h0M382.8,97.6h0M383.3,77.2h0M383.8,86.5h0M384.3,86.4h0M384.8,70.5h0M385.3,73.8h0M385.8,57.1h0M386.3,77.1h0M386.8,70h0M387.3,83.9h0M387.8,76.4h0M388.2,85h0M388.7,83.8h0M389.2,76.2h0M389.7,77.1h0M390.2,69.8h0M390.7,93h0M391.2,46.3h0M391.7,69.8h0M392.2,64.8h0M392.7,70.7h0M393.2,67.2h0M393.7,79.6h0M394.2,69.6h0M394.7,84.6h0M395.2,90.7h0M395.7,62.7h0M396.2,80.5h0M396.6,86.8h0M397.1,76.3h0M397.6,80.6h0M398.1,76.8h0M398.6,82.5h0M399.1,96.6h0M399.6,84.1h0M400.1,77h0M400.6,74.3h0M401.1,68.6h0M401.6,62.8h0M402.1,71.5h0M402.6,56.6h0M403.1,74.7h0M403.6,64.1h0M404.1,79.4h0M404.6,74.6h0M405,75.4h0M405.5,77.1h0M406,71.3h0M406.5,64.2h0M407,76.2h0M407.5,66.5h0M408,71.3h0M408.5,68.8h0M409,77.1h0M409.5,76.3h0M410,79.9h0M410.5,82.7h0M411,63.1h0M411.5,68.5h0M412,76.5h0M412.5,72.7h0M413,67.5h0M413.4,45.8h0M413.9,65.1h0M414.4,58.8h0M414.9,74.4h0M415.4,74.2h0M415.9,79.9h0M416.4,65.9h0M416.9,75.5h0M417.4,70.7h0M417.9,90.8h0M418.4,80.6h0M418.9,74.3h0M419.4,68.5h0M419.9,68.3h0M420.4,65h0M420.9,61.1h0M421.3,58.4h0M421.8,83h0M422.3,70.4h0M422.8,69.5h0M423.3,70.3h0M423.8,69.3h0M424.3,60.7h0M424.8,61.5h0M425.3,67h0M425.8,64.9h0M426.3,65.7h0M426.8,75.1h0M427.3,74.1h0M427.8,73.6h0M428.3,85.9h0M428.8,67.6h0M429.3,38h0M429.7,59.5h0M430.2,54.6h0M430.7,64h0M431.2,74.6h0M431.7,75.9h0M432.2,65.5h0M432.7,68h0M433.2,66.1h0M433.7,55.1h0M434.2,64.9h0M434.7,60.5h0M435.2,57.8h0M435.7,64.7h0M436.2,70.3h0M436.7,54.1h0M437.2,54.9h0M437.6,67.8h0M438.1,66.3h0M438.6,60.2h0M439.1,59.1h0M439.6,76.1h0M440.1,77.6h0M440.6,58.2h0M441.1,65.7h0M441.6,63.7h0M442.1,64.2h0M442.6,53.3h0M443.1,65.9h0M443.6,77.5h0M444.1,67.6h0M444.6,87.4h0M445.1,60.3h0M445.6,70.9h0M446,87.5h0M446.5,69.4h0M447,63h0M447.5,75.6h0M448,60.7h0M448.5,62.7h0M449,66.2h0M449.5,55.6h0M450,54.7h0M450.5,67.2h0M451,60.8h0M451.5,65h0M452,57.9h0M452.5,48.4h0M453,72.4h0M453.5,68.8h0M454,66.9h0M454.4,67.2h0M454.9,80.4h0M455.4,39.3h0M455.9,77.8h0M456.4,62h0M456.9,59.3h0M457.4,78.1h0M457.9,68.4h0M458.4,50.6h0M458.9,45.1h0M459.4,39.3h0M459.9,83.8h0M460.4,59h0M460.9,60.2h0M461.4,66.6h0M461.9,70.7h0M462.4,67h0M462.8,75.3h0M463.3,56.9h0M463.8,64.9h0M464.3,58.1h0M464.8,70h0M465.3,61h0M465.8,44.6h0M466.3,57h0M466.8,62.7h0M467.3,59.2h0M467.8,92.9h0M468.3,66.4h0M468.8,66.8h0M469.3,61h0M469.8,62.8h0M470.3,58h0M470.7,64.5h0M471.2,56.8h0M471.7,65.4h0M472.2,80.6h0M472.7,64.9h0M473.2,63.4h0M473.7,62.9h0M474.2,75.2h0M474.7,57h0M475.2,63.6h0M475.7,62.5h0M476.2,62.3h0M476.7,63.8h0M477.2,64.8h0M477.7,62.9h0M478.2,56.1h0M478.7,80.6h0M479.1,46.5h0M479.6,55.7h0M480.1,26.4h0M480.6,55.7h0M481.1,57.4h0M481.6,63.8h0M482.1,61.1h0M482.6,59.3h0M483.1,60.5h0M483.6,50.3h0M484.1,54.6h0M484.6,65.4h0M485.1,58.8h0M485.6,54.5h0M486.1,55.7h0M486.6,60h0M487,60.6h0M487.5,60.6h0M488,49.7h0M488.5,63h0M489,72.1h0M489.5,90.6h0M490,38.8h0M490.5,53.9h0M491,54h0M491.5,52.5h0M492,56.6h0M492.5,63.2h0M493,56.7h0M493.5,64.3h0M494,58.2h0M494.5,58.1h0M495,55.8h0M495.4,51.6h0M495.9,45.1h0M496.4,65.9h0M496.9,58.5h0M497.4,68.1h0M497.9,55.6h0M498.4,64.7h0M498.9,59.1h0M499.4,59.4h0M499.9,55.4h0M500.4,41h0M500.9,56.2h0M501.4,52.4h0M501.9,52.1h0M502.4,45.4h0M502.9,49.6h0M503.4,51.3h0M503.8,48.8h0M504.3,60h0M504.8,55.6h0M505.3,54.8h0M505.8,59.3h0M506.3,49.9h0M506.8,51.4h0M507.3,52.6h0M507.8,54.4h0M508.3,54.3h0M508.8,56.1h0M509.3,56.3h0M509.8,58.4h0M510.3,56.7h0M510.8,64.7h0M511.3,73.8h0M511.8,60.4h0M512.2,36.2h0M512.7,43.1h0M513.2,53.5h0M513.7,49.5h0M514.2,61.8h0M514.7,61.3h0M515.2,40.5h0M515.7,60.9h0M516.2,45.6h0M516.7,41.7h0M517.2,67.3h0M517.7,30.2h0M518.2,63.1h0M518.7,52.7h0M519.2,51.4h0M519.7,58.9h0M520.1,49.5h0M520.6,51.1h0M521.1,52.2h0M521.6,32.3h0M522.1,72.9h0M522.6,38.2h0M523.1,55.9h0M523.6,38.9h0M524.1,56.1h0M524.6,62.7h0M525.1,49.7h0M525.6,58.2h0M526.1,62.4h0M526.6,51.6h0M527.1,52.9h0M527.6,55.8h0M528.1,54.7h0M528.5,49h0M529,55.4h0M529.5,68.2h0M530,50.8h0M530.5,39.3h0M531,60.6h0M531.5,43.6h0M532,38.7h0M532.5,58.5h0M533,55.3h0M533.5,60.3h0M534,57.6h0M534.5,50.7h0M535,56.9h0M535.5,55.3h0M536,44.8h0M536.5,34.5h0M536.9,54.4h0M537.4,54.8h0M537.9,52.8h0M538.4,53.8h0M538.9,44.6h0M539.4,53h0M539.9,62.5h0M540.4,50.8h0M540.9,25.8h0M541.4,50.1h0M541.9,47.9h0M542.4,51.3h0M542.9,52.2h0M543.4,46h0M543.9,50.2h0M544.4,52.3h0M544.8,50.3h0M545.3,47.5h0M545.8,43.2h0M546.3,50.4h0M546.8,40.5h0M547.3,31.7h0M547.8,57.2h0M548.3,35h0M548.8,43.9h0M549.3,50.8h0M549.8,46.8h0M550.3,56.8h0M550.8,56.7h0M551.3,63.5h0M551.8,30.2h0M552.3,48.8h0M552.8,29.8h0M553.2,54.7h0M553.7,55.1h0M554.2,56.7h0M554.7,49.9h0M555.2,54h0M555.7,43.4h0M556.2,51h0M556.7,72h0M557.2,57.6h0M557.7,61.9h0M558.2,54.9h0M558.7,27.7h0M559.2,33.1h0M559.7,64.8h0M560.2,74h0M560.7,48.8h0M561.1,82.3h0M561.6,38.7h0M562.1,46.2h0M562.6,44.6h0M563.1,45.4h0M563.6,32.8h0M564.1,39.5h0M564.6,54.4h0M565.1,48h0M565.6,54.4h0M566.1,53.6h0M566.6,80h0M567.1,48.9h0M567.6,35.1h0M568.1,38.4h0M568.6,60.6h0M569.1,65.5h0M569.5,54.2h0M570,44.3h0M570.5,38h0M571,48.4h0M571.5,54h0M572,58.8h0M572.5,57.6h0M573,50.5h0M573.5,56.1h0" fill="none" stroke="#0072bd" stroke-width="2.05" stroke-linecap="round"/>
<path d="M79.5,336.4h0M80,337.3h0M80.5,331h0M81,336.9h0M81.5,308.8h0M82,337.2h0M82.5,337.2h0M83,322.3h0M83.5,335h0M83.9,337.3h0M84.4,327.2h0M84.9,314.4h0M85.4,312h0M85.9,322.1h0M86.4,313.2h0M86.9,314.3h0M87.4,325.5h0M87.9,316.7h0M88.4,303.9h0M88.9,315.7h0M89.4,314.2h0M89.9,336.3h0M90.4,272.4h0M90.9,337h0M91.4,297.7h0M91.8,286.9h0M92.3,297.8h0M92.8,288.5h0M93.3,293.2h0M93.8,305.3h0M94.3,315.6h0M94.8,281.2h0M95.3,296.4h0M95.8,303h0M96.3,324.4h0M96.8,308.7h0M97.3,273.7h0M97.8,293.6h0M98.3,286h0M98.8,282h0M99.3,295.3h0M99.8,276.2h0M100.2,261.5h0M100.7,300.9h0M101.2,282.3h0M101.7,254.9h0M102.2,288.9h0M102.7,275.8h0M103.2,282.4h0M103.7,244.5h0M104.2,323.2h0M104.7,281.3h0M105.2,277.1h0M105.7,270.9h0M106.2,276.1h0M106.7,238.9h0M107.2,262.3h0M107.7,268.5h0M108.2,275.6h0M108.6,276.3h0M109.1,270.8h0M109.6,255.5h0M110.1,257.5h0M110.6,271.1h0M111.1,270.2h0M111.6,260.5h0M112.1,265.8h0M112.6,288.1h0M113.1,258.7h0M113.6,264.6h0M114.1,236.4h0M114.6,259.3h0M115.1,251h0M115.6,248.9h0M116.1,266.6h0M116.5,258.9h0M117,255.6h0M117.5,260.2h0M118,233.4h0M118.5,249.3h0M119,270h0M119.5,248.1h0M120,295.5h0M120.5,262h0M121,255.5h0M121.5,251.5h0M122,257.6h0M122.5,251.3h0M123,243.1h0M123.5,253.8h0M124,258.7h0M124.5,252.5h0M124.9,253h0M125.4,240.2h0M125.9,257h0M126.4,250.7h0M126.9,248.9h0M127.4,250.3h0M127.9,248.9h0M128.4,248.8h0M128.9,262.8h0M129.4,234.8h0M129.9,236.1h0M130.4,251.3h0M130.9,251.1h0M131.4,263.7h0M131.9,273.6h0M132.4,241.9h0M132.9,240.3h0M133.3,246.7h0M133.8,236.7h0M134.3,243.1h0M134.8,247.5h0M135.3,247.6h0M135.8,245.4h0M136.3,247.3h0M136.8,237.8h0M137.3,263.1h0M137.8,247.1h0M138.3,250.6h0M138.8,245.8h0M139.3,248.2h0M139.8,248.6h0M140.3,238.2h0M140.8,249.1h0M141.2,239.4h0M141.7,248.1h0M142.2,239.1h0M142.7,244.9h0M143.2,240.2h0M143.7,242.6h0M144.2,238.1h0M144.7,236.6h0M145.2,256.8h0M145.7,242.8h0M146.2,247.2h0M146.7,239.8h0M147.2,238.9h0M147.7,234h0M148.2,234h0M148.7,231.5h0M149.2,225.6h0M149.6,218.9h0M150.1,259.1h0M150.6,233.8h0M151.1,244.7h0M151.6,245.9h0M152.1,227.6h0M152.6,242h0M153.1,225.7h0M153.6,227.8h0M154.1,237.7h0M154.6,226.7h0M155.1,228.2h0M155.6,244h0M156.1,237.2h0M156.6,228.5h0M157.1,234.1h0M157.6,202.9h0M158,232h0M158.5,199.9h0M159,228.8h0M159.5,227.9h0M160,239.7h0M160.5,226.6h0M161,224.9h0M161.5,216.8h0M162,215.4h0M162.5,227.7h0M163,220.2h0M163.5,200.6h0M164,223h0M164.5,207.8h0M165,189.2h0M165.5,189.7h0M165.9,217h0M166.4,224.4h0M166.9,200h0M167.4,204.1h0M167.9,223.3h0M168.4,204.8h0M168.9,217.6h0M169.4,206.1h0M169.9,211.9h0M170.4,200.6h0M170.9,198.8h0M171.4,192.9h0M171.9,207.2h0M172.4,213h0M172.9,206.6h0M173.4,209.2h0M173.9,211.2h0M174.3,210.7h0M174.8,206.2h0M175.3,209.5h0M175.8,195h0M176.3,183h0M176.8,188h0M177.3,223.3h0M177.8,201.9h0M178.3,197h0M178.8,196.5h0M179.3,197.2h0M179.8,192h0M180.3,207.4h0M180.8,200.8h0M181.3,189.3h0M181.8,189.3h0M182.3,187.7h0M182.7,199h0M183.2,211.9h0M183.7,183.6h0M184.2,212.5h0M184.7,195.2h0M185.2,179.1h0M185.7,182.3h0M186.2,190.3h0M186.7,156.3h0M187.2,185.4h0M187.7,181.8h0M188.2,196.9h0M188.7,188.5h0M189.2,194.4h0M189.7,177.8h0M190.2,179.1h0M190.7,187.6h0M191.1,188.4h0M191.6,186.3h0M192.1,215.7h0M192.6,171h0M193.1,179.6h0M193.6,177.6h0M194.1,181.3h0M194.6,173.5h0M195.1,184.3h0M195.6,171.2h0M196.1,178h0M196.6,197.4h0M197.1,176.7h0M197.6,174.1h0M198.1,155.8h0M198.6,170.6h0M199,171.3h0M199.5,176.3h0M200,169.3h0M200.5,187.8h0M201,173.1h0M201.5,165.5h0M202,156.8h0M202.5,164.9h0M203,168.2h0M203.5,165h0M204,157.7h0M204.5,165.8h0M205,163.7h0M205.5,156.9h0M206,172.7h0M206.5,161.6h0M207,169.7h0M207.4,164.9h0M207.9,167.2h0M208.4,168.8h0M208.9,160.6h0M209.4,161.8h0M209.9,163.3h0M210.4,158.7h0M210.9,147.8h0M211.4,164.9h0M211.9,163.6h0M212.4,156.8h0M212.9,173.8h0M213.4,161.3h0M213.9,151.5h0M214.4,161.7h0M214.9,157.3h0M215.4,160.2h0M215.8,157h0M216.3,165.3h0M216.8,165.4h0M217.3,134.4h0M217.8,154.5h0M218.3,153.8h0M218.8,148.5h0M219.3,163.8h0M219.8,150.8h0M220.3,147.9h0M220.8,145.2h0M221.3,157h0M221.8,156.9h0M222.3,150.4h0M222.8,153.2h0M223.3,150.2h0M223.7,141.5h0M224.2,149.9h0M224.7,162.8h0M225.2,161.6h0M225.7,153.1h0M226.2,149.2h0M226.7,144.5h0M227.2,155.4h0M227.7,159h0M228.2,145.6h0M228.7,134.2h0M229.2,146.9h0M229.7,125.4h0M230.2,156.6h0M230.7,148.7h0M231.2,156.4h0M231.7,153.3h0M232.1,150.8h0M232.6,142.4h0M233.1,144.8h0M233.6,152.7h0M234.1,153.4h0M234.6,142.1h0M235.1,175.6h0M235.6,153.6h0M236.1,148.1h0M236.6,148.7h0M237.1,143.8h0M237.6,135.9h0M238.1,150.3h0M238.6,151.6h0M239.1,153h0M239.6,147.7h0M240.1,150.6h0M240.5,147.2h0M241,158.9h0M241.5,138.2h0M242,142.7h0M242.5,138.1h0M243,77.2h0M243.5,142.8h0M244,126.3h0M244.5,147h0M245,137.4h0M245.5,137.7h0M246,149.1h0M246.5,144.9h0M247,127.3h0M247.5,145.3h0M248,143.8h0M248.4,142.8h0M248.9,138h0M249.4,141.8h0M249.9,144h0M250.4,138.5h0M250.9,135.6h0M251.4,139.6h0M251.9,131h0M252.4,145.1h0M252.9,116.5h0M253.4,138.6h0M253.9,136.5h0M254.4,137.9h0M254.9,137.5h0M255.4,137.6h0M255.9,148.3h0M256.4,141.8h0M256.8,134.8h0M257.3,126.9h0M257.8,137.9h0M258.3,134.4h0M258.8,137.2h0M259.3,129h0M259.8,126.3h0M260.3,128.5h0M260.8,128.5h0M261.3,144.2h0M261.8,136.5h0M262.3,100.2h0M262.8,129.4h0M263.3,128.4h0M263.8,133.8h0M264.3,123.4h0M264.8,131h0M265.2,94.5h0M265.7,119h0M266.2,119h0M266.7,121.4h0M267.2,126.6h0M267.7,119.7h0M268.2,124.5h0M268.7,123.5h0M269.2,125.8h0M269.7,125.1h0M270.2,127.6h0M270.7,128.1h0M271.2,127.7h0M271.7,124.7h0M272.2,124h0M272.7,125.3h0M273.1,125.2h0M273.6,141.8h0M274.1,115.3h0M274.6,118.7h0M275.1,110.7h0M275.6,124.4h0M276.1,108.7h0M276.6,127.2h0M277.1,115.4h0M277.6,101.5h0M278.1,121.6h0M278.6,113.3h0M279.1,123.1h0M279.6,119.1h0M280.1,133.1h0M280.6,117.6h0M281.1,125.2h0M281.5,121.6h0M282,120.5h0M282.5,125.3h0M283,116h0M283.5,124.8h0M284,119.6h0M284.5,111.8h0M285,121.2h0M285.5,114.2h0M286,117.1h0M286.5,112.3h0M287,111.7h0M287.5,108.4h0M288,109h0M288.5,118.5h0M289,107.3h0M289.4,123.8h0M289.9,111h0M290.4,120.6h0M290.9,107.3h0M291.4,107.2h0M291.9,112.4h0M292.4,112.5h0M292.9,121.4h0M293.4,95.9h0M293.9,108h0M294.4,113.8h0M294.9,103.1h0M295.4,111.7h0M295.9,126h0M296.4,127.5h0M296.9,115.4h0M297.4,104.9h0M297.8,97.4h0M298.3,110.6h0M298.8,108.2h0M299.3,113h0M299.8,102h0M300.3,107h0M300.8,102.5h0M301.3,105h0M301.8,106.4h0M302.3,95.4h0M302.8,99.6h0M303.3,106.7h0M303.8,99.1h0M304.3,99.2h0M304.8,96.2h0M305.3,101h0M305.8,105.7h0M306.2,99.7h0M306.7,91.9h0M307.2,108.2h0M307.7,102.2h0M308.2,103.9h0M308.7,104.2h0M309.2,97.6h0M309.7,99h0M310.2,114.1h0M310.7,89.4h0M311.2,100.5h0M311.7,97.2h0M312.2,98.9h0M312.7,117.8h0M313.2,97.8h0M313.7,94.1h0M314.1,98.4h0M314.6,100.5h0M315.1,95.2h0M315.6,95.7h0M316.1,108.9h0M316.6,104.9h0M317.1,127.7h0M317.6,107.3h0M318.1,90.3h0M318.6,91.1h0M319.1,97.5h0M319.6,88.6h0M320.1,78.1h0M320.6,98.2h0M321.1,97.6h0M321.6,98.3h0M322.1,103.4h0M322.5,92.5h0M323,91.6h0M323.5,87.3h0M324,92.7h0M324.5,89.1h0M325,82.2h0M325.5,91.2h0M326,109h0M326.5,92.2h0M327,89.2h0M327.5,89.1h0M328,92.1h0M328.5,101.1h0M329,88.8h0M329.5,97.4h0M330,83.2h0M330.5,92.1h0M330.9,91.2h0M331.4,95.2h0M331.9,91.6h0M332.4,90.4h0M332.9,96.3h0M333.4,79h0M333.9,83.3h0M334.4,82.3h0M334.9,80.9h0M335.4,89.5h0M335.9,87.4h0M336.4,95.9h0M336.9,88.4h0M337.4,91h0M337.9,88h0M338.4,89.4h0M338.9,94.3h0M339.3,84.6h0M339.8,79.4h0M340.3,72.6h0M340.8,91.1h0M341.3,76.7h0M341.8,94.8h0M342.3,99.8h0M342.8,90.9h0M343.3,104.7h0M343.8,84h0M344.3,82.4h0M344.8,88.3h0M345.3,83.7h0M345.8,76.8h0M346.3,94.2h0M346.8,92.9h0M347.2,83.2h0M347.7,90.7h0M348.2,92.6h0M348.7,87.2h0M349.2,84.7h0M349.7,94.3h0M350.2,92.4h0M350.7,88.5h0M351.2,90.3h0M351.7,84h0M352.2,86.6h0M352.7,82.4h0M353.2,103.5h0M353.7,91.2h0M354.2,79.4h0M354.7,74h0M355.2,72.2h0M355.6,78.2h0M356.1,91h0M356.6,83.3h0M357.1,78.5h0M357.6,87.5h0M358.1,90.4h0M358.6,89.9h0M359.1,80.6h0M359.6,74.7h0M360.1,83h0M360.6,72.1h0M361.1,84.8h0M361.6,86.1h0M362.1,83.2h0M362.6,80.2h0M363.1,85.9h0M363.5,70.5h0M364,74.7h0M364.5,80.6h0M365,84.4h0M365.5,82.2h0M366,101.7h0M366.5,79.6h0M367,92.6h0M367.5,78.8h0M368,67.5h0M368.5,79.6h0M369,70.2h0M369.5,82.6h0M370,81h0M370.5,61.2h0M371,71.1h0M371.5,83.9h0M371.9,79.1h0M372.4,82.5h0M372.9,84.6h0M373.4,88.3h0M373.9,98.1h0M374.4,82.8h0M374.9,80.5h0M375.4,77.8h0M375.9,81h0M376.4,76.8h0M376.9,73.5h0M377.4,76h0M377.9,56.9h0M378.4,74.3h0M378.9,76.7h0M379.4,79.7h0M379.9,81.3h0M380.3,67.7h0M380.8,78.5h0M381.3,69.7h0M381.8,90.4h0M382.3,102.3h0M382.8,73.5h0M383.3,80.7h0M383.8,69.1h0M384.3,81h0M384.8,77.7h0M385.3,88.1h0M385.8,81.1h0M386.3,72.8h0M386.8,66.6h0M387.3,78.6h0M387.8,94.7h0M388.2,79.4h0M388.7,83.8h0M389.2,72.9h0M389.7,83.2h0M390.2,85h0M390.7,79.9h0M391.2,76.4h0M391.7,77.8h0M392.2,76.1h0M392.7,78.5h0M393.2,90.3h0M393.7,91.9h0M394.2,79h0M394.7,85h0M395.2,71.4h0M395.7,73h0M396.2,69.7h0M396.6,75.1h0M397.1,80.2h0M397.6,78.3h0M398.1,79.6h0M398.6,67.9h0M399.1,79.9h0M399.6,78.4h0M400.1,73.1h0M400.6,70.6h0M401.1,74.3h0M401.6,59.9h0M402.1,63.5h0M402.6,71.2h0M403.1,76.9h0M403.6,70.6h0M404.1,72.2h0M404.6,85.5h0M405,49.3h0M405.5,66.4h0M406,75.1h0M406.5,78.9h0M407,58.4h0M407.5,70h0M408,66.9h0M408.5,72.2h0M409,68.6h0M409.5,75.3h0M410,66.4h0M410.5,74.2h0M411,68.6h0M411.5,80.7h0M412,62h0M412.5,69h0M413,65.1h0M413.4,74.1h0M413.9,60.3h0M414.4,70.7h0M414.9,65.7h0M415.4,80.8h0M415.9,76.3h0M416.4,54.1h0M416.9,65.2h0M417.4,77h0M417.9,69.1h0M418.4,72.8h0M418.9,66h0M419.4,69.1h0M419.9,64h0M420.4,62.1h0M420.9,92.8h0M421.3,66.8h0M421.8,76.3h0M422.3,94.8h0M422.8,61.7h0M423.3,77.4h0M423.8,73.3h0M424.3,78.4h0M424.8,61.1h0M425.3,61.5h0M425.8,73.5h0M426.3,64.9h0M426.8,67.6h0M427.3,92.2h0M427.8,54.7h0M428.3,62.9h0M428.8,67h0M429.3,73h0M429.7,66.1h0M430.2,64.3h0M430.7,58h0M431.2,72.8h0M431.7,78h0M432.2,66.1h0M432.7,90.9h0M433.2,75.2h0M433.7,69.8h0M434.2,74.3h0M434.7,71.2h0M435.2,65.9h0M435.7,34.4h0M436.2,69h0M436.7,99.4h0M437.2,49.7h0M437.6,57.6h0M438.1,53.6h0M438.6,69.4h0M439.1,58.1h0M439.6,63.9h0M440.1,95.8h0M440.6,77.1h0M441.1,64.9h0M441.6,57.3h0M442.1,66.1h0M442.6,59.8h0M443.1,72.8h0M443.6,71.1h0M444.1,55.6h0M444.6,59.8h0M445.1,70h0M445.6,43.3h0M446,75.5h0M446.5,60.7h0M447,74.5h0M447.5,67.5h0M448,69.7h0M448.5,64.6h0M449,59.1h0M449.5,53h0M450,51.9h0M450.5,29.7h0M451,81.8h0M451.5,68.4h0M452,49.4h0M452.5,51.1h0M453,65.7h0M453.5,72.4h0M454,64.9h0M454.4,66.6h0M454.9,65.4h0M455.4,67.9h0M455.9,69.1h0M456.4,50.2h0M456.9,60.3h0M457.4,70.7h0M457.9,71.4h0M458.4,77h0M458.9,60.1h0M459.4,65.2h0M459.9,85.8h0M460.4,69.2h0M460.9,58.1h0M461.4,62.8h0M461.9,48.3h0M462.4,58.1h0M462.8,54.5h0M463.3,63.1h0M463.8,71.7h0M464.3,55.3h0M464.8,61.8h0M465.3,51h0M465.8,62.1h0M466.3,60.5h0M466.8,48.1h0M467.3,87.5h0M467.8,60.8h0M468.3,56.8h0M468.8,66.7h0M469.3,58.9h0M469.8,62h0M470.3,46.4h0M470.7,52.5h0M471.2,63.4h0M471.7,65.2h0M472.2,68.6h0M472.7,74.8h0M473.2,68.3h0M473.7,62.2h0M474.2,53h0M474.7,66.5h0M475.2,39h0M475.7,53.7h0M476.2,58.8h0M476.7,57h0M477.2,82.8h0M477.7,59.5h0M478.2,61.4h0M478.7,51.5h0M479.1,52.2h0M479.6,63.7h0M480.1,75.6h0M480.6,59.8h0M481.1,70.6h0M481.6,56.9h0M482.1,68.9h0M482.6,60.4h0M483.1,55h0M483.6,75.4h0M484.1,61.5h0M484.6,62.4h0M485.1,58.8h0M485.6,48.6h0M486.1,53.9h0M486.6,57.7h0M487,65.7h0M487.5,58.2h0M488,51.9h0M488.5,53.7h0M489,71.8h0M489.5,58.9h0M490,60.9h0M490.5,68.1h0M491,62.6h0M491.5,57.6h0M492,59.4h0M492.5,46.6h0M493,47.4h0M493.5,57.1h0M494,72.7h0M494.5,49.9h0M495,57.4h0M495.4,60.8h0M495.9,52.3h0M496.4,56.7h0M496.9,49.7h0M497.4,42.5h0M497.9,67.3h0M498.4,61.8h0M498.9,54.7h0M499.4,61.3h0M499.9,56.1h0M500.4,48.2h0M500.9,40.6h0M501.4,47.4h0M501.9,63.3h0M502.4,61.6h0M502.9,59.4h0M503.4,53.7h0M503.8,55.2h0M504.3,61.4h0M504.8,76.9h0M505.3,59.5h0M505.8,62.7h0M506.3,46.2h0M506.8,55.3h0M507.3,61.7h0M507.8,37.5h0M508.3,52.8h0M508.8,46h0M509.3,64.5h0M509.8,56.2h0M510.3,64.9h0M510.8,87.9h0M511.3,54.3h0M511.8,73.6h0M512.2,57.9h0M512.7,55.3h0M513.2,55.2h0M513.7,48.6h0M514.2,51.1h0M514.7,55.8h0M515.2,57.4h0M515.7,37.6h0M516.2,60.8h0M516.7,68.2h0M517.2,57h0M517.7,56.2h0M518.2,46.2h0M518.7,39.1h0M519.2,74.5h0M519.7,71.5h0M520.1,63.9h0M520.6,42.3h0M521.1,48.8h0M521.6,55.7h0M522.1,57.3h0M522.6,45h0M523.1,53.8h0M523.6,44.8h0M524.1,79.8h0M524.6,57.1h0M525.1,50.4h0M525.6,58.5h0M526.1,48.3h0M526.6,59.9h0M527.1,48.5h0M527.6,70.1h0M528.1,56h0M528.5,55.3h0M529,58.9h0M529.5,50.5h0M530,60.2h0M530.5,35.2h0M531,52.5h0M531.5,71.2h0M532,56.1h0M532.5,62.9h0M533,52.9h0M533.5,41.1h0M534,51.7h0M534.5,63.2h0M535,54h0M535.5,54.7h0M536,66.1h0M536.5,57.3h0M536.9,78.7h0M537.4,58.3h0M537.9,45.5h0M538.4,63.3h0M538.9,60.7h0M539.4,44.2h0M539.9,45h0M540.4,49.7h0M540.9,55.2h0M541.4,53.1h0M541.9,36.2h0M542.4,58.1h0M542.9,54.1h0M543.4,58h0M543.9,64.1h0M544.4,49.6h0M544.8,56.8h0M545.3,34.8h0M545.8,40.6h0M546.3,51.9h0M546.8,55.7h0M547.3,60.1h0M547.8,65.2h0M548.3,61.5h0M548.8,50.1h0M549.3,43.1h0M549.8,55.3h0M550.3,74.2h0M550.8,51.3h0M551.3,56.8h0M551.8,52.1h0M552.3,56.7h0M552.8,44.4h0M553.2,56.7h0M553.7,54.2h0M554.2,55.9h0M554.7,49.1h0M555.2,37.1h0M555.7,44.7h0M556.2,51.5h0M556.7,51.7h0M557.2,54.3h0M557.7,56.7h0M558.2,42.3h0M558.7,47.3h0M559.2,53h0M559.7,51.3h0M560.2,53.3h0M560.7,53.5h0M561.1,38.9h0M561.6,54.1h0M562.1,46.7h0M562.6,39.3h0M563.1,32h0M563.6,51.4h0M564.1,59.3h0M564.6,58.1h0M565.1,50.7h0M565.6,41.2h0M566.1,55.5h0M566.6,49.1h0M567.1,37.3h0M567.6,68.9h0M568.1,45.2h0M568.6,39.4h0M569.1,50.4h0M569.5,36.6h0M570,41.1h0M570.5,51.4h0M571,53.4h0M571.5,68.5h0M572,34.7h0M572.5,43.5h0M573,47.4h0M573.5,51.1h0" fill="none" stroke="#0072bd" stroke-width="2.05" stroke-linecap="round"/>
<path d="M79.5,379V6.5H573.5V379M79.5,337.4h5M573.5,337.4h-5M79.5,296h5M573.5,296h-5M79.5,254.6h5M573.5,254.6h-5M79.5,213.2h5M573.5,213.2h-5M79.5,171.9h5M573.5,171.9h-5M79.5,130.5h5M573.5,130.5h-5M79.5,89.1h5M573.5,89.1h-5M79.5,47.7h5M573.5,47.7h-5M178.3,6.5v5M277.1,6.5v5M375.9,6.5v5M474.7,6.5v5" stroke="#5a5a5a" stroke-width="1" fill="none"/>
<path d="M79.0,379H574.0" stroke="#8a8a8a" stroke-width="1.6" fill="none"/>
<path d="M79.5,379v-5M178.3,379v-5M277.1,379v-5M375.9,379v-5M474.7,379v-5M573.5,379v-5" stroke="#5a5a5a" stroke-width="1" fill="none"/>
<g font-size="18" fill="#262626">
<text transform="translate(74,386) scale(1,1.045)" text-anchor="end">-20</text>
<text transform="translate(74,344.6) scale(1,1.045)" text-anchor="end">0</text>
<text transform="translate(74,303.2) scale(1,1.045)" text-anchor="end">20</text>
<text transform="translate(74,261.8) scale(1,1.045)" text-anchor="end">40</text>
<text transform="translate(74,220.4) scale(1,1.045)" text-anchor="end">60</text>
<text transform="translate(74,179.1) scale(1,1.045)" text-anchor="end">80</text>
<text transform="translate(74,137.7) scale(1,1.045)" text-anchor="end">100</text>
<text transform="translate(74,96.3) scale(1,1.045)" text-anchor="end">120</text>
<text transform="translate(74,54.9) scale(1,1.045)" text-anchor="end">140</text>
<text transform="translate(74,13.5) scale(1,1.045)" text-anchor="end">160</text>
<text transform="translate(79.5,403.4) scale(1,1.045)" text-anchor="middle">0</text>
<text transform="translate(178.3,403.4) scale(1,1.045)" text-anchor="middle">200</text>
<text transform="translate(277.1,403.4) scale(1,1.045)" text-anchor="middle">400</text>
<text transform="translate(375.9,403.4) scale(1,1.045)" text-anchor="middle">600</text>
<text transform="translate(474.7,403.4) scale(1,1.045)" text-anchor="middle">800</text>
<text transform="translate(573.5,403.4) scale(1,1.045)" text-anchor="middle">1000</text>
</g>
<text x="326.5" y="428.2" font-size="20" font-weight="bold" fill="#262626" text-anchor="middle">Episodes</text>
<text transform="translate(36.8,192.4) rotate(-90)" font-size="20" font-weight="bold" fill="#262626" text-anchor="middle">Reward</text>
<rect x="419.8" y="289.4" width="147.6" height="82.6" fill="#fff" stroke="#555" stroke-width="1"/>
<rect x="422.1" y="294" width="24" height="14" fill="#bbd698"/>
<path d="M422.1,321.3h24" stroke="#77ac30" stroke-width="2.1"/>
<rect x="422.1" y="334.4" width="24" height="14" fill="#80b9de"/>
<path d="M422.1,361.6h24" stroke="#0072bd" stroke-width="2.1"/>
<g font-size="15.8" fill="#000">
<text x="448.2" y="307.2">MCPPO <tspan x="509.7" y="308.0" font-family="'DejaVu Sans Light','DejaVu Sans',sans-serif" font-weight="200" font-size="16.6" stroke="#000" stroke-width="0.45">±</tspan> <tspan x="527.2" y="307.2">std</tspan></text>
<text x="448.2" y="327.0">MCPPO mean</text>
<text x="448.2" y="347.8">MA-CSAC <tspan x="523.5" y="348.6" font-family="'DejaVu Sans Light','DejaVu Sans',sans-serif" font-weight="200" font-size="16.6" stroke="#000" stroke-width="0.45">±</tspan> <tspan x="541.0" y="347.8">std</tspan></text>
<text x="448.2" y="367.6">MA-CSAC mean</text>
</g>
</g>
<text x="302.7" y="465" font-family="'Liberation Serif', 'Times New Roman', serif" font-weight="bold" font-size="28" text-anchor="middle" fill="#000">(a)</text>
<g id="chart-b">
<path d="M222.6,484.5V857.5M386.7,484.5V857.5" stroke="#d0d0d0" stroke-width="1" fill="none"/>
<path d="M58.5,815.5H550.8M58.5,738.9H550.8M58.5,662.4H550.8M58.5,585.9H550.8M58.5,509.4H550.8" stroke="#f9dcd0" stroke-width="1" fill="none"/>
<path d="M91,510.9 123.8,633.1 156.6,720.8 189.4,773.1 222.5,805.8 255.3,821.7 288.1,828.8 320.9,835.4 353.7,839.2 386.5,841.4 419.4,844.4 452.2,844.8 485,846 517.8,846.2 550.6,847.8" fill="none" stroke="#d95319" stroke-width="5.3" stroke-linejoin="round"/>
<path d="M84.9,504.8h12.1v12.1h-12.1zM117.8,627.1h12.1v12.1h-12.1zM150.5,714.8h12.1v12.1h-12.1zM183.3,767.1h12.1v12.1h-12.1zM216.4,799.8h12.1v12.1h-12.1zM249.2,815.7h12.1v12.1h-12.1zM282.1,822.8h12.1v12.1h-12.1zM314.8,829.4h12.1v12.1h-12.1zM347.6,833.2h12.1v12.1h-12.1zM380.4,835.4h12.1v12.1h-12.1zM413.3,838.4h12.1v12.1h-12.1zM446.1,838.8h12.1v12.1h-12.1zM478.9,840h12.1v12.1h-12.1zM511.7,840.2h12.1v12.1h-12.1z" fill="#d95319"/>
<rect x="89.7" y="509.8" width="2.4" height="1.1" fill="#fff" fill-opacity="0.9"/>
<path d="M91.3,795.4 124.1,745.3 157,656.8 189.8,598.4 222.6,564.2 255.4,545.5 288.2,535 321.1,528.9 353.9,525 386.7,522.5 419.5,520.8 452.3,519.3 485.2,518.2 518,517.6 550.8,517.1" fill="none" stroke="#7e2f8e" stroke-width="3.8" stroke-linejoin="round"/>
<path d="M58.5,518.3H550.8" stroke="#333" stroke-width="1.6" stroke-dasharray="5.7 5.6" fill="none"/>
<path d="M58.5,484.5H550.8M58.5,857.5H550.8M58.5,857.5v-5M58.5,484.5v5M222.6,857.5v-5M222.6,484.5v5M386.7,857.5v-5M386.7,484.5v5M550.8,857.5v-5M550.8,484.5v5" stroke="#5a5a5a" stroke-width="1" fill="none"/>
<path d="M58.5,484.5V857.5M58.5,815.5h5M58.5,738.9h5M58.5,662.4h5M58.5,585.9h5M58.5,509.4h5" stroke="#d95319" stroke-opacity="0.7" stroke-width="1.1" fill="none"/>
<path d="M550.8,484.5V857.5M550.8,857.5h-5M550.8,789.7h-5M550.8,721.9h-5M550.8,654h-5M550.8,586.2h-5M550.8,518.4h-5" stroke="#7e2f8e" stroke-opacity="0.7" stroke-width="1.2" fill="none"/>
<g font-size="18" fill="#d95319">
<text transform="translate(53,822.7) scale(1,1.045)" text-anchor="end">150</text>
<text transform="translate(53,746.1) scale(1,1.045)" text-anchor="end">200</text>
<text transform="translate(53,669.6) scale(1,1.045)" text-anchor="end">250</text>
<text transform="translate(53,593.1) scale(1,1.045)" text-anchor="end">300</text>
<text transform="translate(53,516.6) scale(1,1.045)" text-anchor="end">350</text>
</g>
<g font-size="18" fill="#7e2f8e">
<text transform="translate(555.8,865.3) scale(1,1.045)" text-anchor="start">0</text>
<text transform="translate(555.8,797.5) scale(1,1.045)" text-anchor="start">20</text>
<text transform="translate(555.8,729.7) scale(1,1.045)" text-anchor="start">40</text>
<text transform="translate(555.8,661.8) scale(1,1.045)" text-anchor="start">60</text>
<text transform="translate(555.8,594) scale(1,1.045)" text-anchor="start">80</text>
<text transform="translate(555.8,526.2) scale(1,1.045)" text-anchor="start">100</text>
</g>
<g font-size="18" fill="#000">
<text transform="translate(59.1,882.4) scale(1,1.045)" text-anchor="middle">0</text>
<text transform="translate(223.2,882.4) scale(1,1.045)" text-anchor="middle">5</text>
<text transform="translate(387.3,882.4) scale(1,1.045)" text-anchor="middle">10</text>
<text transform="translate(551.4,882.4) scale(1,1.045)" text-anchor="middle">15</text>
</g>
<text x="304.4" y="907.6" font-size="20" font-weight="bold" fill="#000" text-anchor="middle">BCD Iteration</text>
<text transform="translate(15.2,670.7) rotate(-90)" font-size="20" font-weight="bold" fill="#d95319" text-anchor="middle">BCD-SCA</text>
<text transform="translate(608.6,670.7) rotate(-90)" font-size="20" font-weight="bold" fill="#7e2f8e" text-anchor="middle">Relative Improvement (%)</text>
<text x="363.1" y="511.6" font-size="18.15" font-weight="bold" fill="#000">Asymptotic Optimum</text>
<rect x="330.4" y="649.4" width="214.2" height="42.8" fill="#fff" stroke="#555" stroke-width="1"/>
<path d="M333.2,660.8h23.6" stroke="#d95319" stroke-width="5.3"/>
<rect x="338.9" y="654.8" width="12" height="12" fill="#d95319"/>
<path d="M333.2,680.9h23.6" stroke="#7e2f8e" stroke-width="3.8"/>
<g font-size="16" fill="#000">
<text x="359.0" y="666.6" font-size="15.6">BCD-SCA</text>
<text x="358.8" y="686.8">Relative Improvement (%)</text>
</g>
</g>
<text x="302.7" y="940" font-family="'Liberation Serif', 'Times New Roman', serif" font-weight="bold" font-size="28" text-anchor="middle" fill="#000">(b)</text>
</svg>
</body></html>
